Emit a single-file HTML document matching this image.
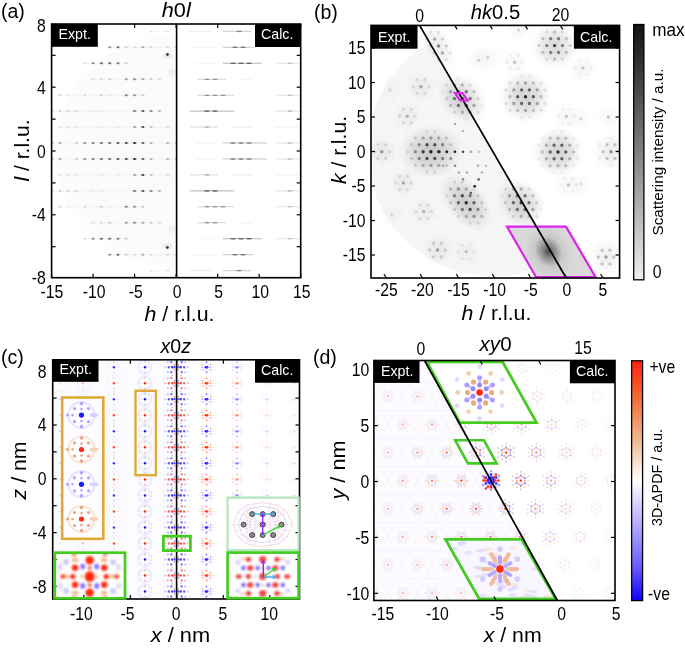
<!DOCTYPE html>
<html><head><meta charset="utf-8"><style>
html,body{margin:0;padding:0;background:#fff;}
svg{display:block;font-family:"Liberation Sans", sans-serif;will-change:transform;}
</style></head><body>
<svg width="685" height="649" viewBox="0 0 685 649">
<rect x="0" y="0" width="685" height="649" fill="#fff"/>
<clipPath id="ca"><rect x="51.6" y="24.0" width="249.1" height="253.7"/></clipPath>
<clipPath id="caL"><rect x="51.6" y="24.0" width="125.0" height="253.7"/></clipPath>
<g clip-path="url(#caL)">
<defs><radialGradient id="gda" cx="0.5" cy="0.5" r="0.5"><stop offset="0" stop-color="#fafafa"/><stop offset="0.93" stop-color="#fbfbfb"/><stop offset="1" stop-color="#fdfdfd"/></radialGradient></defs>
<ellipse cx="176.6" cy="151" rx="123" ry="117" fill="url(#gda)"/>
<line x1="106.7" y1="47.3" x2="179.2" y2="47.3" stroke="#000" stroke-opacity="0.03" stroke-width="1.2"/>
<ellipse cx="109.7" cy="47.3" rx="2.4" ry="1.2" fill="#000" fill-opacity="0.10"/>
<ellipse cx="109.7" cy="47.3" rx="1.2" ry="1.0" fill="#000" fill-opacity="0.36"/>
<ellipse cx="118.0" cy="47.3" rx="2.4" ry="1.2" fill="#000" fill-opacity="0.14"/>
<ellipse cx="118.0" cy="47.3" rx="1.2" ry="1.0" fill="#000" fill-opacity="0.50"/>
<ellipse cx="126.3" cy="47.3" rx="2.4" ry="1.2" fill="#000" fill-opacity="0.04"/>
<ellipse cx="126.3" cy="47.3" rx="1.2" ry="1.0" fill="#000" fill-opacity="0.14"/>
<ellipse cx="134.6" cy="47.3" rx="2.4" ry="1.2" fill="#000" fill-opacity="0.03"/>
<ellipse cx="134.6" cy="47.3" rx="1.2" ry="1.0" fill="#000" fill-opacity="0.09"/>
<ellipse cx="142.9" cy="47.3" rx="2.4" ry="1.2" fill="#000" fill-opacity="0.07"/>
<ellipse cx="142.9" cy="47.3" rx="1.2" ry="1.0" fill="#000" fill-opacity="0.27"/>
<ellipse cx="151.2" cy="47.3" rx="2.4" ry="1.2" fill="#000" fill-opacity="0.03"/>
<ellipse cx="151.2" cy="47.3" rx="1.2" ry="1.0" fill="#000" fill-opacity="0.09"/>
<ellipse cx="167.8" cy="47.3" rx="2.4" ry="1.2" fill="#000" fill-opacity="0.03"/>
<ellipse cx="167.8" cy="47.3" rx="1.2" ry="1.0" fill="#000" fill-opacity="0.11"/>
<ellipse cx="176.2" cy="47.3" rx="2.4" ry="1.2" fill="#000" fill-opacity="0.03"/>
<ellipse cx="176.2" cy="47.3" rx="1.2" ry="1.0" fill="#000" fill-opacity="0.09"/>
<line x1="106.7" y1="254.7" x2="179.2" y2="254.7" stroke="#000" stroke-opacity="0.03" stroke-width="1.2"/>
<ellipse cx="109.7" cy="254.7" rx="2.4" ry="1.2" fill="#000" fill-opacity="0.10"/>
<ellipse cx="109.7" cy="254.7" rx="1.2" ry="1.0" fill="#000" fill-opacity="0.36"/>
<ellipse cx="118.0" cy="254.7" rx="2.4" ry="1.2" fill="#000" fill-opacity="0.14"/>
<ellipse cx="118.0" cy="254.7" rx="1.2" ry="1.0" fill="#000" fill-opacity="0.50"/>
<ellipse cx="126.3" cy="254.7" rx="2.4" ry="1.2" fill="#000" fill-opacity="0.04"/>
<ellipse cx="126.3" cy="254.7" rx="1.2" ry="1.0" fill="#000" fill-opacity="0.14"/>
<ellipse cx="134.6" cy="254.7" rx="2.4" ry="1.2" fill="#000" fill-opacity="0.03"/>
<ellipse cx="134.6" cy="254.7" rx="1.2" ry="1.0" fill="#000" fill-opacity="0.09"/>
<ellipse cx="142.9" cy="254.7" rx="2.4" ry="1.2" fill="#000" fill-opacity="0.07"/>
<ellipse cx="142.9" cy="254.7" rx="1.2" ry="1.0" fill="#000" fill-opacity="0.27"/>
<ellipse cx="151.2" cy="254.7" rx="2.4" ry="1.2" fill="#000" fill-opacity="0.03"/>
<ellipse cx="151.2" cy="254.7" rx="1.2" ry="1.0" fill="#000" fill-opacity="0.09"/>
<ellipse cx="167.8" cy="254.7" rx="2.4" ry="1.2" fill="#000" fill-opacity="0.03"/>
<ellipse cx="167.8" cy="254.7" rx="1.2" ry="1.0" fill="#000" fill-opacity="0.11"/>
<ellipse cx="176.2" cy="254.7" rx="2.4" ry="1.2" fill="#000" fill-opacity="0.03"/>
<ellipse cx="176.2" cy="254.7" rx="1.2" ry="1.0" fill="#000" fill-opacity="0.09"/>
<line x1="81.8" y1="63.3" x2="129.3" y2="63.3" stroke="#000" stroke-opacity="0.03" stroke-width="1.2"/>
<ellipse cx="84.8" cy="63.3" rx="2.4" ry="1.2" fill="#000" fill-opacity="0.03"/>
<ellipse cx="84.8" cy="63.3" rx="1.2" ry="1.0" fill="#000" fill-opacity="0.09"/>
<ellipse cx="93.1" cy="63.3" rx="2.4" ry="1.2" fill="#000" fill-opacity="0.11"/>
<ellipse cx="93.1" cy="63.3" rx="1.2" ry="1.0" fill="#000" fill-opacity="0.41"/>
<ellipse cx="101.4" cy="63.3" rx="2.4" ry="1.2" fill="#000" fill-opacity="0.15"/>
<ellipse cx="101.4" cy="63.3" rx="1.2" ry="1.0" fill="#000" fill-opacity="0.54"/>
<ellipse cx="109.7" cy="63.3" rx="2.4" ry="1.2" fill="#000" fill-opacity="0.14"/>
<ellipse cx="109.7" cy="63.3" rx="1.2" ry="1.0" fill="#000" fill-opacity="0.50"/>
<ellipse cx="118.0" cy="63.3" rx="2.4" ry="1.2" fill="#000" fill-opacity="0.12"/>
<ellipse cx="118.0" cy="63.3" rx="1.2" ry="1.0" fill="#000" fill-opacity="0.45"/>
<ellipse cx="126.3" cy="63.3" rx="2.4" ry="1.2" fill="#000" fill-opacity="0.04"/>
<ellipse cx="126.3" cy="63.3" rx="1.2" ry="1.0" fill="#000" fill-opacity="0.14"/>
<line x1="81.8" y1="238.7" x2="129.3" y2="238.7" stroke="#000" stroke-opacity="0.03" stroke-width="1.2"/>
<ellipse cx="84.8" cy="238.7" rx="2.4" ry="1.2" fill="#000" fill-opacity="0.03"/>
<ellipse cx="84.8" cy="238.7" rx="1.2" ry="1.0" fill="#000" fill-opacity="0.09"/>
<ellipse cx="93.1" cy="238.7" rx="2.4" ry="1.2" fill="#000" fill-opacity="0.11"/>
<ellipse cx="93.1" cy="238.7" rx="1.2" ry="1.0" fill="#000" fill-opacity="0.41"/>
<ellipse cx="101.4" cy="238.7" rx="2.4" ry="1.2" fill="#000" fill-opacity="0.15"/>
<ellipse cx="101.4" cy="238.7" rx="1.2" ry="1.0" fill="#000" fill-opacity="0.54"/>
<ellipse cx="109.7" cy="238.7" rx="2.4" ry="1.2" fill="#000" fill-opacity="0.14"/>
<ellipse cx="109.7" cy="238.7" rx="1.2" ry="1.0" fill="#000" fill-opacity="0.50"/>
<ellipse cx="118.0" cy="238.7" rx="2.4" ry="1.2" fill="#000" fill-opacity="0.12"/>
<ellipse cx="118.0" cy="238.7" rx="1.2" ry="1.0" fill="#000" fill-opacity="0.45"/>
<ellipse cx="126.3" cy="238.7" rx="2.4" ry="1.2" fill="#000" fill-opacity="0.04"/>
<ellipse cx="126.3" cy="238.7" rx="1.2" ry="1.0" fill="#000" fill-opacity="0.14"/>
<line x1="90.1" y1="79.2" x2="162.5" y2="79.2" stroke="#000" stroke-opacity="0.03" stroke-width="1.2"/>
<ellipse cx="93.1" cy="79.2" rx="2.4" ry="1.2" fill="#000" fill-opacity="0.02"/>
<ellipse cx="93.1" cy="79.2" rx="1.2" ry="1.0" fill="#000" fill-opacity="0.07"/>
<ellipse cx="101.4" cy="79.2" rx="2.4" ry="1.2" fill="#000" fill-opacity="0.03"/>
<ellipse cx="101.4" cy="79.2" rx="1.2" ry="1.0" fill="#000" fill-opacity="0.11"/>
<ellipse cx="109.7" cy="79.2" rx="2.4" ry="1.2" fill="#000" fill-opacity="0.04"/>
<ellipse cx="109.7" cy="79.2" rx="1.2" ry="1.0" fill="#000" fill-opacity="0.14"/>
<ellipse cx="126.3" cy="79.2" rx="2.4" ry="1.2" fill="#000" fill-opacity="0.09"/>
<ellipse cx="126.3" cy="79.2" rx="1.2" ry="1.0" fill="#000" fill-opacity="0.32"/>
<ellipse cx="134.6" cy="79.2" rx="2.4" ry="1.2" fill="#000" fill-opacity="0.11"/>
<ellipse cx="134.6" cy="79.2" rx="1.2" ry="1.0" fill="#000" fill-opacity="0.41"/>
<ellipse cx="142.9" cy="79.2" rx="2.4" ry="1.2" fill="#000" fill-opacity="0.07"/>
<ellipse cx="142.9" cy="79.2" rx="1.2" ry="1.0" fill="#000" fill-opacity="0.27"/>
<ellipse cx="151.2" cy="79.2" rx="2.4" ry="1.2" fill="#000" fill-opacity="0.04"/>
<ellipse cx="151.2" cy="79.2" rx="1.2" ry="1.0" fill="#000" fill-opacity="0.14"/>
<ellipse cx="159.5" cy="79.2" rx="2.4" ry="1.2" fill="#000" fill-opacity="0.03"/>
<ellipse cx="159.5" cy="79.2" rx="1.2" ry="1.0" fill="#000" fill-opacity="0.09"/>
<line x1="90.1" y1="222.8" x2="162.5" y2="222.8" stroke="#000" stroke-opacity="0.03" stroke-width="1.2"/>
<ellipse cx="93.1" cy="222.8" rx="2.4" ry="1.2" fill="#000" fill-opacity="0.02"/>
<ellipse cx="93.1" cy="222.8" rx="1.2" ry="1.0" fill="#000" fill-opacity="0.07"/>
<ellipse cx="101.4" cy="222.8" rx="2.4" ry="1.2" fill="#000" fill-opacity="0.03"/>
<ellipse cx="101.4" cy="222.8" rx="1.2" ry="1.0" fill="#000" fill-opacity="0.11"/>
<ellipse cx="109.7" cy="222.8" rx="2.4" ry="1.2" fill="#000" fill-opacity="0.04"/>
<ellipse cx="109.7" cy="222.8" rx="1.2" ry="1.0" fill="#000" fill-opacity="0.14"/>
<ellipse cx="126.3" cy="222.8" rx="2.4" ry="1.2" fill="#000" fill-opacity="0.09"/>
<ellipse cx="126.3" cy="222.8" rx="1.2" ry="1.0" fill="#000" fill-opacity="0.32"/>
<ellipse cx="134.6" cy="222.8" rx="2.4" ry="1.2" fill="#000" fill-opacity="0.11"/>
<ellipse cx="134.6" cy="222.8" rx="1.2" ry="1.0" fill="#000" fill-opacity="0.41"/>
<ellipse cx="142.9" cy="222.8" rx="2.4" ry="1.2" fill="#000" fill-opacity="0.07"/>
<ellipse cx="142.9" cy="222.8" rx="1.2" ry="1.0" fill="#000" fill-opacity="0.27"/>
<ellipse cx="151.2" cy="222.8" rx="2.4" ry="1.2" fill="#000" fill-opacity="0.04"/>
<ellipse cx="151.2" cy="222.8" rx="1.2" ry="1.0" fill="#000" fill-opacity="0.14"/>
<ellipse cx="159.5" cy="222.8" rx="2.4" ry="1.2" fill="#000" fill-opacity="0.03"/>
<ellipse cx="159.5" cy="222.8" rx="1.2" ry="1.0" fill="#000" fill-opacity="0.09"/>
<line x1="56.9" y1="95.2" x2="145.9" y2="95.2" stroke="#000" stroke-opacity="0.03" stroke-width="1.2"/>
<ellipse cx="59.9" cy="95.2" rx="2.4" ry="1.2" fill="#000" fill-opacity="0.03"/>
<ellipse cx="59.9" cy="95.2" rx="1.2" ry="1.0" fill="#000" fill-opacity="0.11"/>
<ellipse cx="68.2" cy="95.2" rx="2.4" ry="1.2" fill="#000" fill-opacity="0.01"/>
<ellipse cx="68.2" cy="95.2" rx="1.2" ry="1.0" fill="#000" fill-opacity="0.05"/>
<ellipse cx="84.8" cy="95.2" rx="2.4" ry="1.2" fill="#000" fill-opacity="0.03"/>
<ellipse cx="84.8" cy="95.2" rx="1.2" ry="1.0" fill="#000" fill-opacity="0.09"/>
<ellipse cx="101.4" cy="95.2" rx="2.4" ry="1.2" fill="#000" fill-opacity="0.04"/>
<ellipse cx="101.4" cy="95.2" rx="1.2" ry="1.0" fill="#000" fill-opacity="0.14"/>
<ellipse cx="109.7" cy="95.2" rx="2.4" ry="1.2" fill="#000" fill-opacity="0.01"/>
<ellipse cx="109.7" cy="95.2" rx="1.2" ry="1.0" fill="#000" fill-opacity="0.05"/>
<ellipse cx="126.3" cy="95.2" rx="2.4" ry="1.2" fill="#000" fill-opacity="0.12"/>
<ellipse cx="126.3" cy="95.2" rx="1.2" ry="1.0" fill="#000" fill-opacity="0.45"/>
<ellipse cx="134.6" cy="95.2" rx="2.4" ry="1.2" fill="#000" fill-opacity="0.10"/>
<ellipse cx="134.6" cy="95.2" rx="1.2" ry="1.0" fill="#000" fill-opacity="0.36"/>
<ellipse cx="142.9" cy="95.2" rx="2.4" ry="1.2" fill="#000" fill-opacity="0.04"/>
<ellipse cx="142.9" cy="95.2" rx="1.2" ry="1.0" fill="#000" fill-opacity="0.14"/>
<line x1="56.9" y1="206.8" x2="145.9" y2="206.8" stroke="#000" stroke-opacity="0.03" stroke-width="1.2"/>
<ellipse cx="59.9" cy="206.8" rx="2.4" ry="1.2" fill="#000" fill-opacity="0.03"/>
<ellipse cx="59.9" cy="206.8" rx="1.2" ry="1.0" fill="#000" fill-opacity="0.11"/>
<ellipse cx="68.2" cy="206.8" rx="2.4" ry="1.2" fill="#000" fill-opacity="0.01"/>
<ellipse cx="68.2" cy="206.8" rx="1.2" ry="1.0" fill="#000" fill-opacity="0.05"/>
<ellipse cx="84.8" cy="206.8" rx="2.4" ry="1.2" fill="#000" fill-opacity="0.03"/>
<ellipse cx="84.8" cy="206.8" rx="1.2" ry="1.0" fill="#000" fill-opacity="0.09"/>
<ellipse cx="101.4" cy="206.8" rx="2.4" ry="1.2" fill="#000" fill-opacity="0.04"/>
<ellipse cx="101.4" cy="206.8" rx="1.2" ry="1.0" fill="#000" fill-opacity="0.14"/>
<ellipse cx="109.7" cy="206.8" rx="2.4" ry="1.2" fill="#000" fill-opacity="0.01"/>
<ellipse cx="109.7" cy="206.8" rx="1.2" ry="1.0" fill="#000" fill-opacity="0.05"/>
<ellipse cx="126.3" cy="206.8" rx="2.4" ry="1.2" fill="#000" fill-opacity="0.12"/>
<ellipse cx="126.3" cy="206.8" rx="1.2" ry="1.0" fill="#000" fill-opacity="0.45"/>
<ellipse cx="134.6" cy="206.8" rx="2.4" ry="1.2" fill="#000" fill-opacity="0.10"/>
<ellipse cx="134.6" cy="206.8" rx="1.2" ry="1.0" fill="#000" fill-opacity="0.36"/>
<ellipse cx="142.9" cy="206.8" rx="2.4" ry="1.2" fill="#000" fill-opacity="0.04"/>
<ellipse cx="142.9" cy="206.8" rx="1.2" ry="1.0" fill="#000" fill-opacity="0.14"/>
<line x1="48.6" y1="111.1" x2="162.5" y2="111.1" stroke="#000" stroke-opacity="0.03" stroke-width="1.2"/>
<ellipse cx="51.6" cy="111.1" rx="2.4" ry="1.2" fill="#000" fill-opacity="0.05"/>
<ellipse cx="51.6" cy="111.1" rx="1.2" ry="1.0" fill="#000" fill-opacity="0.18"/>
<ellipse cx="59.9" cy="111.1" rx="2.4" ry="1.2" fill="#000" fill-opacity="0.04"/>
<ellipse cx="59.9" cy="111.1" rx="1.2" ry="1.0" fill="#000" fill-opacity="0.16"/>
<ellipse cx="68.2" cy="111.1" rx="2.4" ry="1.2" fill="#000" fill-opacity="0.03"/>
<ellipse cx="68.2" cy="111.1" rx="1.2" ry="1.0" fill="#000" fill-opacity="0.11"/>
<ellipse cx="76.5" cy="111.1" rx="2.4" ry="1.2" fill="#000" fill-opacity="0.03"/>
<ellipse cx="76.5" cy="111.1" rx="1.2" ry="1.0" fill="#000" fill-opacity="0.11"/>
<ellipse cx="93.1" cy="111.1" rx="2.4" ry="1.2" fill="#000" fill-opacity="0.01"/>
<ellipse cx="93.1" cy="111.1" rx="1.2" ry="1.0" fill="#000" fill-opacity="0.05"/>
<ellipse cx="101.4" cy="111.1" rx="2.4" ry="1.2" fill="#000" fill-opacity="0.01"/>
<ellipse cx="101.4" cy="111.1" rx="1.2" ry="1.0" fill="#000" fill-opacity="0.05"/>
<ellipse cx="134.6" cy="111.1" rx="2.4" ry="1.2" fill="#000" fill-opacity="0.14"/>
<ellipse cx="134.6" cy="111.1" rx="1.2" ry="1.0" fill="#000" fill-opacity="0.50"/>
<ellipse cx="142.9" cy="111.1" rx="2.4" ry="1.2" fill="#000" fill-opacity="0.17"/>
<ellipse cx="142.9" cy="111.1" rx="1.2" ry="1.0" fill="#000" fill-opacity="0.63"/>
<ellipse cx="151.2" cy="111.1" rx="2.4" ry="1.2" fill="#000" fill-opacity="0.11"/>
<ellipse cx="151.2" cy="111.1" rx="1.2" ry="1.0" fill="#000" fill-opacity="0.41"/>
<ellipse cx="159.5" cy="111.1" rx="2.4" ry="1.2" fill="#000" fill-opacity="0.06"/>
<ellipse cx="159.5" cy="111.1" rx="1.2" ry="1.0" fill="#000" fill-opacity="0.23"/>
<line x1="48.6" y1="190.9" x2="162.5" y2="190.9" stroke="#000" stroke-opacity="0.03" stroke-width="1.2"/>
<ellipse cx="51.6" cy="190.9" rx="2.4" ry="1.2" fill="#000" fill-opacity="0.05"/>
<ellipse cx="51.6" cy="190.9" rx="1.2" ry="1.0" fill="#000" fill-opacity="0.18"/>
<ellipse cx="59.9" cy="190.9" rx="2.4" ry="1.2" fill="#000" fill-opacity="0.04"/>
<ellipse cx="59.9" cy="190.9" rx="1.2" ry="1.0" fill="#000" fill-opacity="0.16"/>
<ellipse cx="68.2" cy="190.9" rx="2.4" ry="1.2" fill="#000" fill-opacity="0.03"/>
<ellipse cx="68.2" cy="190.9" rx="1.2" ry="1.0" fill="#000" fill-opacity="0.11"/>
<ellipse cx="76.5" cy="190.9" rx="2.4" ry="1.2" fill="#000" fill-opacity="0.03"/>
<ellipse cx="76.5" cy="190.9" rx="1.2" ry="1.0" fill="#000" fill-opacity="0.11"/>
<ellipse cx="93.1" cy="190.9" rx="2.4" ry="1.2" fill="#000" fill-opacity="0.01"/>
<ellipse cx="93.1" cy="190.9" rx="1.2" ry="1.0" fill="#000" fill-opacity="0.05"/>
<ellipse cx="101.4" cy="190.9" rx="2.4" ry="1.2" fill="#000" fill-opacity="0.01"/>
<ellipse cx="101.4" cy="190.9" rx="1.2" ry="1.0" fill="#000" fill-opacity="0.05"/>
<ellipse cx="134.6" cy="190.9" rx="2.4" ry="1.2" fill="#000" fill-opacity="0.14"/>
<ellipse cx="134.6" cy="190.9" rx="1.2" ry="1.0" fill="#000" fill-opacity="0.50"/>
<ellipse cx="142.9" cy="190.9" rx="2.4" ry="1.2" fill="#000" fill-opacity="0.17"/>
<ellipse cx="142.9" cy="190.9" rx="1.2" ry="1.0" fill="#000" fill-opacity="0.63"/>
<ellipse cx="151.2" cy="190.9" rx="2.4" ry="1.2" fill="#000" fill-opacity="0.11"/>
<ellipse cx="151.2" cy="190.9" rx="1.2" ry="1.0" fill="#000" fill-opacity="0.41"/>
<ellipse cx="159.5" cy="190.9" rx="2.4" ry="1.2" fill="#000" fill-opacity="0.06"/>
<ellipse cx="159.5" cy="190.9" rx="1.2" ry="1.0" fill="#000" fill-opacity="0.23"/>
<line x1="56.9" y1="127.1" x2="170.8" y2="127.1" stroke="#000" stroke-opacity="0.03" stroke-width="1.2"/>
<ellipse cx="59.9" cy="127.1" rx="2.4" ry="1.2" fill="#000" fill-opacity="0.02"/>
<ellipse cx="59.9" cy="127.1" rx="1.2" ry="1.0" fill="#000" fill-opacity="0.07"/>
<ellipse cx="68.2" cy="127.1" rx="2.4" ry="1.2" fill="#000" fill-opacity="0.02"/>
<ellipse cx="68.2" cy="127.1" rx="1.2" ry="1.0" fill="#000" fill-opacity="0.07"/>
<ellipse cx="76.5" cy="127.1" rx="2.4" ry="1.2" fill="#000" fill-opacity="0.01"/>
<ellipse cx="76.5" cy="127.1" rx="1.2" ry="1.0" fill="#000" fill-opacity="0.05"/>
<ellipse cx="101.4" cy="127.1" rx="2.4" ry="1.2" fill="#000" fill-opacity="0.01"/>
<ellipse cx="101.4" cy="127.1" rx="1.2" ry="1.0" fill="#000" fill-opacity="0.05"/>
<ellipse cx="118.0" cy="127.1" rx="2.4" ry="1.2" fill="#000" fill-opacity="0.01"/>
<ellipse cx="118.0" cy="127.1" rx="1.2" ry="1.0" fill="#000" fill-opacity="0.05"/>
<ellipse cx="134.6" cy="127.1" rx="2.4" ry="1.2" fill="#000" fill-opacity="0.09"/>
<ellipse cx="134.6" cy="127.1" rx="1.2" ry="1.0" fill="#000" fill-opacity="0.32"/>
<ellipse cx="142.9" cy="127.1" rx="2.4" ry="1.2" fill="#000" fill-opacity="0.19"/>
<ellipse cx="142.9" cy="127.1" rx="1.2" ry="1.0" fill="#000" fill-opacity="0.68"/>
<ellipse cx="151.2" cy="127.1" rx="2.4" ry="1.2" fill="#000" fill-opacity="0.05"/>
<ellipse cx="151.2" cy="127.1" rx="1.2" ry="1.0" fill="#000" fill-opacity="0.18"/>
<ellipse cx="167.8" cy="127.1" rx="2.4" ry="1.2" fill="#000" fill-opacity="0.03"/>
<ellipse cx="167.8" cy="127.1" rx="1.2" ry="1.0" fill="#000" fill-opacity="0.09"/>
<line x1="56.9" y1="174.9" x2="170.8" y2="174.9" stroke="#000" stroke-opacity="0.03" stroke-width="1.2"/>
<ellipse cx="59.9" cy="174.9" rx="2.4" ry="1.2" fill="#000" fill-opacity="0.02"/>
<ellipse cx="59.9" cy="174.9" rx="1.2" ry="1.0" fill="#000" fill-opacity="0.07"/>
<ellipse cx="68.2" cy="174.9" rx="2.4" ry="1.2" fill="#000" fill-opacity="0.02"/>
<ellipse cx="68.2" cy="174.9" rx="1.2" ry="1.0" fill="#000" fill-opacity="0.07"/>
<ellipse cx="76.5" cy="174.9" rx="2.4" ry="1.2" fill="#000" fill-opacity="0.01"/>
<ellipse cx="76.5" cy="174.9" rx="1.2" ry="1.0" fill="#000" fill-opacity="0.05"/>
<ellipse cx="101.4" cy="174.9" rx="2.4" ry="1.2" fill="#000" fill-opacity="0.01"/>
<ellipse cx="101.4" cy="174.9" rx="1.2" ry="1.0" fill="#000" fill-opacity="0.05"/>
<ellipse cx="118.0" cy="174.9" rx="2.4" ry="1.2" fill="#000" fill-opacity="0.01"/>
<ellipse cx="118.0" cy="174.9" rx="1.2" ry="1.0" fill="#000" fill-opacity="0.05"/>
<ellipse cx="134.6" cy="174.9" rx="2.4" ry="1.2" fill="#000" fill-opacity="0.09"/>
<ellipse cx="134.6" cy="174.9" rx="1.2" ry="1.0" fill="#000" fill-opacity="0.32"/>
<ellipse cx="142.9" cy="174.9" rx="2.4" ry="1.2" fill="#000" fill-opacity="0.19"/>
<ellipse cx="142.9" cy="174.9" rx="1.2" ry="1.0" fill="#000" fill-opacity="0.68"/>
<ellipse cx="151.2" cy="174.9" rx="2.4" ry="1.2" fill="#000" fill-opacity="0.05"/>
<ellipse cx="151.2" cy="174.9" rx="1.2" ry="1.0" fill="#000" fill-opacity="0.18"/>
<ellipse cx="167.8" cy="174.9" rx="2.4" ry="1.2" fill="#000" fill-opacity="0.03"/>
<ellipse cx="167.8" cy="174.9" rx="1.2" ry="1.0" fill="#000" fill-opacity="0.09"/>
<line x1="48.6" y1="143.0" x2="179.2" y2="143.0" stroke="#000" stroke-opacity="0.03" stroke-width="1.2"/>
<ellipse cx="51.6" cy="143.0" rx="2.4" ry="1.2" fill="#000" fill-opacity="0.09"/>
<ellipse cx="51.6" cy="143.0" rx="1.2" ry="1.0" fill="#000" fill-opacity="0.32"/>
<ellipse cx="59.9" cy="143.0" rx="2.4" ry="1.2" fill="#000" fill-opacity="0.07"/>
<ellipse cx="59.9" cy="143.0" rx="1.2" ry="1.0" fill="#000" fill-opacity="0.27"/>
<ellipse cx="76.5" cy="143.0" rx="2.4" ry="1.2" fill="#000" fill-opacity="0.04"/>
<ellipse cx="76.5" cy="143.0" rx="1.2" ry="1.0" fill="#000" fill-opacity="0.14"/>
<ellipse cx="84.8" cy="143.0" rx="2.4" ry="1.2" fill="#000" fill-opacity="0.10"/>
<ellipse cx="84.8" cy="143.0" rx="1.2" ry="1.0" fill="#000" fill-opacity="0.36"/>
<ellipse cx="93.1" cy="143.0" rx="2.4" ry="1.2" fill="#000" fill-opacity="0.12"/>
<ellipse cx="93.1" cy="143.0" rx="1.2" ry="1.0" fill="#000" fill-opacity="0.45"/>
<ellipse cx="101.4" cy="143.0" rx="2.4" ry="1.2" fill="#000" fill-opacity="0.14"/>
<ellipse cx="101.4" cy="143.0" rx="1.2" ry="1.0" fill="#000" fill-opacity="0.50"/>
<ellipse cx="109.7" cy="143.0" rx="2.4" ry="1.2" fill="#000" fill-opacity="0.15"/>
<ellipse cx="109.7" cy="143.0" rx="1.2" ry="1.0" fill="#000" fill-opacity="0.54"/>
<ellipse cx="118.0" cy="143.0" rx="2.4" ry="1.2" fill="#000" fill-opacity="0.16"/>
<ellipse cx="118.0" cy="143.0" rx="1.2" ry="1.0" fill="#000" fill-opacity="0.59"/>
<ellipse cx="126.3" cy="143.0" rx="2.4" ry="1.2" fill="#000" fill-opacity="0.19"/>
<ellipse cx="126.3" cy="143.0" rx="1.2" ry="1.0" fill="#000" fill-opacity="0.68"/>
<ellipse cx="134.6" cy="143.0" rx="2.4" ry="1.2" fill="#000" fill-opacity="0.24"/>
<ellipse cx="134.6" cy="143.0" rx="1.2" ry="1.0" fill="#000" fill-opacity="0.85"/>
<ellipse cx="142.9" cy="143.0" rx="2.4" ry="1.2" fill="#000" fill-opacity="0.15"/>
<ellipse cx="142.9" cy="143.0" rx="1.2" ry="1.0" fill="#000" fill-opacity="0.54"/>
<ellipse cx="151.2" cy="143.0" rx="2.4" ry="1.2" fill="#000" fill-opacity="0.06"/>
<ellipse cx="151.2" cy="143.0" rx="1.2" ry="1.0" fill="#000" fill-opacity="0.23"/>
<ellipse cx="167.8" cy="143.0" rx="2.4" ry="1.2" fill="#000" fill-opacity="0.06"/>
<ellipse cx="167.8" cy="143.0" rx="1.2" ry="1.0" fill="#000" fill-opacity="0.23"/>
<ellipse cx="176.2" cy="143.0" rx="2.4" ry="1.2" fill="#000" fill-opacity="0.04"/>
<ellipse cx="176.2" cy="143.0" rx="1.2" ry="1.0" fill="#000" fill-opacity="0.14"/>
<line x1="48.6" y1="159.0" x2="179.2" y2="159.0" stroke="#000" stroke-opacity="0.03" stroke-width="1.2"/>
<ellipse cx="51.6" cy="159.0" rx="2.4" ry="1.2" fill="#000" fill-opacity="0.09"/>
<ellipse cx="51.6" cy="159.0" rx="1.2" ry="1.0" fill="#000" fill-opacity="0.32"/>
<ellipse cx="59.9" cy="159.0" rx="2.4" ry="1.2" fill="#000" fill-opacity="0.07"/>
<ellipse cx="59.9" cy="159.0" rx="1.2" ry="1.0" fill="#000" fill-opacity="0.27"/>
<ellipse cx="76.5" cy="159.0" rx="2.4" ry="1.2" fill="#000" fill-opacity="0.04"/>
<ellipse cx="76.5" cy="159.0" rx="1.2" ry="1.0" fill="#000" fill-opacity="0.14"/>
<ellipse cx="84.8" cy="159.0" rx="2.4" ry="1.2" fill="#000" fill-opacity="0.10"/>
<ellipse cx="84.8" cy="159.0" rx="1.2" ry="1.0" fill="#000" fill-opacity="0.36"/>
<ellipse cx="93.1" cy="159.0" rx="2.4" ry="1.2" fill="#000" fill-opacity="0.12"/>
<ellipse cx="93.1" cy="159.0" rx="1.2" ry="1.0" fill="#000" fill-opacity="0.45"/>
<ellipse cx="101.4" cy="159.0" rx="2.4" ry="1.2" fill="#000" fill-opacity="0.14"/>
<ellipse cx="101.4" cy="159.0" rx="1.2" ry="1.0" fill="#000" fill-opacity="0.50"/>
<ellipse cx="109.7" cy="159.0" rx="2.4" ry="1.2" fill="#000" fill-opacity="0.15"/>
<ellipse cx="109.7" cy="159.0" rx="1.2" ry="1.0" fill="#000" fill-opacity="0.54"/>
<ellipse cx="118.0" cy="159.0" rx="2.4" ry="1.2" fill="#000" fill-opacity="0.16"/>
<ellipse cx="118.0" cy="159.0" rx="1.2" ry="1.0" fill="#000" fill-opacity="0.59"/>
<ellipse cx="126.3" cy="159.0" rx="2.4" ry="1.2" fill="#000" fill-opacity="0.19"/>
<ellipse cx="126.3" cy="159.0" rx="1.2" ry="1.0" fill="#000" fill-opacity="0.68"/>
<ellipse cx="134.6" cy="159.0" rx="2.4" ry="1.2" fill="#000" fill-opacity="0.24"/>
<ellipse cx="134.6" cy="159.0" rx="1.2" ry="1.0" fill="#000" fill-opacity="0.85"/>
<ellipse cx="142.9" cy="159.0" rx="2.4" ry="1.2" fill="#000" fill-opacity="0.15"/>
<ellipse cx="142.9" cy="159.0" rx="1.2" ry="1.0" fill="#000" fill-opacity="0.54"/>
<ellipse cx="151.2" cy="159.0" rx="2.4" ry="1.2" fill="#000" fill-opacity="0.06"/>
<ellipse cx="151.2" cy="159.0" rx="1.2" ry="1.0" fill="#000" fill-opacity="0.23"/>
<ellipse cx="167.8" cy="159.0" rx="2.4" ry="1.2" fill="#000" fill-opacity="0.06"/>
<ellipse cx="167.8" cy="159.0" rx="1.2" ry="1.0" fill="#000" fill-opacity="0.23"/>
<ellipse cx="176.2" cy="159.0" rx="2.4" ry="1.2" fill="#000" fill-opacity="0.04"/>
<ellipse cx="176.2" cy="159.0" rx="1.2" ry="1.0" fill="#000" fill-opacity="0.14"/>
<line x1="148.2" y1="31.4" x2="170.8" y2="31.4" stroke="#000" stroke-opacity="0.03" stroke-width="1.2"/>
<ellipse cx="151.2" cy="31.4" rx="2.4" ry="1.2" fill="#000" fill-opacity="0.02"/>
<ellipse cx="151.2" cy="31.4" rx="1.2" ry="1.0" fill="#000" fill-opacity="0.07"/>
<ellipse cx="167.8" cy="31.4" rx="2.4" ry="1.2" fill="#000" fill-opacity="0.02"/>
<ellipse cx="167.8" cy="31.4" rx="1.2" ry="1.0" fill="#000" fill-opacity="0.07"/>
<line x1="148.2" y1="270.6" x2="170.8" y2="270.6" stroke="#000" stroke-opacity="0.03" stroke-width="1.2"/>
<ellipse cx="151.2" cy="270.6" rx="2.4" ry="1.2" fill="#000" fill-opacity="0.02"/>
<ellipse cx="151.2" cy="270.6" rx="1.2" ry="1.0" fill="#000" fill-opacity="0.07"/>
<ellipse cx="167.8" cy="270.6" rx="2.4" ry="1.2" fill="#000" fill-opacity="0.02"/>
<ellipse cx="167.8" cy="270.6" rx="1.2" ry="1.0" fill="#000" fill-opacity="0.07"/>
<ellipse cx="167.4" cy="54.5" rx="1.4" ry="1.4" fill="#000" fill-opacity="0.75"/>
<ellipse cx="167.8" cy="56.1" rx="5" ry="3" fill="#000" fill-opacity="0.06"/>
<ellipse cx="172.0" cy="72.8" rx="4" ry="4" fill="#000" fill-opacity="0.04"/>
<ellipse cx="167.4" cy="247.5" rx="1.4" ry="1.4" fill="#000" fill-opacity="0.75"/>
<ellipse cx="167.8" cy="245.9" rx="5" ry="3" fill="#000" fill-opacity="0.06"/>
<ellipse cx="172.0" cy="229.2" rx="4" ry="4" fill="#000" fill-opacity="0.04"/>
</g>
<g clip-path="url(#ca)">
<line x1="190" y1="31.4" x2="211" y2="31.4" stroke="#000" stroke-opacity="0.07" stroke-width="1.1"/>
<line x1="190" y1="270.6" x2="211" y2="270.6" stroke="#000" stroke-opacity="0.07" stroke-width="1.1"/>
<line x1="223" y1="31.4" x2="251" y2="31.4" stroke="#000" stroke-opacity="0.17" stroke-width="1.1"/>
<ellipse cx="239" cy="31.4" rx="3" ry="0.8" fill="#000" fill-opacity="0.35"/>
<line x1="223" y1="270.6" x2="251" y2="270.6" stroke="#000" stroke-opacity="0.17" stroke-width="1.1"/>
<ellipse cx="239" cy="270.6" rx="3" ry="0.8" fill="#000" fill-opacity="0.35"/>
<line x1="190" y1="47.3" x2="216" y2="47.3" stroke="#000" stroke-opacity="0.06" stroke-width="1.1"/>
<line x1="190" y1="254.7" x2="216" y2="254.7" stroke="#000" stroke-opacity="0.06" stroke-width="1.1"/>
<line x1="223" y1="47.3" x2="253" y2="47.3" stroke="#000" stroke-opacity="0.23" stroke-width="1.1"/>
<ellipse cx="235" cy="47.3" rx="3" ry="0.8" fill="#000" fill-opacity="0.45"/>
<ellipse cx="243" cy="47.3" rx="3" ry="0.8" fill="#000" fill-opacity="0.45"/>
<line x1="223" y1="254.7" x2="253" y2="254.7" stroke="#000" stroke-opacity="0.23" stroke-width="1.1"/>
<ellipse cx="235" cy="254.7" rx="3" ry="0.8" fill="#000" fill-opacity="0.45"/>
<ellipse cx="243" cy="254.7" rx="3" ry="0.8" fill="#000" fill-opacity="0.45"/>
<line x1="196" y1="63.3" x2="216" y2="63.3" stroke="#000" stroke-opacity="0.05" stroke-width="1.1"/>
<line x1="196" y1="238.7" x2="216" y2="238.7" stroke="#000" stroke-opacity="0.05" stroke-width="1.1"/>
<line x1="223" y1="63.3" x2="262" y2="63.3" stroke="#000" stroke-opacity="0.28" stroke-width="1.1"/>
<ellipse cx="233" cy="63.3" rx="3" ry="0.8" fill="#000" fill-opacity="0.55"/>
<ellipse cx="241" cy="63.3" rx="3" ry="0.8" fill="#000" fill-opacity="0.55"/>
<ellipse cx="249" cy="63.3" rx="3" ry="0.8" fill="#000" fill-opacity="0.55"/>
<line x1="223" y1="238.7" x2="262" y2="238.7" stroke="#000" stroke-opacity="0.28" stroke-width="1.1"/>
<ellipse cx="233" cy="238.7" rx="3" ry="0.8" fill="#000" fill-opacity="0.55"/>
<ellipse cx="241" cy="238.7" rx="3" ry="0.8" fill="#000" fill-opacity="0.55"/>
<ellipse cx="249" cy="238.7" rx="3" ry="0.8" fill="#000" fill-opacity="0.55"/>
<line x1="275" y1="63.3" x2="300" y2="63.3" stroke="#000" stroke-opacity="0.10" stroke-width="1.1"/>
<ellipse cx="290" cy="63.3" rx="3" ry="0.8" fill="#000" fill-opacity="0.20"/>
<line x1="275" y1="238.7" x2="300" y2="238.7" stroke="#000" stroke-opacity="0.10" stroke-width="1.1"/>
<ellipse cx="290" cy="238.7" rx="3" ry="0.8" fill="#000" fill-opacity="0.20"/>
<line x1="197" y1="79.2" x2="226" y2="79.2" stroke="#000" stroke-opacity="0.17" stroke-width="1.1"/>
<ellipse cx="207" cy="79.2" rx="3" ry="0.8" fill="#000" fill-opacity="0.35"/>
<ellipse cx="215" cy="79.2" rx="3" ry="0.8" fill="#000" fill-opacity="0.35"/>
<line x1="197" y1="222.8" x2="226" y2="222.8" stroke="#000" stroke-opacity="0.17" stroke-width="1.1"/>
<ellipse cx="207" cy="222.8" rx="3" ry="0.8" fill="#000" fill-opacity="0.35"/>
<ellipse cx="215" cy="222.8" rx="3" ry="0.8" fill="#000" fill-opacity="0.35"/>
<line x1="239" y1="79.2" x2="252" y2="79.2" stroke="#000" stroke-opacity="0.06" stroke-width="1.1"/>
<line x1="239" y1="222.8" x2="252" y2="222.8" stroke="#000" stroke-opacity="0.06" stroke-width="1.1"/>
<line x1="197" y1="95.2" x2="234" y2="95.2" stroke="#000" stroke-opacity="0.17" stroke-width="1.1"/>
<ellipse cx="207" cy="95.2" rx="3" ry="0.8" fill="#000" fill-opacity="0.35"/>
<ellipse cx="215" cy="95.2" rx="3" ry="0.8" fill="#000" fill-opacity="0.35"/>
<ellipse cx="223" cy="95.2" rx="3" ry="0.8" fill="#000" fill-opacity="0.35"/>
<line x1="197" y1="206.8" x2="234" y2="206.8" stroke="#000" stroke-opacity="0.17" stroke-width="1.1"/>
<ellipse cx="207" cy="206.8" rx="3" ry="0.8" fill="#000" fill-opacity="0.35"/>
<ellipse cx="215" cy="206.8" rx="3" ry="0.8" fill="#000" fill-opacity="0.35"/>
<ellipse cx="223" cy="206.8" rx="3" ry="0.8" fill="#000" fill-opacity="0.35"/>
<line x1="275" y1="95.2" x2="300" y2="95.2" stroke="#000" stroke-opacity="0.10" stroke-width="1.1"/>
<ellipse cx="290" cy="95.2" rx="3" ry="0.8" fill="#000" fill-opacity="0.20"/>
<line x1="275" y1="206.8" x2="300" y2="206.8" stroke="#000" stroke-opacity="0.10" stroke-width="1.1"/>
<ellipse cx="290" cy="206.8" rx="3" ry="0.8" fill="#000" fill-opacity="0.20"/>
<line x1="190" y1="111.1" x2="234" y2="111.1" stroke="#000" stroke-opacity="0.25" stroke-width="1.1"/>
<ellipse cx="207" cy="111.1" rx="3" ry="0.8" fill="#000" fill-opacity="0.50"/>
<ellipse cx="215" cy="111.1" rx="3" ry="0.8" fill="#000" fill-opacity="0.50"/>
<line x1="190" y1="190.9" x2="234" y2="190.9" stroke="#000" stroke-opacity="0.25" stroke-width="1.1"/>
<ellipse cx="207" cy="190.9" rx="3" ry="0.8" fill="#000" fill-opacity="0.50"/>
<ellipse cx="215" cy="190.9" rx="3" ry="0.8" fill="#000" fill-opacity="0.50"/>
<line x1="275" y1="111.1" x2="300" y2="111.1" stroke="#000" stroke-opacity="0.10" stroke-width="1.1"/>
<ellipse cx="290" cy="111.1" rx="3" ry="0.8" fill="#000" fill-opacity="0.20"/>
<line x1="275" y1="190.9" x2="300" y2="190.9" stroke="#000" stroke-opacity="0.10" stroke-width="1.1"/>
<ellipse cx="290" cy="190.9" rx="3" ry="0.8" fill="#000" fill-opacity="0.20"/>
<line x1="190" y1="127.1" x2="218" y2="127.1" stroke="#000" stroke-opacity="0.11" stroke-width="1.1"/>
<ellipse cx="207" cy="127.1" rx="3" ry="0.8" fill="#000" fill-opacity="0.22"/>
<line x1="190" y1="174.9" x2="218" y2="174.9" stroke="#000" stroke-opacity="0.11" stroke-width="1.1"/>
<ellipse cx="207" cy="174.9" rx="3" ry="0.8" fill="#000" fill-opacity="0.22"/>
<line x1="231" y1="127.1" x2="252" y2="127.1" stroke="#000" stroke-opacity="0.07" stroke-width="1.1"/>
<line x1="231" y1="174.9" x2="252" y2="174.9" stroke="#000" stroke-opacity="0.07" stroke-width="1.1"/>
<line x1="275" y1="127.1" x2="300" y2="127.1" stroke="#000" stroke-opacity="0.05" stroke-width="1.1"/>
<line x1="275" y1="174.9" x2="300" y2="174.9" stroke="#000" stroke-opacity="0.05" stroke-width="1.1"/>
<line x1="196" y1="143.0" x2="216" y2="143.0" stroke="#000" stroke-opacity="0.06" stroke-width="1.1"/>
<line x1="196" y1="159.0" x2="216" y2="159.0" stroke="#000" stroke-opacity="0.06" stroke-width="1.1"/>
<line x1="223" y1="143.0" x2="267" y2="143.0" stroke="#000" stroke-opacity="0.23" stroke-width="1.1"/>
<ellipse cx="233" cy="143.0" rx="3" ry="0.8" fill="#000" fill-opacity="0.45"/>
<ellipse cx="241" cy="143.0" rx="3" ry="0.8" fill="#000" fill-opacity="0.45"/>
<ellipse cx="249" cy="143.0" rx="3" ry="0.8" fill="#000" fill-opacity="0.45"/>
<line x1="223" y1="159.0" x2="267" y2="159.0" stroke="#000" stroke-opacity="0.23" stroke-width="1.1"/>
<ellipse cx="233" cy="159.0" rx="3" ry="0.8" fill="#000" fill-opacity="0.45"/>
<ellipse cx="241" cy="159.0" rx="3" ry="0.8" fill="#000" fill-opacity="0.45"/>
<ellipse cx="249" cy="159.0" rx="3" ry="0.8" fill="#000" fill-opacity="0.45"/>
<line x1="275" y1="143.0" x2="300" y2="143.0" stroke="#000" stroke-opacity="0.11" stroke-width="1.1"/>
<ellipse cx="290" cy="143.0" rx="3" ry="0.8" fill="#000" fill-opacity="0.22"/>
<line x1="275" y1="159.0" x2="300" y2="159.0" stroke="#000" stroke-opacity="0.11" stroke-width="1.1"/>
<ellipse cx="290" cy="159.0" rx="3" ry="0.8" fill="#000" fill-opacity="0.22"/>
</g>
<defs><radialGradient id="gbh" cx="0.5" cy="0.5" r="0.5"><stop offset="0" stop-color="#000" stop-opacity="0.24"/><stop offset="0.45" stop-color="#000" stop-opacity="0.15"/><stop offset="0.8" stop-color="#000" stop-opacity="0.04"/><stop offset="1" stop-color="#000" stop-opacity="0"/></radialGradient><radialGradient id="gbd" cx="0.5" cy="0.5" r="0.5"><stop offset="0" stop-color="#f5f5f5"/><stop offset="0.985" stop-color="#f6f6f6"/><stop offset="1" stop-color="#f8f8f8"/></radialGradient><radialGradient id="gbm" cx="0.5" cy="0.5" r="0.5"><stop offset="0" stop-color="#000" stop-opacity="0.6"/><stop offset="0.4" stop-color="#000" stop-opacity="0.3"/><stop offset="1" stop-color="#000" stop-opacity="0"/></radialGradient><filter id="fb1" x="-10%" y="-10%" width="120%" height="120%"><feGaussianBlur stdDeviation="0.6"/></filter></defs>
<clipPath id="cb"><rect x="371.0" y="25.0" width="248.6" height="253.0"/></clipPath>
<clipPath id="cbL"><polygon points="371.0,25.0 419.6,25.0 566.2,278.0 371.0,278.0"/></clipPath>
<g clip-path="url(#cb)">
<g clip-path="url(#cbL)"><circle cx="493.4" cy="150.7" r="126" fill="url(#gbd)"/>
<circle cx="493.4" cy="150.7" r="112" fill="none" stroke="#000" stroke-opacity="0.008" stroke-width="3"/>
<circle cx="493.4" cy="150.7" r="100" fill="none" stroke="#000" stroke-opacity="0.008" stroke-width="3"/>
<circle cx="493.4" cy="150.7" r="88" fill="none" stroke="#000" stroke-opacity="0.008" stroke-width="3"/>
</g>
<g filter="url(#fb1)">
<circle cx="554.6" cy="45.6" r="23.8" fill="url(#gbh)" fill-opacity="0.64"/>
<circle cx="525.5" cy="96.7" r="26.6" fill="url(#gbh)" fill-opacity="0.77"/>
<circle cx="558.0" cy="152.0" r="25.6" fill="url(#gbh)" fill-opacity="0.77"/>
<ellipse cx="521.2" cy="202.7" rx="22.7" ry="27.2" fill="url(#gbh)" fill-opacity="0.72" transform="rotate(-45 521.2 202.7)"/>
<circle cx="611.0" cy="151.7" r="20.4" fill="url(#gbh)" fill-opacity="0.30"/>
<circle cx="606.0" cy="257.0" r="18.7" fill="url(#gbh)" fill-opacity="0.28"/>
<ellipse cx="438.5" cy="46.0" rx="14.0" ry="27.1" fill="url(#gbh)" fill-opacity="0.33" transform="rotate(-30 438.5 46.0)"/>
<ellipse cx="462.3" cy="98.6" rx="22.2" ry="28.4" fill="url(#gbh)" fill-opacity="0.72" transform="rotate(-42 462.3 98.6)"/>
<ellipse cx="430.9" cy="151.7" rx="32.8" ry="27.1" fill="url(#gbh)" fill-opacity="0.81" transform="rotate(0 430.9 151.7)"/>
<ellipse cx="466.2" cy="202.7" rx="20.0" ry="34.6" fill="url(#gbh)" fill-opacity="0.77" transform="rotate(-40 466.2 202.7)"/>
<circle cx="514.6" cy="62.2" r="15.3" fill="url(#gbh)" fill-opacity="0.14"/>
<circle cx="518.5" cy="30.0" r="13.6" fill="url(#gbh)" fill-opacity="0.11"/>
<circle cx="583.0" cy="68.0" r="15.3" fill="url(#gbh)" fill-opacity="0.16"/>
<circle cx="566.4" cy="116.3" r="15.3" fill="url(#gbh)" fill-opacity="0.14"/>
<circle cx="581.0" cy="119.0" r="13.6" fill="url(#gbh)" fill-opacity="0.11"/>
<circle cx="608.5" cy="117.0" r="13.6" fill="url(#gbh)" fill-opacity="0.14"/>
<circle cx="568.4" cy="185.0" r="15.3" fill="url(#gbh)" fill-opacity="0.14"/>
<circle cx="581.0" cy="184.3" r="13.6" fill="url(#gbh)" fill-opacity="0.09"/>
<circle cx="407.3" cy="116.3" r="15.3" fill="url(#gbh)" fill-opacity="0.20"/>
<circle cx="421.0" cy="86.8" r="15.3" fill="url(#gbh)" fill-opacity="0.21"/>
<circle cx="403.4" cy="183.0" r="15.3" fill="url(#gbh)" fill-opacity="0.21"/>
<circle cx="423.8" cy="211.6" r="15.3" fill="url(#gbh)" fill-opacity="0.18"/>
<circle cx="437.5" cy="250.0" r="17.0" fill="url(#gbh)" fill-opacity="0.25"/>
<circle cx="466.2" cy="251.8" r="15.3" fill="url(#gbh)" fill-opacity="0.14"/>
<circle cx="381.8" cy="151.7" r="15.3" fill="url(#gbh)" fill-opacity="0.25"/>
<circle cx="487.8" cy="57.4" r="15.3" fill="url(#gbh)" fill-opacity="0.13"/>
<circle cx="478.6" cy="60.2" r="13.6" fill="url(#gbh)" fill-opacity="0.11"/>
<circle cx="390.0" cy="90.0" r="13.6" fill="url(#gbh)" fill-opacity="0.09"/>
<circle cx="392.0" cy="215.0" r="13.6" fill="url(#gbh)" fill-opacity="0.09"/>
<path d="M546.8 31.9h0M562.4 31.9h0M546.8 59.3h0M562.4 59.3h0M509.9 83.0h0M541.1 83.0h0M506.0 89.9h0M545.0 89.9h0M506.0 103.5h0M545.0 103.5h0M509.9 110.4h0M541.1 110.4h0M505.6 189.0h0M529.0 189.0h0M513.4 216.4h0M536.8 216.4h0M430.7 32.3h0M438.5 32.3h0M426.8 39.1h0M450.2 52.9h0M438.5 59.7h0M446.3 59.7h0M446.7 84.9h0M470.1 84.9h0M454.5 112.3h0M477.9 112.3h0M427.0 131.1h0M434.8 131.1h0M407.5 151.7h0M454.3 151.7h0M427.0 172.2h0M434.8 172.2h0M454.5 182.1h0M462.3 182.1h0M474.0 189.0h0M446.7 195.8h0M485.7 209.5h0M458.4 216.4h0M470.1 223.2h0M477.9 223.2h0M581.0 184.3h0M403.4 109.5h0M411.2 109.5h0M399.5 116.3h0M415.1 116.3h0M403.4 123.1h0M411.2 123.1h0M417.1 80.0h0M424.9 80.0h0M413.2 86.8h0M428.8 86.8h0M417.1 93.6h0M424.9 93.6h0M399.5 176.2h0M407.3 176.2h0M395.6 183.0h0M411.2 183.0h0M399.5 189.8h0M407.3 189.8h0M419.9 204.8h0M427.7 204.8h0M416.0 211.6h0M431.6 211.6h0M419.9 218.4h0M427.7 218.4h0M377.9 144.8h0M385.7 144.8h0M374.0 151.7h0M389.6 151.7h0M377.9 158.5h0M385.7 158.5h0M390.0 90.0h0M392.0 215.0h0" fill="none" stroke="#000" stroke-width="3.4" stroke-linecap="round" stroke-opacity="0.1"/>
<path d="M554.6 31.9h0M542.9 38.8h0M566.3 38.8h0M542.9 52.5h0M566.3 52.5h0M554.6 59.3h0M517.7 83.0h0M533.3 83.0h0M509.9 96.7h0M541.1 96.7h0M517.7 110.4h0M533.3 110.4h0M550.2 138.3h0M565.8 138.3h0M542.4 152.0h0M573.6 152.0h0M550.2 165.7h0M565.8 165.7h0M513.4 189.0h0M532.9 195.8h0M509.5 209.5h0M529.0 216.4h0M607.1 144.8h0M614.9 144.8h0M603.2 151.7h0M618.8 151.7h0M607.1 158.5h0M614.9 158.5h0M602.1 250.2h0M609.9 250.2h0M598.2 257.0h0M613.8 257.0h0M602.1 263.9h0M609.9 263.9h0M454.5 84.9h0M474.0 91.8h0M450.6 105.4h0M470.1 112.3h0M450.6 189.0h0M481.8 216.4h0M514.6 62.2h0M583.0 68.0h0M566.4 116.3h0M608.5 117.0h0M568.4 185.0h0M466.2 251.8h0" fill="none" stroke="#000" stroke-width="3.4" stroke-linecap="round" stroke-opacity="0.2"/>
<path d="M550.7 38.8h0M558.5 38.8h0M546.8 45.6h0M562.4 45.6h0M550.7 52.5h0M558.5 52.5h0M438.5 46.0h0M470.1 195.8h0M462.3 209.5h0" fill="none" stroke="#000" stroke-width="3.4" stroke-linecap="round" stroke-opacity="0.45"/>
<path d="M539.0 45.6h0M570.2 45.6h0M505.6 202.7h0M536.8 202.7h0M442.4 39.1h0M430.7 46.0h0M446.3 46.0h0M434.6 52.9h0M446.7 98.6h0M477.9 98.6h0M415.3 138.0h0M446.5 138.0h0M411.4 144.8h0M450.4 144.8h0M411.4 158.5h0M450.4 158.5h0M415.3 165.4h0M446.5 165.4h0M477.9 195.8h0M450.6 202.7h0M481.8 202.7h0M454.5 209.5h0M518.5 30.0h0M581.0 119.0h0M433.6 243.2h0M441.4 243.2h0M429.7 250.0h0M445.3 250.0h0M433.6 256.9h0M441.4 256.9h0M487.8 57.4h0M478.6 60.2h0" fill="none" stroke="#000" stroke-width="3.4" stroke-linecap="round" stroke-opacity="0.15"/>
<path d="M554.6 45.6h0M423.1 151.7h0M438.7 151.7h0" fill="none" stroke="#000" stroke-width="3.4" stroke-linecap="round" stroke-opacity="0.7"/>
<path d="M521.6 76.2h0M529.4 76.2h0M521.6 117.2h0M529.4 117.2h0M554.1 131.4h0M561.9 131.4h0M542.4 138.3h0M573.6 138.3h0M538.5 145.2h0M577.5 145.2h0M538.5 158.8h0M577.5 158.8h0M542.4 165.7h0M573.6 165.7h0M554.1 172.6h0M561.9 172.6h0M501.7 195.8h0M540.7 209.5h0M611.0 138.0h0M599.3 144.8h0M622.7 144.8h0M599.3 158.5h0M622.7 158.5h0M611.0 165.4h0M458.4 78.0h0M442.8 91.8h0M481.8 105.4h0M466.2 119.1h0M510.7 55.4h0M518.5 55.4h0M506.8 62.2h0M522.4 62.2h0M510.7 69.0h0M518.5 69.0h0M579.1 61.1h0M586.9 61.1h0M575.2 68.0h0M590.8 68.0h0M579.1 74.8h0M586.9 74.8h0M562.5 109.5h0M570.3 109.5h0M558.6 116.3h0M574.2 116.3h0M562.5 123.1h0M570.3 123.1h0M564.5 178.2h0M572.3 178.2h0M560.6 185.0h0M576.2 185.0h0M564.5 191.8h0M572.3 191.8h0M462.3 245.0h0M470.1 245.0h0M458.4 251.8h0M474.0 251.8h0M462.3 258.7h0M470.1 258.7h0" fill="none" stroke="#000" stroke-width="3.4" stroke-linecap="round" stroke-opacity="0.05"/>
<path d="M525.5 83.0h0M513.8 89.9h0M537.2 89.9h0M513.8 103.5h0M537.2 103.5h0M525.5 110.4h0M509.5 195.8h0M532.9 209.5h0M434.6 39.1h0M442.4 52.9h0M450.6 91.8h0M474.0 105.4h0M430.9 138.0h0M430.9 165.4h0M421.0 86.8h0M403.4 183.0h0" fill="none" stroke="#000" stroke-width="3.4" stroke-linecap="round" stroke-opacity="0.3"/>
<path d="M521.6 89.9h0M529.4 89.9h0M521.6 103.5h0M529.4 103.5h0M554.1 145.2h0M561.9 145.2h0M550.2 152.0h0M565.8 152.0h0M554.1 158.8h0M561.9 158.8h0M517.3 195.8h0M525.1 209.5h0M458.4 91.8h0M466.2 105.4h0M458.4 202.7h0M474.0 202.7h0" fill="none" stroke="#000" stroke-width="3.4" stroke-linecap="round" stroke-opacity="0.55"/>
<path d="M517.7 96.7h0M533.3 96.7h0" fill="none" stroke="#000" stroke-width="3.4" stroke-linecap="round" stroke-opacity="0.6"/>
<path d="M525.5 96.7h0M558.0 152.0h0M466.2 202.7h0" fill="none" stroke="#000" stroke-width="3.4" stroke-linecap="round" stroke-opacity="0.8"/>
<path d="M558.0 138.3h0M546.3 145.2h0M569.7 145.2h0M546.3 158.8h0M569.7 158.8h0M558.0 165.7h0M521.2 189.0h0M521.2 216.4h0M462.3 84.9h0M462.3 112.3h0M423.1 138.0h0M438.7 138.0h0M423.1 165.4h0M438.7 165.4h0M466.2 189.0h0M466.2 216.4h0M407.3 116.3h0M423.8 211.6h0" fill="none" stroke="#000" stroke-width="3.4" stroke-linecap="round" stroke-opacity="0.25"/>
<path d="M525.1 195.8h0M513.4 202.7h0M529.0 202.7h0M517.3 209.5h0M466.2 91.8h0M454.5 98.6h0M470.1 98.6h0M458.4 105.4h0" fill="none" stroke="#000" stroke-width="3.4" stroke-linecap="round" stroke-opacity="0.5"/>
<path d="M521.2 202.7h0M462.3 98.6h0" fill="none" stroke="#000" stroke-width="3.4" stroke-linecap="round" stroke-opacity="0.75"/>
<path d="M611.0 151.7h0M419.2 144.8h0M442.6 144.8h0M419.2 158.5h0M442.6 158.5h0M454.5 195.8h0M477.9 209.5h0" fill="none" stroke="#000" stroke-width="3.4" stroke-linecap="round" stroke-opacity="0.4"/>
<path d="M606.0 257.0h0M415.3 151.7h0M446.5 151.7h0M458.4 189.0h0M474.0 216.4h0M437.5 250.0h0M381.8 151.7h0" fill="none" stroke="#000" stroke-width="3.4" stroke-linecap="round" stroke-opacity="0.35"/>
<path d="M427.0 144.8h0M434.8 144.8h0M427.0 158.5h0M434.8 158.5h0M462.3 195.8h0M470.1 209.5h0" fill="none" stroke="#000" stroke-width="3.4" stroke-linecap="round" stroke-opacity="0.65"/>
<path d="M430.9 151.7h0" fill="none" stroke="#000" stroke-width="3.4" stroke-linecap="round" stroke-opacity="0.85"/>
</g>
<circle cx="447" cy="151.7" r="1.3" fill="#000" fill-opacity="0.8"/>
<circle cx="455" cy="151.7" r="1.3" fill="#000" fill-opacity="0.85"/>
<circle cx="463" cy="151.7" r="1.3" fill="#000" fill-opacity="0.7"/>
<circle cx="439.5" cy="151.7" r="1.3" fill="#000" fill-opacity="0.6"/>
<circle cx="471" cy="151.7" r="1.3" fill="#000" fill-opacity="0.35"/>
<circle cx="479" cy="151.7" r="1.3" fill="#000" fill-opacity="0.2"/>
<circle cx="474.7" cy="186.2" r="1.3" fill="#000" fill-opacity="0.9"/>
<circle cx="470.8" cy="193" r="1.3" fill="#000" fill-opacity="0.6"/>
<circle cx="478.6" cy="179.4" r="1.3" fill="#000" fill-opacity="0.6"/>
<circle cx="463" cy="179.4" r="1.3" fill="#000" fill-opacity="0.4"/>
<circle cx="455" cy="165.7" r="1.3" fill="#000" fill-opacity="0.45"/>
<circle cx="459" cy="172.5" r="1.3" fill="#000" fill-opacity="0.3"/>
<circle cx="467" cy="172.5" r="1.3" fill="#000" fill-opacity="0.3"/>
<circle cx="451" cy="158.6" r="1.3" fill="#000" fill-opacity="0.3"/>
<circle cx="482" cy="172.5" r="1.3" fill="#000" fill-opacity="0.25"/>
<circle cx="486" cy="165.7" r="1.3" fill="#000" fill-opacity="0.2"/>
<circle cx="443" cy="165.7" r="1.3" fill="#000" fill-opacity="0.25"/>
<circle cx="455" cy="124" r="1.3" fill="#000" fill-opacity="0.3"/>
<circle cx="463" cy="131" r="1.3" fill="#000" fill-opacity="0.25"/>
<circle cx="478" cy="165.7" r="1.3" fill="#000" fill-opacity="0.3"/>
<polygon points="507.00,226.60 566.00,226.60 595.50,277.00 536.00,277.00" fill="#d9d9d9" stroke="none" stroke-width="0"/>
<clipPath id="cbm"><polygon points="507,226.6 566,226.6 595.5,277 536,277"/></clipPath>
<g clip-path="url(#cbm)"><ellipse cx="548.5" cy="251.5" rx="13" ry="16" transform="rotate(-30 548.5 251.5)" fill="url(#gbm)"/><ellipse cx="548.5" cy="251.5" rx="24" ry="30" transform="rotate(-30 548.5 251.5)" fill="url(#gbh)" fill-opacity="0.6"/></g>
</g>
<clipPath id="cc"><rect x="52.7" y="359.8" width="246.8" height="239.2"/></clipPath>
<g clip-path="url(#cc)">
<rect x="52.7" y="359.8" width="123.9" height="239.2" fill="#fcfcff"/>
<circle cx="60.0" cy="367.2" r="8" fill="none" stroke="#b8b0ff" stroke-opacity="0.07" stroke-width="1.2"/>
<circle cx="83.0" cy="367.2" r="8" fill="none" stroke="#b8b0ff" stroke-opacity="0.07" stroke-width="1.2"/>
<circle cx="113.9" cy="367.2" r="8" fill="none" stroke="#b8b0ff" stroke-opacity="0.07" stroke-width="1.2"/>
<circle cx="145.0" cy="367.2" r="8" fill="none" stroke="#b8b0ff" stroke-opacity="0.07" stroke-width="1.2"/>
<circle cx="60.0" cy="399.2" r="8" fill="none" stroke="#b8b0ff" stroke-opacity="0.07" stroke-width="1.2"/>
<circle cx="83.0" cy="399.2" r="8" fill="none" stroke="#b8b0ff" stroke-opacity="0.07" stroke-width="1.2"/>
<circle cx="113.9" cy="399.2" r="8" fill="none" stroke="#b8b0ff" stroke-opacity="0.07" stroke-width="1.2"/>
<circle cx="145.0" cy="399.2" r="8" fill="none" stroke="#b8b0ff" stroke-opacity="0.07" stroke-width="1.2"/>
<circle cx="60.0" cy="431.3" r="8" fill="none" stroke="#b8b0ff" stroke-opacity="0.07" stroke-width="1.2"/>
<circle cx="83.0" cy="431.3" r="8" fill="none" stroke="#b8b0ff" stroke-opacity="0.07" stroke-width="1.2"/>
<circle cx="113.9" cy="431.3" r="8" fill="none" stroke="#b8b0ff" stroke-opacity="0.07" stroke-width="1.2"/>
<circle cx="145.0" cy="431.3" r="8" fill="none" stroke="#b8b0ff" stroke-opacity="0.07" stroke-width="1.2"/>
<circle cx="60.0" cy="463.3" r="8" fill="none" stroke="#b8b0ff" stroke-opacity="0.07" stroke-width="1.2"/>
<circle cx="83.0" cy="463.3" r="8" fill="none" stroke="#b8b0ff" stroke-opacity="0.07" stroke-width="1.2"/>
<circle cx="113.9" cy="463.3" r="8" fill="none" stroke="#b8b0ff" stroke-opacity="0.07" stroke-width="1.2"/>
<circle cx="145.0" cy="463.3" r="8" fill="none" stroke="#b8b0ff" stroke-opacity="0.07" stroke-width="1.2"/>
<circle cx="60.0" cy="495.4" r="8" fill="none" stroke="#b8b0ff" stroke-opacity="0.07" stroke-width="1.2"/>
<circle cx="83.0" cy="495.4" r="8" fill="none" stroke="#b8b0ff" stroke-opacity="0.07" stroke-width="1.2"/>
<circle cx="113.9" cy="495.4" r="8" fill="none" stroke="#b8b0ff" stroke-opacity="0.07" stroke-width="1.2"/>
<circle cx="145.0" cy="495.4" r="8" fill="none" stroke="#b8b0ff" stroke-opacity="0.07" stroke-width="1.2"/>
<circle cx="60.0" cy="527.5" r="8" fill="none" stroke="#b8b0ff" stroke-opacity="0.07" stroke-width="1.2"/>
<circle cx="83.0" cy="527.5" r="8" fill="none" stroke="#b8b0ff" stroke-opacity="0.07" stroke-width="1.2"/>
<circle cx="113.9" cy="527.5" r="8" fill="none" stroke="#b8b0ff" stroke-opacity="0.07" stroke-width="1.2"/>
<circle cx="145.0" cy="527.5" r="8" fill="none" stroke="#b8b0ff" stroke-opacity="0.07" stroke-width="1.2"/>
<circle cx="60.0" cy="559.5" r="8" fill="none" stroke="#b8b0ff" stroke-opacity="0.07" stroke-width="1.2"/>
<circle cx="83.0" cy="559.5" r="8" fill="none" stroke="#b8b0ff" stroke-opacity="0.07" stroke-width="1.2"/>
<circle cx="113.9" cy="559.5" r="8" fill="none" stroke="#b8b0ff" stroke-opacity="0.07" stroke-width="1.2"/>
<circle cx="145.0" cy="559.5" r="8" fill="none" stroke="#b8b0ff" stroke-opacity="0.07" stroke-width="1.2"/>
<circle cx="60.0" cy="591.5" r="8" fill="none" stroke="#b8b0ff" stroke-opacity="0.07" stroke-width="1.2"/>
<circle cx="83.0" cy="591.5" r="8" fill="none" stroke="#b8b0ff" stroke-opacity="0.07" stroke-width="1.2"/>
<circle cx="113.9" cy="591.5" r="8" fill="none" stroke="#b8b0ff" stroke-opacity="0.07" stroke-width="1.2"/>
<circle cx="145.0" cy="591.5" r="8" fill="none" stroke="#b8b0ff" stroke-opacity="0.07" stroke-width="1.2"/>
<circle cx="60.0" cy="351.2" r="8" fill="none" stroke="#b8b0ff" stroke-opacity="0.07" stroke-width="1.2"/>
<circle cx="83.0" cy="351.2" r="8" fill="none" stroke="#b8b0ff" stroke-opacity="0.07" stroke-width="1.2"/>
<circle cx="113.9" cy="351.2" r="8" fill="none" stroke="#b8b0ff" stroke-opacity="0.07" stroke-width="1.2"/>
<circle cx="145.0" cy="351.2" r="8" fill="none" stroke="#b8b0ff" stroke-opacity="0.07" stroke-width="1.2"/>
<circle cx="60.0" cy="383.2" r="8" fill="none" stroke="#b8b0ff" stroke-opacity="0.07" stroke-width="1.2"/>
<circle cx="83.0" cy="383.2" r="8" fill="none" stroke="#b8b0ff" stroke-opacity="0.07" stroke-width="1.2"/>
<circle cx="113.9" cy="383.2" r="8" fill="none" stroke="#b8b0ff" stroke-opacity="0.07" stroke-width="1.2"/>
<circle cx="145.0" cy="383.2" r="8" fill="none" stroke="#b8b0ff" stroke-opacity="0.07" stroke-width="1.2"/>
<circle cx="60.0" cy="415.3" r="8" fill="none" stroke="#b8b0ff" stroke-opacity="0.07" stroke-width="1.2"/>
<circle cx="83.0" cy="415.3" r="8" fill="none" stroke="#b8b0ff" stroke-opacity="0.07" stroke-width="1.2"/>
<circle cx="113.9" cy="415.3" r="8" fill="none" stroke="#b8b0ff" stroke-opacity="0.07" stroke-width="1.2"/>
<circle cx="145.0" cy="415.3" r="8" fill="none" stroke="#b8b0ff" stroke-opacity="0.07" stroke-width="1.2"/>
<circle cx="60.0" cy="447.3" r="8" fill="none" stroke="#b8b0ff" stroke-opacity="0.07" stroke-width="1.2"/>
<circle cx="83.0" cy="447.3" r="8" fill="none" stroke="#b8b0ff" stroke-opacity="0.07" stroke-width="1.2"/>
<circle cx="113.9" cy="447.3" r="8" fill="none" stroke="#b8b0ff" stroke-opacity="0.07" stroke-width="1.2"/>
<circle cx="145.0" cy="447.3" r="8" fill="none" stroke="#b8b0ff" stroke-opacity="0.07" stroke-width="1.2"/>
<circle cx="60.0" cy="479.4" r="8" fill="none" stroke="#b8b0ff" stroke-opacity="0.07" stroke-width="1.2"/>
<circle cx="83.0" cy="479.4" r="8" fill="none" stroke="#b8b0ff" stroke-opacity="0.07" stroke-width="1.2"/>
<circle cx="113.9" cy="479.4" r="8" fill="none" stroke="#b8b0ff" stroke-opacity="0.07" stroke-width="1.2"/>
<circle cx="145.0" cy="479.4" r="8" fill="none" stroke="#b8b0ff" stroke-opacity="0.07" stroke-width="1.2"/>
<circle cx="60.0" cy="511.4" r="8" fill="none" stroke="#b8b0ff" stroke-opacity="0.07" stroke-width="1.2"/>
<circle cx="83.0" cy="511.4" r="8" fill="none" stroke="#b8b0ff" stroke-opacity="0.07" stroke-width="1.2"/>
<circle cx="113.9" cy="511.4" r="8" fill="none" stroke="#b8b0ff" stroke-opacity="0.07" stroke-width="1.2"/>
<circle cx="145.0" cy="511.4" r="8" fill="none" stroke="#b8b0ff" stroke-opacity="0.07" stroke-width="1.2"/>
<circle cx="60.0" cy="543.5" r="8" fill="none" stroke="#b8b0ff" stroke-opacity="0.07" stroke-width="1.2"/>
<circle cx="83.0" cy="543.5" r="8" fill="none" stroke="#b8b0ff" stroke-opacity="0.07" stroke-width="1.2"/>
<circle cx="113.9" cy="543.5" r="8" fill="none" stroke="#b8b0ff" stroke-opacity="0.07" stroke-width="1.2"/>
<circle cx="145.0" cy="543.5" r="8" fill="none" stroke="#b8b0ff" stroke-opacity="0.07" stroke-width="1.2"/>
<circle cx="60.0" cy="575.5" r="8" fill="none" stroke="#b8b0ff" stroke-opacity="0.07" stroke-width="1.2"/>
<circle cx="83.0" cy="575.5" r="8" fill="none" stroke="#b8b0ff" stroke-opacity="0.07" stroke-width="1.2"/>
<circle cx="113.9" cy="575.5" r="8" fill="none" stroke="#b8b0ff" stroke-opacity="0.07" stroke-width="1.2"/>
<circle cx="145.0" cy="575.5" r="8" fill="none" stroke="#b8b0ff" stroke-opacity="0.07" stroke-width="1.2"/>
<circle cx="60.0" cy="607.6" r="8" fill="none" stroke="#b8b0ff" stroke-opacity="0.07" stroke-width="1.2"/>
<circle cx="83.0" cy="607.6" r="8" fill="none" stroke="#b8b0ff" stroke-opacity="0.07" stroke-width="1.2"/>
<circle cx="113.9" cy="607.6" r="8" fill="none" stroke="#b8b0ff" stroke-opacity="0.07" stroke-width="1.2"/>
<circle cx="145.0" cy="607.6" r="8" fill="none" stroke="#b8b0ff" stroke-opacity="0.07" stroke-width="1.2"/>
<path d="M204.9 348.7h0M204.9 353.7h0M208.1 348.7h0M208.1 353.7h0M200.5 348.7h0M200.5 353.7h0M212.5 348.7h0M212.5 353.7h0" fill="none" stroke="#c8c0ff" stroke-width="1.6" stroke-linecap="round" stroke-opacity="0.3"/>
<path d="M202.6 348.7h0M202.6 353.7h0M210.4 348.7h0M210.4 353.7h0" fill="none" stroke="#f07a40" stroke-width="1.8" stroke-linecap="round" stroke-opacity="0.55"/>
<path d="M202.6 346.2h0M202.6 356.2h0M210.4 346.2h0M210.4 356.2h0M199.1 351.2h0M213.9 351.2h0" fill="none" stroke="#f2b48a" stroke-width="1.6" stroke-linecap="round" stroke-opacity="0.4"/>
<path d="M202.3 351.2h0M210.7 351.2h0" fill="none" stroke="#f07a40" stroke-width="1.8" stroke-linecap="round" stroke-opacity="0.6"/>
<path d="M206.5 346.2h0M206.5 356.2h0" fill="none" stroke="#ff2a10" stroke-width="1.9" stroke-linecap="round" stroke-opacity="0.55"/>
<path d="M205.7 351.2L207.3 351.2" fill="none" stroke="#ff2a10" stroke-width="2.4" stroke-linecap="round" stroke-opacity="0.9"/>
<path d="M235.4 348.7h0M235.4 353.7h0M238.6 348.7h0M238.6 353.7h0M231.0 348.7h0M231.0 353.7h0M243.0 348.7h0M243.0 353.7h0" fill="none" stroke="#c8c0ff" stroke-width="1.6" stroke-linecap="round" stroke-opacity="0.15"/>
<path d="M233.1 348.7h0M233.1 353.7h0M240.9 348.7h0M240.9 353.7h0M232.8 351.2h0M241.2 351.2h0" fill="none" stroke="#f07a40" stroke-width="1.8" stroke-linecap="round" stroke-opacity="0.3"/>
<path d="M233.1 346.2h0M233.1 356.2h0M240.9 346.2h0M240.9 356.2h0M229.6 351.2h0M244.4 351.2h0" fill="none" stroke="#f2b48a" stroke-width="1.6" stroke-linecap="round" stroke-opacity="0.2"/>
<path d="M237.0 346.2h0M237.0 356.2h0" fill="none" stroke="#ff2a10" stroke-width="1.9" stroke-linecap="round" stroke-opacity="0.3"/>
<path d="M236.2 351.2L237.8 351.2" fill="none" stroke="#ff2a10" stroke-width="2.4" stroke-linecap="round" stroke-opacity="0.45"/>
<path d="M265.3 348.7h0M265.3 353.7h0M268.5 348.7h0M268.5 353.7h0M260.9 348.7h0M260.9 353.7h0M272.9 348.7h0M272.9 353.7h0M292.7 348.7h0M292.7 353.7h0M295.9 348.7h0M295.9 353.7h0M288.3 348.7h0M288.3 353.7h0M300.3 348.7h0M300.3 353.7h0" fill="none" stroke="#c8c0ff" stroke-width="1.6" stroke-linecap="round" stroke-opacity="0.05"/>
<path d="M263.0 348.7h0M263.0 353.7h0M270.8 348.7h0M270.8 353.7h0M262.7 351.2h0M271.1 351.2h0" fill="none" stroke="#f07a40" stroke-width="1.8" stroke-linecap="round" stroke-opacity="0.1"/>
<path d="M263.0 346.2h0M263.0 356.2h0M270.8 346.2h0M270.8 356.2h0M259.5 351.2h0M274.3 351.2h0M290.4 346.2h0M290.4 356.2h0M298.2 346.2h0M298.2 356.2h0M286.9 351.2h0M301.7 351.2h0" fill="none" stroke="#f2b48a" stroke-width="1.6" stroke-linecap="round" stroke-opacity="0.05"/>
<path d="M266.9 346.2h0M266.9 356.2h0" fill="none" stroke="#ff2a10" stroke-width="1.9" stroke-linecap="round" stroke-opacity="0.1"/>
<path d="M266.1 351.2L267.7 351.2" fill="none" stroke="#ff2a10" stroke-width="2.4" stroke-linecap="round" stroke-opacity="0.15"/>
<path d="M290.4 348.7h0M290.4 353.7h0M298.2 348.7h0M298.2 353.7h0M290.1 351.2h0M298.5 351.2h0" fill="none" stroke="#f07a40" stroke-width="1.8" stroke-linecap="round" stroke-opacity="0.05"/>
<path d="M294.3 346.2h0M294.3 356.2h0" fill="none" stroke="#ff2a10" stroke-width="1.9" stroke-linecap="round" stroke-opacity="0.05"/>
<path d="M293.5 351.2L295.1 351.2" fill="none" stroke="#ff2a10" stroke-width="2.4" stroke-linecap="round" stroke-opacity="0.1"/>
<circle cx="145.0" cy="351.2" r="6.5" fill="none" stroke="#c8c0ff" stroke-opacity="0.38" stroke-width="1.2"/>
<path d="M145.0 346.2h0M145.0 356.2h0" fill="none" stroke="#f07a40" stroke-width="1.6" stroke-linecap="round" stroke-opacity="0.5"/>
<path d="M145.0 341.7h0M145.0 360.7h0" fill="none" stroke="#f2b48a" stroke-width="1.4" stroke-linecap="round" stroke-opacity="0.4"/>
<path d="M140.5 351.2h0M149.5 351.2h0" fill="none" stroke="#f2b48a" stroke-width="1.6" stroke-linecap="round" stroke-opacity="0.45"/>
<path d="M140.5 347.2h0M140.5 355.2h0M149.5 347.2h0M149.5 355.2h0M113.9 341.7h0M113.9 360.7h0" fill="none" stroke="#f2b48a" stroke-width="1.4" stroke-linecap="round" stroke-opacity="0.3"/>
<path d="M145.0 351.2h0" fill="none" stroke="#ff2a10" stroke-width="2.5" stroke-linecap="round"/>
<path d="M113.9 346.2h0M113.9 356.2h0" fill="none" stroke="#f07a40" stroke-width="1.6" stroke-linecap="round" stroke-opacity="0.4"/>
<path d="M109.4 351.2h0M118.4 351.2h0" fill="none" stroke="#f2b48a" stroke-width="1.6" stroke-linecap="round" stroke-opacity="0.4"/>
<path d="M109.4 347.2h0M109.4 355.2h0M118.4 347.2h0M118.4 355.2h0" fill="none" stroke="#f2b48a" stroke-width="1.4" stroke-linecap="round" stroke-opacity="0.25"/>
<path d="M113.9 351.2h0" fill="none" stroke="#ff2a10" stroke-width="2.5" stroke-linecap="round" stroke-opacity="0.85"/>
<circle cx="83.0" cy="351.2" r="6.5" fill="none" stroke="#c8c0ff" stroke-opacity="0.11" stroke-width="1.2"/>
<path d="M83.0 346.2h0M83.0 356.2h0" fill="none" stroke="#f07a40" stroke-width="1.6" stroke-linecap="round" stroke-opacity="0.15"/>
<path d="M83.0 341.7h0M83.0 360.7h0M78.5 347.2h0M78.5 355.2h0M87.5 347.2h0M87.5 355.2h0" fill="none" stroke="#f2b48a" stroke-width="1.4" stroke-linecap="round" stroke-opacity="0.1"/>
<path d="M78.5 351.2h0M87.5 351.2h0" fill="none" stroke="#f2b48a" stroke-width="1.6" stroke-linecap="round" stroke-opacity="0.15"/>
<path d="M83.0 351.2h0" fill="none" stroke="#ff2a10" stroke-width="2.5" stroke-linecap="round" stroke-opacity="0.3"/>
<path d="M60.0 346.2h0M60.0 356.2h0" fill="none" stroke="#f07a40" stroke-width="1.6" stroke-linecap="round" stroke-opacity="0.05"/>
<path d="M60.0 341.7h0M60.0 360.7h0M55.5 347.2h0M55.5 355.2h0M64.5 347.2h0M64.5 355.2h0" fill="none" stroke="#f2b48a" stroke-width="1.4" stroke-linecap="round" stroke-opacity="0.05"/>
<path d="M55.5 351.2h0M64.5 351.2h0M263.0 378.2h0M263.0 388.2h0M270.8 378.2h0M270.8 388.2h0M259.5 383.2h0M274.3 383.2h0M290.4 378.2h0M290.4 388.2h0M298.2 378.2h0M298.2 388.2h0M286.9 383.2h0M301.7 383.2h0" fill="none" stroke="#f2b48a" stroke-width="1.6" stroke-linecap="round" stroke-opacity="0.05"/>
<path d="M60.0 351.2h0" fill="none" stroke="#ff2a10" stroke-width="2.5" stroke-linecap="round" stroke-opacity="0.15"/>
<path d="M180.7 351.2h0M172.3 351.2h0" fill="none" stroke="#ff2a10" stroke-width="2.7" stroke-linecap="round" stroke-opacity="0.8"/>
<path d="M184.2 351.2h0M168.8 351.2h0" fill="none" stroke="#ff2a10" stroke-width="2.5" stroke-linecap="round" stroke-opacity="0.7"/>
<path d="M187.7 351.2h0M165.3 351.2h0" fill="none" stroke="#f07a40" stroke-width="1.9" stroke-linecap="round" stroke-opacity="0.55"/>
<path d="M181.7 346.2h0M181.7 356.2h0M171.3 346.2h0M171.3 356.2h0" fill="none" stroke="#ff2a10" stroke-width="2.3" stroke-linecap="round" stroke-opacity="0.65"/>
<path d="M185.2 346.2h0M185.2 356.2h0M167.8 346.2h0M167.8 356.2h0" fill="none" stroke="#8f80ff" stroke-width="2.1" stroke-linecap="round" stroke-opacity="0.55"/>
<path d="M180.7 342.7h0M180.7 359.7h0M172.3 342.7h0M172.3 359.7h0" fill="none" stroke="#f07a40" stroke-width="1.7" stroke-linecap="round" stroke-opacity="0.3"/>
<path d="M178.4 348.7h0M178.4 353.7h0M174.6 348.7h0M174.6 353.7h0" fill="none" stroke="#1a1aff" stroke-width="1.7" stroke-linecap="round" stroke-opacity="0.5"/>
<path d="M178.4 351.2h0M174.6 351.2h0" fill="none" stroke="#ff2a10" stroke-width="2.3" stroke-linecap="round" stroke-opacity="0.7"/>
<path d="M189.2 346.2h0M189.2 356.2h0M163.8 346.2h0M163.8 356.2h0" fill="none" stroke="#c8c0ff" stroke-width="1.7" stroke-linecap="round" stroke-opacity="0.4"/>
<path d="M204.9 380.8h0M204.9 385.8h0M208.1 380.8h0M208.1 385.8h0M200.5 380.8h0M200.5 385.8h0M212.5 380.8h0M212.5 385.8h0" fill="none" stroke="#c8c0ff" stroke-width="1.6" stroke-linecap="round" stroke-opacity="0.3"/>
<path d="M202.6 380.8h0M202.6 385.8h0M210.4 380.8h0M210.4 385.8h0" fill="none" stroke="#f07a40" stroke-width="1.8" stroke-linecap="round" stroke-opacity="0.55"/>
<path d="M202.6 378.2h0M202.6 388.2h0M210.4 378.2h0M210.4 388.2h0M199.1 383.2h0M213.9 383.2h0" fill="none" stroke="#f2b48a" stroke-width="1.6" stroke-linecap="round" stroke-opacity="0.4"/>
<path d="M202.3 383.2h0M210.7 383.2h0" fill="none" stroke="#f07a40" stroke-width="1.8" stroke-linecap="round" stroke-opacity="0.6"/>
<path d="M206.5 378.2h0M206.5 388.2h0" fill="none" stroke="#ff2a10" stroke-width="1.9" stroke-linecap="round" stroke-opacity="0.55"/>
<path d="M205.7 383.2L207.3 383.2" fill="none" stroke="#ff2a10" stroke-width="2.4" stroke-linecap="round" stroke-opacity="0.9"/>
<path d="M235.4 380.8h0M235.4 385.8h0M238.6 380.8h0M238.6 385.8h0M231.0 380.8h0M231.0 385.8h0M243.0 380.8h0M243.0 385.8h0" fill="none" stroke="#c8c0ff" stroke-width="1.6" stroke-linecap="round" stroke-opacity="0.15"/>
<path d="M233.1 380.8h0M233.1 385.8h0M240.9 380.8h0M240.9 385.8h0M232.8 383.2h0M241.2 383.2h0" fill="none" stroke="#f07a40" stroke-width="1.8" stroke-linecap="round" stroke-opacity="0.3"/>
<path d="M233.1 378.2h0M233.1 388.2h0M240.9 378.2h0M240.9 388.2h0M229.6 383.2h0M244.4 383.2h0" fill="none" stroke="#f2b48a" stroke-width="1.6" stroke-linecap="round" stroke-opacity="0.2"/>
<path d="M237.0 378.2h0M237.0 388.2h0" fill="none" stroke="#ff2a10" stroke-width="1.9" stroke-linecap="round" stroke-opacity="0.3"/>
<path d="M236.2 383.2L237.8 383.2" fill="none" stroke="#ff2a10" stroke-width="2.4" stroke-linecap="round" stroke-opacity="0.45"/>
<path d="M265.3 380.8h0M265.3 385.8h0M268.5 380.8h0M268.5 385.8h0M260.9 380.8h0M260.9 385.8h0M272.9 380.8h0M272.9 385.8h0M292.7 380.8h0M292.7 385.8h0M295.9 380.8h0M295.9 385.8h0M288.3 380.8h0M288.3 385.8h0M300.3 380.8h0M300.3 385.8h0" fill="none" stroke="#c8c0ff" stroke-width="1.6" stroke-linecap="round" stroke-opacity="0.05"/>
<path d="M263.0 380.8h0M263.0 385.8h0M270.8 380.8h0M270.8 385.8h0M262.7 383.2h0M271.1 383.2h0" fill="none" stroke="#f07a40" stroke-width="1.8" stroke-linecap="round" stroke-opacity="0.1"/>
<path d="M266.9 378.2h0M266.9 388.2h0" fill="none" stroke="#ff2a10" stroke-width="1.9" stroke-linecap="round" stroke-opacity="0.1"/>
<path d="M266.1 383.2L267.7 383.2" fill="none" stroke="#ff2a10" stroke-width="2.4" stroke-linecap="round" stroke-opacity="0.15"/>
<path d="M290.4 380.8h0M290.4 385.8h0M298.2 380.8h0M298.2 385.8h0M290.1 383.2h0M298.5 383.2h0" fill="none" stroke="#f07a40" stroke-width="1.8" stroke-linecap="round" stroke-opacity="0.05"/>
<path d="M294.3 378.2h0M294.3 388.2h0" fill="none" stroke="#ff2a10" stroke-width="1.9" stroke-linecap="round" stroke-opacity="0.05"/>
<path d="M293.5 383.2L295.1 383.2" fill="none" stroke="#ff2a10" stroke-width="2.4" stroke-linecap="round" stroke-opacity="0.1"/>
<circle cx="145.0" cy="383.2" r="6.5" fill="none" stroke="#c8c0ff" stroke-opacity="0.38" stroke-width="1.2"/>
<path d="M145.0 378.2h0M145.0 388.2h0" fill="none" stroke="#f07a40" stroke-width="1.6" stroke-linecap="round" stroke-opacity="0.5"/>
<path d="M145.0 373.8h0M145.0 392.8h0" fill="none" stroke="#f2b48a" stroke-width="1.4" stroke-linecap="round" stroke-opacity="0.4"/>
<path d="M140.5 383.2h0M149.5 383.2h0" fill="none" stroke="#f2b48a" stroke-width="1.6" stroke-linecap="round" stroke-opacity="0.45"/>
<path d="M140.5 379.2h0M140.5 387.2h0M149.5 379.2h0M149.5 387.2h0M113.9 373.8h0M113.9 392.8h0" fill="none" stroke="#f2b48a" stroke-width="1.4" stroke-linecap="round" stroke-opacity="0.3"/>
<path d="M145.0 383.2h0" fill="none" stroke="#ff2a10" stroke-width="2.5" stroke-linecap="round"/>
<path d="M113.9 378.2h0M113.9 388.2h0" fill="none" stroke="#f07a40" stroke-width="1.6" stroke-linecap="round" stroke-opacity="0.4"/>
<path d="M109.4 383.2h0M118.4 383.2h0" fill="none" stroke="#f2b48a" stroke-width="1.6" stroke-linecap="round" stroke-opacity="0.4"/>
<path d="M109.4 379.2h0M109.4 387.2h0M118.4 379.2h0M118.4 387.2h0" fill="none" stroke="#f2b48a" stroke-width="1.4" stroke-linecap="round" stroke-opacity="0.25"/>
<path d="M113.9 383.2h0" fill="none" stroke="#ff2a10" stroke-width="2.5" stroke-linecap="round" stroke-opacity="0.85"/>
<circle cx="83.0" cy="383.2" r="6.5" fill="none" stroke="#c8c0ff" stroke-opacity="0.11" stroke-width="1.2"/>
<path d="M83.0 378.2h0M83.0 388.2h0" fill="none" stroke="#f07a40" stroke-width="1.6" stroke-linecap="round" stroke-opacity="0.15"/>
<path d="M83.0 373.8h0M83.0 392.8h0M78.5 379.2h0M78.5 387.2h0M87.5 379.2h0M87.5 387.2h0" fill="none" stroke="#f2b48a" stroke-width="1.4" stroke-linecap="round" stroke-opacity="0.1"/>
<path d="M78.5 383.2h0M87.5 383.2h0" fill="none" stroke="#f2b48a" stroke-width="1.6" stroke-linecap="round" stroke-opacity="0.15"/>
<path d="M83.0 383.2h0" fill="none" stroke="#ff2a10" stroke-width="2.5" stroke-linecap="round" stroke-opacity="0.3"/>
<path d="M60.0 378.2h0M60.0 388.2h0" fill="none" stroke="#f07a40" stroke-width="1.6" stroke-linecap="round" stroke-opacity="0.05"/>
<path d="M60.0 373.8h0M60.0 392.8h0M55.5 379.2h0M55.5 387.2h0M64.5 379.2h0M64.5 387.2h0" fill="none" stroke="#f2b48a" stroke-width="1.4" stroke-linecap="round" stroke-opacity="0.05"/>
<path d="M55.5 383.2h0M64.5 383.2h0M263.0 410.3h0M263.0 420.3h0M270.8 410.3h0M270.8 420.3h0M259.5 415.3h0M274.3 415.3h0M290.4 410.3h0M290.4 420.3h0M298.2 410.3h0M298.2 420.3h0M286.9 415.3h0M301.7 415.3h0" fill="none" stroke="#f2b48a" stroke-width="1.6" stroke-linecap="round" stroke-opacity="0.05"/>
<path d="M60.0 383.2h0" fill="none" stroke="#ff2a10" stroke-width="2.5" stroke-linecap="round" stroke-opacity="0.15"/>
<path d="M180.7 383.2h0M172.3 383.2h0" fill="none" stroke="#ff2a10" stroke-width="2.7" stroke-linecap="round" stroke-opacity="0.8"/>
<path d="M184.2 383.2h0M168.8 383.2h0" fill="none" stroke="#ff2a10" stroke-width="2.5" stroke-linecap="round" stroke-opacity="0.7"/>
<path d="M187.7 383.2h0M165.3 383.2h0" fill="none" stroke="#f07a40" stroke-width="1.9" stroke-linecap="round" stroke-opacity="0.55"/>
<path d="M181.7 378.2h0M181.7 388.2h0M171.3 378.2h0M171.3 388.2h0" fill="none" stroke="#ff2a10" stroke-width="2.3" stroke-linecap="round" stroke-opacity="0.65"/>
<path d="M185.2 378.2h0M185.2 388.2h0M167.8 378.2h0M167.8 388.2h0" fill="none" stroke="#8f80ff" stroke-width="2.1" stroke-linecap="round" stroke-opacity="0.55"/>
<path d="M180.7 374.8h0M180.7 391.8h0M172.3 374.8h0M172.3 391.8h0" fill="none" stroke="#f07a40" stroke-width="1.7" stroke-linecap="round" stroke-opacity="0.3"/>
<path d="M178.4 380.8h0M178.4 385.8h0M174.6 380.8h0M174.6 385.8h0" fill="none" stroke="#1a1aff" stroke-width="1.7" stroke-linecap="round" stroke-opacity="0.5"/>
<path d="M178.4 383.2h0M174.6 383.2h0" fill="none" stroke="#ff2a10" stroke-width="2.3" stroke-linecap="round" stroke-opacity="0.7"/>
<path d="M189.2 378.2h0M189.2 388.2h0M163.8 378.2h0M163.8 388.2h0" fill="none" stroke="#c8c0ff" stroke-width="1.7" stroke-linecap="round" stroke-opacity="0.4"/>
<path d="M204.9 412.8h0M204.9 417.8h0M208.1 412.8h0M208.1 417.8h0M200.5 412.8h0M200.5 417.8h0M212.5 412.8h0M212.5 417.8h0" fill="none" stroke="#c8c0ff" stroke-width="1.6" stroke-linecap="round" stroke-opacity="0.3"/>
<path d="M202.6 412.8h0M202.6 417.8h0M210.4 412.8h0M210.4 417.8h0" fill="none" stroke="#f07a40" stroke-width="1.8" stroke-linecap="round" stroke-opacity="0.55"/>
<path d="M202.6 410.3h0M202.6 420.3h0M210.4 410.3h0M210.4 420.3h0M199.1 415.3h0M213.9 415.3h0" fill="none" stroke="#f2b48a" stroke-width="1.6" stroke-linecap="round" stroke-opacity="0.4"/>
<path d="M202.3 415.3h0M210.7 415.3h0" fill="none" stroke="#f07a40" stroke-width="1.8" stroke-linecap="round" stroke-opacity="0.6"/>
<path d="M206.5 410.3h0M206.5 420.3h0" fill="none" stroke="#ff2a10" stroke-width="1.9" stroke-linecap="round" stroke-opacity="0.55"/>
<path d="M205.7 415.3L207.3 415.3" fill="none" stroke="#ff2a10" stroke-width="2.4" stroke-linecap="round" stroke-opacity="0.9"/>
<path d="M235.4 412.8h0M235.4 417.8h0M238.6 412.8h0M238.6 417.8h0M231.0 412.8h0M231.0 417.8h0M243.0 412.8h0M243.0 417.8h0" fill="none" stroke="#c8c0ff" stroke-width="1.6" stroke-linecap="round" stroke-opacity="0.15"/>
<path d="M233.1 412.8h0M233.1 417.8h0M240.9 412.8h0M240.9 417.8h0M232.8 415.3h0M241.2 415.3h0" fill="none" stroke="#f07a40" stroke-width="1.8" stroke-linecap="round" stroke-opacity="0.3"/>
<path d="M233.1 410.3h0M233.1 420.3h0M240.9 410.3h0M240.9 420.3h0M229.6 415.3h0M244.4 415.3h0" fill="none" stroke="#f2b48a" stroke-width="1.6" stroke-linecap="round" stroke-opacity="0.2"/>
<path d="M237.0 410.3h0M237.0 420.3h0" fill="none" stroke="#ff2a10" stroke-width="1.9" stroke-linecap="round" stroke-opacity="0.3"/>
<path d="M236.2 415.3L237.8 415.3" fill="none" stroke="#ff2a10" stroke-width="2.4" stroke-linecap="round" stroke-opacity="0.45"/>
<path d="M265.3 412.8h0M265.3 417.8h0M268.5 412.8h0M268.5 417.8h0M260.9 412.8h0M260.9 417.8h0M272.9 412.8h0M272.9 417.8h0M292.7 412.8h0M292.7 417.8h0M295.9 412.8h0M295.9 417.8h0M288.3 412.8h0M288.3 417.8h0M300.3 412.8h0M300.3 417.8h0" fill="none" stroke="#c8c0ff" stroke-width="1.6" stroke-linecap="round" stroke-opacity="0.05"/>
<path d="M263.0 412.8h0M263.0 417.8h0M270.8 412.8h0M270.8 417.8h0M262.7 415.3h0M271.1 415.3h0" fill="none" stroke="#f07a40" stroke-width="1.8" stroke-linecap="round" stroke-opacity="0.1"/>
<path d="M266.9 410.3h0M266.9 420.3h0" fill="none" stroke="#ff2a10" stroke-width="1.9" stroke-linecap="round" stroke-opacity="0.1"/>
<path d="M266.1 415.3L267.7 415.3" fill="none" stroke="#ff2a10" stroke-width="2.4" stroke-linecap="round" stroke-opacity="0.15"/>
<path d="M290.4 412.8h0M290.4 417.8h0M298.2 412.8h0M298.2 417.8h0M290.1 415.3h0M298.5 415.3h0" fill="none" stroke="#f07a40" stroke-width="1.8" stroke-linecap="round" stroke-opacity="0.05"/>
<path d="M294.3 410.3h0M294.3 420.3h0" fill="none" stroke="#ff2a10" stroke-width="1.9" stroke-linecap="round" stroke-opacity="0.05"/>
<path d="M293.5 415.3L295.1 415.3" fill="none" stroke="#ff2a10" stroke-width="2.4" stroke-linecap="round" stroke-opacity="0.1"/>
<circle cx="145.0" cy="415.3" r="6.5" fill="none" stroke="#c8c0ff" stroke-opacity="0.38" stroke-width="1.2"/>
<path d="M145.0 410.3h0M145.0 420.3h0" fill="none" stroke="#f07a40" stroke-width="1.6" stroke-linecap="round" stroke-opacity="0.5"/>
<path d="M145.0 405.8h0M145.0 424.8h0" fill="none" stroke="#f2b48a" stroke-width="1.4" stroke-linecap="round" stroke-opacity="0.4"/>
<path d="M140.5 415.3h0M149.5 415.3h0" fill="none" stroke="#f2b48a" stroke-width="1.6" stroke-linecap="round" stroke-opacity="0.45"/>
<path d="M140.5 411.3h0M140.5 419.3h0M149.5 411.3h0M149.5 419.3h0M113.9 405.8h0M113.9 424.8h0" fill="none" stroke="#f2b48a" stroke-width="1.4" stroke-linecap="round" stroke-opacity="0.3"/>
<path d="M145.0 415.3h0" fill="none" stroke="#ff2a10" stroke-width="2.5" stroke-linecap="round"/>
<path d="M113.9 410.3h0M113.9 420.3h0" fill="none" stroke="#f07a40" stroke-width="1.6" stroke-linecap="round" stroke-opacity="0.4"/>
<path d="M109.4 415.3h0M118.4 415.3h0" fill="none" stroke="#f2b48a" stroke-width="1.6" stroke-linecap="round" stroke-opacity="0.4"/>
<path d="M109.4 411.3h0M109.4 419.3h0M118.4 411.3h0M118.4 419.3h0" fill="none" stroke="#f2b48a" stroke-width="1.4" stroke-linecap="round" stroke-opacity="0.25"/>
<path d="M113.9 415.3h0" fill="none" stroke="#ff2a10" stroke-width="2.5" stroke-linecap="round" stroke-opacity="0.85"/>
<circle cx="83.0" cy="415.3" r="6.5" fill="none" stroke="#c8c0ff" stroke-opacity="0.11" stroke-width="1.2"/>
<path d="M83.0 410.3h0M83.0 420.3h0" fill="none" stroke="#f07a40" stroke-width="1.6" stroke-linecap="round" stroke-opacity="0.15"/>
<path d="M83.0 405.8h0M83.0 424.8h0M78.5 411.3h0M78.5 419.3h0M87.5 411.3h0M87.5 419.3h0" fill="none" stroke="#f2b48a" stroke-width="1.4" stroke-linecap="round" stroke-opacity="0.1"/>
<path d="M78.5 415.3h0M87.5 415.3h0" fill="none" stroke="#f2b48a" stroke-width="1.6" stroke-linecap="round" stroke-opacity="0.15"/>
<path d="M83.0 415.3h0" fill="none" stroke="#ff2a10" stroke-width="2.5" stroke-linecap="round" stroke-opacity="0.3"/>
<path d="M60.0 410.3h0M60.0 420.3h0" fill="none" stroke="#f07a40" stroke-width="1.6" stroke-linecap="round" stroke-opacity="0.05"/>
<path d="M60.0 405.8h0M60.0 424.8h0M55.5 411.3h0M55.5 419.3h0M64.5 411.3h0M64.5 419.3h0" fill="none" stroke="#f2b48a" stroke-width="1.4" stroke-linecap="round" stroke-opacity="0.05"/>
<path d="M55.5 415.3h0M64.5 415.3h0M263.0 442.3h0M263.0 452.3h0M270.8 442.3h0M270.8 452.3h0M259.5 447.3h0M274.3 447.3h0M290.4 442.3h0M290.4 452.3h0M298.2 442.3h0M298.2 452.3h0M286.9 447.3h0M301.7 447.3h0" fill="none" stroke="#f2b48a" stroke-width="1.6" stroke-linecap="round" stroke-opacity="0.05"/>
<path d="M60.0 415.3h0" fill="none" stroke="#ff2a10" stroke-width="2.5" stroke-linecap="round" stroke-opacity="0.15"/>
<path d="M180.7 415.3h0M172.3 415.3h0" fill="none" stroke="#ff2a10" stroke-width="2.7" stroke-linecap="round" stroke-opacity="0.8"/>
<path d="M184.2 415.3h0M168.8 415.3h0" fill="none" stroke="#ff2a10" stroke-width="2.5" stroke-linecap="round" stroke-opacity="0.7"/>
<path d="M187.7 415.3h0M165.3 415.3h0" fill="none" stroke="#f07a40" stroke-width="1.9" stroke-linecap="round" stroke-opacity="0.55"/>
<path d="M181.7 410.3h0M181.7 420.3h0M171.3 410.3h0M171.3 420.3h0" fill="none" stroke="#ff2a10" stroke-width="2.3" stroke-linecap="round" stroke-opacity="0.65"/>
<path d="M185.2 410.3h0M185.2 420.3h0M167.8 410.3h0M167.8 420.3h0" fill="none" stroke="#8f80ff" stroke-width="2.1" stroke-linecap="round" stroke-opacity="0.55"/>
<path d="M180.7 406.8h0M180.7 423.8h0M172.3 406.8h0M172.3 423.8h0" fill="none" stroke="#f07a40" stroke-width="1.7" stroke-linecap="round" stroke-opacity="0.3"/>
<path d="M178.4 412.8h0M178.4 417.8h0M174.6 412.8h0M174.6 417.8h0" fill="none" stroke="#1a1aff" stroke-width="1.7" stroke-linecap="round" stroke-opacity="0.5"/>
<path d="M178.4 415.3h0M174.6 415.3h0" fill="none" stroke="#ff2a10" stroke-width="2.3" stroke-linecap="round" stroke-opacity="0.7"/>
<path d="M189.2 410.3h0M189.2 420.3h0M163.8 410.3h0M163.8 420.3h0" fill="none" stroke="#c8c0ff" stroke-width="1.7" stroke-linecap="round" stroke-opacity="0.4"/>
<path d="M204.9 444.8h0M204.9 449.8h0M208.1 444.8h0M208.1 449.8h0M200.5 444.8h0M200.5 449.8h0M212.5 444.8h0M212.5 449.8h0" fill="none" stroke="#c8c0ff" stroke-width="1.6" stroke-linecap="round" stroke-opacity="0.3"/>
<path d="M202.6 444.8h0M202.6 449.8h0M210.4 444.8h0M210.4 449.8h0" fill="none" stroke="#f07a40" stroke-width="1.8" stroke-linecap="round" stroke-opacity="0.55"/>
<path d="M202.6 442.3h0M202.6 452.3h0M210.4 442.3h0M210.4 452.3h0M199.1 447.3h0M213.9 447.3h0" fill="none" stroke="#f2b48a" stroke-width="1.6" stroke-linecap="round" stroke-opacity="0.4"/>
<path d="M202.3 447.3h0M210.7 447.3h0" fill="none" stroke="#f07a40" stroke-width="1.8" stroke-linecap="round" stroke-opacity="0.6"/>
<path d="M206.5 442.3h0M206.5 452.3h0" fill="none" stroke="#ff2a10" stroke-width="1.9" stroke-linecap="round" stroke-opacity="0.55"/>
<path d="M205.7 447.3L207.3 447.3" fill="none" stroke="#ff2a10" stroke-width="2.4" stroke-linecap="round" stroke-opacity="0.9"/>
<path d="M235.4 444.8h0M235.4 449.8h0M238.6 444.8h0M238.6 449.8h0M231.0 444.8h0M231.0 449.8h0M243.0 444.8h0M243.0 449.8h0" fill="none" stroke="#c8c0ff" stroke-width="1.6" stroke-linecap="round" stroke-opacity="0.15"/>
<path d="M233.1 444.8h0M233.1 449.8h0M240.9 444.8h0M240.9 449.8h0M232.8 447.3h0M241.2 447.3h0" fill="none" stroke="#f07a40" stroke-width="1.8" stroke-linecap="round" stroke-opacity="0.3"/>
<path d="M233.1 442.3h0M233.1 452.3h0M240.9 442.3h0M240.9 452.3h0M229.6 447.3h0M244.4 447.3h0" fill="none" stroke="#f2b48a" stroke-width="1.6" stroke-linecap="round" stroke-opacity="0.2"/>
<path d="M237.0 442.3h0M237.0 452.3h0" fill="none" stroke="#ff2a10" stroke-width="1.9" stroke-linecap="round" stroke-opacity="0.3"/>
<path d="M236.2 447.3L237.8 447.3" fill="none" stroke="#ff2a10" stroke-width="2.4" stroke-linecap="round" stroke-opacity="0.45"/>
<path d="M265.3 444.8h0M265.3 449.8h0M268.5 444.8h0M268.5 449.8h0M260.9 444.8h0M260.9 449.8h0M272.9 444.8h0M272.9 449.8h0M292.7 444.8h0M292.7 449.8h0M295.9 444.8h0M295.9 449.8h0M288.3 444.8h0M288.3 449.8h0M300.3 444.8h0M300.3 449.8h0" fill="none" stroke="#c8c0ff" stroke-width="1.6" stroke-linecap="round" stroke-opacity="0.05"/>
<path d="M263.0 444.8h0M263.0 449.8h0M270.8 444.8h0M270.8 449.8h0M262.7 447.3h0M271.1 447.3h0" fill="none" stroke="#f07a40" stroke-width="1.8" stroke-linecap="round" stroke-opacity="0.1"/>
<path d="M266.9 442.3h0M266.9 452.3h0" fill="none" stroke="#ff2a10" stroke-width="1.9" stroke-linecap="round" stroke-opacity="0.1"/>
<path d="M266.1 447.3L267.7 447.3" fill="none" stroke="#ff2a10" stroke-width="2.4" stroke-linecap="round" stroke-opacity="0.15"/>
<path d="M290.4 444.8h0M290.4 449.8h0M298.2 444.8h0M298.2 449.8h0M290.1 447.3h0M298.5 447.3h0" fill="none" stroke="#f07a40" stroke-width="1.8" stroke-linecap="round" stroke-opacity="0.05"/>
<path d="M294.3 442.3h0M294.3 452.3h0" fill="none" stroke="#ff2a10" stroke-width="1.9" stroke-linecap="round" stroke-opacity="0.05"/>
<path d="M293.5 447.3L295.1 447.3" fill="none" stroke="#ff2a10" stroke-width="2.4" stroke-linecap="round" stroke-opacity="0.1"/>
<circle cx="145.0" cy="447.3" r="6.5" fill="none" stroke="#c8c0ff" stroke-opacity="0.38" stroke-width="1.2"/>
<path d="M145.0 442.3h0M145.0 452.3h0" fill="none" stroke="#f07a40" stroke-width="1.6" stroke-linecap="round" stroke-opacity="0.5"/>
<path d="M145.0 437.8h0M145.0 456.8h0" fill="none" stroke="#f2b48a" stroke-width="1.4" stroke-linecap="round" stroke-opacity="0.4"/>
<path d="M140.5 447.3h0M149.5 447.3h0" fill="none" stroke="#f2b48a" stroke-width="1.6" stroke-linecap="round" stroke-opacity="0.45"/>
<path d="M140.5 443.3h0M140.5 451.3h0M149.5 443.3h0M149.5 451.3h0M113.9 437.8h0M113.9 456.8h0" fill="none" stroke="#f2b48a" stroke-width="1.4" stroke-linecap="round" stroke-opacity="0.3"/>
<path d="M145.0 447.3h0" fill="none" stroke="#ff2a10" stroke-width="2.5" stroke-linecap="round"/>
<path d="M113.9 442.3h0M113.9 452.3h0" fill="none" stroke="#f07a40" stroke-width="1.6" stroke-linecap="round" stroke-opacity="0.4"/>
<path d="M109.4 447.3h0M118.4 447.3h0" fill="none" stroke="#f2b48a" stroke-width="1.6" stroke-linecap="round" stroke-opacity="0.4"/>
<path d="M109.4 443.3h0M109.4 451.3h0M118.4 443.3h0M118.4 451.3h0" fill="none" stroke="#f2b48a" stroke-width="1.4" stroke-linecap="round" stroke-opacity="0.25"/>
<path d="M113.9 447.3h0" fill="none" stroke="#ff2a10" stroke-width="2.5" stroke-linecap="round" stroke-opacity="0.85"/>
<circle cx="83.0" cy="447.3" r="6.5" fill="none" stroke="#c8c0ff" stroke-opacity="0.11" stroke-width="1.2"/>
<path d="M83.0 442.3h0M83.0 452.3h0" fill="none" stroke="#f07a40" stroke-width="1.6" stroke-linecap="round" stroke-opacity="0.15"/>
<path d="M83.0 437.8h0M83.0 456.8h0M78.5 443.3h0M78.5 451.3h0M87.5 443.3h0M87.5 451.3h0" fill="none" stroke="#f2b48a" stroke-width="1.4" stroke-linecap="round" stroke-opacity="0.1"/>
<path d="M78.5 447.3h0M87.5 447.3h0" fill="none" stroke="#f2b48a" stroke-width="1.6" stroke-linecap="round" stroke-opacity="0.15"/>
<path d="M83.0 447.3h0" fill="none" stroke="#ff2a10" stroke-width="2.5" stroke-linecap="round" stroke-opacity="0.3"/>
<path d="M60.0 442.3h0M60.0 452.3h0" fill="none" stroke="#f07a40" stroke-width="1.6" stroke-linecap="round" stroke-opacity="0.05"/>
<path d="M60.0 437.8h0M60.0 456.8h0M55.5 443.3h0M55.5 451.3h0M64.5 443.3h0M64.5 451.3h0" fill="none" stroke="#f2b48a" stroke-width="1.4" stroke-linecap="round" stroke-opacity="0.05"/>
<path d="M55.5 447.3h0M64.5 447.3h0M263.0 474.4h0M263.0 484.4h0M270.8 474.4h0M270.8 484.4h0M259.5 479.4h0M274.3 479.4h0M290.4 474.4h0M290.4 484.4h0M298.2 474.4h0M298.2 484.4h0M286.9 479.4h0M301.7 479.4h0" fill="none" stroke="#f2b48a" stroke-width="1.6" stroke-linecap="round" stroke-opacity="0.05"/>
<path d="M60.0 447.3h0" fill="none" stroke="#ff2a10" stroke-width="2.5" stroke-linecap="round" stroke-opacity="0.15"/>
<path d="M180.7 447.3h0M172.3 447.3h0" fill="none" stroke="#ff2a10" stroke-width="2.7" stroke-linecap="round" stroke-opacity="0.8"/>
<path d="M184.2 447.3h0M168.8 447.3h0" fill="none" stroke="#ff2a10" stroke-width="2.5" stroke-linecap="round" stroke-opacity="0.7"/>
<path d="M187.7 447.3h0M165.3 447.3h0" fill="none" stroke="#f07a40" stroke-width="1.9" stroke-linecap="round" stroke-opacity="0.55"/>
<path d="M181.7 442.3h0M181.7 452.3h0M171.3 442.3h0M171.3 452.3h0" fill="none" stroke="#ff2a10" stroke-width="2.3" stroke-linecap="round" stroke-opacity="0.65"/>
<path d="M185.2 442.3h0M185.2 452.3h0M167.8 442.3h0M167.8 452.3h0" fill="none" stroke="#8f80ff" stroke-width="2.1" stroke-linecap="round" stroke-opacity="0.55"/>
<path d="M180.7 438.8h0M180.7 455.8h0M172.3 438.8h0M172.3 455.8h0" fill="none" stroke="#f07a40" stroke-width="1.7" stroke-linecap="round" stroke-opacity="0.3"/>
<path d="M178.4 444.8h0M178.4 449.8h0M174.6 444.8h0M174.6 449.8h0" fill="none" stroke="#1a1aff" stroke-width="1.7" stroke-linecap="round" stroke-opacity="0.5"/>
<path d="M178.4 447.3h0M174.6 447.3h0" fill="none" stroke="#ff2a10" stroke-width="2.3" stroke-linecap="round" stroke-opacity="0.7"/>
<path d="M189.2 442.3h0M189.2 452.3h0M163.8 442.3h0M163.8 452.3h0" fill="none" stroke="#c8c0ff" stroke-width="1.7" stroke-linecap="round" stroke-opacity="0.4"/>
<path d="M204.9 476.9h0M204.9 481.9h0M208.1 476.9h0M208.1 481.9h0M200.5 476.9h0M200.5 481.9h0M212.5 476.9h0M212.5 481.9h0" fill="none" stroke="#c8c0ff" stroke-width="1.6" stroke-linecap="round" stroke-opacity="0.3"/>
<path d="M202.6 476.9h0M202.6 481.9h0M210.4 476.9h0M210.4 481.9h0" fill="none" stroke="#f07a40" stroke-width="1.8" stroke-linecap="round" stroke-opacity="0.55"/>
<path d="M202.6 474.4h0M202.6 484.4h0M210.4 474.4h0M210.4 484.4h0M199.1 479.4h0M213.9 479.4h0" fill="none" stroke="#f2b48a" stroke-width="1.6" stroke-linecap="round" stroke-opacity="0.4"/>
<path d="M202.3 479.4h0M210.7 479.4h0" fill="none" stroke="#f07a40" stroke-width="1.8" stroke-linecap="round" stroke-opacity="0.6"/>
<path d="M206.5 474.4h0M206.5 484.4h0" fill="none" stroke="#ff2a10" stroke-width="1.9" stroke-linecap="round" stroke-opacity="0.55"/>
<path d="M205.7 479.4L207.3 479.4" fill="none" stroke="#ff2a10" stroke-width="2.4" stroke-linecap="round" stroke-opacity="0.9"/>
<path d="M235.4 476.9h0M235.4 481.9h0M238.6 476.9h0M238.6 481.9h0M231.0 476.9h0M231.0 481.9h0M243.0 476.9h0M243.0 481.9h0" fill="none" stroke="#c8c0ff" stroke-width="1.6" stroke-linecap="round" stroke-opacity="0.15"/>
<path d="M233.1 476.9h0M233.1 481.9h0M240.9 476.9h0M240.9 481.9h0M232.8 479.4h0M241.2 479.4h0" fill="none" stroke="#f07a40" stroke-width="1.8" stroke-linecap="round" stroke-opacity="0.3"/>
<path d="M233.1 474.4h0M233.1 484.4h0M240.9 474.4h0M240.9 484.4h0M229.6 479.4h0M244.4 479.4h0" fill="none" stroke="#f2b48a" stroke-width="1.6" stroke-linecap="round" stroke-opacity="0.2"/>
<path d="M237.0 474.4h0M237.0 484.4h0" fill="none" stroke="#ff2a10" stroke-width="1.9" stroke-linecap="round" stroke-opacity="0.3"/>
<path d="M236.2 479.4L237.8 479.4" fill="none" stroke="#ff2a10" stroke-width="2.4" stroke-linecap="round" stroke-opacity="0.45"/>
<path d="M265.3 476.9h0M265.3 481.9h0M268.5 476.9h0M268.5 481.9h0M260.9 476.9h0M260.9 481.9h0M272.9 476.9h0M272.9 481.9h0M292.7 476.9h0M292.7 481.9h0M295.9 476.9h0M295.9 481.9h0M288.3 476.9h0M288.3 481.9h0M300.3 476.9h0M300.3 481.9h0" fill="none" stroke="#c8c0ff" stroke-width="1.6" stroke-linecap="round" stroke-opacity="0.05"/>
<path d="M263.0 476.9h0M263.0 481.9h0M270.8 476.9h0M270.8 481.9h0M262.7 479.4h0M271.1 479.4h0" fill="none" stroke="#f07a40" stroke-width="1.8" stroke-linecap="round" stroke-opacity="0.1"/>
<path d="M266.9 474.4h0M266.9 484.4h0" fill="none" stroke="#ff2a10" stroke-width="1.9" stroke-linecap="round" stroke-opacity="0.1"/>
<path d="M266.1 479.4L267.7 479.4" fill="none" stroke="#ff2a10" stroke-width="2.4" stroke-linecap="round" stroke-opacity="0.15"/>
<path d="M290.4 476.9h0M290.4 481.9h0M298.2 476.9h0M298.2 481.9h0M290.1 479.4h0M298.5 479.4h0" fill="none" stroke="#f07a40" stroke-width="1.8" stroke-linecap="round" stroke-opacity="0.05"/>
<path d="M294.3 474.4h0M294.3 484.4h0" fill="none" stroke="#ff2a10" stroke-width="1.9" stroke-linecap="round" stroke-opacity="0.05"/>
<path d="M293.5 479.4L295.1 479.4" fill="none" stroke="#ff2a10" stroke-width="2.4" stroke-linecap="round" stroke-opacity="0.1"/>
<circle cx="145.0" cy="479.4" r="6.5" fill="none" stroke="#c8c0ff" stroke-opacity="0.38" stroke-width="1.2"/>
<path d="M145.0 474.4h0M145.0 484.4h0" fill="none" stroke="#f07a40" stroke-width="1.6" stroke-linecap="round" stroke-opacity="0.5"/>
<path d="M145.0 469.9h0M145.0 488.9h0" fill="none" stroke="#f2b48a" stroke-width="1.4" stroke-linecap="round" stroke-opacity="0.4"/>
<path d="M140.5 479.4h0M149.5 479.4h0" fill="none" stroke="#f2b48a" stroke-width="1.6" stroke-linecap="round" stroke-opacity="0.45"/>
<path d="M140.5 475.4h0M140.5 483.4h0M149.5 475.4h0M149.5 483.4h0M113.9 469.9h0M113.9 488.9h0" fill="none" stroke="#f2b48a" stroke-width="1.4" stroke-linecap="round" stroke-opacity="0.3"/>
<path d="M145.0 479.4h0" fill="none" stroke="#ff2a10" stroke-width="2.5" stroke-linecap="round"/>
<path d="M113.9 474.4h0M113.9 484.4h0" fill="none" stroke="#f07a40" stroke-width="1.6" stroke-linecap="round" stroke-opacity="0.4"/>
<path d="M109.4 479.4h0M118.4 479.4h0" fill="none" stroke="#f2b48a" stroke-width="1.6" stroke-linecap="round" stroke-opacity="0.4"/>
<path d="M109.4 475.4h0M109.4 483.4h0M118.4 475.4h0M118.4 483.4h0" fill="none" stroke="#f2b48a" stroke-width="1.4" stroke-linecap="round" stroke-opacity="0.25"/>
<path d="M113.9 479.4h0" fill="none" stroke="#ff2a10" stroke-width="2.5" stroke-linecap="round" stroke-opacity="0.85"/>
<circle cx="83.0" cy="479.4" r="6.5" fill="none" stroke="#c8c0ff" stroke-opacity="0.11" stroke-width="1.2"/>
<path d="M83.0 474.4h0M83.0 484.4h0" fill="none" stroke="#f07a40" stroke-width="1.6" stroke-linecap="round" stroke-opacity="0.15"/>
<path d="M83.0 469.9h0M83.0 488.9h0M78.5 475.4h0M78.5 483.4h0M87.5 475.4h0M87.5 483.4h0" fill="none" stroke="#f2b48a" stroke-width="1.4" stroke-linecap="round" stroke-opacity="0.1"/>
<path d="M78.5 479.4h0M87.5 479.4h0" fill="none" stroke="#f2b48a" stroke-width="1.6" stroke-linecap="round" stroke-opacity="0.15"/>
<path d="M83.0 479.4h0" fill="none" stroke="#ff2a10" stroke-width="2.5" stroke-linecap="round" stroke-opacity="0.3"/>
<path d="M60.0 474.4h0M60.0 484.4h0" fill="none" stroke="#f07a40" stroke-width="1.6" stroke-linecap="round" stroke-opacity="0.05"/>
<path d="M60.0 469.9h0M60.0 488.9h0M55.5 475.4h0M55.5 483.4h0M64.5 475.4h0M64.5 483.4h0" fill="none" stroke="#f2b48a" stroke-width="1.4" stroke-linecap="round" stroke-opacity="0.05"/>
<path d="M55.5 479.4h0M64.5 479.4h0M263.0 506.4h0M263.0 516.5h0M270.8 506.4h0M270.8 516.5h0M259.5 511.4h0M274.3 511.4h0M290.4 506.4h0M290.4 516.5h0M298.2 506.4h0M298.2 516.5h0M286.9 511.4h0M301.7 511.4h0" fill="none" stroke="#f2b48a" stroke-width="1.6" stroke-linecap="round" stroke-opacity="0.05"/>
<path d="M60.0 479.4h0" fill="none" stroke="#ff2a10" stroke-width="2.5" stroke-linecap="round" stroke-opacity="0.15"/>
<path d="M180.7 479.4h0M172.3 479.4h0" fill="none" stroke="#ff2a10" stroke-width="2.7" stroke-linecap="round" stroke-opacity="0.8"/>
<path d="M184.2 479.4h0M168.8 479.4h0" fill="none" stroke="#ff2a10" stroke-width="2.5" stroke-linecap="round" stroke-opacity="0.7"/>
<path d="M187.7 479.4h0M165.3 479.4h0" fill="none" stroke="#f07a40" stroke-width="1.9" stroke-linecap="round" stroke-opacity="0.55"/>
<path d="M181.7 474.4h0M181.7 484.4h0M171.3 474.4h0M171.3 484.4h0" fill="none" stroke="#ff2a10" stroke-width="2.3" stroke-linecap="round" stroke-opacity="0.65"/>
<path d="M185.2 474.4h0M185.2 484.4h0M167.8 474.4h0M167.8 484.4h0" fill="none" stroke="#8f80ff" stroke-width="2.1" stroke-linecap="round" stroke-opacity="0.55"/>
<path d="M180.7 470.9h0M180.7 487.9h0M172.3 470.9h0M172.3 487.9h0" fill="none" stroke="#f07a40" stroke-width="1.7" stroke-linecap="round" stroke-opacity="0.3"/>
<path d="M178.4 476.9h0M178.4 481.9h0M174.6 476.9h0M174.6 481.9h0" fill="none" stroke="#1a1aff" stroke-width="1.7" stroke-linecap="round" stroke-opacity="0.5"/>
<path d="M178.4 479.4h0M174.6 479.4h0" fill="none" stroke="#ff2a10" stroke-width="2.3" stroke-linecap="round" stroke-opacity="0.7"/>
<path d="M189.2 474.4h0M189.2 484.4h0M163.8 474.4h0M163.8 484.4h0" fill="none" stroke="#c8c0ff" stroke-width="1.7" stroke-linecap="round" stroke-opacity="0.4"/>
<path d="M204.9 508.9h0M204.9 514.0h0M208.1 508.9h0M208.1 514.0h0M200.5 508.9h0M200.5 514.0h0M212.5 508.9h0M212.5 514.0h0" fill="none" stroke="#c8c0ff" stroke-width="1.6" stroke-linecap="round" stroke-opacity="0.3"/>
<path d="M202.6 508.9h0M202.6 514.0h0M210.4 508.9h0M210.4 514.0h0" fill="none" stroke="#f07a40" stroke-width="1.8" stroke-linecap="round" stroke-opacity="0.55"/>
<path d="M202.6 506.4h0M202.6 516.5h0M210.4 506.4h0M210.4 516.5h0M199.1 511.4h0M213.9 511.4h0" fill="none" stroke="#f2b48a" stroke-width="1.6" stroke-linecap="round" stroke-opacity="0.4"/>
<path d="M202.3 511.4h0M210.7 511.4h0" fill="none" stroke="#f07a40" stroke-width="1.8" stroke-linecap="round" stroke-opacity="0.6"/>
<path d="M206.5 506.4h0M206.5 516.5h0" fill="none" stroke="#ff2a10" stroke-width="1.9" stroke-linecap="round" stroke-opacity="0.55"/>
<path d="M205.7 511.4L207.3 511.4" fill="none" stroke="#ff2a10" stroke-width="2.4" stroke-linecap="round" stroke-opacity="0.9"/>
<path d="M235.4 508.9h0M235.4 514.0h0M238.6 508.9h0M238.6 514.0h0M231.0 508.9h0M231.0 514.0h0M243.0 508.9h0M243.0 514.0h0" fill="none" stroke="#c8c0ff" stroke-width="1.6" stroke-linecap="round" stroke-opacity="0.15"/>
<path d="M233.1 508.9h0M233.1 514.0h0M240.9 508.9h0M240.9 514.0h0M232.8 511.4h0M241.2 511.4h0" fill="none" stroke="#f07a40" stroke-width="1.8" stroke-linecap="round" stroke-opacity="0.3"/>
<path d="M233.1 506.4h0M233.1 516.5h0M240.9 506.4h0M240.9 516.5h0M229.6 511.4h0M244.4 511.4h0" fill="none" stroke="#f2b48a" stroke-width="1.6" stroke-linecap="round" stroke-opacity="0.2"/>
<path d="M237.0 506.4h0M237.0 516.5h0" fill="none" stroke="#ff2a10" stroke-width="1.9" stroke-linecap="round" stroke-opacity="0.3"/>
<path d="M236.2 511.4L237.8 511.4" fill="none" stroke="#ff2a10" stroke-width="2.4" stroke-linecap="round" stroke-opacity="0.45"/>
<path d="M265.3 508.9h0M265.3 514.0h0M268.5 508.9h0M268.5 514.0h0M260.9 508.9h0M260.9 514.0h0M272.9 508.9h0M272.9 514.0h0M292.7 508.9h0M292.7 514.0h0M295.9 508.9h0M295.9 514.0h0M288.3 508.9h0M288.3 514.0h0M300.3 508.9h0M300.3 514.0h0" fill="none" stroke="#c8c0ff" stroke-width="1.6" stroke-linecap="round" stroke-opacity="0.05"/>
<path d="M263.0 508.9h0M263.0 514.0h0M270.8 508.9h0M270.8 514.0h0M262.7 511.4h0M271.1 511.4h0" fill="none" stroke="#f07a40" stroke-width="1.8" stroke-linecap="round" stroke-opacity="0.1"/>
<path d="M266.9 506.4h0M266.9 516.5h0" fill="none" stroke="#ff2a10" stroke-width="1.9" stroke-linecap="round" stroke-opacity="0.1"/>
<path d="M266.1 511.4L267.7 511.4" fill="none" stroke="#ff2a10" stroke-width="2.4" stroke-linecap="round" stroke-opacity="0.15"/>
<path d="M290.4 508.9h0M290.4 514.0h0M298.2 508.9h0M298.2 514.0h0M290.1 511.4h0M298.5 511.4h0" fill="none" stroke="#f07a40" stroke-width="1.8" stroke-linecap="round" stroke-opacity="0.05"/>
<path d="M294.3 506.4h0M294.3 516.5h0" fill="none" stroke="#ff2a10" stroke-width="1.9" stroke-linecap="round" stroke-opacity="0.05"/>
<path d="M293.5 511.4L295.1 511.4" fill="none" stroke="#ff2a10" stroke-width="2.4" stroke-linecap="round" stroke-opacity="0.1"/>
<circle cx="145.0" cy="511.4" r="6.5" fill="none" stroke="#c8c0ff" stroke-opacity="0.38" stroke-width="1.2"/>
<path d="M145.0 506.4h0M145.0 516.5h0" fill="none" stroke="#f07a40" stroke-width="1.6" stroke-linecap="round" stroke-opacity="0.5"/>
<path d="M145.0 501.9h0M145.0 521.0h0" fill="none" stroke="#f2b48a" stroke-width="1.4" stroke-linecap="round" stroke-opacity="0.4"/>
<path d="M140.5 511.4h0M149.5 511.4h0" fill="none" stroke="#f2b48a" stroke-width="1.6" stroke-linecap="round" stroke-opacity="0.45"/>
<path d="M140.5 507.4h0M140.5 515.5h0M149.5 507.4h0M149.5 515.5h0M113.9 501.9h0M113.9 521.0h0" fill="none" stroke="#f2b48a" stroke-width="1.4" stroke-linecap="round" stroke-opacity="0.3"/>
<path d="M145.0 511.4h0" fill="none" stroke="#ff2a10" stroke-width="2.5" stroke-linecap="round"/>
<path d="M113.9 506.4h0M113.9 516.5h0" fill="none" stroke="#f07a40" stroke-width="1.6" stroke-linecap="round" stroke-opacity="0.4"/>
<path d="M109.4 511.4h0M118.4 511.4h0" fill="none" stroke="#f2b48a" stroke-width="1.6" stroke-linecap="round" stroke-opacity="0.4"/>
<path d="M109.4 507.4h0M109.4 515.5h0M118.4 507.4h0M118.4 515.5h0" fill="none" stroke="#f2b48a" stroke-width="1.4" stroke-linecap="round" stroke-opacity="0.25"/>
<path d="M113.9 511.4h0" fill="none" stroke="#ff2a10" stroke-width="2.5" stroke-linecap="round" stroke-opacity="0.85"/>
<circle cx="83.0" cy="511.4" r="6.5" fill="none" stroke="#c8c0ff" stroke-opacity="0.11" stroke-width="1.2"/>
<path d="M83.0 506.4h0M83.0 516.5h0" fill="none" stroke="#f07a40" stroke-width="1.6" stroke-linecap="round" stroke-opacity="0.15"/>
<path d="M83.0 501.9h0M83.0 521.0h0M78.5 507.4h0M78.5 515.5h0M87.5 507.4h0M87.5 515.5h0" fill="none" stroke="#f2b48a" stroke-width="1.4" stroke-linecap="round" stroke-opacity="0.1"/>
<path d="M78.5 511.4h0M87.5 511.4h0" fill="none" stroke="#f2b48a" stroke-width="1.6" stroke-linecap="round" stroke-opacity="0.15"/>
<path d="M83.0 511.4h0" fill="none" stroke="#ff2a10" stroke-width="2.5" stroke-linecap="round" stroke-opacity="0.3"/>
<path d="M60.0 506.4h0M60.0 516.5h0" fill="none" stroke="#f07a40" stroke-width="1.6" stroke-linecap="round" stroke-opacity="0.05"/>
<path d="M60.0 501.9h0M60.0 521.0h0M55.5 507.4h0M55.5 515.5h0M64.5 507.4h0M64.5 515.5h0" fill="none" stroke="#f2b48a" stroke-width="1.4" stroke-linecap="round" stroke-opacity="0.05"/>
<path d="M55.5 511.4h0M64.5 511.4h0M263.0 538.5h0M263.0 548.5h0M270.8 538.5h0M270.8 548.5h0M259.5 543.5h0M274.3 543.5h0M290.4 538.5h0M290.4 548.5h0M298.2 538.5h0M298.2 548.5h0M286.9 543.5h0M301.7 543.5h0" fill="none" stroke="#f2b48a" stroke-width="1.6" stroke-linecap="round" stroke-opacity="0.05"/>
<path d="M60.0 511.4h0" fill="none" stroke="#ff2a10" stroke-width="2.5" stroke-linecap="round" stroke-opacity="0.15"/>
<path d="M180.7 511.4h0M172.3 511.4h0" fill="none" stroke="#ff2a10" stroke-width="2.7" stroke-linecap="round" stroke-opacity="0.8"/>
<path d="M184.2 511.4h0M168.8 511.4h0" fill="none" stroke="#ff2a10" stroke-width="2.5" stroke-linecap="round" stroke-opacity="0.7"/>
<path d="M187.7 511.4h0M165.3 511.4h0" fill="none" stroke="#f07a40" stroke-width="1.9" stroke-linecap="round" stroke-opacity="0.55"/>
<path d="M181.7 506.4h0M181.7 516.5h0M171.3 506.4h0M171.3 516.5h0" fill="none" stroke="#ff2a10" stroke-width="2.3" stroke-linecap="round" stroke-opacity="0.65"/>
<path d="M185.2 506.4h0M185.2 516.5h0M167.8 506.4h0M167.8 516.5h0" fill="none" stroke="#8f80ff" stroke-width="2.1" stroke-linecap="round" stroke-opacity="0.55"/>
<path d="M180.7 502.9h0M180.7 520.0h0M172.3 502.9h0M172.3 520.0h0" fill="none" stroke="#f07a40" stroke-width="1.7" stroke-linecap="round" stroke-opacity="0.3"/>
<path d="M178.4 508.9h0M178.4 514.0h0M174.6 508.9h0M174.6 514.0h0" fill="none" stroke="#1a1aff" stroke-width="1.7" stroke-linecap="round" stroke-opacity="0.5"/>
<path d="M178.4 511.4h0M174.6 511.4h0" fill="none" stroke="#ff2a10" stroke-width="2.3" stroke-linecap="round" stroke-opacity="0.7"/>
<path d="M189.2 506.4h0M189.2 516.5h0M163.8 506.4h0M163.8 516.5h0" fill="none" stroke="#c8c0ff" stroke-width="1.7" stroke-linecap="round" stroke-opacity="0.4"/>
<path d="M204.9 541.0h0M204.9 546.0h0M208.1 541.0h0M208.1 546.0h0M200.5 541.0h0M200.5 546.0h0M212.5 541.0h0M212.5 546.0h0" fill="none" stroke="#c8c0ff" stroke-width="1.6" stroke-linecap="round" stroke-opacity="0.3"/>
<path d="M202.6 541.0h0M202.6 546.0h0M210.4 541.0h0M210.4 546.0h0" fill="none" stroke="#f07a40" stroke-width="1.8" stroke-linecap="round" stroke-opacity="0.55"/>
<path d="M202.6 538.5h0M202.6 548.5h0M210.4 538.5h0M210.4 548.5h0M199.1 543.5h0M213.9 543.5h0" fill="none" stroke="#f2b48a" stroke-width="1.6" stroke-linecap="round" stroke-opacity="0.4"/>
<path d="M202.3 543.5h0M210.7 543.5h0" fill="none" stroke="#f07a40" stroke-width="1.8" stroke-linecap="round" stroke-opacity="0.6"/>
<path d="M206.5 538.5h0M206.5 548.5h0" fill="none" stroke="#ff2a10" stroke-width="1.9" stroke-linecap="round" stroke-opacity="0.55"/>
<path d="M205.7 543.5L207.3 543.5" fill="none" stroke="#ff2a10" stroke-width="2.4" stroke-linecap="round" stroke-opacity="0.9"/>
<path d="M235.4 541.0h0M235.4 546.0h0M238.6 541.0h0M238.6 546.0h0M231.0 541.0h0M231.0 546.0h0M243.0 541.0h0M243.0 546.0h0" fill="none" stroke="#c8c0ff" stroke-width="1.6" stroke-linecap="round" stroke-opacity="0.15"/>
<path d="M233.1 541.0h0M233.1 546.0h0M240.9 541.0h0M240.9 546.0h0M232.8 543.5h0M241.2 543.5h0" fill="none" stroke="#f07a40" stroke-width="1.8" stroke-linecap="round" stroke-opacity="0.3"/>
<path d="M233.1 538.5h0M233.1 548.5h0M240.9 538.5h0M240.9 548.5h0M229.6 543.5h0M244.4 543.5h0" fill="none" stroke="#f2b48a" stroke-width="1.6" stroke-linecap="round" stroke-opacity="0.2"/>
<path d="M237.0 538.5h0M237.0 548.5h0" fill="none" stroke="#ff2a10" stroke-width="1.9" stroke-linecap="round" stroke-opacity="0.3"/>
<path d="M236.2 543.5L237.8 543.5" fill="none" stroke="#ff2a10" stroke-width="2.4" stroke-linecap="round" stroke-opacity="0.45"/>
<path d="M265.3 541.0h0M265.3 546.0h0M268.5 541.0h0M268.5 546.0h0M260.9 541.0h0M260.9 546.0h0M272.9 541.0h0M272.9 546.0h0M292.7 541.0h0M292.7 546.0h0M295.9 541.0h0M295.9 546.0h0M288.3 541.0h0M288.3 546.0h0M300.3 541.0h0M300.3 546.0h0" fill="none" stroke="#c8c0ff" stroke-width="1.6" stroke-linecap="round" stroke-opacity="0.05"/>
<path d="M263.0 541.0h0M263.0 546.0h0M270.8 541.0h0M270.8 546.0h0M262.7 543.5h0M271.1 543.5h0" fill="none" stroke="#f07a40" stroke-width="1.8" stroke-linecap="round" stroke-opacity="0.1"/>
<path d="M266.9 538.5h0M266.9 548.5h0" fill="none" stroke="#ff2a10" stroke-width="1.9" stroke-linecap="round" stroke-opacity="0.1"/>
<path d="M266.1 543.5L267.7 543.5" fill="none" stroke="#ff2a10" stroke-width="2.4" stroke-linecap="round" stroke-opacity="0.15"/>
<path d="M290.4 541.0h0M290.4 546.0h0M298.2 541.0h0M298.2 546.0h0M290.1 543.5h0M298.5 543.5h0" fill="none" stroke="#f07a40" stroke-width="1.8" stroke-linecap="round" stroke-opacity="0.05"/>
<path d="M294.3 538.5h0M294.3 548.5h0" fill="none" stroke="#ff2a10" stroke-width="1.9" stroke-linecap="round" stroke-opacity="0.05"/>
<path d="M293.5 543.5L295.1 543.5" fill="none" stroke="#ff2a10" stroke-width="2.4" stroke-linecap="round" stroke-opacity="0.1"/>
<circle cx="145.0" cy="543.5" r="6.5" fill="none" stroke="#c8c0ff" stroke-opacity="0.38" stroke-width="1.2"/>
<path d="M145.0 538.5h0M145.0 548.5h0" fill="none" stroke="#f07a40" stroke-width="1.6" stroke-linecap="round" stroke-opacity="0.5"/>
<path d="M145.0 534.0h0M145.0 553.0h0" fill="none" stroke="#f2b48a" stroke-width="1.4" stroke-linecap="round" stroke-opacity="0.4"/>
<path d="M140.5 543.5h0M149.5 543.5h0" fill="none" stroke="#f2b48a" stroke-width="1.6" stroke-linecap="round" stroke-opacity="0.45"/>
<path d="M140.5 539.5h0M140.5 547.5h0M149.5 539.5h0M149.5 547.5h0M113.9 534.0h0M113.9 553.0h0" fill="none" stroke="#f2b48a" stroke-width="1.4" stroke-linecap="round" stroke-opacity="0.3"/>
<path d="M145.0 543.5h0" fill="none" stroke="#ff2a10" stroke-width="2.5" stroke-linecap="round"/>
<path d="M113.9 538.5h0M113.9 548.5h0" fill="none" stroke="#f07a40" stroke-width="1.6" stroke-linecap="round" stroke-opacity="0.4"/>
<path d="M109.4 543.5h0M118.4 543.5h0" fill="none" stroke="#f2b48a" stroke-width="1.6" stroke-linecap="round" stroke-opacity="0.4"/>
<path d="M109.4 539.5h0M109.4 547.5h0M118.4 539.5h0M118.4 547.5h0" fill="none" stroke="#f2b48a" stroke-width="1.4" stroke-linecap="round" stroke-opacity="0.25"/>
<path d="M113.9 543.5h0" fill="none" stroke="#ff2a10" stroke-width="2.5" stroke-linecap="round" stroke-opacity="0.85"/>
<circle cx="83.0" cy="543.5" r="6.5" fill="none" stroke="#c8c0ff" stroke-opacity="0.11" stroke-width="1.2"/>
<path d="M83.0 538.5h0M83.0 548.5h0" fill="none" stroke="#f07a40" stroke-width="1.6" stroke-linecap="round" stroke-opacity="0.15"/>
<path d="M83.0 534.0h0M83.0 553.0h0M78.5 539.5h0M78.5 547.5h0M87.5 539.5h0M87.5 547.5h0" fill="none" stroke="#f2b48a" stroke-width="1.4" stroke-linecap="round" stroke-opacity="0.1"/>
<path d="M78.5 543.5h0M87.5 543.5h0" fill="none" stroke="#f2b48a" stroke-width="1.6" stroke-linecap="round" stroke-opacity="0.15"/>
<path d="M83.0 543.5h0" fill="none" stroke="#ff2a10" stroke-width="2.5" stroke-linecap="round" stroke-opacity="0.3"/>
<path d="M60.0 538.5h0M60.0 548.5h0" fill="none" stroke="#f07a40" stroke-width="1.6" stroke-linecap="round" stroke-opacity="0.05"/>
<path d="M60.0 534.0h0M60.0 553.0h0M55.5 539.5h0M55.5 547.5h0M64.5 539.5h0M64.5 547.5h0" fill="none" stroke="#f2b48a" stroke-width="1.4" stroke-linecap="round" stroke-opacity="0.05"/>
<path d="M55.5 543.5h0M64.5 543.5h0M263.0 570.5h0M263.0 580.5h0M270.8 570.5h0M270.8 580.5h0M259.5 575.5h0M274.3 575.5h0M290.4 570.5h0M290.4 580.5h0M298.2 570.5h0M298.2 580.5h0M286.9 575.5h0M301.7 575.5h0" fill="none" stroke="#f2b48a" stroke-width="1.6" stroke-linecap="round" stroke-opacity="0.05"/>
<path d="M60.0 543.5h0" fill="none" stroke="#ff2a10" stroke-width="2.5" stroke-linecap="round" stroke-opacity="0.15"/>
<path d="M180.7 543.5h0M172.3 543.5h0" fill="none" stroke="#ff2a10" stroke-width="2.7" stroke-linecap="round" stroke-opacity="0.8"/>
<path d="M184.2 543.5h0M168.8 543.5h0" fill="none" stroke="#ff2a10" stroke-width="2.5" stroke-linecap="round" stroke-opacity="0.7"/>
<path d="M187.7 543.5h0M165.3 543.5h0" fill="none" stroke="#f07a40" stroke-width="1.9" stroke-linecap="round" stroke-opacity="0.55"/>
<path d="M181.7 538.5h0M181.7 548.5h0M171.3 538.5h0M171.3 548.5h0" fill="none" stroke="#ff2a10" stroke-width="2.3" stroke-linecap="round" stroke-opacity="0.65"/>
<path d="M185.2 538.5h0M185.2 548.5h0M167.8 538.5h0M167.8 548.5h0" fill="none" stroke="#8f80ff" stroke-width="2.1" stroke-linecap="round" stroke-opacity="0.55"/>
<path d="M180.7 535.0h0M180.7 552.0h0M172.3 535.0h0M172.3 552.0h0" fill="none" stroke="#f07a40" stroke-width="1.7" stroke-linecap="round" stroke-opacity="0.3"/>
<path d="M178.4 541.0h0M178.4 546.0h0M174.6 541.0h0M174.6 546.0h0" fill="none" stroke="#1a1aff" stroke-width="1.7" stroke-linecap="round" stroke-opacity="0.5"/>
<path d="M178.4 543.5h0M174.6 543.5h0" fill="none" stroke="#ff2a10" stroke-width="2.3" stroke-linecap="round" stroke-opacity="0.7"/>
<path d="M189.2 538.5h0M189.2 548.5h0M163.8 538.5h0M163.8 548.5h0" fill="none" stroke="#c8c0ff" stroke-width="1.7" stroke-linecap="round" stroke-opacity="0.4"/>
<path d="M204.9 573.0h0M204.9 578.0h0M208.1 573.0h0M208.1 578.0h0M200.5 573.0h0M200.5 578.0h0M212.5 573.0h0M212.5 578.0h0" fill="none" stroke="#c8c0ff" stroke-width="1.6" stroke-linecap="round" stroke-opacity="0.3"/>
<path d="M202.6 573.0h0M202.6 578.0h0M210.4 573.0h0M210.4 578.0h0" fill="none" stroke="#f07a40" stroke-width="1.8" stroke-linecap="round" stroke-opacity="0.55"/>
<path d="M202.6 570.5h0M202.6 580.5h0M210.4 570.5h0M210.4 580.5h0M199.1 575.5h0M213.9 575.5h0" fill="none" stroke="#f2b48a" stroke-width="1.6" stroke-linecap="round" stroke-opacity="0.4"/>
<path d="M202.3 575.5h0M210.7 575.5h0" fill="none" stroke="#f07a40" stroke-width="1.8" stroke-linecap="round" stroke-opacity="0.6"/>
<path d="M206.5 570.5h0M206.5 580.5h0" fill="none" stroke="#ff2a10" stroke-width="1.9" stroke-linecap="round" stroke-opacity="0.55"/>
<path d="M205.7 575.5L207.3 575.5" fill="none" stroke="#ff2a10" stroke-width="2.4" stroke-linecap="round" stroke-opacity="0.9"/>
<path d="M235.4 573.0h0M235.4 578.0h0M238.6 573.0h0M238.6 578.0h0M231.0 573.0h0M231.0 578.0h0M243.0 573.0h0M243.0 578.0h0" fill="none" stroke="#c8c0ff" stroke-width="1.6" stroke-linecap="round" stroke-opacity="0.15"/>
<path d="M233.1 573.0h0M233.1 578.0h0M240.9 573.0h0M240.9 578.0h0M232.8 575.5h0M241.2 575.5h0" fill="none" stroke="#f07a40" stroke-width="1.8" stroke-linecap="round" stroke-opacity="0.3"/>
<path d="M233.1 570.5h0M233.1 580.5h0M240.9 570.5h0M240.9 580.5h0M229.6 575.5h0M244.4 575.5h0" fill="none" stroke="#f2b48a" stroke-width="1.6" stroke-linecap="round" stroke-opacity="0.2"/>
<path d="M237.0 570.5h0M237.0 580.5h0" fill="none" stroke="#ff2a10" stroke-width="1.9" stroke-linecap="round" stroke-opacity="0.3"/>
<path d="M236.2 575.5L237.8 575.5" fill="none" stroke="#ff2a10" stroke-width="2.4" stroke-linecap="round" stroke-opacity="0.45"/>
<path d="M265.3 573.0h0M265.3 578.0h0M268.5 573.0h0M268.5 578.0h0M260.9 573.0h0M260.9 578.0h0M272.9 573.0h0M272.9 578.0h0M292.7 573.0h0M292.7 578.0h0M295.9 573.0h0M295.9 578.0h0M288.3 573.0h0M288.3 578.0h0M300.3 573.0h0M300.3 578.0h0" fill="none" stroke="#c8c0ff" stroke-width="1.6" stroke-linecap="round" stroke-opacity="0.05"/>
<path d="M263.0 573.0h0M263.0 578.0h0M270.8 573.0h0M270.8 578.0h0M262.7 575.5h0M271.1 575.5h0" fill="none" stroke="#f07a40" stroke-width="1.8" stroke-linecap="round" stroke-opacity="0.1"/>
<path d="M266.9 570.5h0M266.9 580.5h0" fill="none" stroke="#ff2a10" stroke-width="1.9" stroke-linecap="round" stroke-opacity="0.1"/>
<path d="M266.1 575.5L267.7 575.5" fill="none" stroke="#ff2a10" stroke-width="2.4" stroke-linecap="round" stroke-opacity="0.15"/>
<path d="M290.4 573.0h0M290.4 578.0h0M298.2 573.0h0M298.2 578.0h0M290.1 575.5h0M298.5 575.5h0" fill="none" stroke="#f07a40" stroke-width="1.8" stroke-linecap="round" stroke-opacity="0.05"/>
<path d="M294.3 570.5h0M294.3 580.5h0" fill="none" stroke="#ff2a10" stroke-width="1.9" stroke-linecap="round" stroke-opacity="0.05"/>
<path d="M293.5 575.5L295.1 575.5" fill="none" stroke="#ff2a10" stroke-width="2.4" stroke-linecap="round" stroke-opacity="0.1"/>
<circle cx="145.0" cy="575.5" r="6.5" fill="none" stroke="#c8c0ff" stroke-opacity="0.38" stroke-width="1.2"/>
<path d="M145.0 570.5h0M145.0 580.5h0" fill="none" stroke="#f07a40" stroke-width="1.6" stroke-linecap="round" stroke-opacity="0.5"/>
<path d="M145.0 566.0h0M145.0 585.0h0" fill="none" stroke="#f2b48a" stroke-width="1.4" stroke-linecap="round" stroke-opacity="0.4"/>
<path d="M140.5 575.5h0M149.5 575.5h0" fill="none" stroke="#f2b48a" stroke-width="1.6" stroke-linecap="round" stroke-opacity="0.45"/>
<path d="M140.5 571.5h0M140.5 579.5h0M149.5 571.5h0M149.5 579.5h0M113.9 566.0h0M113.9 585.0h0" fill="none" stroke="#f2b48a" stroke-width="1.4" stroke-linecap="round" stroke-opacity="0.3"/>
<path d="M145.0 575.5h0" fill="none" stroke="#ff2a10" stroke-width="2.5" stroke-linecap="round"/>
<path d="M113.9 570.5h0M113.9 580.5h0" fill="none" stroke="#f07a40" stroke-width="1.6" stroke-linecap="round" stroke-opacity="0.4"/>
<path d="M109.4 575.5h0M118.4 575.5h0" fill="none" stroke="#f2b48a" stroke-width="1.6" stroke-linecap="round" stroke-opacity="0.4"/>
<path d="M109.4 571.5h0M109.4 579.5h0M118.4 571.5h0M118.4 579.5h0" fill="none" stroke="#f2b48a" stroke-width="1.4" stroke-linecap="round" stroke-opacity="0.25"/>
<path d="M113.9 575.5h0" fill="none" stroke="#ff2a10" stroke-width="2.5" stroke-linecap="round" stroke-opacity="0.85"/>
<circle cx="83.0" cy="575.5" r="6.5" fill="none" stroke="#c8c0ff" stroke-opacity="0.11" stroke-width="1.2"/>
<path d="M83.0 570.5h0M83.0 580.5h0" fill="none" stroke="#f07a40" stroke-width="1.6" stroke-linecap="round" stroke-opacity="0.15"/>
<path d="M83.0 566.0h0M83.0 585.0h0M78.5 571.5h0M78.5 579.5h0M87.5 571.5h0M87.5 579.5h0" fill="none" stroke="#f2b48a" stroke-width="1.4" stroke-linecap="round" stroke-opacity="0.1"/>
<path d="M78.5 575.5h0M87.5 575.5h0" fill="none" stroke="#f2b48a" stroke-width="1.6" stroke-linecap="round" stroke-opacity="0.15"/>
<path d="M83.0 575.5h0" fill="none" stroke="#ff2a10" stroke-width="2.5" stroke-linecap="round" stroke-opacity="0.3"/>
<path d="M60.0 570.5h0M60.0 580.5h0" fill="none" stroke="#f07a40" stroke-width="1.6" stroke-linecap="round" stroke-opacity="0.05"/>
<path d="M60.0 566.0h0M60.0 585.0h0M55.5 571.5h0M55.5 579.5h0M64.5 571.5h0M64.5 579.5h0" fill="none" stroke="#f2b48a" stroke-width="1.4" stroke-linecap="round" stroke-opacity="0.05"/>
<path d="M55.5 575.5h0M64.5 575.5h0M263.0 602.6h0M263.0 612.6h0M270.8 602.6h0M270.8 612.6h0M259.5 607.6h0M274.3 607.6h0M290.4 602.6h0M290.4 612.6h0M298.2 602.6h0M298.2 612.6h0M286.9 607.6h0M301.7 607.6h0" fill="none" stroke="#f2b48a" stroke-width="1.6" stroke-linecap="round" stroke-opacity="0.05"/>
<path d="M60.0 575.5h0" fill="none" stroke="#ff2a10" stroke-width="2.5" stroke-linecap="round" stroke-opacity="0.15"/>
<path d="M180.7 575.5h0M172.3 575.5h0" fill="none" stroke="#ff2a10" stroke-width="2.7" stroke-linecap="round" stroke-opacity="0.8"/>
<path d="M184.2 575.5h0M168.8 575.5h0" fill="none" stroke="#ff2a10" stroke-width="2.5" stroke-linecap="round" stroke-opacity="0.7"/>
<path d="M187.7 575.5h0M165.3 575.5h0" fill="none" stroke="#f07a40" stroke-width="1.9" stroke-linecap="round" stroke-opacity="0.55"/>
<path d="M181.7 570.5h0M181.7 580.5h0M171.3 570.5h0M171.3 580.5h0" fill="none" stroke="#ff2a10" stroke-width="2.3" stroke-linecap="round" stroke-opacity="0.65"/>
<path d="M185.2 570.5h0M185.2 580.5h0M167.8 570.5h0M167.8 580.5h0" fill="none" stroke="#8f80ff" stroke-width="2.1" stroke-linecap="round" stroke-opacity="0.55"/>
<path d="M180.7 567.0h0M180.7 584.0h0M172.3 567.0h0M172.3 584.0h0" fill="none" stroke="#f07a40" stroke-width="1.7" stroke-linecap="round" stroke-opacity="0.3"/>
<path d="M178.4 573.0h0M178.4 578.0h0M174.6 573.0h0M174.6 578.0h0" fill="none" stroke="#1a1aff" stroke-width="1.7" stroke-linecap="round" stroke-opacity="0.5"/>
<path d="M178.4 575.5h0M174.6 575.5h0" fill="none" stroke="#ff2a10" stroke-width="2.3" stroke-linecap="round" stroke-opacity="0.7"/>
<path d="M189.2 570.5h0M189.2 580.5h0M163.8 570.5h0M163.8 580.5h0" fill="none" stroke="#c8c0ff" stroke-width="1.7" stroke-linecap="round" stroke-opacity="0.4"/>
<path d="M204.9 605.1h0M204.9 610.1h0M208.1 605.1h0M208.1 610.1h0M200.5 605.1h0M200.5 610.1h0M212.5 605.1h0M212.5 610.1h0" fill="none" stroke="#c8c0ff" stroke-width="1.6" stroke-linecap="round" stroke-opacity="0.3"/>
<path d="M202.6 605.1h0M202.6 610.1h0M210.4 605.1h0M210.4 610.1h0" fill="none" stroke="#f07a40" stroke-width="1.8" stroke-linecap="round" stroke-opacity="0.55"/>
<path d="M202.6 602.6h0M202.6 612.6h0M210.4 602.6h0M210.4 612.6h0M199.1 607.6h0M213.9 607.6h0" fill="none" stroke="#f2b48a" stroke-width="1.6" stroke-linecap="round" stroke-opacity="0.4"/>
<path d="M202.3 607.6h0M210.7 607.6h0" fill="none" stroke="#f07a40" stroke-width="1.8" stroke-linecap="round" stroke-opacity="0.6"/>
<path d="M206.5 602.6h0M206.5 612.6h0" fill="none" stroke="#ff2a10" stroke-width="1.9" stroke-linecap="round" stroke-opacity="0.55"/>
<path d="M205.7 607.6L207.3 607.6" fill="none" stroke="#ff2a10" stroke-width="2.4" stroke-linecap="round" stroke-opacity="0.9"/>
<path d="M235.4 605.1h0M235.4 610.1h0M238.6 605.1h0M238.6 610.1h0M231.0 605.1h0M231.0 610.1h0M243.0 605.1h0M243.0 610.1h0" fill="none" stroke="#c8c0ff" stroke-width="1.6" stroke-linecap="round" stroke-opacity="0.15"/>
<path d="M233.1 605.1h0M233.1 610.1h0M240.9 605.1h0M240.9 610.1h0M232.8 607.6h0M241.2 607.6h0" fill="none" stroke="#f07a40" stroke-width="1.8" stroke-linecap="round" stroke-opacity="0.3"/>
<path d="M233.1 602.6h0M233.1 612.6h0M240.9 602.6h0M240.9 612.6h0M229.6 607.6h0M244.4 607.6h0" fill="none" stroke="#f2b48a" stroke-width="1.6" stroke-linecap="round" stroke-opacity="0.2"/>
<path d="M237.0 602.6h0M237.0 612.6h0" fill="none" stroke="#ff2a10" stroke-width="1.9" stroke-linecap="round" stroke-opacity="0.3"/>
<path d="M236.2 607.6L237.8 607.6" fill="none" stroke="#ff2a10" stroke-width="2.4" stroke-linecap="round" stroke-opacity="0.45"/>
<path d="M265.3 605.1h0M265.3 610.1h0M268.5 605.1h0M268.5 610.1h0M260.9 605.1h0M260.9 610.1h0M272.9 605.1h0M272.9 610.1h0M292.7 605.1h0M292.7 610.1h0M295.9 605.1h0M295.9 610.1h0M288.3 605.1h0M288.3 610.1h0M300.3 605.1h0M300.3 610.1h0" fill="none" stroke="#c8c0ff" stroke-width="1.6" stroke-linecap="round" stroke-opacity="0.05"/>
<path d="M263.0 605.1h0M263.0 610.1h0M270.8 605.1h0M270.8 610.1h0M262.7 607.6h0M271.1 607.6h0" fill="none" stroke="#f07a40" stroke-width="1.8" stroke-linecap="round" stroke-opacity="0.1"/>
<path d="M266.9 602.6h0M266.9 612.6h0" fill="none" stroke="#ff2a10" stroke-width="1.9" stroke-linecap="round" stroke-opacity="0.1"/>
<path d="M266.1 607.6L267.7 607.6" fill="none" stroke="#ff2a10" stroke-width="2.4" stroke-linecap="round" stroke-opacity="0.15"/>
<path d="M290.4 605.1h0M290.4 610.1h0M298.2 605.1h0M298.2 610.1h0M290.1 607.6h0M298.5 607.6h0" fill="none" stroke="#f07a40" stroke-width="1.8" stroke-linecap="round" stroke-opacity="0.05"/>
<path d="M294.3 602.6h0M294.3 612.6h0" fill="none" stroke="#ff2a10" stroke-width="1.9" stroke-linecap="round" stroke-opacity="0.05"/>
<path d="M293.5 607.6L295.1 607.6" fill="none" stroke="#ff2a10" stroke-width="2.4" stroke-linecap="round" stroke-opacity="0.1"/>
<circle cx="145.0" cy="607.6" r="6.5" fill="none" stroke="#c8c0ff" stroke-opacity="0.38" stroke-width="1.2"/>
<path d="M145.0 602.6h0M145.0 612.6h0" fill="none" stroke="#f07a40" stroke-width="1.6" stroke-linecap="round" stroke-opacity="0.5"/>
<path d="M145.0 598.1h0M145.0 617.1h0" fill="none" stroke="#f2b48a" stroke-width="1.4" stroke-linecap="round" stroke-opacity="0.4"/>
<path d="M140.5 607.6h0M149.5 607.6h0" fill="none" stroke="#f2b48a" stroke-width="1.6" stroke-linecap="round" stroke-opacity="0.45"/>
<path d="M140.5 603.6h0M140.5 611.6h0M149.5 603.6h0M149.5 611.6h0M113.9 598.1h0M113.9 617.1h0" fill="none" stroke="#f2b48a" stroke-width="1.4" stroke-linecap="round" stroke-opacity="0.3"/>
<path d="M145.0 607.6h0" fill="none" stroke="#ff2a10" stroke-width="2.5" stroke-linecap="round"/>
<path d="M113.9 602.6h0M113.9 612.6h0" fill="none" stroke="#f07a40" stroke-width="1.6" stroke-linecap="round" stroke-opacity="0.4"/>
<path d="M109.4 607.6h0M118.4 607.6h0" fill="none" stroke="#f2b48a" stroke-width="1.6" stroke-linecap="round" stroke-opacity="0.4"/>
<path d="M109.4 603.6h0M109.4 611.6h0M118.4 603.6h0M118.4 611.6h0" fill="none" stroke="#f2b48a" stroke-width="1.4" stroke-linecap="round" stroke-opacity="0.25"/>
<path d="M113.9 607.6h0" fill="none" stroke="#ff2a10" stroke-width="2.5" stroke-linecap="round" stroke-opacity="0.85"/>
<circle cx="83.0" cy="607.6" r="6.5" fill="none" stroke="#c8c0ff" stroke-opacity="0.11" stroke-width="1.2"/>
<path d="M83.0 602.6h0M83.0 612.6h0" fill="none" stroke="#f07a40" stroke-width="1.6" stroke-linecap="round" stroke-opacity="0.15"/>
<path d="M83.0 598.1h0M83.0 617.1h0M78.5 603.6h0M78.5 611.6h0M87.5 603.6h0M87.5 611.6h0" fill="none" stroke="#f2b48a" stroke-width="1.4" stroke-linecap="round" stroke-opacity="0.1"/>
<path d="M78.5 607.6h0M87.5 607.6h0M235.4 364.7h0M235.4 369.7h0M238.6 364.7h0M238.6 369.7h0M231.0 364.7h0M231.0 369.7h0M243.0 364.7h0M243.0 369.7h0" fill="none" stroke="#f2b48a" stroke-width="1.6" stroke-linecap="round" stroke-opacity="0.15"/>
<path d="M83.0 607.6h0" fill="none" stroke="#ff2a10" stroke-width="2.5" stroke-linecap="round" stroke-opacity="0.3"/>
<path d="M60.0 602.6h0M60.0 612.6h0" fill="none" stroke="#f07a40" stroke-width="1.6" stroke-linecap="round" stroke-opacity="0.05"/>
<path d="M60.0 598.1h0M60.0 617.1h0M55.5 603.6h0M55.5 611.6h0M64.5 603.6h0M64.5 611.6h0" fill="none" stroke="#f2b48a" stroke-width="1.4" stroke-linecap="round" stroke-opacity="0.05"/>
<path d="M55.5 607.6h0M64.5 607.6h0M265.3 364.7h0M265.3 369.7h0M268.5 364.7h0M268.5 369.7h0M260.9 364.7h0M260.9 369.7h0M272.9 364.7h0M272.9 369.7h0M292.7 364.7h0M292.7 369.7h0M295.9 364.7h0M295.9 369.7h0M288.3 364.7h0M288.3 369.7h0M300.3 364.7h0M300.3 369.7h0" fill="none" stroke="#f2b48a" stroke-width="1.6" stroke-linecap="round" stroke-opacity="0.05"/>
<path d="M60.0 607.6h0" fill="none" stroke="#ff2a10" stroke-width="2.5" stroke-linecap="round" stroke-opacity="0.15"/>
<path d="M180.7 607.6h0M172.3 607.6h0" fill="none" stroke="#ff2a10" stroke-width="2.7" stroke-linecap="round" stroke-opacity="0.8"/>
<path d="M184.2 607.6h0M168.8 607.6h0" fill="none" stroke="#ff2a10" stroke-width="2.5" stroke-linecap="round" stroke-opacity="0.7"/>
<path d="M187.7 607.6h0M165.3 607.6h0" fill="none" stroke="#f07a40" stroke-width="1.9" stroke-linecap="round" stroke-opacity="0.55"/>
<path d="M181.7 602.6h0M181.7 612.6h0M171.3 602.6h0M171.3 612.6h0" fill="none" stroke="#ff2a10" stroke-width="2.3" stroke-linecap="round" stroke-opacity="0.65"/>
<path d="M185.2 602.6h0M185.2 612.6h0M167.8 602.6h0M167.8 612.6h0" fill="none" stroke="#8f80ff" stroke-width="2.1" stroke-linecap="round" stroke-opacity="0.55"/>
<path d="M180.7 599.1h0M180.7 616.1h0M172.3 599.1h0M172.3 616.1h0" fill="none" stroke="#f07a40" stroke-width="1.7" stroke-linecap="round" stroke-opacity="0.3"/>
<path d="M178.4 605.1h0M178.4 610.1h0M174.6 605.1h0M174.6 610.1h0" fill="none" stroke="#1a1aff" stroke-width="1.7" stroke-linecap="round" stroke-opacity="0.5"/>
<path d="M178.4 607.6h0M174.6 607.6h0" fill="none" stroke="#ff2a10" stroke-width="2.3" stroke-linecap="round" stroke-opacity="0.7"/>
<path d="M189.2 602.6h0M189.2 612.6h0M163.8 602.6h0M163.8 612.6h0" fill="none" stroke="#c8c0ff" stroke-width="1.7" stroke-linecap="round" stroke-opacity="0.4"/>
<path d="M204.9 364.7h0M204.9 369.7h0M208.1 364.7h0M208.1 369.7h0M200.5 364.7h0M200.5 369.7h0M212.5 364.7h0M212.5 369.7h0" fill="none" stroke="#f2b48a" stroke-width="1.6" stroke-linecap="round" stroke-opacity="0.3"/>
<path d="M202.6 364.7h0M202.6 369.7h0M210.4 364.7h0M210.4 369.7h0" fill="none" stroke="#8f80ff" stroke-width="1.8" stroke-linecap="round" stroke-opacity="0.55"/>
<path d="M202.6 362.2h0M202.6 372.2h0M210.4 362.2h0M210.4 372.2h0M199.1 367.2h0M213.9 367.2h0" fill="none" stroke="#c8c0ff" stroke-width="1.6" stroke-linecap="round" stroke-opacity="0.4"/>
<path d="M202.3 367.2h0M210.7 367.2h0" fill="none" stroke="#8f80ff" stroke-width="1.8" stroke-linecap="round" stroke-opacity="0.6"/>
<path d="M206.5 362.2h0M206.5 372.2h0" fill="none" stroke="#1a1aff" stroke-width="1.9" stroke-linecap="round" stroke-opacity="0.55"/>
<path d="M205.7 367.2L207.3 367.2" fill="none" stroke="#1a1aff" stroke-width="2.4" stroke-linecap="round" stroke-opacity="0.9"/>
<path d="M233.1 364.7h0M233.1 369.7h0M240.9 364.7h0M240.9 369.7h0M232.8 367.2h0M241.2 367.2h0" fill="none" stroke="#8f80ff" stroke-width="1.8" stroke-linecap="round" stroke-opacity="0.3"/>
<path d="M233.1 362.2h0M233.1 372.2h0M240.9 362.2h0M240.9 372.2h0M229.6 367.2h0M244.4 367.2h0" fill="none" stroke="#c8c0ff" stroke-width="1.6" stroke-linecap="round" stroke-opacity="0.2"/>
<path d="M237.0 362.2h0M237.0 372.2h0" fill="none" stroke="#1a1aff" stroke-width="1.9" stroke-linecap="round" stroke-opacity="0.3"/>
<path d="M236.2 367.2L237.8 367.2" fill="none" stroke="#1a1aff" stroke-width="2.4" stroke-linecap="round" stroke-opacity="0.45"/>
<path d="M263.0 364.7h0M263.0 369.7h0M270.8 364.7h0M270.8 369.7h0M262.7 367.2h0M271.1 367.2h0" fill="none" stroke="#8f80ff" stroke-width="1.8" stroke-linecap="round" stroke-opacity="0.1"/>
<path d="M263.0 362.2h0M263.0 372.2h0M270.8 362.2h0M270.8 372.2h0M259.5 367.2h0M274.3 367.2h0M290.4 362.2h0M290.4 372.2h0M298.2 362.2h0M298.2 372.2h0M286.9 367.2h0M301.7 367.2h0" fill="none" stroke="#c8c0ff" stroke-width="1.6" stroke-linecap="round" stroke-opacity="0.05"/>
<path d="M266.9 362.2h0M266.9 372.2h0" fill="none" stroke="#1a1aff" stroke-width="1.9" stroke-linecap="round" stroke-opacity="0.1"/>
<path d="M266.1 367.2L267.7 367.2" fill="none" stroke="#1a1aff" stroke-width="2.4" stroke-linecap="round" stroke-opacity="0.15"/>
<path d="M290.4 364.7h0M290.4 369.7h0M298.2 364.7h0M298.2 369.7h0M290.1 367.2h0M298.5 367.2h0" fill="none" stroke="#8f80ff" stroke-width="1.8" stroke-linecap="round" stroke-opacity="0.05"/>
<path d="M294.3 362.2h0M294.3 372.2h0" fill="none" stroke="#1a1aff" stroke-width="1.9" stroke-linecap="round" stroke-opacity="0.05"/>
<path d="M293.5 367.2L295.1 367.2" fill="none" stroke="#1a1aff" stroke-width="2.4" stroke-linecap="round" stroke-opacity="0.1"/>
<circle cx="145.0" cy="367.2" r="6.5" fill="none" stroke="#c8c0ff" stroke-opacity="0.38" stroke-width="1.2"/>
<path d="M145.0 362.2h0M145.0 372.2h0" fill="none" stroke="#8f80ff" stroke-width="1.6" stroke-linecap="round" stroke-opacity="0.5"/>
<path d="M145.0 357.7h0M145.0 376.7h0" fill="none" stroke="#c8c0ff" stroke-width="1.4" stroke-linecap="round" stroke-opacity="0.4"/>
<path d="M140.5 367.2h0M149.5 367.2h0" fill="none" stroke="#c8c0ff" stroke-width="1.6" stroke-linecap="round" stroke-opacity="0.45"/>
<path d="M140.5 363.2h0M140.5 371.2h0M149.5 363.2h0M149.5 371.2h0M113.9 357.7h0M113.9 376.7h0" fill="none" stroke="#c8c0ff" stroke-width="1.4" stroke-linecap="round" stroke-opacity="0.3"/>
<path d="M145.0 367.2h0" fill="none" stroke="#1a1aff" stroke-width="2.5" stroke-linecap="round"/>
<path d="M113.9 362.2h0M113.9 372.2h0" fill="none" stroke="#8f80ff" stroke-width="1.6" stroke-linecap="round" stroke-opacity="0.4"/>
<path d="M109.4 367.2h0M118.4 367.2h0" fill="none" stroke="#c8c0ff" stroke-width="1.6" stroke-linecap="round" stroke-opacity="0.4"/>
<path d="M109.4 363.2h0M109.4 371.2h0M118.4 363.2h0M118.4 371.2h0" fill="none" stroke="#c8c0ff" stroke-width="1.4" stroke-linecap="round" stroke-opacity="0.25"/>
<path d="M113.9 367.2h0" fill="none" stroke="#1a1aff" stroke-width="2.5" stroke-linecap="round" stroke-opacity="0.85"/>
<circle cx="83.0" cy="367.2" r="6.5" fill="none" stroke="#c8c0ff" stroke-opacity="0.11" stroke-width="1.2"/>
<path d="M83.0 362.2h0M83.0 372.2h0" fill="none" stroke="#8f80ff" stroke-width="1.6" stroke-linecap="round" stroke-opacity="0.15"/>
<path d="M83.0 357.7h0M83.0 376.7h0M78.5 363.2h0M78.5 371.2h0M87.5 363.2h0M87.5 371.2h0" fill="none" stroke="#c8c0ff" stroke-width="1.4" stroke-linecap="round" stroke-opacity="0.1"/>
<path d="M78.5 367.2h0M87.5 367.2h0" fill="none" stroke="#c8c0ff" stroke-width="1.6" stroke-linecap="round" stroke-opacity="0.15"/>
<path d="M83.0 367.2h0" fill="none" stroke="#1a1aff" stroke-width="2.5" stroke-linecap="round" stroke-opacity="0.3"/>
<path d="M60.0 362.2h0M60.0 372.2h0" fill="none" stroke="#8f80ff" stroke-width="1.6" stroke-linecap="round" stroke-opacity="0.05"/>
<path d="M60.0 357.7h0M60.0 376.7h0M55.5 363.2h0M55.5 371.2h0M64.5 363.2h0M64.5 371.2h0" fill="none" stroke="#c8c0ff" stroke-width="1.4" stroke-linecap="round" stroke-opacity="0.05"/>
<path d="M55.5 367.2h0M64.5 367.2h0M263.0 394.2h0M263.0 404.2h0M270.8 394.2h0M270.8 404.2h0M259.5 399.2h0M274.3 399.2h0M290.4 394.2h0M290.4 404.2h0M298.2 394.2h0M298.2 404.2h0M286.9 399.2h0M301.7 399.2h0" fill="none" stroke="#c8c0ff" stroke-width="1.6" stroke-linecap="round" stroke-opacity="0.05"/>
<path d="M60.0 367.2h0" fill="none" stroke="#1a1aff" stroke-width="2.5" stroke-linecap="round" stroke-opacity="0.15"/>
<path d="M180.7 367.2h0M172.3 367.2h0" fill="none" stroke="#1a1aff" stroke-width="2.7" stroke-linecap="round" stroke-opacity="0.8"/>
<path d="M184.2 367.2h0M168.8 367.2h0" fill="none" stroke="#1a1aff" stroke-width="2.5" stroke-linecap="round" stroke-opacity="0.7"/>
<path d="M187.7 367.2h0M165.3 367.2h0" fill="none" stroke="#8f80ff" stroke-width="1.9" stroke-linecap="round" stroke-opacity="0.55"/>
<path d="M181.7 362.2h0M181.7 372.2h0M171.3 362.2h0M171.3 372.2h0" fill="none" stroke="#1a1aff" stroke-width="2.3" stroke-linecap="round" stroke-opacity="0.65"/>
<path d="M185.2 362.2h0M185.2 372.2h0M167.8 362.2h0M167.8 372.2h0" fill="none" stroke="#8f80ff" stroke-width="2.1" stroke-linecap="round" stroke-opacity="0.55"/>
<path d="M180.7 358.7h0M180.7 375.7h0M172.3 358.7h0M172.3 375.7h0" fill="none" stroke="#8f80ff" stroke-width="1.7" stroke-linecap="round" stroke-opacity="0.3"/>
<path d="M178.4 364.7h0M178.4 369.7h0M174.6 364.7h0M174.6 369.7h0" fill="none" stroke="#ff2a10" stroke-width="1.7" stroke-linecap="round" stroke-opacity="0.5"/>
<path d="M178.4 367.2h0M174.6 367.2h0" fill="none" stroke="#1a1aff" stroke-width="2.3" stroke-linecap="round" stroke-opacity="0.7"/>
<path d="M189.2 362.2h0M189.2 372.2h0M163.8 362.2h0M163.8 372.2h0" fill="none" stroke="#c8c0ff" stroke-width="1.7" stroke-linecap="round" stroke-opacity="0.4"/>
<path d="M204.9 396.8h0M204.9 401.8h0M208.1 396.8h0M208.1 401.8h0M200.5 396.8h0M200.5 401.8h0M212.5 396.8h0M212.5 401.8h0" fill="none" stroke="#f2b48a" stroke-width="1.6" stroke-linecap="round" stroke-opacity="0.3"/>
<path d="M202.6 396.8h0M202.6 401.8h0M210.4 396.8h0M210.4 401.8h0" fill="none" stroke="#8f80ff" stroke-width="1.8" stroke-linecap="round" stroke-opacity="0.55"/>
<path d="M202.6 394.2h0M202.6 404.2h0M210.4 394.2h0M210.4 404.2h0M199.1 399.2h0M213.9 399.2h0" fill="none" stroke="#c8c0ff" stroke-width="1.6" stroke-linecap="round" stroke-opacity="0.4"/>
<path d="M202.3 399.2h0M210.7 399.2h0" fill="none" stroke="#8f80ff" stroke-width="1.8" stroke-linecap="round" stroke-opacity="0.6"/>
<path d="M206.5 394.2h0M206.5 404.2h0" fill="none" stroke="#1a1aff" stroke-width="1.9" stroke-linecap="round" stroke-opacity="0.55"/>
<path d="M205.7 399.2L207.3 399.2" fill="none" stroke="#1a1aff" stroke-width="2.4" stroke-linecap="round" stroke-opacity="0.9"/>
<path d="M235.4 396.8h0M235.4 401.8h0M238.6 396.8h0M238.6 401.8h0M231.0 396.8h0M231.0 401.8h0M243.0 396.8h0M243.0 401.8h0" fill="none" stroke="#f2b48a" stroke-width="1.6" stroke-linecap="round" stroke-opacity="0.15"/>
<path d="M233.1 396.8h0M233.1 401.8h0M240.9 396.8h0M240.9 401.8h0M232.8 399.2h0M241.2 399.2h0" fill="none" stroke="#8f80ff" stroke-width="1.8" stroke-linecap="round" stroke-opacity="0.3"/>
<path d="M233.1 394.2h0M233.1 404.2h0M240.9 394.2h0M240.9 404.2h0M229.6 399.2h0M244.4 399.2h0" fill="none" stroke="#c8c0ff" stroke-width="1.6" stroke-linecap="round" stroke-opacity="0.2"/>
<path d="M237.0 394.2h0M237.0 404.2h0" fill="none" stroke="#1a1aff" stroke-width="1.9" stroke-linecap="round" stroke-opacity="0.3"/>
<path d="M236.2 399.2L237.8 399.2" fill="none" stroke="#1a1aff" stroke-width="2.4" stroke-linecap="round" stroke-opacity="0.45"/>
<path d="M265.3 396.8h0M265.3 401.8h0M268.5 396.8h0M268.5 401.8h0M260.9 396.8h0M260.9 401.8h0M272.9 396.8h0M272.9 401.8h0M292.7 396.8h0M292.7 401.8h0M295.9 396.8h0M295.9 401.8h0M288.3 396.8h0M288.3 401.8h0M300.3 396.8h0M300.3 401.8h0" fill="none" stroke="#f2b48a" stroke-width="1.6" stroke-linecap="round" stroke-opacity="0.05"/>
<path d="M263.0 396.8h0M263.0 401.8h0M270.8 396.8h0M270.8 401.8h0M262.7 399.2h0M271.1 399.2h0" fill="none" stroke="#8f80ff" stroke-width="1.8" stroke-linecap="round" stroke-opacity="0.1"/>
<path d="M266.9 394.2h0M266.9 404.2h0" fill="none" stroke="#1a1aff" stroke-width="1.9" stroke-linecap="round" stroke-opacity="0.1"/>
<path d="M266.1 399.2L267.7 399.2" fill="none" stroke="#1a1aff" stroke-width="2.4" stroke-linecap="round" stroke-opacity="0.15"/>
<path d="M290.4 396.8h0M290.4 401.8h0M298.2 396.8h0M298.2 401.8h0M290.1 399.2h0M298.5 399.2h0" fill="none" stroke="#8f80ff" stroke-width="1.8" stroke-linecap="round" stroke-opacity="0.05"/>
<path d="M294.3 394.2h0M294.3 404.2h0" fill="none" stroke="#1a1aff" stroke-width="1.9" stroke-linecap="round" stroke-opacity="0.05"/>
<path d="M293.5 399.2L295.1 399.2" fill="none" stroke="#1a1aff" stroke-width="2.4" stroke-linecap="round" stroke-opacity="0.1"/>
<circle cx="145.0" cy="399.2" r="6.5" fill="none" stroke="#c8c0ff" stroke-opacity="0.38" stroke-width="1.2"/>
<path d="M145.0 394.2h0M145.0 404.2h0" fill="none" stroke="#8f80ff" stroke-width="1.6" stroke-linecap="round" stroke-opacity="0.5"/>
<path d="M145.0 389.8h0M145.0 408.8h0" fill="none" stroke="#c8c0ff" stroke-width="1.4" stroke-linecap="round" stroke-opacity="0.4"/>
<path d="M140.5 399.2h0M149.5 399.2h0" fill="none" stroke="#c8c0ff" stroke-width="1.6" stroke-linecap="round" stroke-opacity="0.45"/>
<path d="M140.5 395.2h0M140.5 403.2h0M149.5 395.2h0M149.5 403.2h0M113.9 389.8h0M113.9 408.8h0" fill="none" stroke="#c8c0ff" stroke-width="1.4" stroke-linecap="round" stroke-opacity="0.3"/>
<path d="M145.0 399.2h0" fill="none" stroke="#1a1aff" stroke-width="2.5" stroke-linecap="round"/>
<path d="M113.9 394.2h0M113.9 404.2h0" fill="none" stroke="#8f80ff" stroke-width="1.6" stroke-linecap="round" stroke-opacity="0.4"/>
<path d="M109.4 399.2h0M118.4 399.2h0" fill="none" stroke="#c8c0ff" stroke-width="1.6" stroke-linecap="round" stroke-opacity="0.4"/>
<path d="M109.4 395.2h0M109.4 403.2h0M118.4 395.2h0M118.4 403.2h0" fill="none" stroke="#c8c0ff" stroke-width="1.4" stroke-linecap="round" stroke-opacity="0.25"/>
<path d="M113.9 399.2h0" fill="none" stroke="#1a1aff" stroke-width="2.5" stroke-linecap="round" stroke-opacity="0.85"/>
<circle cx="83.0" cy="399.2" r="6.5" fill="none" stroke="#c8c0ff" stroke-opacity="0.11" stroke-width="1.2"/>
<path d="M83.0 394.2h0M83.0 404.2h0" fill="none" stroke="#8f80ff" stroke-width="1.6" stroke-linecap="round" stroke-opacity="0.15"/>
<path d="M83.0 389.8h0M83.0 408.8h0M78.5 395.2h0M78.5 403.2h0M87.5 395.2h0M87.5 403.2h0" fill="none" stroke="#c8c0ff" stroke-width="1.4" stroke-linecap="round" stroke-opacity="0.1"/>
<path d="M78.5 399.2h0M87.5 399.2h0" fill="none" stroke="#c8c0ff" stroke-width="1.6" stroke-linecap="round" stroke-opacity="0.15"/>
<path d="M83.0 399.2h0" fill="none" stroke="#1a1aff" stroke-width="2.5" stroke-linecap="round" stroke-opacity="0.3"/>
<path d="M60.0 394.2h0M60.0 404.2h0" fill="none" stroke="#8f80ff" stroke-width="1.6" stroke-linecap="round" stroke-opacity="0.05"/>
<path d="M60.0 389.8h0M60.0 408.8h0M55.5 395.2h0M55.5 403.2h0M64.5 395.2h0M64.5 403.2h0" fill="none" stroke="#c8c0ff" stroke-width="1.4" stroke-linecap="round" stroke-opacity="0.05"/>
<path d="M55.5 399.2h0M64.5 399.2h0M263.0 426.3h0M263.0 436.3h0M270.8 426.3h0M270.8 436.3h0M259.5 431.3h0M274.3 431.3h0M290.4 426.3h0M290.4 436.3h0M298.2 426.3h0M298.2 436.3h0M286.9 431.3h0M301.7 431.3h0" fill="none" stroke="#c8c0ff" stroke-width="1.6" stroke-linecap="round" stroke-opacity="0.05"/>
<path d="M60.0 399.2h0" fill="none" stroke="#1a1aff" stroke-width="2.5" stroke-linecap="round" stroke-opacity="0.15"/>
<path d="M180.7 399.2h0M172.3 399.2h0" fill="none" stroke="#1a1aff" stroke-width="2.7" stroke-linecap="round" stroke-opacity="0.8"/>
<path d="M184.2 399.2h0M168.8 399.2h0" fill="none" stroke="#1a1aff" stroke-width="2.5" stroke-linecap="round" stroke-opacity="0.7"/>
<path d="M187.7 399.2h0M165.3 399.2h0" fill="none" stroke="#8f80ff" stroke-width="1.9" stroke-linecap="round" stroke-opacity="0.55"/>
<path d="M181.7 394.2h0M181.7 404.2h0M171.3 394.2h0M171.3 404.2h0" fill="none" stroke="#1a1aff" stroke-width="2.3" stroke-linecap="round" stroke-opacity="0.65"/>
<path d="M185.2 394.2h0M185.2 404.2h0M167.8 394.2h0M167.8 404.2h0" fill="none" stroke="#8f80ff" stroke-width="2.1" stroke-linecap="round" stroke-opacity="0.55"/>
<path d="M180.7 390.8h0M180.7 407.8h0M172.3 390.8h0M172.3 407.8h0" fill="none" stroke="#8f80ff" stroke-width="1.7" stroke-linecap="round" stroke-opacity="0.3"/>
<path d="M178.4 396.8h0M178.4 401.8h0M174.6 396.8h0M174.6 401.8h0" fill="none" stroke="#ff2a10" stroke-width="1.7" stroke-linecap="round" stroke-opacity="0.5"/>
<path d="M178.4 399.2h0M174.6 399.2h0" fill="none" stroke="#1a1aff" stroke-width="2.3" stroke-linecap="round" stroke-opacity="0.7"/>
<path d="M189.2 394.2h0M189.2 404.2h0M163.8 394.2h0M163.8 404.2h0" fill="none" stroke="#c8c0ff" stroke-width="1.7" stroke-linecap="round" stroke-opacity="0.4"/>
<path d="M204.9 428.8h0M204.9 433.8h0M208.1 428.8h0M208.1 433.8h0M200.5 428.8h0M200.5 433.8h0M212.5 428.8h0M212.5 433.8h0" fill="none" stroke="#f2b48a" stroke-width="1.6" stroke-linecap="round" stroke-opacity="0.3"/>
<path d="M202.6 428.8h0M202.6 433.8h0M210.4 428.8h0M210.4 433.8h0" fill="none" stroke="#8f80ff" stroke-width="1.8" stroke-linecap="round" stroke-opacity="0.55"/>
<path d="M202.6 426.3h0M202.6 436.3h0M210.4 426.3h0M210.4 436.3h0M199.1 431.3h0M213.9 431.3h0" fill="none" stroke="#c8c0ff" stroke-width="1.6" stroke-linecap="round" stroke-opacity="0.4"/>
<path d="M202.3 431.3h0M210.7 431.3h0" fill="none" stroke="#8f80ff" stroke-width="1.8" stroke-linecap="round" stroke-opacity="0.6"/>
<path d="M206.5 426.3h0M206.5 436.3h0" fill="none" stroke="#1a1aff" stroke-width="1.9" stroke-linecap="round" stroke-opacity="0.55"/>
<path d="M205.7 431.3L207.3 431.3" fill="none" stroke="#1a1aff" stroke-width="2.4" stroke-linecap="round" stroke-opacity="0.9"/>
<path d="M235.4 428.8h0M235.4 433.8h0M238.6 428.8h0M238.6 433.8h0M231.0 428.8h0M231.0 433.8h0M243.0 428.8h0M243.0 433.8h0" fill="none" stroke="#f2b48a" stroke-width="1.6" stroke-linecap="round" stroke-opacity="0.15"/>
<path d="M233.1 428.8h0M233.1 433.8h0M240.9 428.8h0M240.9 433.8h0M232.8 431.3h0M241.2 431.3h0" fill="none" stroke="#8f80ff" stroke-width="1.8" stroke-linecap="round" stroke-opacity="0.3"/>
<path d="M233.1 426.3h0M233.1 436.3h0M240.9 426.3h0M240.9 436.3h0M229.6 431.3h0M244.4 431.3h0" fill="none" stroke="#c8c0ff" stroke-width="1.6" stroke-linecap="round" stroke-opacity="0.2"/>
<path d="M237.0 426.3h0M237.0 436.3h0" fill="none" stroke="#1a1aff" stroke-width="1.9" stroke-linecap="round" stroke-opacity="0.3"/>
<path d="M236.2 431.3L237.8 431.3" fill="none" stroke="#1a1aff" stroke-width="2.4" stroke-linecap="round" stroke-opacity="0.45"/>
<path d="M265.3 428.8h0M265.3 433.8h0M268.5 428.8h0M268.5 433.8h0M260.9 428.8h0M260.9 433.8h0M272.9 428.8h0M272.9 433.8h0M292.7 428.8h0M292.7 433.8h0M295.9 428.8h0M295.9 433.8h0M288.3 428.8h0M288.3 433.8h0M300.3 428.8h0M300.3 433.8h0" fill="none" stroke="#f2b48a" stroke-width="1.6" stroke-linecap="round" stroke-opacity="0.05"/>
<path d="M263.0 428.8h0M263.0 433.8h0M270.8 428.8h0M270.8 433.8h0M262.7 431.3h0M271.1 431.3h0" fill="none" stroke="#8f80ff" stroke-width="1.8" stroke-linecap="round" stroke-opacity="0.1"/>
<path d="M266.9 426.3h0M266.9 436.3h0" fill="none" stroke="#1a1aff" stroke-width="1.9" stroke-linecap="round" stroke-opacity="0.1"/>
<path d="M266.1 431.3L267.7 431.3" fill="none" stroke="#1a1aff" stroke-width="2.4" stroke-linecap="round" stroke-opacity="0.15"/>
<path d="M290.4 428.8h0M290.4 433.8h0M298.2 428.8h0M298.2 433.8h0M290.1 431.3h0M298.5 431.3h0" fill="none" stroke="#8f80ff" stroke-width="1.8" stroke-linecap="round" stroke-opacity="0.05"/>
<path d="M294.3 426.3h0M294.3 436.3h0" fill="none" stroke="#1a1aff" stroke-width="1.9" stroke-linecap="round" stroke-opacity="0.05"/>
<path d="M293.5 431.3L295.1 431.3" fill="none" stroke="#1a1aff" stroke-width="2.4" stroke-linecap="round" stroke-opacity="0.1"/>
<circle cx="145.0" cy="431.3" r="6.5" fill="none" stroke="#c8c0ff" stroke-opacity="0.38" stroke-width="1.2"/>
<path d="M145.0 426.3h0M145.0 436.3h0" fill="none" stroke="#8f80ff" stroke-width="1.6" stroke-linecap="round" stroke-opacity="0.5"/>
<path d="M145.0 421.8h0M145.0 440.8h0" fill="none" stroke="#c8c0ff" stroke-width="1.4" stroke-linecap="round" stroke-opacity="0.4"/>
<path d="M140.5 431.3h0M149.5 431.3h0" fill="none" stroke="#c8c0ff" stroke-width="1.6" stroke-linecap="round" stroke-opacity="0.45"/>
<path d="M140.5 427.3h0M140.5 435.3h0M149.5 427.3h0M149.5 435.3h0M113.9 421.8h0M113.9 440.8h0" fill="none" stroke="#c8c0ff" stroke-width="1.4" stroke-linecap="round" stroke-opacity="0.3"/>
<path d="M145.0 431.3h0" fill="none" stroke="#1a1aff" stroke-width="2.5" stroke-linecap="round"/>
<path d="M113.9 426.3h0M113.9 436.3h0" fill="none" stroke="#8f80ff" stroke-width="1.6" stroke-linecap="round" stroke-opacity="0.4"/>
<path d="M109.4 431.3h0M118.4 431.3h0" fill="none" stroke="#c8c0ff" stroke-width="1.6" stroke-linecap="round" stroke-opacity="0.4"/>
<path d="M109.4 427.3h0M109.4 435.3h0M118.4 427.3h0M118.4 435.3h0" fill="none" stroke="#c8c0ff" stroke-width="1.4" stroke-linecap="round" stroke-opacity="0.25"/>
<path d="M113.9 431.3h0" fill="none" stroke="#1a1aff" stroke-width="2.5" stroke-linecap="round" stroke-opacity="0.85"/>
<circle cx="83.0" cy="431.3" r="6.5" fill="none" stroke="#c8c0ff" stroke-opacity="0.11" stroke-width="1.2"/>
<path d="M83.0 426.3h0M83.0 436.3h0" fill="none" stroke="#8f80ff" stroke-width="1.6" stroke-linecap="round" stroke-opacity="0.15"/>
<path d="M83.0 421.8h0M83.0 440.8h0M78.5 427.3h0M78.5 435.3h0M87.5 427.3h0M87.5 435.3h0" fill="none" stroke="#c8c0ff" stroke-width="1.4" stroke-linecap="round" stroke-opacity="0.1"/>
<path d="M78.5 431.3h0M87.5 431.3h0" fill="none" stroke="#c8c0ff" stroke-width="1.6" stroke-linecap="round" stroke-opacity="0.15"/>
<path d="M83.0 431.3h0" fill="none" stroke="#1a1aff" stroke-width="2.5" stroke-linecap="round" stroke-opacity="0.3"/>
<path d="M60.0 426.3h0M60.0 436.3h0" fill="none" stroke="#8f80ff" stroke-width="1.6" stroke-linecap="round" stroke-opacity="0.05"/>
<path d="M60.0 421.8h0M60.0 440.8h0M55.5 427.3h0M55.5 435.3h0M64.5 427.3h0M64.5 435.3h0" fill="none" stroke="#c8c0ff" stroke-width="1.4" stroke-linecap="round" stroke-opacity="0.05"/>
<path d="M55.5 431.3h0M64.5 431.3h0M263.0 458.3h0M263.0 468.3h0M270.8 458.3h0M270.8 468.3h0M259.5 463.3h0M274.3 463.3h0M290.4 458.3h0M290.4 468.3h0M298.2 458.3h0M298.2 468.3h0M286.9 463.3h0M301.7 463.3h0" fill="none" stroke="#c8c0ff" stroke-width="1.6" stroke-linecap="round" stroke-opacity="0.05"/>
<path d="M60.0 431.3h0" fill="none" stroke="#1a1aff" stroke-width="2.5" stroke-linecap="round" stroke-opacity="0.15"/>
<path d="M180.7 431.3h0M172.3 431.3h0" fill="none" stroke="#1a1aff" stroke-width="2.7" stroke-linecap="round" stroke-opacity="0.8"/>
<path d="M184.2 431.3h0M168.8 431.3h0" fill="none" stroke="#1a1aff" stroke-width="2.5" stroke-linecap="round" stroke-opacity="0.7"/>
<path d="M187.7 431.3h0M165.3 431.3h0" fill="none" stroke="#8f80ff" stroke-width="1.9" stroke-linecap="round" stroke-opacity="0.55"/>
<path d="M181.7 426.3h0M181.7 436.3h0M171.3 426.3h0M171.3 436.3h0" fill="none" stroke="#1a1aff" stroke-width="2.3" stroke-linecap="round" stroke-opacity="0.65"/>
<path d="M185.2 426.3h0M185.2 436.3h0M167.8 426.3h0M167.8 436.3h0" fill="none" stroke="#8f80ff" stroke-width="2.1" stroke-linecap="round" stroke-opacity="0.55"/>
<path d="M180.7 422.8h0M180.7 439.8h0M172.3 422.8h0M172.3 439.8h0" fill="none" stroke="#8f80ff" stroke-width="1.7" stroke-linecap="round" stroke-opacity="0.3"/>
<path d="M178.4 428.8h0M178.4 433.8h0M174.6 428.8h0M174.6 433.8h0" fill="none" stroke="#ff2a10" stroke-width="1.7" stroke-linecap="round" stroke-opacity="0.5"/>
<path d="M178.4 431.3h0M174.6 431.3h0" fill="none" stroke="#1a1aff" stroke-width="2.3" stroke-linecap="round" stroke-opacity="0.7"/>
<path d="M189.2 426.3h0M189.2 436.3h0M163.8 426.3h0M163.8 436.3h0" fill="none" stroke="#c8c0ff" stroke-width="1.7" stroke-linecap="round" stroke-opacity="0.4"/>
<path d="M204.9 460.8h0M204.9 465.8h0M208.1 460.8h0M208.1 465.8h0M200.5 460.8h0M200.5 465.8h0M212.5 460.8h0M212.5 465.8h0" fill="none" stroke="#f2b48a" stroke-width="1.6" stroke-linecap="round" stroke-opacity="0.3"/>
<path d="M202.6 460.8h0M202.6 465.8h0M210.4 460.8h0M210.4 465.8h0" fill="none" stroke="#8f80ff" stroke-width="1.8" stroke-linecap="round" stroke-opacity="0.55"/>
<path d="M202.6 458.3h0M202.6 468.3h0M210.4 458.3h0M210.4 468.3h0M199.1 463.3h0M213.9 463.3h0" fill="none" stroke="#c8c0ff" stroke-width="1.6" stroke-linecap="round" stroke-opacity="0.4"/>
<path d="M202.3 463.3h0M210.7 463.3h0" fill="none" stroke="#8f80ff" stroke-width="1.8" stroke-linecap="round" stroke-opacity="0.6"/>
<path d="M206.5 458.3h0M206.5 468.3h0" fill="none" stroke="#1a1aff" stroke-width="1.9" stroke-linecap="round" stroke-opacity="0.55"/>
<path d="M205.7 463.3L207.3 463.3" fill="none" stroke="#1a1aff" stroke-width="2.4" stroke-linecap="round" stroke-opacity="0.9"/>
<path d="M235.4 460.8h0M235.4 465.8h0M238.6 460.8h0M238.6 465.8h0M231.0 460.8h0M231.0 465.8h0M243.0 460.8h0M243.0 465.8h0" fill="none" stroke="#f2b48a" stroke-width="1.6" stroke-linecap="round" stroke-opacity="0.15"/>
<path d="M233.1 460.8h0M233.1 465.8h0M240.9 460.8h0M240.9 465.8h0M232.8 463.3h0M241.2 463.3h0" fill="none" stroke="#8f80ff" stroke-width="1.8" stroke-linecap="round" stroke-opacity="0.3"/>
<path d="M233.1 458.3h0M233.1 468.3h0M240.9 458.3h0M240.9 468.3h0M229.6 463.3h0M244.4 463.3h0" fill="none" stroke="#c8c0ff" stroke-width="1.6" stroke-linecap="round" stroke-opacity="0.2"/>
<path d="M237.0 458.3h0M237.0 468.3h0" fill="none" stroke="#1a1aff" stroke-width="1.9" stroke-linecap="round" stroke-opacity="0.3"/>
<path d="M236.2 463.3L237.8 463.3" fill="none" stroke="#1a1aff" stroke-width="2.4" stroke-linecap="round" stroke-opacity="0.45"/>
<path d="M265.3 460.8h0M265.3 465.8h0M268.5 460.8h0M268.5 465.8h0M260.9 460.8h0M260.9 465.8h0M272.9 460.8h0M272.9 465.8h0M292.7 460.8h0M292.7 465.8h0M295.9 460.8h0M295.9 465.8h0M288.3 460.8h0M288.3 465.8h0M300.3 460.8h0M300.3 465.8h0" fill="none" stroke="#f2b48a" stroke-width="1.6" stroke-linecap="round" stroke-opacity="0.05"/>
<path d="M263.0 460.8h0M263.0 465.8h0M270.8 460.8h0M270.8 465.8h0M262.7 463.3h0M271.1 463.3h0" fill="none" stroke="#8f80ff" stroke-width="1.8" stroke-linecap="round" stroke-opacity="0.1"/>
<path d="M266.9 458.3h0M266.9 468.3h0" fill="none" stroke="#1a1aff" stroke-width="1.9" stroke-linecap="round" stroke-opacity="0.1"/>
<path d="M266.1 463.3L267.7 463.3" fill="none" stroke="#1a1aff" stroke-width="2.4" stroke-linecap="round" stroke-opacity="0.15"/>
<path d="M290.4 460.8h0M290.4 465.8h0M298.2 460.8h0M298.2 465.8h0M290.1 463.3h0M298.5 463.3h0" fill="none" stroke="#8f80ff" stroke-width="1.8" stroke-linecap="round" stroke-opacity="0.05"/>
<path d="M294.3 458.3h0M294.3 468.3h0" fill="none" stroke="#1a1aff" stroke-width="1.9" stroke-linecap="round" stroke-opacity="0.05"/>
<path d="M293.5 463.3L295.1 463.3" fill="none" stroke="#1a1aff" stroke-width="2.4" stroke-linecap="round" stroke-opacity="0.1"/>
<circle cx="145.0" cy="463.3" r="6.5" fill="none" stroke="#c8c0ff" stroke-opacity="0.38" stroke-width="1.2"/>
<path d="M145.0 458.3h0M145.0 468.3h0" fill="none" stroke="#8f80ff" stroke-width="1.6" stroke-linecap="round" stroke-opacity="0.5"/>
<path d="M145.0 453.8h0M145.0 472.8h0" fill="none" stroke="#c8c0ff" stroke-width="1.4" stroke-linecap="round" stroke-opacity="0.4"/>
<path d="M140.5 463.3h0M149.5 463.3h0" fill="none" stroke="#c8c0ff" stroke-width="1.6" stroke-linecap="round" stroke-opacity="0.45"/>
<path d="M140.5 459.3h0M140.5 467.3h0M149.5 459.3h0M149.5 467.3h0M113.9 453.8h0M113.9 472.8h0" fill="none" stroke="#c8c0ff" stroke-width="1.4" stroke-linecap="round" stroke-opacity="0.3"/>
<path d="M145.0 463.3h0" fill="none" stroke="#1a1aff" stroke-width="2.5" stroke-linecap="round"/>
<path d="M113.9 458.3h0M113.9 468.3h0" fill="none" stroke="#8f80ff" stroke-width="1.6" stroke-linecap="round" stroke-opacity="0.4"/>
<path d="M109.4 463.3h0M118.4 463.3h0" fill="none" stroke="#c8c0ff" stroke-width="1.6" stroke-linecap="round" stroke-opacity="0.4"/>
<path d="M109.4 459.3h0M109.4 467.3h0M118.4 459.3h0M118.4 467.3h0" fill="none" stroke="#c8c0ff" stroke-width="1.4" stroke-linecap="round" stroke-opacity="0.25"/>
<path d="M113.9 463.3h0" fill="none" stroke="#1a1aff" stroke-width="2.5" stroke-linecap="round" stroke-opacity="0.85"/>
<circle cx="83.0" cy="463.3" r="6.5" fill="none" stroke="#c8c0ff" stroke-opacity="0.11" stroke-width="1.2"/>
<path d="M83.0 458.3h0M83.0 468.3h0" fill="none" stroke="#8f80ff" stroke-width="1.6" stroke-linecap="round" stroke-opacity="0.15"/>
<path d="M83.0 453.8h0M83.0 472.8h0M78.5 459.3h0M78.5 467.3h0M87.5 459.3h0M87.5 467.3h0" fill="none" stroke="#c8c0ff" stroke-width="1.4" stroke-linecap="round" stroke-opacity="0.1"/>
<path d="M78.5 463.3h0M87.5 463.3h0" fill="none" stroke="#c8c0ff" stroke-width="1.6" stroke-linecap="round" stroke-opacity="0.15"/>
<path d="M83.0 463.3h0" fill="none" stroke="#1a1aff" stroke-width="2.5" stroke-linecap="round" stroke-opacity="0.3"/>
<path d="M60.0 458.3h0M60.0 468.3h0" fill="none" stroke="#8f80ff" stroke-width="1.6" stroke-linecap="round" stroke-opacity="0.05"/>
<path d="M60.0 453.8h0M60.0 472.8h0M55.5 459.3h0M55.5 467.3h0M64.5 459.3h0M64.5 467.3h0" fill="none" stroke="#c8c0ff" stroke-width="1.4" stroke-linecap="round" stroke-opacity="0.05"/>
<path d="M55.5 463.3h0M64.5 463.3h0M263.0 490.4h0M263.0 500.4h0M270.8 490.4h0M270.8 500.4h0M259.5 495.4h0M274.3 495.4h0M290.4 490.4h0M290.4 500.4h0M298.2 490.4h0M298.2 500.4h0M286.9 495.4h0M301.7 495.4h0" fill="none" stroke="#c8c0ff" stroke-width="1.6" stroke-linecap="round" stroke-opacity="0.05"/>
<path d="M60.0 463.3h0" fill="none" stroke="#1a1aff" stroke-width="2.5" stroke-linecap="round" stroke-opacity="0.15"/>
<path d="M180.7 463.3h0M172.3 463.3h0" fill="none" stroke="#1a1aff" stroke-width="2.7" stroke-linecap="round" stroke-opacity="0.8"/>
<path d="M184.2 463.3h0M168.8 463.3h0" fill="none" stroke="#1a1aff" stroke-width="2.5" stroke-linecap="round" stroke-opacity="0.7"/>
<path d="M187.7 463.3h0M165.3 463.3h0" fill="none" stroke="#8f80ff" stroke-width="1.9" stroke-linecap="round" stroke-opacity="0.55"/>
<path d="M181.7 458.3h0M181.7 468.3h0M171.3 458.3h0M171.3 468.3h0" fill="none" stroke="#1a1aff" stroke-width="2.3" stroke-linecap="round" stroke-opacity="0.65"/>
<path d="M185.2 458.3h0M185.2 468.3h0M167.8 458.3h0M167.8 468.3h0" fill="none" stroke="#8f80ff" stroke-width="2.1" stroke-linecap="round" stroke-opacity="0.55"/>
<path d="M180.7 454.8h0M180.7 471.8h0M172.3 454.8h0M172.3 471.8h0" fill="none" stroke="#8f80ff" stroke-width="1.7" stroke-linecap="round" stroke-opacity="0.3"/>
<path d="M178.4 460.8h0M178.4 465.8h0M174.6 460.8h0M174.6 465.8h0" fill="none" stroke="#ff2a10" stroke-width="1.7" stroke-linecap="round" stroke-opacity="0.5"/>
<path d="M178.4 463.3h0M174.6 463.3h0" fill="none" stroke="#1a1aff" stroke-width="2.3" stroke-linecap="round" stroke-opacity="0.7"/>
<path d="M189.2 458.3h0M189.2 468.3h0M163.8 458.3h0M163.8 468.3h0" fill="none" stroke="#c8c0ff" stroke-width="1.7" stroke-linecap="round" stroke-opacity="0.4"/>
<path d="M204.9 492.9h0M204.9 497.9h0M208.1 492.9h0M208.1 497.9h0M200.5 492.9h0M200.5 497.9h0M212.5 492.9h0M212.5 497.9h0" fill="none" stroke="#f2b48a" stroke-width="1.6" stroke-linecap="round" stroke-opacity="0.3"/>
<path d="M202.6 492.9h0M202.6 497.9h0M210.4 492.9h0M210.4 497.9h0" fill="none" stroke="#8f80ff" stroke-width="1.8" stroke-linecap="round" stroke-opacity="0.55"/>
<path d="M202.6 490.4h0M202.6 500.4h0M210.4 490.4h0M210.4 500.4h0M199.1 495.4h0M213.9 495.4h0" fill="none" stroke="#c8c0ff" stroke-width="1.6" stroke-linecap="round" stroke-opacity="0.4"/>
<path d="M202.3 495.4h0M210.7 495.4h0" fill="none" stroke="#8f80ff" stroke-width="1.8" stroke-linecap="round" stroke-opacity="0.6"/>
<path d="M206.5 490.4h0M206.5 500.4h0" fill="none" stroke="#1a1aff" stroke-width="1.9" stroke-linecap="round" stroke-opacity="0.55"/>
<path d="M205.7 495.4L207.3 495.4" fill="none" stroke="#1a1aff" stroke-width="2.4" stroke-linecap="round" stroke-opacity="0.9"/>
<path d="M235.4 492.9h0M235.4 497.9h0M238.6 492.9h0M238.6 497.9h0M231.0 492.9h0M231.0 497.9h0M243.0 492.9h0M243.0 497.9h0" fill="none" stroke="#f2b48a" stroke-width="1.6" stroke-linecap="round" stroke-opacity="0.15"/>
<path d="M233.1 492.9h0M233.1 497.9h0M240.9 492.9h0M240.9 497.9h0M232.8 495.4h0M241.2 495.4h0" fill="none" stroke="#8f80ff" stroke-width="1.8" stroke-linecap="round" stroke-opacity="0.3"/>
<path d="M233.1 490.4h0M233.1 500.4h0M240.9 490.4h0M240.9 500.4h0M229.6 495.4h0M244.4 495.4h0" fill="none" stroke="#c8c0ff" stroke-width="1.6" stroke-linecap="round" stroke-opacity="0.2"/>
<path d="M237.0 490.4h0M237.0 500.4h0" fill="none" stroke="#1a1aff" stroke-width="1.9" stroke-linecap="round" stroke-opacity="0.3"/>
<path d="M236.2 495.4L237.8 495.4" fill="none" stroke="#1a1aff" stroke-width="2.4" stroke-linecap="round" stroke-opacity="0.45"/>
<path d="M265.3 492.9h0M265.3 497.9h0M268.5 492.9h0M268.5 497.9h0M260.9 492.9h0M260.9 497.9h0M272.9 492.9h0M272.9 497.9h0M292.7 492.9h0M292.7 497.9h0M295.9 492.9h0M295.9 497.9h0M288.3 492.9h0M288.3 497.9h0M300.3 492.9h0M300.3 497.9h0" fill="none" stroke="#f2b48a" stroke-width="1.6" stroke-linecap="round" stroke-opacity="0.05"/>
<path d="M263.0 492.9h0M263.0 497.9h0M270.8 492.9h0M270.8 497.9h0M262.7 495.4h0M271.1 495.4h0" fill="none" stroke="#8f80ff" stroke-width="1.8" stroke-linecap="round" stroke-opacity="0.1"/>
<path d="M266.9 490.4h0M266.9 500.4h0" fill="none" stroke="#1a1aff" stroke-width="1.9" stroke-linecap="round" stroke-opacity="0.1"/>
<path d="M266.1 495.4L267.7 495.4" fill="none" stroke="#1a1aff" stroke-width="2.4" stroke-linecap="round" stroke-opacity="0.15"/>
<path d="M290.4 492.9h0M290.4 497.9h0M298.2 492.9h0M298.2 497.9h0M290.1 495.4h0M298.5 495.4h0" fill="none" stroke="#8f80ff" stroke-width="1.8" stroke-linecap="round" stroke-opacity="0.05"/>
<path d="M294.3 490.4h0M294.3 500.4h0" fill="none" stroke="#1a1aff" stroke-width="1.9" stroke-linecap="round" stroke-opacity="0.05"/>
<path d="M293.5 495.4L295.1 495.4" fill="none" stroke="#1a1aff" stroke-width="2.4" stroke-linecap="round" stroke-opacity="0.1"/>
<circle cx="145.0" cy="495.4" r="6.5" fill="none" stroke="#c8c0ff" stroke-opacity="0.38" stroke-width="1.2"/>
<path d="M145.0 490.4h0M145.0 500.4h0" fill="none" stroke="#8f80ff" stroke-width="1.6" stroke-linecap="round" stroke-opacity="0.5"/>
<path d="M145.0 485.9h0M145.0 504.9h0" fill="none" stroke="#c8c0ff" stroke-width="1.4" stroke-linecap="round" stroke-opacity="0.4"/>
<path d="M140.5 495.4h0M149.5 495.4h0" fill="none" stroke="#c8c0ff" stroke-width="1.6" stroke-linecap="round" stroke-opacity="0.45"/>
<path d="M140.5 491.4h0M140.5 499.4h0M149.5 491.4h0M149.5 499.4h0M113.9 485.9h0M113.9 504.9h0" fill="none" stroke="#c8c0ff" stroke-width="1.4" stroke-linecap="round" stroke-opacity="0.3"/>
<path d="M145.0 495.4h0" fill="none" stroke="#1a1aff" stroke-width="2.5" stroke-linecap="round"/>
<path d="M113.9 490.4h0M113.9 500.4h0" fill="none" stroke="#8f80ff" stroke-width="1.6" stroke-linecap="round" stroke-opacity="0.4"/>
<path d="M109.4 495.4h0M118.4 495.4h0" fill="none" stroke="#c8c0ff" stroke-width="1.6" stroke-linecap="round" stroke-opacity="0.4"/>
<path d="M109.4 491.4h0M109.4 499.4h0M118.4 491.4h0M118.4 499.4h0" fill="none" stroke="#c8c0ff" stroke-width="1.4" stroke-linecap="round" stroke-opacity="0.25"/>
<path d="M113.9 495.4h0" fill="none" stroke="#1a1aff" stroke-width="2.5" stroke-linecap="round" stroke-opacity="0.85"/>
<circle cx="83.0" cy="495.4" r="6.5" fill="none" stroke="#c8c0ff" stroke-opacity="0.11" stroke-width="1.2"/>
<path d="M83.0 490.4h0M83.0 500.4h0" fill="none" stroke="#8f80ff" stroke-width="1.6" stroke-linecap="round" stroke-opacity="0.15"/>
<path d="M83.0 485.9h0M83.0 504.9h0M78.5 491.4h0M78.5 499.4h0M87.5 491.4h0M87.5 499.4h0" fill="none" stroke="#c8c0ff" stroke-width="1.4" stroke-linecap="round" stroke-opacity="0.1"/>
<path d="M78.5 495.4h0M87.5 495.4h0" fill="none" stroke="#c8c0ff" stroke-width="1.6" stroke-linecap="round" stroke-opacity="0.15"/>
<path d="M83.0 495.4h0" fill="none" stroke="#1a1aff" stroke-width="2.5" stroke-linecap="round" stroke-opacity="0.3"/>
<path d="M60.0 490.4h0M60.0 500.4h0" fill="none" stroke="#8f80ff" stroke-width="1.6" stroke-linecap="round" stroke-opacity="0.05"/>
<path d="M60.0 485.9h0M60.0 504.9h0M55.5 491.4h0M55.5 499.4h0M64.5 491.4h0M64.5 499.4h0" fill="none" stroke="#c8c0ff" stroke-width="1.4" stroke-linecap="round" stroke-opacity="0.05"/>
<path d="M55.5 495.4h0M64.5 495.4h0M263.0 522.5h0M263.0 532.5h0M270.8 522.5h0M270.8 532.5h0M259.5 527.5h0M274.3 527.5h0M290.4 522.5h0M290.4 532.5h0M298.2 522.5h0M298.2 532.5h0M286.9 527.5h0M301.7 527.5h0" fill="none" stroke="#c8c0ff" stroke-width="1.6" stroke-linecap="round" stroke-opacity="0.05"/>
<path d="M60.0 495.4h0" fill="none" stroke="#1a1aff" stroke-width="2.5" stroke-linecap="round" stroke-opacity="0.15"/>
<path d="M180.7 495.4h0M172.3 495.4h0" fill="none" stroke="#1a1aff" stroke-width="2.7" stroke-linecap="round" stroke-opacity="0.8"/>
<path d="M184.2 495.4h0M168.8 495.4h0" fill="none" stroke="#1a1aff" stroke-width="2.5" stroke-linecap="round" stroke-opacity="0.7"/>
<path d="M187.7 495.4h0M165.3 495.4h0" fill="none" stroke="#8f80ff" stroke-width="1.9" stroke-linecap="round" stroke-opacity="0.55"/>
<path d="M181.7 490.4h0M181.7 500.4h0M171.3 490.4h0M171.3 500.4h0" fill="none" stroke="#1a1aff" stroke-width="2.3" stroke-linecap="round" stroke-opacity="0.65"/>
<path d="M185.2 490.4h0M185.2 500.4h0M167.8 490.4h0M167.8 500.4h0" fill="none" stroke="#8f80ff" stroke-width="2.1" stroke-linecap="round" stroke-opacity="0.55"/>
<path d="M180.7 486.9h0M180.7 503.9h0M172.3 486.9h0M172.3 503.9h0" fill="none" stroke="#8f80ff" stroke-width="1.7" stroke-linecap="round" stroke-opacity="0.3"/>
<path d="M178.4 492.9h0M178.4 497.9h0M174.6 492.9h0M174.6 497.9h0" fill="none" stroke="#ff2a10" stroke-width="1.7" stroke-linecap="round" stroke-opacity="0.5"/>
<path d="M178.4 495.4h0M174.6 495.4h0" fill="none" stroke="#1a1aff" stroke-width="2.3" stroke-linecap="round" stroke-opacity="0.7"/>
<path d="M189.2 490.4h0M189.2 500.4h0M163.8 490.4h0M163.8 500.4h0" fill="none" stroke="#c8c0ff" stroke-width="1.7" stroke-linecap="round" stroke-opacity="0.4"/>
<path d="M204.9 525.0h0M204.9 530.0h0M208.1 525.0h0M208.1 530.0h0M200.5 525.0h0M200.5 530.0h0M212.5 525.0h0M212.5 530.0h0" fill="none" stroke="#f2b48a" stroke-width="1.6" stroke-linecap="round" stroke-opacity="0.3"/>
<path d="M202.6 525.0h0M202.6 530.0h0M210.4 525.0h0M210.4 530.0h0" fill="none" stroke="#8f80ff" stroke-width="1.8" stroke-linecap="round" stroke-opacity="0.55"/>
<path d="M202.6 522.5h0M202.6 532.5h0M210.4 522.5h0M210.4 532.5h0M199.1 527.5h0M213.9 527.5h0" fill="none" stroke="#c8c0ff" stroke-width="1.6" stroke-linecap="round" stroke-opacity="0.4"/>
<path d="M202.3 527.5h0M210.7 527.5h0" fill="none" stroke="#8f80ff" stroke-width="1.8" stroke-linecap="round" stroke-opacity="0.6"/>
<path d="M206.5 522.5h0M206.5 532.5h0" fill="none" stroke="#1a1aff" stroke-width="1.9" stroke-linecap="round" stroke-opacity="0.55"/>
<path d="M205.7 527.5L207.3 527.5" fill="none" stroke="#1a1aff" stroke-width="2.4" stroke-linecap="round" stroke-opacity="0.9"/>
<path d="M235.4 525.0h0M235.4 530.0h0M238.6 525.0h0M238.6 530.0h0M231.0 525.0h0M231.0 530.0h0M243.0 525.0h0M243.0 530.0h0" fill="none" stroke="#f2b48a" stroke-width="1.6" stroke-linecap="round" stroke-opacity="0.15"/>
<path d="M233.1 525.0h0M233.1 530.0h0M240.9 525.0h0M240.9 530.0h0M232.8 527.5h0M241.2 527.5h0" fill="none" stroke="#8f80ff" stroke-width="1.8" stroke-linecap="round" stroke-opacity="0.3"/>
<path d="M233.1 522.5h0M233.1 532.5h0M240.9 522.5h0M240.9 532.5h0M229.6 527.5h0M244.4 527.5h0" fill="none" stroke="#c8c0ff" stroke-width="1.6" stroke-linecap="round" stroke-opacity="0.2"/>
<path d="M237.0 522.5h0M237.0 532.5h0" fill="none" stroke="#1a1aff" stroke-width="1.9" stroke-linecap="round" stroke-opacity="0.3"/>
<path d="M236.2 527.5L237.8 527.5" fill="none" stroke="#1a1aff" stroke-width="2.4" stroke-linecap="round" stroke-opacity="0.45"/>
<path d="M265.3 525.0h0M265.3 530.0h0M268.5 525.0h0M268.5 530.0h0M260.9 525.0h0M260.9 530.0h0M272.9 525.0h0M272.9 530.0h0M292.7 525.0h0M292.7 530.0h0M295.9 525.0h0M295.9 530.0h0M288.3 525.0h0M288.3 530.0h0M300.3 525.0h0M300.3 530.0h0" fill="none" stroke="#f2b48a" stroke-width="1.6" stroke-linecap="round" stroke-opacity="0.05"/>
<path d="M263.0 525.0h0M263.0 530.0h0M270.8 525.0h0M270.8 530.0h0M262.7 527.5h0M271.1 527.5h0" fill="none" stroke="#8f80ff" stroke-width="1.8" stroke-linecap="round" stroke-opacity="0.1"/>
<path d="M266.9 522.5h0M266.9 532.5h0" fill="none" stroke="#1a1aff" stroke-width="1.9" stroke-linecap="round" stroke-opacity="0.1"/>
<path d="M266.1 527.5L267.7 527.5" fill="none" stroke="#1a1aff" stroke-width="2.4" stroke-linecap="round" stroke-opacity="0.15"/>
<path d="M290.4 525.0h0M290.4 530.0h0M298.2 525.0h0M298.2 530.0h0M290.1 527.5h0M298.5 527.5h0" fill="none" stroke="#8f80ff" stroke-width="1.8" stroke-linecap="round" stroke-opacity="0.05"/>
<path d="M294.3 522.5h0M294.3 532.5h0" fill="none" stroke="#1a1aff" stroke-width="1.9" stroke-linecap="round" stroke-opacity="0.05"/>
<path d="M293.5 527.5L295.1 527.5" fill="none" stroke="#1a1aff" stroke-width="2.4" stroke-linecap="round" stroke-opacity="0.1"/>
<circle cx="145.0" cy="527.5" r="6.5" fill="none" stroke="#c8c0ff" stroke-opacity="0.38" stroke-width="1.2"/>
<path d="M145.0 522.5h0M145.0 532.5h0" fill="none" stroke="#8f80ff" stroke-width="1.6" stroke-linecap="round" stroke-opacity="0.5"/>
<path d="M145.0 518.0h0M145.0 537.0h0" fill="none" stroke="#c8c0ff" stroke-width="1.4" stroke-linecap="round" stroke-opacity="0.4"/>
<path d="M140.5 527.5h0M149.5 527.5h0" fill="none" stroke="#c8c0ff" stroke-width="1.6" stroke-linecap="round" stroke-opacity="0.45"/>
<path d="M140.5 523.5h0M140.5 531.5h0M149.5 523.5h0M149.5 531.5h0M113.9 518.0h0M113.9 537.0h0" fill="none" stroke="#c8c0ff" stroke-width="1.4" stroke-linecap="round" stroke-opacity="0.3"/>
<path d="M145.0 527.5h0" fill="none" stroke="#1a1aff" stroke-width="2.5" stroke-linecap="round"/>
<path d="M113.9 522.5h0M113.9 532.5h0" fill="none" stroke="#8f80ff" stroke-width="1.6" stroke-linecap="round" stroke-opacity="0.4"/>
<path d="M109.4 527.5h0M118.4 527.5h0" fill="none" stroke="#c8c0ff" stroke-width="1.6" stroke-linecap="round" stroke-opacity="0.4"/>
<path d="M109.4 523.5h0M109.4 531.5h0M118.4 523.5h0M118.4 531.5h0" fill="none" stroke="#c8c0ff" stroke-width="1.4" stroke-linecap="round" stroke-opacity="0.25"/>
<path d="M113.9 527.5h0" fill="none" stroke="#1a1aff" stroke-width="2.5" stroke-linecap="round" stroke-opacity="0.85"/>
<circle cx="83.0" cy="527.5" r="6.5" fill="none" stroke="#c8c0ff" stroke-opacity="0.11" stroke-width="1.2"/>
<path d="M83.0 522.5h0M83.0 532.5h0" fill="none" stroke="#8f80ff" stroke-width="1.6" stroke-linecap="round" stroke-opacity="0.15"/>
<path d="M83.0 518.0h0M83.0 537.0h0M78.5 523.5h0M78.5 531.5h0M87.5 523.5h0M87.5 531.5h0" fill="none" stroke="#c8c0ff" stroke-width="1.4" stroke-linecap="round" stroke-opacity="0.1"/>
<path d="M78.5 527.5h0M87.5 527.5h0" fill="none" stroke="#c8c0ff" stroke-width="1.6" stroke-linecap="round" stroke-opacity="0.15"/>
<path d="M83.0 527.5h0" fill="none" stroke="#1a1aff" stroke-width="2.5" stroke-linecap="round" stroke-opacity="0.3"/>
<path d="M60.0 522.5h0M60.0 532.5h0" fill="none" stroke="#8f80ff" stroke-width="1.6" stroke-linecap="round" stroke-opacity="0.05"/>
<path d="M60.0 518.0h0M60.0 537.0h0M55.5 523.5h0M55.5 531.5h0M64.5 523.5h0M64.5 531.5h0" fill="none" stroke="#c8c0ff" stroke-width="1.4" stroke-linecap="round" stroke-opacity="0.05"/>
<path d="M55.5 527.5h0M64.5 527.5h0M263.0 554.5h0M263.0 564.5h0M270.8 554.5h0M270.8 564.5h0M259.5 559.5h0M274.3 559.5h0M290.4 554.5h0M290.4 564.5h0M298.2 554.5h0M298.2 564.5h0M286.9 559.5h0M301.7 559.5h0" fill="none" stroke="#c8c0ff" stroke-width="1.6" stroke-linecap="round" stroke-opacity="0.05"/>
<path d="M60.0 527.5h0" fill="none" stroke="#1a1aff" stroke-width="2.5" stroke-linecap="round" stroke-opacity="0.15"/>
<path d="M180.7 527.5h0M172.3 527.5h0" fill="none" stroke="#1a1aff" stroke-width="2.7" stroke-linecap="round" stroke-opacity="0.8"/>
<path d="M184.2 527.5h0M168.8 527.5h0" fill="none" stroke="#1a1aff" stroke-width="2.5" stroke-linecap="round" stroke-opacity="0.7"/>
<path d="M187.7 527.5h0M165.3 527.5h0" fill="none" stroke="#8f80ff" stroke-width="1.9" stroke-linecap="round" stroke-opacity="0.55"/>
<path d="M181.7 522.5h0M181.7 532.5h0M171.3 522.5h0M171.3 532.5h0" fill="none" stroke="#1a1aff" stroke-width="2.3" stroke-linecap="round" stroke-opacity="0.65"/>
<path d="M185.2 522.5h0M185.2 532.5h0M167.8 522.5h0M167.8 532.5h0" fill="none" stroke="#8f80ff" stroke-width="2.1" stroke-linecap="round" stroke-opacity="0.55"/>
<path d="M180.7 519.0h0M180.7 536.0h0M172.3 519.0h0M172.3 536.0h0" fill="none" stroke="#8f80ff" stroke-width="1.7" stroke-linecap="round" stroke-opacity="0.3"/>
<path d="M178.4 525.0h0M178.4 530.0h0M174.6 525.0h0M174.6 530.0h0" fill="none" stroke="#ff2a10" stroke-width="1.7" stroke-linecap="round" stroke-opacity="0.5"/>
<path d="M178.4 527.5h0M174.6 527.5h0" fill="none" stroke="#1a1aff" stroke-width="2.3" stroke-linecap="round" stroke-opacity="0.7"/>
<path d="M189.2 522.5h0M189.2 532.5h0M163.8 522.5h0M163.8 532.5h0" fill="none" stroke="#c8c0ff" stroke-width="1.7" stroke-linecap="round" stroke-opacity="0.4"/>
<path d="M204.9 557.0h0M204.9 562.0h0M208.1 557.0h0M208.1 562.0h0M200.5 557.0h0M200.5 562.0h0M212.5 557.0h0M212.5 562.0h0" fill="none" stroke="#f2b48a" stroke-width="1.6" stroke-linecap="round" stroke-opacity="0.3"/>
<path d="M202.6 557.0h0M202.6 562.0h0M210.4 557.0h0M210.4 562.0h0" fill="none" stroke="#8f80ff" stroke-width="1.8" stroke-linecap="round" stroke-opacity="0.55"/>
<path d="M202.6 554.5h0M202.6 564.5h0M210.4 554.5h0M210.4 564.5h0M199.1 559.5h0M213.9 559.5h0" fill="none" stroke="#c8c0ff" stroke-width="1.6" stroke-linecap="round" stroke-opacity="0.4"/>
<path d="M202.3 559.5h0M210.7 559.5h0" fill="none" stroke="#8f80ff" stroke-width="1.8" stroke-linecap="round" stroke-opacity="0.6"/>
<path d="M206.5 554.5h0M206.5 564.5h0" fill="none" stroke="#1a1aff" stroke-width="1.9" stroke-linecap="round" stroke-opacity="0.55"/>
<path d="M205.7 559.5L207.3 559.5" fill="none" stroke="#1a1aff" stroke-width="2.4" stroke-linecap="round" stroke-opacity="0.9"/>
<path d="M235.4 557.0h0M235.4 562.0h0M238.6 557.0h0M238.6 562.0h0M231.0 557.0h0M231.0 562.0h0M243.0 557.0h0M243.0 562.0h0" fill="none" stroke="#f2b48a" stroke-width="1.6" stroke-linecap="round" stroke-opacity="0.15"/>
<path d="M233.1 557.0h0M233.1 562.0h0M240.9 557.0h0M240.9 562.0h0M232.8 559.5h0M241.2 559.5h0" fill="none" stroke="#8f80ff" stroke-width="1.8" stroke-linecap="round" stroke-opacity="0.3"/>
<path d="M233.1 554.5h0M233.1 564.5h0M240.9 554.5h0M240.9 564.5h0M229.6 559.5h0M244.4 559.5h0" fill="none" stroke="#c8c0ff" stroke-width="1.6" stroke-linecap="round" stroke-opacity="0.2"/>
<path d="M237.0 554.5h0M237.0 564.5h0" fill="none" stroke="#1a1aff" stroke-width="1.9" stroke-linecap="round" stroke-opacity="0.3"/>
<path d="M236.2 559.5L237.8 559.5" fill="none" stroke="#1a1aff" stroke-width="2.4" stroke-linecap="round" stroke-opacity="0.45"/>
<path d="M265.3 557.0h0M265.3 562.0h0M268.5 557.0h0M268.5 562.0h0M260.9 557.0h0M260.9 562.0h0M272.9 557.0h0M272.9 562.0h0M292.7 557.0h0M292.7 562.0h0M295.9 557.0h0M295.9 562.0h0M288.3 557.0h0M288.3 562.0h0M300.3 557.0h0M300.3 562.0h0" fill="none" stroke="#f2b48a" stroke-width="1.6" stroke-linecap="round" stroke-opacity="0.05"/>
<path d="M263.0 557.0h0M263.0 562.0h0M270.8 557.0h0M270.8 562.0h0M262.7 559.5h0M271.1 559.5h0" fill="none" stroke="#8f80ff" stroke-width="1.8" stroke-linecap="round" stroke-opacity="0.1"/>
<path d="M266.9 554.5h0M266.9 564.5h0" fill="none" stroke="#1a1aff" stroke-width="1.9" stroke-linecap="round" stroke-opacity="0.1"/>
<path d="M266.1 559.5L267.7 559.5" fill="none" stroke="#1a1aff" stroke-width="2.4" stroke-linecap="round" stroke-opacity="0.15"/>
<path d="M290.4 557.0h0M290.4 562.0h0M298.2 557.0h0M298.2 562.0h0M290.1 559.5h0M298.5 559.5h0" fill="none" stroke="#8f80ff" stroke-width="1.8" stroke-linecap="round" stroke-opacity="0.05"/>
<path d="M294.3 554.5h0M294.3 564.5h0" fill="none" stroke="#1a1aff" stroke-width="1.9" stroke-linecap="round" stroke-opacity="0.05"/>
<path d="M293.5 559.5L295.1 559.5" fill="none" stroke="#1a1aff" stroke-width="2.4" stroke-linecap="round" stroke-opacity="0.1"/>
<circle cx="145.0" cy="559.5" r="6.5" fill="none" stroke="#c8c0ff" stroke-opacity="0.38" stroke-width="1.2"/>
<path d="M145.0 554.5h0M145.0 564.5h0" fill="none" stroke="#8f80ff" stroke-width="1.6" stroke-linecap="round" stroke-opacity="0.5"/>
<path d="M145.0 550.0h0M145.0 569.0h0" fill="none" stroke="#c8c0ff" stroke-width="1.4" stroke-linecap="round" stroke-opacity="0.4"/>
<path d="M140.5 559.5h0M149.5 559.5h0" fill="none" stroke="#c8c0ff" stroke-width="1.6" stroke-linecap="round" stroke-opacity="0.45"/>
<path d="M140.5 555.5h0M140.5 563.5h0M149.5 555.5h0M149.5 563.5h0M113.9 550.0h0M113.9 569.0h0" fill="none" stroke="#c8c0ff" stroke-width="1.4" stroke-linecap="round" stroke-opacity="0.3"/>
<path d="M145.0 559.5h0" fill="none" stroke="#1a1aff" stroke-width="2.5" stroke-linecap="round"/>
<path d="M113.9 554.5h0M113.9 564.5h0" fill="none" stroke="#8f80ff" stroke-width="1.6" stroke-linecap="round" stroke-opacity="0.4"/>
<path d="M109.4 559.5h0M118.4 559.5h0" fill="none" stroke="#c8c0ff" stroke-width="1.6" stroke-linecap="round" stroke-opacity="0.4"/>
<path d="M109.4 555.5h0M109.4 563.5h0M118.4 555.5h0M118.4 563.5h0" fill="none" stroke="#c8c0ff" stroke-width="1.4" stroke-linecap="round" stroke-opacity="0.25"/>
<path d="M113.9 559.5h0" fill="none" stroke="#1a1aff" stroke-width="2.5" stroke-linecap="round" stroke-opacity="0.85"/>
<circle cx="83.0" cy="559.5" r="6.5" fill="none" stroke="#c8c0ff" stroke-opacity="0.11" stroke-width="1.2"/>
<path d="M83.0 554.5h0M83.0 564.5h0" fill="none" stroke="#8f80ff" stroke-width="1.6" stroke-linecap="round" stroke-opacity="0.15"/>
<path d="M83.0 550.0h0M83.0 569.0h0M78.5 555.5h0M78.5 563.5h0M87.5 555.5h0M87.5 563.5h0" fill="none" stroke="#c8c0ff" stroke-width="1.4" stroke-linecap="round" stroke-opacity="0.1"/>
<path d="M78.5 559.5h0M87.5 559.5h0" fill="none" stroke="#c8c0ff" stroke-width="1.6" stroke-linecap="round" stroke-opacity="0.15"/>
<path d="M83.0 559.5h0" fill="none" stroke="#1a1aff" stroke-width="2.5" stroke-linecap="round" stroke-opacity="0.3"/>
<path d="M60.0 554.5h0M60.0 564.5h0" fill="none" stroke="#8f80ff" stroke-width="1.6" stroke-linecap="round" stroke-opacity="0.05"/>
<path d="M60.0 550.0h0M60.0 569.0h0M55.5 555.5h0M55.5 563.5h0M64.5 555.5h0M64.5 563.5h0" fill="none" stroke="#c8c0ff" stroke-width="1.4" stroke-linecap="round" stroke-opacity="0.05"/>
<path d="M55.5 559.5h0M64.5 559.5h0M263.0 586.5h0M263.0 596.5h0M270.8 586.5h0M270.8 596.5h0M259.5 591.5h0M274.3 591.5h0M290.4 586.5h0M290.4 596.5h0M298.2 586.5h0M298.2 596.5h0M286.9 591.5h0M301.7 591.5h0" fill="none" stroke="#c8c0ff" stroke-width="1.6" stroke-linecap="round" stroke-opacity="0.05"/>
<path d="M60.0 559.5h0" fill="none" stroke="#1a1aff" stroke-width="2.5" stroke-linecap="round" stroke-opacity="0.15"/>
<path d="M180.7 559.5h0M172.3 559.5h0" fill="none" stroke="#1a1aff" stroke-width="2.7" stroke-linecap="round" stroke-opacity="0.8"/>
<path d="M184.2 559.5h0M168.8 559.5h0" fill="none" stroke="#1a1aff" stroke-width="2.5" stroke-linecap="round" stroke-opacity="0.7"/>
<path d="M187.7 559.5h0M165.3 559.5h0" fill="none" stroke="#8f80ff" stroke-width="1.9" stroke-linecap="round" stroke-opacity="0.55"/>
<path d="M181.7 554.5h0M181.7 564.5h0M171.3 554.5h0M171.3 564.5h0" fill="none" stroke="#1a1aff" stroke-width="2.3" stroke-linecap="round" stroke-opacity="0.65"/>
<path d="M185.2 554.5h0M185.2 564.5h0M167.8 554.5h0M167.8 564.5h0" fill="none" stroke="#8f80ff" stroke-width="2.1" stroke-linecap="round" stroke-opacity="0.55"/>
<path d="M180.7 551.0h0M180.7 568.0h0M172.3 551.0h0M172.3 568.0h0" fill="none" stroke="#8f80ff" stroke-width="1.7" stroke-linecap="round" stroke-opacity="0.3"/>
<path d="M178.4 557.0h0M178.4 562.0h0M174.6 557.0h0M174.6 562.0h0" fill="none" stroke="#ff2a10" stroke-width="1.7" stroke-linecap="round" stroke-opacity="0.5"/>
<path d="M178.4 559.5h0M174.6 559.5h0" fill="none" stroke="#1a1aff" stroke-width="2.3" stroke-linecap="round" stroke-opacity="0.7"/>
<path d="M189.2 554.5h0M189.2 564.5h0M163.8 554.5h0M163.8 564.5h0" fill="none" stroke="#c8c0ff" stroke-width="1.7" stroke-linecap="round" stroke-opacity="0.4"/>
<path d="M204.9 589.0h0M204.9 594.0h0M208.1 589.0h0M208.1 594.0h0M200.5 589.0h0M200.5 594.0h0M212.5 589.0h0M212.5 594.0h0" fill="none" stroke="#f2b48a" stroke-width="1.6" stroke-linecap="round" stroke-opacity="0.3"/>
<path d="M202.6 589.0h0M202.6 594.0h0M210.4 589.0h0M210.4 594.0h0" fill="none" stroke="#8f80ff" stroke-width="1.8" stroke-linecap="round" stroke-opacity="0.55"/>
<path d="M202.6 586.5h0M202.6 596.5h0M210.4 586.5h0M210.4 596.5h0M199.1 591.5h0M213.9 591.5h0" fill="none" stroke="#c8c0ff" stroke-width="1.6" stroke-linecap="round" stroke-opacity="0.4"/>
<path d="M202.3 591.5h0M210.7 591.5h0" fill="none" stroke="#8f80ff" stroke-width="1.8" stroke-linecap="round" stroke-opacity="0.6"/>
<path d="M206.5 586.5h0M206.5 596.5h0" fill="none" stroke="#1a1aff" stroke-width="1.9" stroke-linecap="round" stroke-opacity="0.55"/>
<path d="M205.7 591.5L207.3 591.5" fill="none" stroke="#1a1aff" stroke-width="2.4" stroke-linecap="round" stroke-opacity="0.9"/>
<path d="M235.4 589.0h0M235.4 594.0h0M238.6 589.0h0M238.6 594.0h0M231.0 589.0h0M231.0 594.0h0M243.0 589.0h0M243.0 594.0h0" fill="none" stroke="#f2b48a" stroke-width="1.6" stroke-linecap="round" stroke-opacity="0.15"/>
<path d="M233.1 589.0h0M233.1 594.0h0M240.9 589.0h0M240.9 594.0h0M232.8 591.5h0M241.2 591.5h0" fill="none" stroke="#8f80ff" stroke-width="1.8" stroke-linecap="round" stroke-opacity="0.3"/>
<path d="M233.1 586.5h0M233.1 596.5h0M240.9 586.5h0M240.9 596.5h0M229.6 591.5h0M244.4 591.5h0" fill="none" stroke="#c8c0ff" stroke-width="1.6" stroke-linecap="round" stroke-opacity="0.2"/>
<path d="M237.0 586.5h0M237.0 596.5h0" fill="none" stroke="#1a1aff" stroke-width="1.9" stroke-linecap="round" stroke-opacity="0.3"/>
<path d="M236.2 591.5L237.8 591.5" fill="none" stroke="#1a1aff" stroke-width="2.4" stroke-linecap="round" stroke-opacity="0.45"/>
<path d="M265.3 589.0h0M265.3 594.0h0M268.5 589.0h0M268.5 594.0h0M260.9 589.0h0M260.9 594.0h0M272.9 589.0h0M272.9 594.0h0M292.7 589.0h0M292.7 594.0h0M295.9 589.0h0M295.9 594.0h0M288.3 589.0h0M288.3 594.0h0M300.3 589.0h0M300.3 594.0h0" fill="none" stroke="#f2b48a" stroke-width="1.6" stroke-linecap="round" stroke-opacity="0.05"/>
<path d="M263.0 589.0h0M263.0 594.0h0M270.8 589.0h0M270.8 594.0h0M262.7 591.5h0M271.1 591.5h0" fill="none" stroke="#8f80ff" stroke-width="1.8" stroke-linecap="round" stroke-opacity="0.1"/>
<path d="M266.9 586.5h0M266.9 596.5h0" fill="none" stroke="#1a1aff" stroke-width="1.9" stroke-linecap="round" stroke-opacity="0.1"/>
<path d="M266.1 591.5L267.7 591.5" fill="none" stroke="#1a1aff" stroke-width="2.4" stroke-linecap="round" stroke-opacity="0.15"/>
<path d="M290.4 589.0h0M290.4 594.0h0M298.2 589.0h0M298.2 594.0h0M290.1 591.5h0M298.5 591.5h0" fill="none" stroke="#8f80ff" stroke-width="1.8" stroke-linecap="round" stroke-opacity="0.05"/>
<path d="M294.3 586.5h0M294.3 596.5h0" fill="none" stroke="#1a1aff" stroke-width="1.9" stroke-linecap="round" stroke-opacity="0.05"/>
<path d="M293.5 591.5L295.1 591.5" fill="none" stroke="#1a1aff" stroke-width="2.4" stroke-linecap="round" stroke-opacity="0.1"/>
<circle cx="145.0" cy="591.5" r="6.5" fill="none" stroke="#c8c0ff" stroke-opacity="0.38" stroke-width="1.2"/>
<path d="M145.0 586.5h0M145.0 596.5h0" fill="none" stroke="#8f80ff" stroke-width="1.6" stroke-linecap="round" stroke-opacity="0.5"/>
<path d="M145.0 582.0h0M145.0 601.0h0" fill="none" stroke="#c8c0ff" stroke-width="1.4" stroke-linecap="round" stroke-opacity="0.4"/>
<path d="M140.5 591.5h0M149.5 591.5h0" fill="none" stroke="#c8c0ff" stroke-width="1.6" stroke-linecap="round" stroke-opacity="0.45"/>
<path d="M140.5 587.5h0M140.5 595.5h0M149.5 587.5h0M149.5 595.5h0M113.9 582.0h0M113.9 601.0h0" fill="none" stroke="#c8c0ff" stroke-width="1.4" stroke-linecap="round" stroke-opacity="0.3"/>
<path d="M145.0 591.5h0" fill="none" stroke="#1a1aff" stroke-width="2.5" stroke-linecap="round"/>
<path d="M113.9 586.5h0M113.9 596.5h0" fill="none" stroke="#8f80ff" stroke-width="1.6" stroke-linecap="round" stroke-opacity="0.4"/>
<path d="M109.4 591.5h0M118.4 591.5h0" fill="none" stroke="#c8c0ff" stroke-width="1.6" stroke-linecap="round" stroke-opacity="0.4"/>
<path d="M109.4 587.5h0M109.4 595.5h0M118.4 587.5h0M118.4 595.5h0" fill="none" stroke="#c8c0ff" stroke-width="1.4" stroke-linecap="round" stroke-opacity="0.25"/>
<path d="M113.9 591.5h0" fill="none" stroke="#1a1aff" stroke-width="2.5" stroke-linecap="round" stroke-opacity="0.85"/>
<circle cx="83.0" cy="591.5" r="6.5" fill="none" stroke="#c8c0ff" stroke-opacity="0.11" stroke-width="1.2"/>
<path d="M83.0 586.5h0M83.0 596.5h0" fill="none" stroke="#8f80ff" stroke-width="1.6" stroke-linecap="round" stroke-opacity="0.15"/>
<path d="M83.0 582.0h0M83.0 601.0h0M78.5 587.5h0M78.5 595.5h0M87.5 587.5h0M87.5 595.5h0" fill="none" stroke="#c8c0ff" stroke-width="1.4" stroke-linecap="round" stroke-opacity="0.1"/>
<path d="M78.5 591.5h0M87.5 591.5h0" fill="none" stroke="#c8c0ff" stroke-width="1.6" stroke-linecap="round" stroke-opacity="0.15"/>
<path d="M83.0 591.5h0" fill="none" stroke="#1a1aff" stroke-width="2.5" stroke-linecap="round" stroke-opacity="0.3"/>
<path d="M60.0 586.5h0M60.0 596.5h0" fill="none" stroke="#8f80ff" stroke-width="1.6" stroke-linecap="round" stroke-opacity="0.05"/>
<path d="M60.0 582.0h0M60.0 601.0h0M55.5 587.5h0M55.5 595.5h0M64.5 587.5h0M64.5 595.5h0" fill="none" stroke="#c8c0ff" stroke-width="1.4" stroke-linecap="round" stroke-opacity="0.05"/>
<path d="M55.5 591.5h0M64.5 591.5h0" fill="none" stroke="#c8c0ff" stroke-width="1.6" stroke-linecap="round" stroke-opacity="0.05"/>
<path d="M60.0 591.5h0" fill="none" stroke="#1a1aff" stroke-width="2.5" stroke-linecap="round" stroke-opacity="0.15"/>
<path d="M180.7 591.5h0M172.3 591.5h0" fill="none" stroke="#1a1aff" stroke-width="2.7" stroke-linecap="round" stroke-opacity="0.8"/>
<path d="M184.2 591.5h0M168.8 591.5h0" fill="none" stroke="#1a1aff" stroke-width="2.5" stroke-linecap="round" stroke-opacity="0.7"/>
<path d="M187.7 591.5h0M165.3 591.5h0" fill="none" stroke="#8f80ff" stroke-width="1.9" stroke-linecap="round" stroke-opacity="0.55"/>
<path d="M181.7 586.5h0M181.7 596.5h0M171.3 586.5h0M171.3 596.5h0" fill="none" stroke="#1a1aff" stroke-width="2.3" stroke-linecap="round" stroke-opacity="0.65"/>
<path d="M185.2 586.5h0M185.2 596.5h0M167.8 586.5h0M167.8 596.5h0" fill="none" stroke="#8f80ff" stroke-width="2.1" stroke-linecap="round" stroke-opacity="0.55"/>
<path d="M180.7 583.0h0M180.7 600.0h0M172.3 583.0h0M172.3 600.0h0" fill="none" stroke="#8f80ff" stroke-width="1.7" stroke-linecap="round" stroke-opacity="0.3"/>
<path d="M178.4 589.0h0M178.4 594.0h0M174.6 589.0h0M174.6 594.0h0" fill="none" stroke="#ff2a10" stroke-width="1.7" stroke-linecap="round" stroke-opacity="0.5"/>
<path d="M178.4 591.5h0M174.6 591.5h0" fill="none" stroke="#1a1aff" stroke-width="2.3" stroke-linecap="round" stroke-opacity="0.7"/>
<path d="M189.2 586.5h0M189.2 596.5h0M163.8 586.5h0M163.8 596.5h0" fill="none" stroke="#c8c0ff" stroke-width="1.7" stroke-linecap="round" stroke-opacity="0.4"/>
</g>
<rect x="62.2" y="397.5" width="41.1" height="141.3" fill="#fdfcff"/>
<circle cx="81.5" cy="415.1" r="13" fill="none" stroke="#d8d0ff" stroke-width="2.2" stroke-opacity="0.55"/>
<ellipse cx="94.0" cy="415.1" rx="4.5" ry="2" fill="#d8d0ff"/>
<path d="M81.5 403.6h0M81.5 426.6h0" fill="none" stroke="#a394ff" stroke-width="3.6" stroke-linecap="round" stroke-opacity="0.85"/>
<path d="M74.5 408.6h0M88.5 408.6h0M74.5 421.6h0M88.5 421.6h0" fill="none" stroke="#a394ff" stroke-width="3.2" stroke-linecap="round" stroke-opacity="0.85"/>
<path d="M67.5 415.1h0" fill="none" stroke="#a394ff" stroke-width="3" stroke-linecap="round" stroke-opacity="0.85"/>
<path d="M72.5 415.1h0M81.5 409.1h0M81.5 421.1h0" fill="none" stroke="#a394ff" stroke-width="2.6" stroke-linecap="round" stroke-opacity="0.85"/>
<path d="M81.5 415.1h0" fill="none" stroke="#1a1aff" stroke-width="5.2" stroke-linecap="round"/>
<circle cx="81.5" cy="449.5" r="13" fill="none" stroke="#f5d2b5" stroke-width="2.2" stroke-opacity="0.55"/>
<ellipse cx="94.0" cy="449.5" rx="4.5" ry="2" fill="#f5d2b5"/>
<path d="M81.5 438.0h0M81.5 461.0h0" fill="none" stroke="#e89868" stroke-width="3.6" stroke-linecap="round" stroke-opacity="0.85"/>
<path d="M74.5 443.0h0M88.5 443.0h0M74.5 456.0h0M88.5 456.0h0" fill="none" stroke="#e89868" stroke-width="3.2" stroke-linecap="round" stroke-opacity="0.85"/>
<path d="M67.5 449.5h0" fill="none" stroke="#e89868" stroke-width="3" stroke-linecap="round" stroke-opacity="0.85"/>
<path d="M72.5 449.5h0M81.5 443.5h0M81.5 455.5h0" fill="none" stroke="#e89868" stroke-width="2.6" stroke-linecap="round" stroke-opacity="0.85"/>
<path d="M81.5 449.5h0" fill="none" stroke="#ff2a10" stroke-width="5.2" stroke-linecap="round"/>
<circle cx="81.5" cy="484.3" r="13" fill="none" stroke="#d8d0ff" stroke-width="2.2" stroke-opacity="0.55"/>
<ellipse cx="94.0" cy="484.3" rx="4.5" ry="2" fill="#d8d0ff"/>
<path d="M81.5 472.8h0M81.5 495.8h0" fill="none" stroke="#a394ff" stroke-width="3.6" stroke-linecap="round" stroke-opacity="0.85"/>
<path d="M74.5 477.8h0M88.5 477.8h0M74.5 490.8h0M88.5 490.8h0" fill="none" stroke="#a394ff" stroke-width="3.2" stroke-linecap="round" stroke-opacity="0.85"/>
<path d="M67.5 484.3h0" fill="none" stroke="#a394ff" stroke-width="3" stroke-linecap="round" stroke-opacity="0.85"/>
<path d="M72.5 484.3h0M81.5 478.3h0M81.5 490.3h0" fill="none" stroke="#a394ff" stroke-width="2.6" stroke-linecap="round" stroke-opacity="0.85"/>
<path d="M81.5 484.3h0" fill="none" stroke="#1a1aff" stroke-width="5.2" stroke-linecap="round"/>
<circle cx="81.5" cy="519" r="13" fill="none" stroke="#f5d2b5" stroke-width="2.2" stroke-opacity="0.55"/>
<ellipse cx="94.0" cy="519" rx="4.5" ry="2" fill="#f5d2b5"/>
<path d="M81.5 507.5h0M81.5 530.5h0" fill="none" stroke="#e89868" stroke-width="3.6" stroke-linecap="round" stroke-opacity="0.85"/>
<path d="M74.5 512.5h0M88.5 512.5h0M74.5 525.5h0M88.5 525.5h0" fill="none" stroke="#e89868" stroke-width="3.2" stroke-linecap="round" stroke-opacity="0.85"/>
<path d="M67.5 519.0h0" fill="none" stroke="#e89868" stroke-width="3" stroke-linecap="round" stroke-opacity="0.85"/>
<path d="M72.5 519.0h0M81.5 513.0h0M81.5 525.0h0" fill="none" stroke="#e89868" stroke-width="2.6" stroke-linecap="round" stroke-opacity="0.85"/>
<path d="M81.5 519.0h0" fill="none" stroke="#ff2a10" stroke-width="5.2" stroke-linecap="round"/>
<rect x="53.5" y="553.5" width="70.5" height="44" fill="#fff"/>
<clipPath id="cg1"><rect x="53.5" y="553.5" width="70.5" height="44"/></clipPath><filter id="fbl" x="-5%" y="-5%" width="110%" height="110%"><feGaussianBlur stdDeviation="0.8"/></filter><filter id="fbs" x="-5%" y="-5%" width="110%" height="110%"><feGaussianBlur stdDeviation="0.55"/></filter><g clip-path="url(#cg1)"><g filter="url(#fbl)">
<ellipse cx="66" cy="562" rx="3" ry="3" fill="#b0a4ff" fill-opacity="0.6"/>
<ellipse cx="113" cy="562" rx="3" ry="3" fill="#b0a4ff" fill-opacity="0.6"/>
<ellipse cx="66" cy="591" rx="3" ry="3" fill="#b0a4ff" fill-opacity="0.6"/>
<ellipse cx="113" cy="591" rx="3" ry="3" fill="#b0a4ff" fill-opacity="0.6"/>
<ellipse cx="60" cy="567" rx="2.5" ry="3.5" fill="#c0b6ff" fill-opacity="0.5"/>
<ellipse cx="119" cy="567" rx="2.5" ry="3.5" fill="#c0b6ff" fill-opacity="0.5"/>
<ellipse cx="60" cy="586" rx="2.5" ry="3.5" fill="#c0b6ff" fill-opacity="0.5"/>
<ellipse cx="119" cy="586" rx="2.5" ry="3.5" fill="#c0b6ff" fill-opacity="0.5"/>
<ellipse cx="75" cy="560" rx="3.5" ry="2.2" fill="#f2b48a" fill-opacity="0.9"/>
<ellipse cx="104" cy="560" rx="3.5" ry="2.2" fill="#f2b48a" fill-opacity="0.9"/>
<ellipse cx="75" cy="593" rx="3.5" ry="2.2" fill="#f2b48a" fill-opacity="0.9"/>
<ellipse cx="104" cy="593" rx="3.5" ry="2.2" fill="#f2b48a" fill-opacity="0.9"/>
<ellipse cx="68" cy="576.5" rx="3" ry="2" fill="#f2b48a" fill-opacity="0.8"/>
<ellipse cx="111" cy="576.5" rx="3" ry="2" fill="#f2b48a" fill-opacity="0.8"/>
<ellipse cx="82" cy="576.5" rx="2" ry="2" fill="#f2b48a" fill-opacity="0.8"/>
<ellipse cx="97" cy="576.5" rx="2" ry="2" fill="#f2b48a" fill-opacity="0.8"/>
<ellipse cx="82.7" cy="566.6" rx="2.6" ry="2.8" fill="#8a78ff" fill-opacity="1"/>
<ellipse cx="96.7" cy="566.6" rx="2.6" ry="2.8" fill="#8a78ff" fill-opacity="1"/>
<ellipse cx="82.7" cy="585.9" rx="2.6" ry="2.8" fill="#8a78ff" fill-opacity="1"/>
<ellipse cx="96.7" cy="585.9" rx="2.6" ry="2.8" fill="#8a78ff" fill-opacity="1"/>
<ellipse cx="89.7" cy="576.5" rx="5" ry="5.3" fill="#ff2a10" fill-opacity="1"/>
<ellipse cx="89.7" cy="560.3" rx="4.2" ry="4.2" fill="#ff2a10" fill-opacity="1"/>
<ellipse cx="89.7" cy="592.7" rx="4.2" ry="4.2" fill="#ff2a10" fill-opacity="1"/>
<ellipse cx="75.1" cy="567.8" rx="3.2" ry="3.2" fill="#ff2a10" fill-opacity="1"/>
<ellipse cx="104.3" cy="567.8" rx="3.2" ry="3.2" fill="#ff2a10" fill-opacity="1"/>
<ellipse cx="75.1" cy="584.7" rx="3.2" ry="3.2" fill="#ff2a10" fill-opacity="1"/>
<ellipse cx="104.3" cy="584.7" rx="3.2" ry="3.2" fill="#ff2a10" fill-opacity="1"/>
<ellipse cx="72.8" cy="576.5" rx="2.6" ry="2.6" fill="#ff2a10" fill-opacity="1"/>
<ellipse cx="106.3" cy="576.5" rx="2.6" ry="2.6" fill="#ff2a10" fill-opacity="1"/>
<ellipse cx="63" cy="576.5" rx="2.8" ry="2.2" fill="#f25a30" fill-opacity="1"/>
<ellipse cx="116.5" cy="576.5" rx="2.8" ry="2.2" fill="#f25a30" fill-opacity="1"/>
<ellipse cx="89.7" cy="568" rx="2" ry="2" fill="#f25a30" fill-opacity="0.9"/>
<ellipse cx="89.7" cy="585" rx="2" ry="2" fill="#f25a30" fill-opacity="0.9"/>
<ellipse cx="74" cy="554.5" rx="2.5" ry="2" fill="#f07040" fill-opacity="0.8"/>
<ellipse cx="105" cy="554.5" rx="2.5" ry="2" fill="#f07040" fill-opacity="0.8"/>
<ellipse cx="74" cy="598" rx="2.5" ry="2" fill="#f07040" fill-opacity="0.8"/>
<ellipse cx="105" cy="598" rx="2.5" ry="2" fill="#f07040" fill-opacity="0.8"/>
</g></g>
<rect x="228.8" y="553.7" width="70" height="44" fill="#fff"/>
<clipPath id="cg2"><rect x="228.8" y="553.7" width="70" height="44"/></clipPath><g clip-path="url(#cg2)"><g filter="url(#fbl)">
<ellipse cx="237.7" cy="562.2" rx="2.5" ry="2.5" fill="#c8c0ff" fill-opacity="0.7"/>
<ellipse cx="287.8" cy="562.2" rx="2.5" ry="2.5" fill="#c8c0ff" fill-opacity="0.7"/>
<ellipse cx="237.7" cy="590.8" rx="2.5" ry="2.5" fill="#c8c0ff" fill-opacity="0.7"/>
<ellipse cx="287.8" cy="590.8" rx="2.5" ry="2.5" fill="#c8c0ff" fill-opacity="0.7"/>
<ellipse cx="243" cy="559" rx="3" ry="2" fill="#f6d0b8" fill-opacity="0.8"/>
<ellipse cx="282" cy="559" rx="3" ry="2" fill="#f6d0b8" fill-opacity="0.8"/>
<ellipse cx="243" cy="594" rx="3" ry="2" fill="#f6d0b8" fill-opacity="0.8"/>
<ellipse cx="282" cy="594" rx="3" ry="2" fill="#f6d0b8" fill-opacity="0.8"/>
<ellipse cx="243.4" cy="568" rx="2.3" ry="2.2" fill="#7a6ef2" fill-opacity="1"/>
<ellipse cx="257.6" cy="568" rx="2.3" ry="2.2" fill="#7a6ef2" fill-opacity="1"/>
<ellipse cx="268.4" cy="568" rx="2.3" ry="2.2" fill="#7a6ef2" fill-opacity="1"/>
<ellipse cx="282.7" cy="568" rx="2.3" ry="2.2" fill="#7a6ef2" fill-opacity="1"/>
<ellipse cx="243.4" cy="585" rx="2.3" ry="2.2" fill="#7a6ef2" fill-opacity="1"/>
<ellipse cx="257.6" cy="585" rx="2.3" ry="2.2" fill="#7a6ef2" fill-opacity="1"/>
<ellipse cx="268.4" cy="585" rx="2.3" ry="2.2" fill="#7a6ef2" fill-opacity="1"/>
<ellipse cx="282.7" cy="585" rx="2.3" ry="2.2" fill="#7a6ef2" fill-opacity="1"/>
<ellipse cx="255.5" cy="576.5" rx="1.5" ry="1.5" fill="#c8c0ff" fill-opacity="0.8"/>
<ellipse cx="270" cy="576.5" rx="1.5" ry="1.5" fill="#c8c0ff" fill-opacity="0.8"/>
<ellipse cx="262.7" cy="559.4" rx="3.6" ry="3.4" fill="#f04646" fill-opacity="1"/>
<ellipse cx="262.7" cy="576.5" rx="3.6" ry="3.6" fill="#f04646" fill-opacity="1"/>
<ellipse cx="262.7" cy="593.5" rx="3.6" ry="3.4" fill="#f04646" fill-opacity="1"/>
<ellipse cx="248.5" cy="559.4" rx="2.8" ry="2.4" fill="#f04646" fill-opacity="1"/>
<ellipse cx="277" cy="559.4" rx="2.8" ry="2.4" fill="#f04646" fill-opacity="1"/>
<ellipse cx="248.5" cy="593.5" rx="2.8" ry="2.4" fill="#f04646" fill-opacity="1"/>
<ellipse cx="277" cy="593.5" rx="2.8" ry="2.4" fill="#f04646" fill-opacity="1"/>
<ellipse cx="250.2" cy="568" rx="3.2" ry="2.8" fill="#f04646" fill-opacity="1"/>
<ellipse cx="275.3" cy="568" rx="3.2" ry="2.8" fill="#f04646" fill-opacity="1"/>
<ellipse cx="250.2" cy="585" rx="3.2" ry="2.8" fill="#f04646" fill-opacity="1"/>
<ellipse cx="275.3" cy="585" rx="3.2" ry="2.8" fill="#f04646" fill-opacity="1"/>
<ellipse cx="238.8" cy="576.5" rx="3" ry="2.2" fill="#f04646" fill-opacity="1"/>
<ellipse cx="248.5" cy="576.5" rx="2.6" ry="2.4" fill="#f04646" fill-opacity="1"/>
<ellipse cx="277.5" cy="576.5" rx="2.6" ry="2.4" fill="#f04646" fill-opacity="1"/>
<ellipse cx="287.2" cy="576.5" rx="3" ry="2.2" fill="#f04646" fill-opacity="1"/>
<ellipse cx="262.7" cy="568" rx="1.6" ry="1.6" fill="#f6c0a0" fill-opacity="0.9"/>
<ellipse cx="262.7" cy="585" rx="1.6" ry="1.6" fill="#f6c0a0" fill-opacity="0.9"/>
</g></g>
<line x1="263.3" y1="577.0" x2="272.6" y2="577.0" stroke="#44aaee" stroke-width="1.4"/>
<polygon points="276.60,577.00 272.60,579.40 272.60,574.60" fill="#44aaee" stroke="none" stroke-width="0"/>
<line x1="263.3" y1="577.0" x2="272.7" y2="570.3" stroke="#33dd33" stroke-width="1.4"/>
<polygon points="276.00,568.00 274.12,572.27 271.35,568.35" fill="#33dd33" stroke="none" stroke-width="0"/>
<line x1="263.3" y1="577.0" x2="263.3" y2="563.5" stroke="#9922ff" stroke-width="1.4"/>
<polygon points="263.30,559.50 265.70,563.50 260.90,563.50" fill="#9922ff" stroke="none" stroke-width="0"/>
<rect x="228" y="498" width="70" height="51" fill="#fff"/>
<polygon points="233,524.6 238,512 247,505 262.7,502.5 278,505 287,512 292.5,524.6 287,537 278,544 262.7,546.5 247,544 238,537" fill="none" stroke="#eab0c0" stroke-width="0.5"/>
<polygon points="233,524.6 238,512 247,505 262.7,502.5 278,505 287,512 292.5,524.6 287,537 278,544 262.7,546.5 247,544 238,537" fill="none" stroke="#b8b0f0" stroke-width="0.6" transform="translate(262.7 524.6) scale(0.82) translate(-262.7 -524.6)"/>
<line x1="247" y1="505" x2="247" y2="544" stroke="#e4a8c0" stroke-width="0.45" stroke-opacity="0.6"/>
<line x1="278" y1="505" x2="278" y2="544" stroke="#e4a8c0" stroke-width="0.45" stroke-opacity="0.6"/>
<line x1="238" y1="512" x2="287" y2="537" stroke="#e4a8c0" stroke-width="0.45" stroke-opacity="0.6"/>
<line x1="238" y1="537" x2="287" y2="512" stroke="#e4a8c0" stroke-width="0.45" stroke-opacity="0.6"/>
<line x1="255" y1="503" x2="255" y2="546" stroke="#e4a8c0" stroke-width="0.45" stroke-opacity="0.6"/>
<line x1="270" y1="503" x2="270" y2="546" stroke="#e4a8c0" stroke-width="0.45" stroke-opacity="0.6"/>
<line x1="233" y1="524.6" x2="292.5" y2="524.6" stroke="#e4a8c0" stroke-width="0.45" stroke-opacity="0.6"/>
<line x1="241" y1="508" x2="258" y2="541" stroke="#e4a8c0" stroke-width="0.45" stroke-opacity="0.6"/>
<line x1="284" y1="508" x2="267" y2="541" stroke="#e4a8c0" stroke-width="0.45" stroke-opacity="0.6"/>
<line x1="241" y1="541" x2="258" y2="508" stroke="#e4a8c0" stroke-width="0.45" stroke-opacity="0.6"/>
<line x1="284" y1="541" x2="267" y2="508" stroke="#e4a8c0" stroke-width="0.45" stroke-opacity="0.6"/>
<line x1="250" y1="506" x2="250" y2="543" stroke="#b4b0ee" stroke-width="0.45" stroke-opacity="0.6"/>
<line x1="275" y1="506" x2="275" y2="543" stroke="#b4b0ee" stroke-width="0.45" stroke-opacity="0.6"/>
<line x1="236" y1="518" x2="289" y2="531" stroke="#b4b0ee" stroke-width="0.45" stroke-opacity="0.6"/>
<line x1="236" y1="531" x2="289" y2="518" stroke="#b4b0ee" stroke-width="0.45" stroke-opacity="0.6"/>
<line x1="244" y1="510" x2="281" y2="539" stroke="#b4b0ee" stroke-width="0.45" stroke-opacity="0.6"/>
<line x1="244" y1="539" x2="281" y2="510" stroke="#b4b0ee" stroke-width="0.45" stroke-opacity="0.6"/>
<circle cx="252.2" cy="514.1" r="2.5" fill="#8c8c8c" stroke="#2a2a2a" stroke-width="0.8"/>
<circle cx="262.7" cy="514.1" r="2.5" fill="#8c8c8c" stroke="#2a2a2a" stroke-width="0.8"/>
<circle cx="273.2" cy="514.1" r="2.5" fill="#8c8c8c" stroke="#2a2a2a" stroke-width="0.8"/>
<circle cx="243.6" cy="524.6" r="2.5" fill="#8c8c8c" stroke="#2a2a2a" stroke-width="0.8"/>
<circle cx="262.7" cy="524.6" r="2.5" fill="#8c8c8c" stroke="#2a2a2a" stroke-width="0.8"/>
<circle cx="281.6" cy="524.6" r="2.5" fill="#8c8c8c" stroke="#2a2a2a" stroke-width="0.8"/>
<circle cx="252.2" cy="535.1" r="2.5" fill="#8c8c8c" stroke="#2a2a2a" stroke-width="0.8"/>
<circle cx="262.7" cy="535.1" r="2.5" fill="#8c8c8c" stroke="#2a2a2a" stroke-width="0.8"/>
<circle cx="273.2" cy="535.1" r="2.5" fill="#8c8c8c" stroke="#2a2a2a" stroke-width="0.8"/>
<line x1="252.2" y1="514.1" x2="271.5" y2="514.1" stroke="#44aaee" stroke-width="1.3"/>
<polygon points="275.00,514.10 271.50,516.30 271.50,511.90" fill="#44aaee" stroke="none" stroke-width="0"/>
<line x1="262.7" y1="535.1" x2="277.9" y2="527.1" stroke="#33dd33" stroke-width="1.3"/>
<polygon points="281.00,525.50 278.92,529.07 276.88,525.18" fill="#33dd33" stroke="none" stroke-width="0"/>
<line x1="262.7" y1="535.1" x2="262.7" y2="516.5" stroke="#9922ff" stroke-width="1.3"/>
<polygon points="262.70,513.00 264.90,516.50 260.50,516.50" fill="#9922ff" stroke="none" stroke-width="0"/>
<clipPath id="cd"><rect x="374.4" y="360.5" width="240.6" height="240.0"/></clipPath>
<clipPath id="cdL"><polygon points="374.4,360.5 424.5,360.5 557.3,600.5 374.4,600.5"/></clipPath>
<clipPath id="cdR"><polygon points="424.5,360.5 615.0,360.5 615.0,600.5 557.3,600.5"/></clipPath>
<g clip-path="url(#cd)"><g clip-path="url(#cdL)">
<rect x="374.4" y="360.5" width="200" height="240.0" fill="#fcfbff"/>
<path d="M369.4 326.1L615.0 326.1M369.4 354.2L615.0 354.2M369.4 382.3L615.0 382.3M369.4 410.4L615.0 410.4M369.4 438.5L615.0 438.5M369.4 466.6L615.0 466.6M369.4 494.8L615.0 494.8M369.4 522.9L615.0 522.9M369.4 551.0L615.0 551.0M369.4 579.0L615.0 579.0M369.4 607.1L615.0 607.1M369.4 635.2L615.0 635.2M309.3 835.4L-60.6 126.0M367.9 835.4L-2.0 126.0M426.5 835.4L56.6 126.0M485.1 835.4L115.2 126.0M543.7 835.4L173.8 126.0M602.3 835.4L232.4 126.0M660.9 835.4L291.0 126.0M719.5 835.4L349.6 126.0M778.1 835.4L408.2 126.0M836.7 835.4L466.8 126.0M895.3 835.4L525.4 126.0M953.9 835.4L584.0 126.0M1012.5 835.4L642.6 126.0M1071.1 835.4L701.2 126.0M-60.6 835.4L309.3 126.0M-2.0 835.4L367.9 126.0M56.6 835.4L426.5 126.0M115.2 835.4L485.1 126.0M173.8 835.4L543.7 126.0M232.4 835.4L602.3 126.0M291.0 835.4L660.9 126.0M349.6 835.4L719.5 126.0M408.2 835.4L778.1 126.0M466.8 835.4L836.7 126.0M525.4 835.4L895.3 126.0M584.0 835.4L953.9 126.0M642.6 835.4L1012.5 126.0M701.2 835.4L1071.1 126.0" fill="none" stroke="#c8c0ff" stroke-width="1" stroke-linecap="butt" stroke-opacity="0.15"/>
<path d="M280.0 835.4L-89.9 126.0M338.6 835.4L-31.3 126.0M397.2 835.4L27.3 126.0M455.8 835.4L85.9 126.0M514.4 835.4L144.5 126.0M573.0 835.4L203.1 126.0M631.6 835.4L261.7 126.0M690.2 835.4L320.3 126.0M748.8 835.4L378.9 126.0M807.4 835.4L437.5 126.0M866.0 835.4L496.1 126.0M924.6 835.4L554.7 126.0M983.2 835.4L613.3 126.0M1041.8 835.4L671.9 126.0M-89.9 835.4L280.0 126.0M-31.3 835.4L338.6 126.0M27.3 835.4L397.2 126.0M85.9 835.4L455.8 126.0M144.5 835.4L514.4 126.0M203.1 835.4L573.0 126.0M261.7 835.4L631.6 126.0M320.3 835.4L690.2 126.0M378.9 835.4L748.8 126.0M437.5 835.4L807.4 126.0M496.1 835.4L866.0 126.0M554.7 835.4L924.6 126.0M613.3 835.4L983.2 126.0M671.9 835.4L1041.8 126.0" fill="none" stroke="#f0d0b0" stroke-width="1" stroke-linecap="butt" stroke-opacity="0.15"/>
<path d="M376.2 593.1L380.9 593.1M374.8 595.5L377.2 599.6M372.0 595.5L369.7 599.6M370.6 593.1L365.9 593.1M372.0 590.7L369.7 586.6M374.8 590.7L377.2 586.6M405.5 593.1L410.2 593.1M404.1 595.5L406.5 599.6M401.3 595.5L399.0 599.6M399.9 593.1L395.2 593.1M401.3 590.7L399.0 586.6M404.1 590.7L406.5 586.6M434.8 593.1L439.5 593.1M433.4 595.5L435.8 599.6M430.6 595.5L428.3 599.6M429.2 593.1L424.5 593.1M430.6 590.7L428.3 586.6M433.4 590.7L435.8 586.6M464.1 593.1L468.8 593.1M462.7 595.5L465.1 599.6M459.9 595.5L457.6 599.6M458.5 593.1L453.8 593.1M459.9 590.7L457.6 586.6M462.7 590.7L465.1 586.6M493.4 593.1L498.1 593.1M492.0 595.5L494.4 599.6M489.2 595.5L486.9 599.6M487.8 593.1L483.1 593.1M489.2 590.7L486.9 586.6M492.0 590.7L494.4 586.6M522.7 593.1L527.4 593.1M521.3 595.5L523.6 599.6M518.5 595.5L516.1 599.6M517.1 593.1L512.4 593.1M518.5 590.7L516.1 586.6M521.3 590.7L523.6 586.6M552.0 593.1L556.7 593.1M550.6 595.5L553.0 599.6M547.8 595.5L545.5 599.6M546.4 593.1L541.7 593.1M547.8 590.7L545.5 586.6M550.6 590.7L553.0 586.6M581.3 593.1L586.0 593.1M579.9 595.5L582.2 599.6M577.1 595.5L574.8 599.6M575.7 593.1L571.0 593.1M577.1 590.7L574.8 586.6M579.9 590.7L582.2 586.6M610.6 593.1L615.3 593.1M609.2 595.5L611.6 599.6M606.4 595.5L604.1 599.6M605.0 593.1L600.3 593.1M606.4 590.7L604.1 586.6M609.2 590.7L611.6 586.6M390.9 565.0L395.6 565.0M389.4 567.4L391.8 571.5M386.7 567.4L384.3 571.5M385.2 565.0L380.6 565.0M386.7 562.6L384.3 558.5M389.4 562.6L391.8 558.5M420.2 565.0L424.9 565.0M418.8 567.4L421.1 571.5M416.0 567.4L413.6 571.5M414.6 565.0L409.9 565.0M416.0 562.6L413.6 558.5M418.8 562.6L421.1 558.5M566.6 565.0L571.4 565.0M565.2 567.4L567.6 571.5M562.5 567.4L560.1 571.5M561.1 565.0L556.4 565.0M562.5 562.6L560.1 558.5M565.2 562.6L567.6 558.5M596.0 565.0L600.7 565.0M594.6 567.4L596.9 571.5M591.8 567.4L589.4 571.5M590.4 565.0L585.7 565.0M591.8 562.6L589.4 558.5M594.6 562.6L596.9 558.5M625.2 565.0L630.0 565.0M623.9 567.4L626.2 571.5M621.1 567.4L618.7 571.5M619.7 565.0L615.0 565.0M621.1 562.6L618.7 558.5M623.9 562.6L626.2 558.5M376.2 536.9L380.9 536.9M374.8 539.3L377.2 543.4M372.0 539.3L369.7 543.4M370.6 536.9L365.9 536.9M372.0 534.5L369.7 530.4M374.8 534.5L377.2 530.4M405.5 536.9L410.2 536.9M404.1 539.3L406.5 543.4M401.3 539.3L399.0 543.4M399.9 536.9L395.2 536.9M401.3 534.5L399.0 530.4M404.1 534.5L406.5 530.4M581.3 536.9L586.0 536.9M579.9 539.3L582.2 543.4M577.1 539.3L574.8 543.4M575.7 536.9L571.0 536.9M577.1 534.5L574.8 530.4M579.9 534.5L582.2 530.4M610.6 536.9L615.3 536.9M609.2 539.3L611.5 543.4M606.4 539.3L604.0 543.4M605.0 536.9L600.3 536.9M606.4 534.5L604.0 530.4M609.2 534.5L611.5 530.4M390.9 508.8L395.6 508.8M389.4 511.2L391.8 515.3M386.7 511.2L384.3 515.3M385.2 508.8L380.6 508.8M386.7 506.4L384.3 502.3M389.4 506.4L391.8 502.3M595.9 508.8L600.6 508.8M594.5 511.2L596.9 515.3M591.8 511.2L589.4 515.3M590.4 508.8L585.6 508.8M591.8 506.4L589.4 502.3M594.5 506.4L596.9 502.3M625.2 508.8L630.0 508.8M623.9 511.2L626.2 515.3M621.1 511.2L618.7 515.3M619.7 508.8L615.0 508.8M621.1 506.4L618.7 502.3M623.9 506.4L626.2 502.3M376.2 480.7L380.9 480.7M374.8 483.1L377.2 487.2M372.0 483.1L369.7 487.2M370.6 480.7L365.9 480.7M372.0 478.3L369.7 474.2M374.8 478.3L377.2 474.2M610.6 480.7L615.3 480.7M609.2 483.1L611.6 487.2M606.4 483.1L604.1 487.2M605.0 480.7L600.3 480.7M606.4 478.3L604.1 474.2M609.2 478.3L611.6 474.2M390.9 452.6L395.6 452.6M389.5 455.0L391.8 459.1M386.7 455.0L384.3 459.1M385.3 452.6L380.6 452.6M386.7 450.2L384.3 446.1M389.5 450.2L391.8 446.1M596.0 452.6L600.7 452.6M594.6 455.0L596.9 459.1M591.8 455.0L589.4 459.1M590.4 452.6L585.7 452.6M591.8 450.2L589.4 446.1M594.6 450.2L596.9 446.1M625.2 452.6L630.0 452.6M623.9 455.0L626.2 459.1M621.1 455.0L618.7 459.1M619.7 452.6L615.0 452.6M621.1 450.2L618.7 446.1M623.9 450.2L626.2 446.1M376.2 424.5L380.9 424.5M374.8 426.9L377.2 431.0M372.0 426.9L369.7 431.0M370.6 424.5L365.9 424.5M372.0 422.1L369.7 418.0M374.8 422.1L377.2 418.0M405.5 424.5L410.2 424.5M404.1 426.9L406.4 431.0M401.3 426.9L398.9 431.0M399.9 424.5L395.2 424.5M401.3 422.1L398.9 418.0M404.1 422.1L406.4 418.0M581.3 424.5L586.0 424.5M579.9 426.9L582.3 431.0M577.1 426.9L574.8 431.0M575.7 424.5L571.0 424.5M577.1 422.1L574.8 418.0M579.9 422.1L582.3 418.0M610.6 424.5L615.3 424.5M609.2 426.9L611.6 431.0M606.4 426.9L604.1 431.0M605.0 424.5L600.3 424.5M606.4 422.1L604.1 418.0M609.2 422.1L611.6 418.0M390.9 396.4L395.6 396.4M389.4 398.8L391.8 402.9M386.7 398.8L384.3 402.9M385.2 396.4L380.6 396.4M386.7 394.0L384.3 389.9M389.4 394.0L391.8 389.9M420.2 396.4L424.9 396.4M418.8 398.8L421.1 402.9M416.0 398.8L413.6 402.9M414.6 396.4L409.9 396.4M416.0 394.0L413.6 389.9M418.8 394.0L421.1 389.9M566.6 396.4L571.4 396.4M565.2 398.8L567.6 402.9M562.5 398.8L560.1 402.9M561.1 396.4L556.4 396.4M562.5 394.0L560.1 389.9M565.2 394.0L567.6 389.9M595.9 396.4L600.6 396.4M594.5 398.8L596.9 402.9M591.8 398.8L589.4 402.9M590.4 396.4L585.6 396.4M591.8 394.0L589.4 389.9M594.5 394.0L596.9 389.9M625.2 396.4L630.0 396.4M623.9 398.8L626.2 402.9M621.1 398.8L618.7 402.9M619.7 396.4L615.0 396.4M621.1 394.0L618.7 389.9M623.9 394.0L626.2 389.9M376.2 368.3L380.9 368.3M374.8 370.7L377.1 374.8M372.0 370.7L369.6 374.8M370.6 368.3L365.9 368.3M372.0 365.9L369.6 361.8M374.8 365.9L377.1 361.8M405.5 368.3L410.2 368.3M404.1 370.7L406.4 374.8M401.3 370.7L398.9 374.8M399.9 368.3L395.2 368.3M401.3 365.9L398.9 361.8M404.1 365.9L406.4 361.8M434.8 368.3L439.5 368.3M433.4 370.7L435.8 374.8M430.6 370.7L428.2 374.8M429.2 368.3L424.5 368.3M430.6 365.9L428.2 361.8M433.4 365.9L435.8 361.8M464.1 368.3L468.8 368.3M462.7 370.7L465.0 374.8M459.9 370.7L457.5 374.8M458.5 368.3L453.8 368.3M459.9 365.9L457.5 361.8M462.7 365.9L465.0 361.8M493.4 368.3L498.1 368.3M492.0 370.7L494.4 374.8M489.2 370.7L486.9 374.8M487.8 368.3L483.1 368.3M489.2 365.9L486.9 361.8M492.0 365.9L494.4 361.8M522.7 368.3L527.4 368.3M521.3 370.7L523.6 374.8M518.5 370.7L516.1 374.8M517.1 368.3L512.4 368.3M518.5 365.9L516.1 361.8M521.3 365.9L523.6 361.8M552.0 368.3L556.7 368.3M550.6 370.7L553.0 374.8M547.8 370.7L545.5 374.8M546.4 368.3L541.7 368.3M547.8 365.9L545.5 361.8M550.6 365.9L553.0 361.8M581.3 368.3L586.0 368.3M579.9 370.7L582.2 374.8M577.1 370.7L574.8 374.8M575.7 368.3L571.0 368.3M577.1 365.9L574.8 361.8M579.9 365.9L582.2 361.8M610.6 368.3L615.3 368.3M609.2 370.7L611.6 374.8M606.4 370.7L604.1 374.8M605.0 368.3L600.3 368.3M606.4 365.9L604.1 361.8M609.2 365.9L611.6 361.8" fill="none" stroke="#f0b080" stroke-width="1.5" stroke-linecap="butt" stroke-opacity="0.2"/>
<path d="M375.6 594.4L378.6 596.1M373.4 595.6L373.4 599.1M371.2 594.4L368.2 596.1M371.2 591.9L368.2 590.1M373.4 590.6L373.4 587.1M375.6 591.9L378.6 590.1M404.9 594.4L407.9 596.1M402.7 595.6L402.7 599.1M400.5 594.4L397.5 596.1M400.5 591.9L397.5 590.1M402.7 590.6L402.7 587.1M404.9 591.9L407.9 590.1M434.2 594.4L437.2 596.1M432.0 595.6L432.0 599.1M429.8 594.4L426.8 596.1M429.8 591.9L426.8 590.1M432.0 590.6L432.0 587.1M434.2 591.9L437.2 590.1M463.5 594.4L466.5 596.1M461.3 595.6L461.3 599.1M459.1 594.4L456.1 596.1M459.1 591.9L456.1 590.1M461.3 590.6L461.3 587.1M463.5 591.9L466.5 590.1M492.8 594.4L495.8 596.1M490.6 595.6L490.6 599.1M488.4 594.4L485.4 596.1M488.4 591.9L485.4 590.1M490.6 590.6L490.6 587.1M492.8 591.9L495.8 590.1M522.1 594.4L525.1 596.1M519.9 595.6L519.9 599.1M517.7 594.4L514.7 596.1M517.7 591.9L514.7 590.1M519.9 590.6L519.9 587.1M522.1 591.9L525.1 590.1M551.4 594.4L554.4 596.1M549.2 595.6L549.2 599.1M547.0 594.4L544.0 596.1M547.0 591.9L544.0 590.1M549.2 590.6L549.2 587.1M551.4 591.9L554.4 590.1M580.7 594.4L583.7 596.1M578.5 595.6L578.5 599.1M576.3 594.4L573.3 596.1M576.3 591.9L573.3 590.1M578.5 590.6L578.5 587.1M580.7 591.9L583.7 590.1M610.0 594.4L613.0 596.1M607.8 595.6L607.8 599.1M605.6 594.4L602.6 596.1M605.6 591.9L602.6 590.1M607.8 590.6L607.8 587.1M610.0 591.9L613.0 590.1M390.2 566.2L393.2 568.0M388.1 567.5L388.1 571.0M385.9 566.2L382.9 568.0M385.9 563.8L382.9 562.0M388.1 562.5L388.1 559.0M390.2 563.8L393.2 562.0M419.5 566.2L422.5 568.0M417.4 567.5L417.4 571.0M415.2 566.2L412.2 568.0M415.2 563.8L412.2 562.0M417.4 562.5L417.4 559.0M419.5 563.8L422.5 562.0M566.0 566.2L569.0 568.0M563.9 567.5L563.9 571.0M561.7 566.2L558.7 568.0M561.7 563.8L558.7 562.0M563.9 562.5L563.9 559.0M566.0 563.8L569.0 562.0M595.3 566.2L598.3 568.0M593.2 567.5L593.2 571.0M591.0 566.2L588.0 568.0M591.0 563.8L588.0 562.0M593.2 562.5L593.2 559.0M595.3 563.8L598.3 562.0M624.6 566.2L627.6 568.0M622.5 567.5L622.5 571.0M620.3 566.2L617.3 568.0M620.3 563.8L617.3 562.0M622.5 562.5L622.5 559.0M624.6 563.8L627.6 562.0M375.6 538.1L378.6 539.9M373.4 539.4L373.4 542.9M371.2 538.1L368.2 539.9M371.2 535.6L368.2 533.9M373.4 534.4L373.4 530.9M375.6 535.6L378.6 533.9M404.9 538.1L407.9 539.9M402.7 539.4L402.7 542.9M400.5 538.1L397.5 539.9M400.5 535.6L397.5 533.9M402.7 534.4L402.7 530.9M404.9 535.6L407.9 533.9M580.7 538.1L583.7 539.9M578.5 539.4L578.5 542.9M576.3 538.1L573.3 539.9M576.3 535.6L573.3 533.9M578.5 534.4L578.5 530.9M580.7 535.6L583.7 533.9M610.0 538.1L613.0 539.9M607.8 539.4L607.8 542.9M605.6 538.1L602.6 539.9M605.6 535.6L602.6 533.9M607.8 534.4L607.8 530.9M610.0 535.6L613.0 533.9M390.2 510.1L393.2 511.8M388.1 511.3L388.1 514.8M385.9 510.1L382.9 511.8M385.9 507.6L382.9 505.8M388.1 506.3L388.1 502.8M390.2 507.6L393.2 505.8M595.3 510.1L598.3 511.8M593.1 511.3L593.1 514.8M591.0 510.1L588.0 511.8M591.0 507.6L588.0 505.8M593.1 506.3L593.1 502.8M595.3 507.6L598.3 505.8M624.6 510.1L627.6 511.8M622.5 511.3L622.5 514.8M620.3 510.1L617.3 511.8M620.3 507.6L617.3 505.8M622.5 506.3L622.5 502.8M624.6 507.6L627.6 505.8M375.6 481.9L378.6 483.7M373.4 483.2L373.4 486.7M371.2 481.9L368.2 483.7M371.2 479.4L368.2 477.7M373.4 478.2L373.4 474.7M375.6 479.4L378.6 477.7M610.0 481.9L613.0 483.7M607.8 483.2L607.8 486.7M605.6 481.9L602.6 483.7M605.6 479.4L602.6 477.7M607.8 478.2L607.8 474.7M610.0 479.4L613.0 477.7M390.2 453.8L393.2 455.6M388.1 455.1L388.1 458.6M385.9 453.8L382.9 455.6M385.9 451.3L382.9 449.6M388.1 450.1L388.1 446.6M390.2 451.3L393.2 449.6M595.3 453.8L598.3 455.6M593.2 455.1L593.2 458.6M591.0 453.8L588.0 455.6M591.0 451.3L588.0 449.6M593.2 450.1L593.2 446.6M595.3 451.3L598.3 449.6M624.6 453.8L627.6 455.6M622.5 455.1L622.5 458.6M620.3 453.8L617.3 455.6M620.3 451.3L617.3 449.6M622.5 450.1L622.5 446.6M624.6 451.3L627.6 449.6M375.6 425.8L378.6 427.5M373.4 427.0L373.4 430.5M371.2 425.8L368.2 427.5M371.2 423.2L368.2 421.5M373.4 422.0L373.4 418.5M375.6 423.2L378.6 421.5M404.9 425.8L407.9 427.5M402.7 427.0L402.7 430.5M400.5 425.8L397.5 427.5M400.5 423.2L397.5 421.5M402.7 422.0L402.7 418.5M404.9 423.2L407.9 421.5M580.7 425.8L583.7 427.5M578.5 427.0L578.5 430.5M576.3 425.8L573.3 427.5M576.3 423.2L573.3 421.5M578.5 422.0L578.5 418.5M580.7 423.2L583.7 421.5M610.0 425.8L613.0 427.5M607.8 427.0L607.8 430.5M605.6 425.8L602.6 427.5M605.6 423.2L602.6 421.5M607.8 422.0L607.8 418.5M610.0 423.2L613.0 421.5M390.2 397.6L393.2 399.4M388.1 398.9L388.1 402.4M385.9 397.6L382.9 399.4M385.9 395.1L382.9 393.4M388.1 393.9L388.1 390.4M390.2 395.1L393.2 393.4M419.5 397.6L422.5 399.4M417.4 398.9L417.4 402.4M415.2 397.6L412.2 399.4M415.2 395.1L412.2 393.4M417.4 393.9L417.4 390.4M419.5 395.1L422.5 393.4M566.0 397.6L569.0 399.4M563.9 398.9L563.9 402.4M561.7 397.6L558.7 399.4M561.7 395.1L558.7 393.4M563.9 393.9L563.9 390.4M566.0 395.1L569.0 393.4M595.3 397.6L598.3 399.4M593.1 398.9L593.1 402.4M591.0 397.6L588.0 399.4M591.0 395.1L588.0 393.4M593.1 393.9L593.1 390.4M595.3 395.1L598.3 393.4M624.6 397.6L627.6 399.4M622.5 398.9L622.5 402.4M620.3 397.6L617.3 399.4M620.3 395.1L617.3 393.4M622.5 393.9L622.5 390.4M624.6 395.1L627.6 393.4M375.6 369.5L378.6 371.3M373.4 370.8L373.4 374.3M371.2 369.5L368.2 371.3M371.2 367.0L368.2 365.3M373.4 365.8L373.4 362.3M375.6 367.0L378.6 365.3M404.9 369.5L407.9 371.3M402.7 370.8L402.7 374.3M400.5 369.5L397.5 371.3M400.5 367.0L397.5 365.3M402.7 365.8L402.7 362.3M404.9 367.0L407.9 365.3M434.2 369.5L437.2 371.3M432.0 370.8L432.0 374.3M429.8 369.5L426.8 371.3M429.8 367.0L426.8 365.3M432.0 365.8L432.0 362.3M434.2 367.0L437.2 365.3M463.5 369.5L466.5 371.3M461.3 370.8L461.3 374.3M459.1 369.5L456.1 371.3M459.1 367.0L456.1 365.3M461.3 365.8L461.3 362.3M463.5 367.0L466.5 365.3M492.8 369.5L495.8 371.3M490.6 370.8L490.6 374.3M488.4 369.5L485.4 371.3M488.4 367.0L485.4 365.3M490.6 365.8L490.6 362.3M492.8 367.0L495.8 365.3M522.1 369.5L525.1 371.3M519.9 370.8L519.9 374.3M517.7 369.5L514.7 371.3M517.7 367.0L514.7 365.3M519.9 365.8L519.9 362.3M522.1 367.0L525.1 365.3M551.4 369.5L554.4 371.3M549.2 370.8L549.2 374.3M547.0 369.5L544.0 371.3M547.0 367.0L544.0 365.3M549.2 365.8L549.2 362.3M551.4 367.0L554.4 365.3M580.7 369.5L583.7 371.3M578.5 370.8L578.5 374.3M576.3 369.5L573.3 371.3M576.3 367.0L573.3 365.3M578.5 365.8L578.5 362.3M580.7 367.0L583.7 365.3M610.0 369.5L613.0 371.3M607.8 370.8L607.8 374.3M605.6 369.5L602.6 371.3M605.6 367.0L602.6 365.3M607.8 365.8L607.8 362.3M610.0 367.0L613.0 365.3" fill="none" stroke="#a494ff" stroke-width="1.3" stroke-linecap="butt" stroke-opacity="0.15"/>
<path d="M449.5 565.0L454.2 565.0M448.1 567.4L450.4 571.5M445.3 567.4L442.9 571.5M443.9 565.0L439.2 565.0M445.3 562.6L442.9 558.5M448.1 562.6L450.4 558.5M478.8 565.0L483.4 565.0M477.3 567.4L479.7 571.5M474.6 567.4L472.2 571.5M473.1 565.0L468.4 565.0M474.6 562.6L472.2 558.5M477.3 562.6L479.7 558.5M508.1 565.0L512.8 565.0M506.6 567.4L509.0 571.5M503.9 567.4L501.5 571.5M502.4 565.0L497.8 565.0M503.9 562.6L501.5 558.5M506.6 562.6L509.0 558.5M537.4 565.0L542.1 565.0M536.0 567.4L538.3 571.5M533.2 567.4L530.8 571.5M531.8 565.0L527.1 565.0M533.2 562.6L530.8 558.5M536.0 562.6L538.3 558.5M434.8 536.9L439.5 536.9M433.4 539.3L435.8 543.4M430.6 539.3L428.3 543.4M429.2 536.9L424.5 536.9M430.6 534.5L428.3 530.4M433.4 534.5L435.8 530.4M552.0 536.9L556.7 536.9M550.6 539.3L552.9 543.4M547.8 539.3L545.4 543.4M546.4 536.9L541.7 536.9M547.8 534.5L545.4 530.4M550.6 534.5L552.9 530.4M405.5 480.7L410.2 480.7M404.1 483.1L406.5 487.2M401.3 483.1L399.0 487.2M399.9 480.7L395.2 480.7M401.3 478.3L399.0 474.2M404.1 478.3L406.5 474.2M581.3 480.7L586.0 480.7M579.9 483.1L582.2 487.2M577.1 483.1L574.8 487.2M575.7 480.7L571.0 480.7M577.1 478.3L574.8 474.2M579.9 478.3L582.2 474.2M434.8 424.5L439.5 424.5M433.4 426.9L435.8 431.0M430.6 426.9L428.2 431.0M429.2 424.5L424.5 424.5M430.6 422.1L428.2 418.0M433.4 422.1L435.8 418.0M552.0 424.5L556.7 424.5M550.6 426.9L553.0 431.0M547.8 426.9L545.5 431.0M546.4 424.5L541.7 424.5M547.8 422.1L545.5 418.0M550.6 422.1L553.0 418.0M449.5 396.4L454.2 396.4M448.1 398.8L450.4 402.9M445.3 398.8L442.9 402.9M443.9 396.4L439.2 396.4M445.3 394.0L442.9 389.9M448.1 394.0L450.4 389.9M478.8 396.4L483.4 396.4M477.3 398.8L479.7 402.9M474.6 398.8L472.2 402.9M473.1 396.4L468.4 396.4M474.6 394.0L472.2 389.9M477.3 394.0L479.7 389.9M508.1 396.4L512.8 396.4M506.7 398.8L509.0 402.9M503.9 398.8L501.5 402.9M502.5 396.4L497.8 396.4M503.9 394.0L501.5 389.9M506.7 394.0L509.0 389.9M537.3 396.4L542.0 396.4M535.9 398.8L538.3 402.9M533.1 398.8L530.8 402.9M531.8 396.4L527.0 396.4M533.1 394.0L530.8 389.9M535.9 394.0L538.3 389.9" fill="none" stroke="#f0b080" stroke-width="1.5" stroke-linecap="butt" stroke-opacity="0.25"/>
<path d="M448.8 566.2L451.8 568.0M446.7 567.5L446.7 571.0M444.5 566.2L441.5 568.0M444.5 563.8L441.5 562.0M446.7 562.5L446.7 559.0M448.8 563.8L451.8 562.0M478.1 566.2L481.1 568.0M475.9 567.5L475.9 571.0M473.8 566.2L470.8 568.0M473.8 563.8L470.8 562.0M475.9 562.5L475.9 559.0M478.1 563.8L481.1 562.0M507.4 566.2L510.4 568.0M505.2 567.5L505.2 571.0M503.1 566.2L500.1 568.0M503.1 563.8L500.1 562.0M505.2 562.5L505.2 559.0M507.4 563.8L510.4 562.0M536.7 566.2L539.7 568.0M534.6 567.5L534.6 571.0M532.4 566.2L529.4 568.0M532.4 563.8L529.4 562.0M534.6 562.5L534.6 559.0M536.7 563.8L539.7 562.0M434.2 538.1L437.2 539.9M432.0 539.4L432.0 542.9M429.8 538.1L426.8 539.9M429.8 535.6L426.8 533.9M432.0 534.4L432.0 530.9M434.2 535.6L437.2 533.9M551.4 538.1L554.4 539.9M549.2 539.4L549.2 542.9M547.0 538.1L544.0 539.9M547.0 535.6L544.0 533.9M549.2 534.4L549.2 530.9M551.4 535.6L554.4 533.9M404.9 481.9L407.9 483.7M402.7 483.2L402.7 486.7M400.5 481.9L397.5 483.7M400.5 479.4L397.5 477.7M402.7 478.2L402.7 474.7M404.9 479.4L407.9 477.7M580.7 481.9L583.7 483.7M578.5 483.2L578.5 486.7M576.3 481.9L573.3 483.7M576.3 479.4L573.3 477.7M578.5 478.2L578.5 474.7M580.7 479.4L583.7 477.7M434.2 425.8L437.2 427.5M432.0 427.0L432.0 430.5M429.8 425.8L426.8 427.5M429.8 423.2L426.8 421.5M432.0 422.0L432.0 418.5M434.2 423.2L437.2 421.5M551.4 425.8L554.4 427.5M549.2 427.0L549.2 430.5M547.0 425.8L544.0 427.5M547.0 423.2L544.0 421.5M549.2 422.0L549.2 418.5M551.4 423.2L554.4 421.5M448.8 397.6L451.8 399.4M446.7 398.9L446.7 402.4M444.5 397.6L441.5 399.4M444.5 395.1L441.5 393.4M446.7 393.9L446.7 390.4M448.8 395.1L451.8 393.4M478.1 397.6L481.1 399.4M475.9 398.9L475.9 402.4M473.8 397.6L470.8 399.4M473.8 395.1L470.8 393.4M475.9 393.9L475.9 390.4M478.1 395.1L481.1 393.4M507.4 397.6L510.4 399.4M505.3 398.9L505.3 402.4M503.1 397.6L500.1 399.4M503.1 395.1L500.1 393.4M505.3 393.9L505.3 390.4M507.4 395.1L510.4 393.4M536.7 397.6L539.7 399.4M534.5 398.9L534.5 402.4M532.4 397.6L529.4 399.4M532.4 395.1L529.4 393.4M534.5 393.9L534.5 390.4M536.7 395.1L539.7 393.4" fill="none" stroke="#a494ff" stroke-width="1.3" stroke-linecap="butt" stroke-opacity="0.2"/>
<path d="M464.1 536.9L468.8 536.9M462.7 539.3L465.1 543.4M459.9 539.3L457.6 543.4M458.5 536.9L453.8 536.9M459.9 534.5L457.6 530.4M462.7 534.5L465.1 530.4M493.4 536.9L498.1 536.9M492.0 539.3L494.4 543.4M489.2 539.3L486.9 543.4M487.8 536.9L483.1 536.9M489.2 534.5L486.9 530.4M492.0 534.5L494.4 530.4M522.7 536.9L527.4 536.9M521.3 539.3L523.6 543.4M518.5 539.3L516.1 543.4M517.1 536.9L512.4 536.9M518.5 534.5L516.1 530.4M521.3 534.5L523.6 530.4M449.4 508.8L454.1 508.8M448.0 511.2L450.4 515.3M445.2 511.2L442.9 515.3M443.8 508.8L439.1 508.8M445.2 506.4L442.9 502.3M448.0 506.4L450.4 502.3M537.3 508.8L542.0 508.8M535.9 511.2L538.3 515.3M533.1 511.2L530.8 515.3M531.8 508.8L527.0 508.8M533.1 506.4L530.8 502.3M535.9 506.4L538.3 502.3M434.8 480.7L439.5 480.7M433.4 483.1L435.8 487.2M430.6 483.1L428.2 487.2M429.2 480.7L424.5 480.7M430.6 478.3L428.2 474.2M433.4 478.3L435.8 474.2M552.0 480.7L556.7 480.7M550.6 483.1L553.0 487.2M547.8 483.1L545.5 487.2M546.4 480.7L541.7 480.7M547.8 478.3L545.5 474.2M550.6 478.3L553.0 474.2M449.5 452.6L454.2 452.6M448.1 455.0L450.4 459.1M445.3 455.0L442.9 459.1M443.9 452.6L439.2 452.6M445.3 450.2L442.9 446.1M448.1 450.2L450.4 446.1M537.4 452.6L542.1 452.6M536.0 455.0L538.3 459.1M533.2 455.0L530.8 459.1M531.8 452.6L527.1 452.6M533.2 450.2L530.8 446.1M536.0 450.2L538.3 446.1M464.1 424.5L468.8 424.5M462.7 426.9L465.1 431.0M459.9 426.9L457.6 431.0M458.5 424.5L453.8 424.5M459.9 422.1L457.6 418.0M462.7 422.1L465.1 418.0M493.4 424.5L498.1 424.5M492.0 426.9L494.3 431.0M489.2 426.9L486.8 431.0M487.8 424.5L483.1 424.5M489.2 422.1L486.8 418.0M492.0 422.1L494.3 418.0M522.7 424.5L527.4 424.5M521.3 426.9L523.7 431.0M518.5 426.9L516.2 431.0M517.1 424.5L512.4 424.5M518.5 422.1L516.2 418.0M521.3 422.1L523.7 418.0" fill="none" stroke="#f0b080" stroke-width="1.5" stroke-linecap="butt" stroke-opacity="0.35"/>
<path d="M463.5 538.1L466.5 539.9M461.3 539.4L461.3 542.9M459.1 538.1L456.1 539.9M459.1 535.6L456.1 533.9M461.3 534.4L461.3 530.9M463.5 535.6L466.5 533.9M522.1 538.1L525.1 539.9M519.9 539.4L519.9 542.9M517.7 538.1L514.7 539.9M517.7 535.6L514.7 533.9M519.9 534.4L519.9 530.9M522.1 535.6L525.1 533.9M419.5 510.1L422.5 511.8M417.4 511.3L417.4 514.8M415.2 510.1L412.2 511.8M415.2 507.6L412.2 505.8M417.4 506.3L417.4 502.8M419.5 507.6L422.5 505.8M566.0 510.1L569.0 511.8M563.9 511.3L563.9 514.8M561.7 510.1L558.7 511.8M561.7 507.6L558.7 505.8M563.9 506.3L563.9 502.8M566.0 507.6L569.0 505.8M419.5 453.8L422.5 455.6M417.4 455.1L417.4 458.6M415.2 453.8L412.2 455.6M415.2 451.3L412.2 449.6M417.4 450.1L417.4 446.6M419.5 451.3L422.5 449.6M566.0 453.8L569.0 455.6M563.9 455.1L563.9 458.6M561.7 453.8L558.7 455.6M561.7 451.3L558.7 449.6M563.9 450.1L563.9 446.6M566.0 451.3L569.0 449.6M463.5 425.8L466.5 427.5M461.3 427.0L461.3 430.5M459.1 425.8L456.1 427.5M459.1 423.2L456.1 421.5M461.3 422.0L461.3 418.5M463.5 423.2L466.5 421.5M522.1 425.8L525.1 427.5M519.9 427.0L519.9 430.5M517.7 425.8L514.7 427.5M517.7 423.2L514.7 421.5M519.9 422.0L519.9 418.5M522.1 423.2L525.1 421.5" fill="none" stroke="#a494ff" stroke-width="1.3" stroke-linecap="butt" stroke-opacity="0.25"/>
<path d="M492.8 538.1L495.8 539.9M490.6 539.4L490.6 542.9M488.4 538.1L485.4 539.9M488.4 535.6L485.4 533.9M490.6 534.4L490.6 530.9M492.8 535.6L495.8 533.9M448.8 510.1L451.8 511.8M446.6 511.3L446.6 514.8M444.5 510.1L441.5 511.8M444.5 507.6L441.5 505.8M446.6 506.3L446.6 502.8M448.8 507.6L451.8 505.8M536.7 510.1L539.7 511.8M534.5 511.3L534.5 514.8M532.4 510.1L529.4 511.8M532.4 507.6L529.4 505.8M534.5 506.3L534.5 502.8M536.7 507.6L539.7 505.8M434.2 481.9L437.2 483.7M432.0 483.2L432.0 486.7M429.8 481.9L426.8 483.7M429.8 479.4L426.8 477.7M432.0 478.2L432.0 474.7M434.2 479.4L437.2 477.7M551.4 481.9L554.4 483.7M549.2 483.2L549.2 486.7M547.0 481.9L544.0 483.7M547.0 479.4L544.0 477.7M549.2 478.2L549.2 474.7M551.4 479.4L554.4 477.7M448.8 453.8L451.8 455.6M446.7 455.1L446.7 458.6M444.5 453.8L441.5 455.6M444.5 451.3L441.5 449.6M446.7 450.1L446.7 446.6M448.8 451.3L451.8 449.6M536.7 453.8L539.7 455.6M534.6 455.1L534.6 458.6M532.4 453.8L529.4 455.6M532.4 451.3L529.4 449.6M534.6 450.1L534.6 446.6M536.7 451.3L539.7 449.6M492.8 425.8L495.8 427.5M490.6 427.0L490.6 430.5M488.4 425.8L485.4 427.5M488.4 423.2L485.4 421.5M490.6 422.0L490.6 418.5M492.8 423.2L495.8 421.5" fill="none" stroke="#a494ff" stroke-width="1.3" stroke-linecap="butt" stroke-opacity="0.3"/>
<path d="M420.2 508.8L424.9 508.8M418.8 511.2L421.1 515.3M416.0 511.2L413.6 515.3M414.6 508.8L409.9 508.8M416.0 506.4L413.6 502.3M418.8 506.4L421.1 502.3M566.6 508.8L571.4 508.8M565.2 511.2L567.6 515.3M562.5 511.2L560.1 515.3M561.1 508.8L556.4 508.8M562.5 506.4L560.1 502.3M565.2 506.4L567.6 502.3M420.2 452.6L424.9 452.6M418.8 455.0L421.1 459.1M416.0 455.0L413.6 459.1M414.6 452.6L409.9 452.6M416.0 450.2L413.6 446.1M418.8 450.2L421.1 446.1M566.6 452.6L571.4 452.6M565.2 455.0L567.6 459.1M562.5 455.0L560.1 459.1M561.1 452.6L556.4 452.6M562.5 450.2L560.1 446.1M565.2 450.2L567.6 446.1" fill="none" stroke="#f0b080" stroke-width="1.5" stroke-linecap="butt" stroke-opacity="0.3"/>
<path d="M478.8 508.8L483.4 508.8M477.3 511.2L479.7 515.3M474.6 511.2L472.2 515.3M473.1 508.8L468.4 508.8M474.6 506.4L472.2 502.3M477.3 506.4L479.7 502.3M508.1 508.8L512.8 508.8M506.6 511.2L509.0 515.3M503.9 511.2L501.5 515.3M502.4 508.8L497.8 508.8M503.9 506.4L501.5 502.3M506.6 506.4L509.0 502.3M478.8 452.6L483.5 452.6M477.4 455.0L479.7 459.1M474.6 455.0L472.2 459.1M473.2 452.6L468.5 452.6M474.6 450.2L472.2 446.1M477.4 450.2L479.7 446.1M508.1 452.6L512.8 452.6M506.6 455.0L509.0 459.1M503.9 455.0L501.5 459.1M502.4 452.6L497.8 452.6M503.9 450.2L501.5 446.1M506.6 450.2L509.0 446.1" fill="none" stroke="#f0b080" stroke-width="1.5" stroke-linecap="butt" stroke-opacity="0.45"/>
<path d="M478.1 510.1L481.1 511.8M475.9 511.3L475.9 514.8M473.8 510.1L470.8 511.8M473.8 507.6L470.8 505.8M475.9 506.3L475.9 502.8M478.1 507.6L481.1 505.8M507.4 510.1L510.4 511.8M505.2 511.3L505.2 514.8M503.1 510.1L500.1 511.8M503.1 507.6L500.1 505.8M505.2 506.3L505.2 502.8M507.4 507.6L510.4 505.8M463.5 481.9L466.5 483.7M461.3 483.2L461.3 486.7M459.1 481.9L456.1 483.7M459.1 479.4L456.1 477.7M461.3 478.2L461.3 474.7M463.5 479.4L466.5 477.7M522.1 481.9L525.1 483.7M519.9 483.2L519.9 486.7M517.7 481.9L514.7 483.7M517.7 479.4L514.7 477.7M519.9 478.2L519.9 474.7M522.1 479.4L525.1 477.7M478.1 453.8L481.1 455.6M476.0 455.1L476.0 458.6M473.8 453.8L470.8 455.6M473.8 451.3L470.8 449.6M476.0 450.1L476.0 446.6M478.1 451.3L481.1 449.6M507.4 453.8L510.4 455.6M505.2 455.1L505.2 458.6M503.1 453.8L500.1 455.6M503.1 451.3L500.1 449.6M505.2 450.1L505.2 446.6M507.4 451.3L510.4 449.6" fill="none" stroke="#a494ff" stroke-width="1.3" stroke-linecap="butt" stroke-opacity="0.4"/>
<path d="M464.1 480.7L468.8 480.7M462.7 483.1L465.1 487.2M459.9 483.1L457.6 487.2M458.5 480.7L453.8 480.7M459.9 478.3L457.6 474.2M462.7 478.3L465.1 474.2M522.7 480.7L527.4 480.7M521.3 483.1L523.6 487.2M518.5 483.1L516.1 487.2M517.1 480.7L512.4 480.7M518.5 478.3L516.1 474.2M521.3 478.3L523.6 474.2" fill="none" stroke="#f0b080" stroke-width="1.5" stroke-linecap="butt" stroke-opacity="0.5"/>
<path d="M373.4 593.1h0M402.7 593.1h0M432.0 593.1h0M461.3 593.1h0M519.9 593.1h0M549.2 593.1h0M578.5 593.1h0M607.8 593.1h0M388.1 565.0h0M593.2 565.0h0M622.5 565.0h0M373.4 536.9h0M607.8 536.9h0M622.5 508.8h0M373.4 480.7h0M607.8 480.7h0M622.5 452.6h0M373.4 424.5h0M607.8 424.5h0M388.1 396.4h0M593.1 396.4h0M622.5 396.4h0M373.4 368.3h0M402.7 368.3h0M432.0 368.3h0M461.3 368.3h0M519.9 368.3h0M549.2 368.3h0M578.5 368.3h0M607.8 368.3h0" fill="none" stroke="#ff2a10" stroke-width="2.3" stroke-linecap="round" stroke-opacity="0.35"/>
<path d="M490.6 593.1h0M417.4 565.0h0M563.9 565.0h0M402.7 536.9h0M578.5 536.9h0M388.1 508.8h0M593.1 508.8h0M388.1 452.6h0M593.2 452.6h0M402.7 424.5h0M578.5 424.5h0M417.4 396.4h0M563.9 396.4h0M490.6 368.3h0" fill="none" stroke="#ff2a10" stroke-width="2.3" stroke-linecap="round" stroke-opacity="0.4"/>
<path d="M446.7 565.0h0M534.6 565.0h0M446.7 396.4h0M534.5 396.4h0" fill="none" stroke="#ff2a10" stroke-width="2.3" stroke-linecap="round" stroke-opacity="0.45"/>
<path d="M475.9 565.0h0M505.2 565.0h0M402.7 480.7h0M578.5 480.7h0M475.9 396.4h0M505.3 396.4h0" fill="none" stroke="#ff2a10" stroke-width="2.3" stroke-linecap="round" stroke-opacity="0.5"/>
<path d="M432.0 536.9h0M549.2 536.9h0M417.4 508.8h0M563.9 508.8h0M417.4 452.6h0M563.9 452.6h0M432.0 424.5h0M549.2 424.5h0" fill="none" stroke="#ff2a10" stroke-width="2.3" stroke-linecap="round" stroke-opacity="0.55"/>
<path d="M461.3 536.9h0M519.9 536.9h0M461.3 424.5h0M519.9 424.5h0" fill="none" stroke="#ff2a10" stroke-width="2.3" stroke-linecap="round" stroke-opacity="0.65"/>
<path d="M490.6 536.9h0M432.0 480.7h0M549.2 480.7h0M490.6 424.5h0" fill="none" stroke="#ff2a10" stroke-width="2.3" stroke-linecap="round" stroke-opacity="0.7"/>
<path d="M446.6 508.8h0M534.5 508.8h0M446.7 452.6h0M534.6 452.6h0" fill="none" stroke="#ff2a10" stroke-width="2.3" stroke-linecap="round" stroke-opacity="0.75"/>
<path d="M475.9 508.8h0M505.2 508.8h0M461.3 480.7h0M519.9 480.7h0M476.0 452.6h0M505.2 452.6h0" fill="none" stroke="#ff2a10" stroke-width="2.3" stroke-linecap="round" stroke-opacity="0.95"/>
</g>
<g clip-path="url(#cdR)">
<path d="M368.2 593.1L376.0 597.6M368.2 593.1L368.2 602.1M368.2 593.1L360.4 597.6M368.2 593.1L360.4 588.6M368.2 593.1L368.2 584.1M368.2 593.1L376.0 588.6M398.4 593.1L406.2 597.6M398.4 593.1L398.4 602.1M398.4 593.1L390.6 597.6M398.4 593.1L390.6 588.6M398.4 593.1L398.4 584.1M398.4 593.1L406.2 588.6M428.6 593.1L436.4 597.6M428.6 593.1L428.6 602.1M428.6 593.1L420.8 597.6M428.6 593.1L420.8 588.6M428.6 593.1L428.6 584.1M428.6 593.1L436.4 588.6M458.8 593.1L466.6 597.6M458.8 593.1L458.8 602.1M458.8 593.1L451.0 597.6M458.8 593.1L451.0 588.6M458.8 593.1L458.8 584.1M458.8 593.1L466.6 588.6M489.0 593.1L496.8 597.6M489.0 593.1L489.0 602.1M489.0 593.1L481.2 597.6M489.0 593.1L481.2 588.6M489.0 593.1L489.0 584.1M489.0 593.1L496.8 588.6M519.2 593.1L527.0 597.6M519.2 593.1L519.2 602.1M519.2 593.1L511.4 597.6M519.2 593.1L511.4 588.6M519.2 593.1L519.2 584.1M519.2 593.1L527.0 588.6M549.4 593.1L557.2 597.6M549.4 593.1L549.4 602.1M549.4 593.1L541.6 597.6M549.4 593.1L541.6 588.6M549.4 593.1L549.4 584.1M549.4 593.1L557.2 588.6M579.6 593.1L587.4 597.6M579.6 593.1L579.6 602.1M579.6 593.1L571.8 597.6M579.6 593.1L571.8 588.6M579.6 593.1L579.6 584.1M579.6 593.1L587.4 588.6M609.8 593.1L617.6 597.6M609.8 593.1L609.8 602.1M609.8 593.1L602.0 597.6M609.8 593.1L602.0 588.6M609.8 593.1L609.8 584.1M609.8 593.1L617.6 588.6M383.7 565.0L391.5 569.5M383.7 565.0L383.7 574.0M383.7 565.0L375.9 569.5M383.7 565.0L375.9 560.5M383.7 565.0L383.7 556.0M383.7 565.0L391.5 560.5M413.9 565.0L421.7 569.5M413.9 565.0L413.9 574.0M413.9 565.0L406.1 569.5M413.9 565.0L406.1 560.5M413.9 565.0L413.9 556.0M413.9 565.0L421.7 560.5M564.9 565.0L572.7 569.5M564.9 565.0L564.9 574.0M564.9 565.0L557.1 569.5M564.9 565.0L557.1 560.5M564.9 565.0L564.9 556.0M564.9 565.0L572.7 560.5M595.1 565.0L602.9 569.5M595.1 565.0L595.1 574.0M595.1 565.0L587.3 569.5M595.1 565.0L587.3 560.5M595.1 565.0L595.1 556.0M595.1 565.0L602.9 560.5M625.3 565.0L633.1 569.5M625.3 565.0L625.3 574.0M625.3 565.0L617.5 569.5M625.3 565.0L617.5 560.5M625.3 565.0L625.3 556.0M625.3 565.0L633.1 560.5M369.0 536.9L376.8 541.4M369.0 536.9L369.0 545.9M369.0 536.9L361.2 541.4M369.0 536.9L361.2 532.4M369.0 536.9L369.0 527.9M369.0 536.9L376.8 532.4M399.2 536.9L407.0 541.4M399.2 536.9L399.2 545.9M399.2 536.9L391.4 541.4M399.2 536.9L391.4 532.4M399.2 536.9L399.2 527.9M399.2 536.9L407.0 532.4M580.4 536.9L588.2 541.4M580.4 536.9L580.4 545.9M580.4 536.9L572.6 541.4M580.4 536.9L572.6 532.4M580.4 536.9L580.4 527.9M580.4 536.9L588.2 532.4M610.6 536.9L618.4 541.4M610.6 536.9L610.6 545.9M610.6 536.9L602.8 541.4M610.6 536.9L602.8 532.4M610.6 536.9L610.6 527.9M610.6 536.9L618.4 532.4M384.5 508.8L392.3 513.3M384.5 508.8L384.5 517.8M384.5 508.8L376.7 513.3M384.5 508.8L376.7 504.3M384.5 508.8L384.5 499.8M384.5 508.8L392.3 504.3M595.9 508.8L603.7 513.3M595.9 508.8L595.9 517.8M595.9 508.8L588.1 513.3M595.9 508.8L588.1 504.3M595.9 508.8L595.9 499.8M595.9 508.8L603.7 504.3M626.1 508.8L633.9 513.3M626.1 508.8L626.1 517.8M626.1 508.8L618.3 513.3M626.1 508.8L618.3 504.3M626.1 508.8L626.1 499.8M626.1 508.8L633.9 504.3M369.8 480.7L377.6 485.2M369.8 480.7L369.8 489.7M369.8 480.7L362.0 485.2M369.8 480.7L362.0 476.2M369.8 480.7L369.8 471.7M369.8 480.7L377.6 476.2M611.4 480.7L619.2 485.2M611.4 480.7L611.4 489.7M611.4 480.7L603.6 485.2M611.4 480.7L603.6 476.2M611.4 480.7L611.4 471.7M611.4 480.7L619.2 476.2M385.3 452.6L393.1 457.1M385.3 452.6L385.3 461.6M385.3 452.6L377.5 457.1M385.3 452.6L377.5 448.1M385.3 452.6L385.3 443.6M385.3 452.6L393.1 448.1M596.7 452.6L604.5 457.1M596.7 452.6L596.7 461.6M596.7 452.6L588.9 457.1M596.7 452.6L588.9 448.1M596.7 452.6L596.7 443.6M596.7 452.6L604.5 448.1M626.9 452.6L634.7 457.1M626.9 452.6L626.9 461.6M626.9 452.6L619.1 457.1M626.9 452.6L619.1 448.1M626.9 452.6L626.9 443.6M626.9 452.6L634.7 448.1M370.6 424.5L378.4 429.0M370.6 424.5L370.6 433.5M370.6 424.5L362.8 429.0M370.6 424.5L362.8 420.0M370.6 424.5L370.6 415.5M370.6 424.5L378.4 420.0M400.8 424.5L408.6 429.0M400.8 424.5L400.8 433.5M400.8 424.5L393.0 429.0M400.8 424.5L393.0 420.0M400.8 424.5L400.8 415.5M400.8 424.5L408.6 420.0M582.0 424.5L589.8 429.0M582.0 424.5L582.0 433.5M582.0 424.5L574.2 429.0M582.0 424.5L574.2 420.0M582.0 424.5L582.0 415.5M582.0 424.5L589.8 420.0M612.2 424.5L620.0 429.0M612.2 424.5L612.2 433.5M612.2 424.5L604.4 429.0M612.2 424.5L604.4 420.0M612.2 424.5L612.2 415.5M612.2 424.5L620.0 420.0M386.1 396.4L393.9 400.9M386.1 396.4L386.1 405.4M386.1 396.4L378.3 400.9M386.1 396.4L378.3 391.9M386.1 396.4L386.1 387.4M386.1 396.4L393.9 391.9M416.3 396.4L424.1 400.9M416.3 396.4L416.3 405.4M416.3 396.4L408.5 400.9M416.3 396.4L408.5 391.9M416.3 396.4L416.3 387.4M416.3 396.4L424.1 391.9M567.3 396.4L575.1 400.9M567.3 396.4L567.3 405.4M567.3 396.4L559.5 400.9M567.3 396.4L559.5 391.9M567.3 396.4L567.3 387.4M567.3 396.4L575.1 391.9M597.5 396.4L605.3 400.9M597.5 396.4L597.5 405.4M597.5 396.4L589.7 400.9M597.5 396.4L589.7 391.9M597.5 396.4L597.5 387.4M597.5 396.4L605.3 391.9M627.7 396.4L635.5 400.9M627.7 396.4L627.7 405.4M627.7 396.4L619.9 400.9M627.7 396.4L619.9 391.9M627.7 396.4L627.7 387.4M627.7 396.4L635.5 391.9M371.4 368.3L379.2 372.8M371.4 368.3L371.4 377.3M371.4 368.3L363.6 372.8M371.4 368.3L363.6 363.8M371.4 368.3L371.4 359.3M371.4 368.3L379.2 363.8M401.6 368.3L409.4 372.8M401.6 368.3L401.6 377.3M401.6 368.3L393.8 372.8M401.6 368.3L393.8 363.8M401.6 368.3L401.6 359.3M401.6 368.3L409.4 363.8M431.8 368.3L439.6 372.8M431.8 368.3L431.8 377.3M431.8 368.3L424.0 372.8M431.8 368.3L424.0 363.8M431.8 368.3L431.8 359.3M431.8 368.3L439.6 363.8M462.0 368.3L469.8 372.8M462.0 368.3L462.0 377.3M462.0 368.3L454.2 372.8M462.0 368.3L454.2 363.8M462.0 368.3L462.0 359.3M462.0 368.3L469.8 363.8M492.2 368.3L500.0 372.8M492.2 368.3L492.2 377.3M492.2 368.3L484.4 372.8M492.2 368.3L484.4 363.8M492.2 368.3L492.2 359.3M492.2 368.3L500.0 363.8M522.4 368.3L530.2 372.8M522.4 368.3L522.4 377.3M522.4 368.3L514.6 372.8M522.4 368.3L514.6 363.8M522.4 368.3L522.4 359.3M522.4 368.3L530.2 363.8M552.6 368.3L560.4 372.8M552.6 368.3L552.6 377.3M552.6 368.3L544.8 372.8M552.6 368.3L544.8 363.8M552.6 368.3L552.6 359.3M552.6 368.3L560.4 363.8M582.8 368.3L590.6 372.8M582.8 368.3L582.8 377.3M582.8 368.3L575.0 372.8M582.8 368.3L575.0 363.8M582.8 368.3L582.8 359.3M582.8 368.3L590.6 363.8M613.0 368.3L620.8 372.8M613.0 368.3L613.0 377.3M613.0 368.3L605.2 372.8M613.0 368.3L605.2 363.8M613.0 368.3L613.0 359.3M613.0 368.3L620.8 363.8" fill="none" stroke="#a898ff" stroke-width="0.7" stroke-linecap="butt" stroke-opacity="0.05"/>
<path d="M444.1 565.0L451.9 569.5M444.1 565.0L444.1 574.0M444.1 565.0L436.3 569.5M444.1 565.0L436.3 560.5M444.1 565.0L444.1 556.0M444.1 565.0L451.9 560.5M474.3 565.0L482.1 569.5M474.3 565.0L474.3 574.0M474.3 565.0L466.5 569.5M474.3 565.0L466.5 560.5M474.3 565.0L474.3 556.0M474.3 565.0L482.1 560.5M504.5 565.0L512.3 569.5M504.5 565.0L504.5 574.0M504.5 565.0L496.7 569.5M504.5 565.0L496.7 560.5M504.5 565.0L504.5 556.0M504.5 565.0L512.3 560.5M534.7 565.0L542.5 569.5M534.7 565.0L534.7 574.0M534.7 565.0L526.9 569.5M534.7 565.0L526.9 560.5M534.7 565.0L534.7 556.0M534.7 565.0L542.5 560.5M429.4 536.9L437.2 541.4M429.4 536.9L429.4 545.9M429.4 536.9L421.6 541.4M429.4 536.9L421.6 532.4M429.4 536.9L429.4 527.9M429.4 536.9L437.2 532.4M550.2 536.9L558.0 541.4M550.2 536.9L550.2 545.9M550.2 536.9L542.4 541.4M550.2 536.9L542.4 532.4M550.2 536.9L550.2 527.9M550.2 536.9L558.0 532.4M414.7 508.8L422.5 513.3M414.7 508.8L414.7 517.8M414.7 508.8L406.9 513.3M414.7 508.8L406.9 504.3M414.7 508.8L414.7 499.8M414.7 508.8L422.5 504.3M565.7 508.8L573.5 513.3M565.7 508.8L565.7 517.8M565.7 508.8L557.9 513.3M565.7 508.8L557.9 504.3M565.7 508.8L565.7 499.8M565.7 508.8L573.5 504.3M400.0 480.7L407.8 485.2M400.0 480.7L400.0 489.7M400.0 480.7L392.2 485.2M400.0 480.7L392.2 476.2M400.0 480.7L400.0 471.7M400.0 480.7L407.8 476.2M581.2 480.7L589.0 485.2M581.2 480.7L581.2 489.7M581.2 480.7L573.4 485.2M581.2 480.7L573.4 476.2M581.2 480.7L581.2 471.7M581.2 480.7L589.0 476.2M415.5 452.6L423.3 457.1M415.5 452.6L415.5 461.6M415.5 452.6L407.7 457.1M415.5 452.6L407.7 448.1M415.5 452.6L415.5 443.6M415.5 452.6L423.3 448.1M566.5 452.6L574.3 457.1M566.5 452.6L566.5 461.6M566.5 452.6L558.7 457.1M566.5 452.6L558.7 448.1M566.5 452.6L566.5 443.6M566.5 452.6L574.3 448.1M431.0 424.5L438.8 429.0M431.0 424.5L431.0 433.5M431.0 424.5L423.2 429.0M431.0 424.5L423.2 420.0M431.0 424.5L431.0 415.5M431.0 424.5L438.8 420.0M551.8 424.5L559.6 429.0M551.8 424.5L551.8 433.5M551.8 424.5L544.0 429.0M551.8 424.5L544.0 420.0M551.8 424.5L551.8 415.5M551.8 424.5L559.6 420.0M446.5 396.4L454.3 400.9M446.5 396.4L446.5 405.4M446.5 396.4L438.7 400.9M446.5 396.4L438.7 391.9M446.5 396.4L446.5 387.4M446.5 396.4L454.3 391.9M476.7 396.4L484.5 400.9M476.7 396.4L476.7 405.4M476.7 396.4L468.9 400.9M476.7 396.4L468.9 391.9M476.7 396.4L476.7 387.4M476.7 396.4L484.5 391.9M506.9 396.4L514.7 400.9M506.9 396.4L506.9 405.4M506.9 396.4L499.1 400.9M506.9 396.4L499.1 391.9M506.9 396.4L506.9 387.4M506.9 396.4L514.7 391.9M537.1 396.4L544.9 400.9M537.1 396.4L537.1 405.4M537.1 396.4L529.3 400.9M537.1 396.4L529.3 391.9M537.1 396.4L537.1 387.4M537.1 396.4L544.9 391.9" fill="none" stroke="#a898ff" stroke-width="0.7" stroke-linecap="butt" stroke-opacity="0.1"/>
<path d="M459.6 536.9L467.4 541.4M459.6 536.9L459.6 545.9M459.6 536.9L451.8 541.4M459.6 536.9L451.8 532.4M459.6 536.9L459.6 527.9M459.6 536.9L467.4 532.4M489.8 536.9L497.6 541.4M489.8 536.9L489.8 545.9M489.8 536.9L482.0 541.4M489.8 536.9L482.0 532.4M489.8 536.9L489.8 527.9M489.8 536.9L497.6 532.4M520.0 536.9L527.8 541.4M520.0 536.9L520.0 545.9M520.0 536.9L512.2 541.4M520.0 536.9L512.2 532.4M520.0 536.9L520.0 527.9M520.0 536.9L527.8 532.4M430.2 480.7L438.0 485.2M430.2 480.7L430.2 489.7M430.2 480.7L422.4 485.2M430.2 480.7L422.4 476.2M430.2 480.7L430.2 471.7M430.2 480.7L438.0 476.2M551.0 480.7L558.8 485.2M551.0 480.7L551.0 489.7M551.0 480.7L543.2 485.2M551.0 480.7L543.2 476.2M551.0 480.7L551.0 471.7M551.0 480.7L558.8 476.2M461.2 424.5L469.0 429.0M461.2 424.5L461.2 433.5M461.2 424.5L453.4 429.0M461.2 424.5L453.4 420.0M461.2 424.5L461.2 415.5M461.2 424.5L469.0 420.0M491.4 424.5L499.2 429.0M491.4 424.5L491.4 433.5M491.4 424.5L483.6 429.0M491.4 424.5L483.6 420.0M491.4 424.5L491.4 415.5M491.4 424.5L499.2 420.0M521.6 424.5L529.4 429.0M521.6 424.5L521.6 433.5M521.6 424.5L513.8 429.0M521.6 424.5L513.8 420.0M521.6 424.5L521.6 415.5M521.6 424.5L529.4 420.0" fill="none" stroke="#a898ff" stroke-width="0.7" stroke-linecap="butt" stroke-opacity="0.15"/>
<path d="M444.9 508.8L452.7 513.3M444.9 508.8L444.9 517.8M444.9 508.8L437.1 513.3M444.9 508.8L437.1 504.3M444.9 508.8L444.9 499.8M444.9 508.8L452.7 504.3M535.5 508.8L543.3 513.3M535.5 508.8L535.5 517.8M535.5 508.8L527.7 513.3M535.5 508.8L527.7 504.3M535.5 508.8L535.5 499.8M535.5 508.8L543.3 504.3M445.7 452.6L453.5 457.1M445.7 452.6L445.7 461.6M445.7 452.6L437.9 457.1M445.7 452.6L437.9 448.1M445.7 452.6L445.7 443.6M445.7 452.6L453.5 448.1M536.3 452.6L544.1 457.1M536.3 452.6L536.3 461.6M536.3 452.6L528.5 457.1M536.3 452.6L528.5 448.1M536.3 452.6L536.3 443.6M536.3 452.6L544.1 448.1" fill="none" stroke="#a898ff" stroke-width="0.7" stroke-linecap="butt" stroke-opacity="0.2"/>
<path d="M475.1 508.8L482.9 513.3M475.1 508.8L475.1 517.8M475.1 508.8L467.3 513.3M475.1 508.8L467.3 504.3M475.1 508.8L475.1 499.8M475.1 508.8L482.9 504.3M506.1 452.6L513.9 457.1M506.1 452.6L506.1 461.6M506.1 452.6L498.3 457.1M506.1 452.6L498.3 448.1M506.1 452.6L506.1 443.6M506.1 452.6L513.9 448.1" fill="none" stroke="#a898ff" stroke-width="0.7" stroke-linecap="butt" stroke-opacity="0.25"/>
<path d="M505.3 508.8L513.1 513.3M505.3 508.8L505.3 517.8M505.3 508.8L497.5 513.3M505.3 508.8L497.5 504.3M505.3 508.8L505.3 499.8M505.3 508.8L513.1 504.3M460.4 480.7L468.2 485.2M460.4 480.7L460.4 489.7M460.4 480.7L452.6 485.2M460.4 480.7L452.6 476.2M460.4 480.7L460.4 471.7M460.4 480.7L468.2 476.2M520.8 480.7L528.6 485.2M520.8 480.7L520.8 489.7M520.8 480.7L513.0 485.2M520.8 480.7L513.0 476.2M520.8 480.7L520.8 471.7M520.8 480.7L528.6 476.2M475.9 452.6L483.7 457.1M475.9 452.6L475.9 461.6M475.9 452.6L468.1 457.1M475.9 452.6L468.1 448.1M475.9 452.6L475.9 443.6M475.9 452.6L483.7 448.1" fill="none" stroke="#a898ff" stroke-width="0.7" stroke-linecap="butt" stroke-opacity="0.3"/>
<path d="M372.2 593.1h0M370.2 596.6h0M366.2 596.6h0M364.2 593.1h0M366.2 589.6h0M370.2 589.6h0M402.4 593.1h0M400.4 596.6h0M396.4 596.6h0M394.4 593.1h0M396.4 589.6h0M400.4 589.6h0M432.6 593.1h0M430.6 596.6h0M426.6 596.6h0M424.6 593.1h0M426.6 589.6h0M430.6 589.6h0M553.4 593.1h0M551.4 596.6h0M547.4 596.6h0M545.4 593.1h0M547.4 589.6h0M551.4 589.6h0M583.6 593.1h0M581.6 596.6h0M577.6 596.6h0M575.6 593.1h0M577.6 589.6h0M581.6 589.6h0M613.8 593.1h0M611.8 596.6h0M607.8 596.6h0M605.8 593.1h0M607.8 589.6h0M611.8 589.6h0M387.7 565.0h0M385.7 568.5h0M381.7 568.5h0M379.7 565.0h0M381.7 561.5h0M385.7 561.5h0M599.1 565.0h0M597.1 568.5h0M593.1 568.5h0M591.1 565.0h0M593.1 561.5h0M597.1 561.5h0M629.3 565.0h0M627.3 568.5h0M623.3 568.5h0M621.3 565.0h0M623.3 561.5h0M627.3 561.5h0M373.0 536.9h0M371.0 540.4h0M367.0 540.4h0M365.0 536.9h0M367.0 533.4h0M371.0 533.4h0M614.6 536.9h0M612.6 540.4h0M608.6 540.4h0M606.6 536.9h0M608.6 533.4h0M612.6 533.4h0M630.1 508.8h0M628.1 512.3h0M624.1 512.3h0M622.1 508.8h0M624.1 505.3h0M628.1 505.3h0M630.9 452.6h0M628.9 456.1h0M624.9 456.1h0M622.9 452.6h0M624.9 449.1h0M628.9 449.1h0M374.6 424.5h0M372.6 428.0h0M368.6 428.0h0M366.6 424.5h0M368.6 421.0h0M372.6 421.0h0M616.2 424.5h0M614.2 428.0h0M610.2 428.0h0M608.2 424.5h0M610.2 421.0h0M614.2 421.0h0M390.1 396.4h0M388.1 399.9h0M384.1 399.9h0M382.1 396.4h0M384.1 392.9h0M388.1 392.9h0M601.5 396.4h0M599.5 399.9h0M595.5 399.9h0M593.5 396.4h0M595.5 392.9h0M599.5 392.9h0M631.7 396.4h0M629.7 399.9h0M625.7 399.9h0M623.7 396.4h0M625.7 392.9h0M629.7 392.9h0M375.4 368.3h0M373.4 371.8h0M369.4 371.8h0M367.4 368.3h0M369.4 364.8h0M373.4 364.8h0M405.6 368.3h0M403.6 371.8h0M399.6 371.8h0M397.6 368.3h0M399.6 364.8h0M403.6 364.8h0M435.8 368.3h0M433.8 371.8h0M429.8 371.8h0M427.8 368.3h0M429.8 364.8h0M433.8 364.8h0M556.6 368.3h0M554.6 371.8h0M550.6 371.8h0M548.6 368.3h0M550.6 364.8h0M554.6 364.8h0M586.8 368.3h0M584.8 371.8h0M580.8 371.8h0M578.8 368.3h0M580.8 364.8h0M584.8 364.8h0M617.0 368.3h0M615.0 371.8h0M611.0 371.8h0M609.0 368.3h0M611.0 364.8h0M615.0 364.8h0" fill="none" stroke="#e9904f" stroke-width="2" stroke-linecap="round" stroke-opacity="0.1"/>
<path d="M375.8 593.1h0M372.0 599.7h0M364.4 599.7h0M360.6 593.1h0M364.4 586.5h0M372.0 586.5h0M406.0 593.1h0M402.2 599.7h0M394.6 599.7h0M390.8 593.1h0M394.6 586.5h0M402.2 586.5h0M587.2 593.1h0M583.4 599.7h0M575.8 599.7h0M572.0 593.1h0M575.8 586.5h0M583.4 586.5h0M617.4 593.1h0M613.6 599.7h0M606.0 599.7h0M602.2 593.1h0M606.0 586.5h0M613.6 586.5h0M632.9 565.0h0M629.1 571.6h0M621.5 571.6h0M617.7 565.0h0M621.5 558.4h0M629.1 558.4h0M634.5 452.6h0M630.7 459.2h0M623.1 459.2h0M619.3 452.6h0M623.1 446.0h0M630.7 446.0h0M635.3 396.4h0M631.5 403.0h0M623.9 403.0h0M620.1 396.4h0M623.9 389.8h0M631.5 389.8h0M379.0 368.3h0M375.2 374.9h0M367.6 374.9h0M363.8 368.3h0M367.6 361.7h0M375.2 361.7h0M409.2 368.3h0M405.4 374.9h0M397.8 374.9h0M394.0 368.3h0M397.8 361.7h0M405.4 361.7h0M590.4 368.3h0M586.6 374.9h0M579.0 374.9h0M575.2 368.3h0M579.0 361.7h0M586.6 361.7h0M620.6 368.3h0M616.8 374.9h0M609.2 374.9h0M605.4 368.3h0M609.2 361.7h0M616.8 361.7h0" fill="none" stroke="#efb48a" stroke-width="2" stroke-linecap="round" stroke-opacity="0.05"/>
<path d="M372.5 595.6h0M368.2 598.1h0M363.9 595.6h0M363.9 590.6h0M368.2 588.1h0M372.5 590.6h0M402.7 595.6h0M398.4 598.1h0M394.1 595.6h0M394.1 590.6h0M398.4 588.1h0M402.7 590.6h0M432.9 595.6h0M428.6 598.1h0M424.3 595.6h0M424.3 590.6h0M428.6 588.1h0M432.9 590.6h0M553.7 595.6h0M549.4 598.1h0M545.1 595.6h0M545.1 590.6h0M549.4 588.1h0M553.7 590.6h0M583.9 595.6h0M579.6 598.1h0M575.3 595.6h0M575.3 590.6h0M579.6 588.1h0M583.9 590.6h0M614.1 595.6h0M609.8 598.1h0M605.5 595.6h0M605.5 590.6h0M609.8 588.1h0M614.1 590.6h0M388.0 567.5h0M383.7 570.0h0M379.4 567.5h0M379.4 562.5h0M383.7 560.0h0M388.0 562.5h0M599.4 567.5h0M595.1 570.0h0M590.8 567.5h0M590.8 562.5h0M595.1 560.0h0M599.4 562.5h0M629.6 567.5h0M625.3 570.0h0M621.0 567.5h0M621.0 562.5h0M625.3 560.0h0M629.6 562.5h0M373.3 539.4h0M369.0 541.9h0M364.7 539.4h0M364.7 534.4h0M369.0 531.9h0M373.3 534.4h0M614.9 539.4h0M610.6 541.9h0M606.3 539.4h0M606.3 534.4h0M610.6 531.9h0M614.9 534.4h0M630.4 511.3h0M626.1 513.8h0M621.8 511.3h0M621.8 506.3h0M626.1 503.8h0M630.4 506.3h0M631.2 455.1h0M626.9 457.6h0M622.6 455.1h0M622.6 450.1h0M626.9 447.6h0M631.2 450.1h0M374.9 427.0h0M370.6 429.5h0M366.3 427.0h0M366.3 422.0h0M370.6 419.5h0M374.9 422.0h0M616.5 427.0h0M612.2 429.5h0M607.9 427.0h0M607.9 422.0h0M612.2 419.5h0M616.5 422.0h0M390.4 398.9h0M386.1 401.4h0M381.8 398.9h0M381.8 393.9h0M386.1 391.4h0M390.4 393.9h0M601.8 398.9h0M597.5 401.4h0M593.2 398.9h0M593.2 393.9h0M597.5 391.4h0M601.8 393.9h0M632.0 398.9h0M627.7 401.4h0M623.4 398.9h0M623.4 393.9h0M627.7 391.4h0M632.0 393.9h0M375.7 370.8h0M371.4 373.3h0M367.1 370.8h0M367.1 365.8h0M371.4 363.3h0M375.7 365.8h0M405.9 370.8h0M401.6 373.3h0M397.3 370.8h0M397.3 365.8h0M401.6 363.3h0M405.9 365.8h0M436.1 370.8h0M431.8 373.3h0M427.5 370.8h0M427.5 365.8h0M431.8 363.3h0M436.1 365.8h0M556.9 370.8h0M552.6 373.3h0M548.3 370.8h0M548.3 365.8h0M552.6 363.3h0M556.9 365.8h0M587.1 370.8h0M582.8 373.3h0M578.5 370.8h0M578.5 365.8h0M582.8 363.3h0M587.1 365.8h0M617.3 370.8h0M613.0 373.3h0M608.7 370.8h0M608.7 365.8h0M613.0 363.3h0M617.3 365.8h0" fill="none" stroke="#8a76ff" stroke-width="2.2" stroke-linecap="round" stroke-opacity="0.1"/>
<path d="M376.0 597.6h0M368.2 602.1h0M360.4 597.6h0M360.4 588.6h0M368.2 584.1h0M376.0 588.6h0M406.2 597.6h0M398.4 602.1h0M390.6 597.6h0M390.6 588.6h0M398.4 584.1h0M406.2 588.6h0M587.4 597.6h0M579.6 602.1h0M571.8 597.6h0M571.8 588.6h0M579.6 584.1h0M587.4 588.6h0M617.6 597.6h0M609.8 602.1h0M602.0 597.6h0M602.0 588.6h0M609.8 584.1h0M617.6 588.6h0M391.5 569.5h0M383.7 574.0h0M375.9 569.5h0M375.9 560.5h0M383.7 556.0h0M391.5 560.5h0M602.9 569.5h0M595.1 574.0h0M587.3 569.5h0M587.3 560.5h0M595.1 556.0h0M602.9 560.5h0M633.1 569.5h0M625.3 574.0h0M617.5 569.5h0M617.5 560.5h0M625.3 556.0h0M633.1 560.5h0M376.8 541.4h0M369.0 545.9h0M361.2 541.4h0M361.2 532.4h0M369.0 527.9h0M376.8 532.4h0M618.4 541.4h0M610.6 545.9h0M602.8 541.4h0M602.8 532.4h0M610.6 527.9h0M618.4 532.4h0M633.9 513.3h0M626.1 517.8h0M618.3 513.3h0M618.3 504.3h0M626.1 499.8h0M633.9 504.3h0M634.7 457.1h0M626.9 461.6h0M619.1 457.1h0M619.1 448.1h0M626.9 443.6h0M634.7 448.1h0M378.4 429.0h0M370.6 433.5h0M362.8 429.0h0M362.8 420.0h0M370.6 415.5h0M378.4 420.0h0M620.0 429.0h0M612.2 433.5h0M604.4 429.0h0M604.4 420.0h0M612.2 415.5h0M620.0 420.0h0M393.9 400.9h0M386.1 405.4h0M378.3 400.9h0M378.3 391.9h0M386.1 387.4h0M393.9 391.9h0M605.3 400.9h0M597.5 405.4h0M589.7 400.9h0M589.7 391.9h0M597.5 387.4h0M605.3 391.9h0M635.5 400.9h0M627.7 405.4h0M619.9 400.9h0M619.9 391.9h0M627.7 387.4h0M635.5 391.9h0M379.2 372.8h0M371.4 377.3h0M363.6 372.8h0M363.6 363.8h0M371.4 359.3h0M379.2 363.8h0M409.4 372.8h0M401.6 377.3h0M393.8 372.8h0M393.8 363.8h0M401.6 359.3h0M409.4 363.8h0M590.6 372.8h0M582.8 377.3h0M575.0 372.8h0M575.0 363.8h0M582.8 359.3h0M590.6 363.8h0M620.8 372.8h0M613.0 377.3h0M605.2 372.8h0M605.2 363.8h0M613.0 359.3h0M620.8 363.8h0" fill="none" stroke="#b4a8ff" stroke-width="2" stroke-linecap="round" stroke-opacity="0.05"/>
<path d="M436.2 593.1h0M432.4 599.7h0M424.8 599.7h0M421.0 593.1h0M424.8 586.5h0M432.4 586.5h0M466.4 593.1h0M462.6 599.7h0M455.0 599.7h0M451.2 593.1h0M455.0 586.5h0M462.6 586.5h0M526.8 593.1h0M523.0 599.7h0M515.4 599.7h0M511.6 593.1h0M515.4 586.5h0M523.0 586.5h0M557.0 593.1h0M553.2 599.7h0M545.6 599.7h0M541.8 593.1h0M545.6 586.5h0M553.2 586.5h0M391.3 565.0h0M387.5 571.6h0M379.9 571.6h0M376.1 565.0h0M379.9 558.4h0M387.5 558.4h0M421.5 565.0h0M417.7 571.6h0M410.1 571.6h0M406.3 565.0h0M410.1 558.4h0M417.7 558.4h0M602.7 565.0h0M598.9 571.6h0M591.3 571.6h0M587.5 565.0h0M591.3 558.4h0M598.9 558.4h0M376.6 536.9h0M372.8 543.5h0M365.2 543.5h0M361.4 536.9h0M365.2 530.3h0M372.8 530.3h0M618.2 536.9h0M614.4 543.5h0M606.8 543.5h0M603.0 536.9h0M606.8 530.3h0M614.4 530.3h0M633.7 508.8h0M629.9 515.4h0M622.3 515.4h0M618.5 508.8h0M622.3 502.2h0M629.9 502.2h0M377.4 480.7h0M373.6 487.3h0M366.0 487.3h0M362.2 480.7h0M366.0 474.1h0M373.6 474.1h0M619.0 480.7h0M615.2 487.3h0M607.6 487.3h0M603.8 480.7h0M607.6 474.1h0M615.2 474.1h0M378.2 424.5h0M374.4 431.1h0M366.8 431.1h0M363.0 424.5h0M366.8 417.9h0M374.4 417.9h0M619.8 424.5h0M616.0 431.1h0M608.4 431.1h0M604.6 424.5h0M608.4 417.9h0M616.0 417.9h0M393.7 396.4h0M389.9 403.0h0M382.3 403.0h0M378.5 396.4h0M382.3 389.8h0M389.9 389.8h0M574.9 396.4h0M571.1 403.0h0M563.5 403.0h0M559.7 396.4h0M563.5 389.8h0M571.1 389.8h0M605.1 396.4h0M601.3 403.0h0M593.7 403.0h0M589.9 396.4h0M593.7 389.8h0M601.3 389.8h0M439.4 368.3h0M435.6 374.9h0M428.0 374.9h0M424.2 368.3h0M428.0 361.7h0M435.6 361.7h0M469.6 368.3h0M465.8 374.9h0M458.2 374.9h0M454.4 368.3h0M458.2 361.7h0M465.8 361.7h0M530.0 368.3h0M526.2 374.9h0M518.6 374.9h0M514.8 368.3h0M518.6 361.7h0M526.2 361.7h0M560.2 368.3h0M556.4 374.9h0M548.8 374.9h0M545.0 368.3h0M548.8 361.7h0M556.4 361.7h0" fill="none" stroke="#efb48a" stroke-width="2" stroke-linecap="round" stroke-opacity="0.1"/>
<path d="M436.4 597.6h0M428.6 602.1h0M420.8 597.6h0M420.8 588.6h0M428.6 584.1h0M436.4 588.6h0M466.6 597.6h0M458.8 602.1h0M451.0 597.6h0M451.0 588.6h0M458.8 584.1h0M466.6 588.6h0M496.8 597.6h0M489.0 602.1h0M481.2 597.6h0M481.2 588.6h0M489.0 584.1h0M496.8 588.6h0M527.0 597.6h0M519.2 602.1h0M511.4 597.6h0M511.4 588.6h0M519.2 584.1h0M527.0 588.6h0M557.2 597.6h0M549.4 602.1h0M541.6 597.6h0M541.6 588.6h0M549.4 584.1h0M557.2 588.6h0M421.7 569.5h0M413.9 574.0h0M406.1 569.5h0M406.1 560.5h0M413.9 556.0h0M421.7 560.5h0M572.7 569.5h0M564.9 574.0h0M557.1 569.5h0M557.1 560.5h0M564.9 556.0h0M572.7 560.5h0M407.0 541.4h0M399.2 545.9h0M391.4 541.4h0M391.4 532.4h0M399.2 527.9h0M407.0 532.4h0M588.2 541.4h0M580.4 545.9h0M572.6 541.4h0M572.6 532.4h0M580.4 527.9h0M588.2 532.4h0M392.3 513.3h0M384.5 517.8h0M376.7 513.3h0M376.7 504.3h0M384.5 499.8h0M392.3 504.3h0M603.7 513.3h0M595.9 517.8h0M588.1 513.3h0M588.1 504.3h0M595.9 499.8h0M603.7 504.3h0M377.6 485.2h0M369.8 489.7h0M362.0 485.2h0M362.0 476.2h0M369.8 471.7h0M377.6 476.2h0M619.2 485.2h0M611.4 489.7h0M603.6 485.2h0M603.6 476.2h0M611.4 471.7h0M619.2 476.2h0M393.1 457.1h0M385.3 461.6h0M377.5 457.1h0M377.5 448.1h0M385.3 443.6h0M393.1 448.1h0M604.5 457.1h0M596.7 461.6h0M588.9 457.1h0M588.9 448.1h0M596.7 443.6h0M604.5 448.1h0M408.6 429.0h0M400.8 433.5h0M393.0 429.0h0M393.0 420.0h0M400.8 415.5h0M408.6 420.0h0M589.8 429.0h0M582.0 433.5h0M574.2 429.0h0M574.2 420.0h0M582.0 415.5h0M589.8 420.0h0M424.1 400.9h0M416.3 405.4h0M408.5 400.9h0M408.5 391.9h0M416.3 387.4h0M424.1 391.9h0M575.1 400.9h0M567.3 405.4h0M559.5 400.9h0M559.5 391.9h0M567.3 387.4h0M575.1 391.9h0M439.6 372.8h0M431.8 377.3h0M424.0 372.8h0M424.0 363.8h0M431.8 359.3h0M439.6 363.8h0M469.8 372.8h0M462.0 377.3h0M454.2 372.8h0M454.2 363.8h0M462.0 359.3h0M469.8 363.8h0M500.0 372.8h0M492.2 377.3h0M484.4 372.8h0M484.4 363.8h0M492.2 359.3h0M500.0 363.8h0M530.2 372.8h0M522.4 377.3h0M514.6 372.8h0M514.6 363.8h0M522.4 359.3h0M530.2 363.8h0M560.4 372.8h0M552.6 377.3h0M544.8 372.8h0M544.8 363.8h0M552.6 359.3h0M560.4 363.8h0" fill="none" stroke="#b4a8ff" stroke-width="2" stroke-linecap="round" stroke-opacity="0.1"/>
<path d="M462.8 593.1h0M460.8 596.6h0M456.8 596.6h0M454.8 593.1h0M456.8 589.6h0M460.8 589.6h0M493.0 593.1h0M491.0 596.6h0M487.0 596.6h0M485.0 593.1h0M487.0 589.6h0M491.0 589.6h0M523.2 593.1h0M521.2 596.6h0M517.2 596.6h0M515.2 593.1h0M517.2 589.6h0M521.2 589.6h0M417.9 565.0h0M415.9 568.5h0M411.9 568.5h0M409.9 565.0h0M411.9 561.5h0M415.9 561.5h0M568.9 565.0h0M566.9 568.5h0M562.9 568.5h0M560.9 565.0h0M562.9 561.5h0M566.9 561.5h0M403.2 536.9h0M401.2 540.4h0M397.2 540.4h0M395.2 536.9h0M397.2 533.4h0M401.2 533.4h0M388.5 508.8h0M386.5 512.3h0M382.5 512.3h0M380.5 508.8h0M382.5 505.3h0M386.5 505.3h0M599.9 508.8h0M597.9 512.3h0M593.9 512.3h0M591.9 508.8h0M593.9 505.3h0M597.9 505.3h0M373.8 480.7h0M371.8 484.2h0M367.8 484.2h0M365.8 480.7h0M367.8 477.2h0M371.8 477.2h0M615.4 480.7h0M613.4 484.2h0M609.4 484.2h0M607.4 480.7h0M609.4 477.2h0M613.4 477.2h0M389.3 452.6h0M387.3 456.1h0M383.3 456.1h0M381.3 452.6h0M383.3 449.1h0M387.3 449.1h0M600.7 452.6h0M598.7 456.1h0M594.7 456.1h0M592.7 452.6h0M594.7 449.1h0M598.7 449.1h0M586.0 424.5h0M584.0 428.0h0M580.0 428.0h0M578.0 424.5h0M580.0 421.0h0M584.0 421.0h0M420.3 396.4h0M418.3 399.9h0M414.3 399.9h0M412.3 396.4h0M414.3 392.9h0M418.3 392.9h0M571.3 396.4h0M569.3 399.9h0M565.3 399.9h0M563.3 396.4h0M565.3 392.9h0M569.3 392.9h0M466.0 368.3h0M464.0 371.8h0M460.0 371.8h0M458.0 368.3h0M460.0 364.8h0M464.0 364.8h0M496.2 368.3h0M494.2 371.8h0M490.2 371.8h0M488.2 368.3h0M490.2 364.8h0M494.2 364.8h0M526.4 368.3h0M524.4 371.8h0M520.4 371.8h0M518.4 368.3h0M520.4 364.8h0M524.4 364.8h0" fill="none" stroke="#e9904f" stroke-width="2" stroke-linecap="round" stroke-opacity="0.15"/>
<path d="M463.1 595.6h0M458.8 598.1h0M454.5 595.6h0M454.5 590.6h0M458.8 588.1h0M463.1 590.6h0M493.3 595.6h0M489.0 598.1h0M484.7 595.6h0M484.7 590.6h0M489.0 588.1h0M493.3 590.6h0M523.5 595.6h0M519.2 598.1h0M514.9 595.6h0M514.9 590.6h0M519.2 588.1h0M523.5 590.6h0M418.2 567.5h0M413.9 570.0h0M409.6 567.5h0M409.6 562.5h0M413.9 560.0h0M418.2 562.5h0M569.2 567.5h0M564.9 570.0h0M560.6 567.5h0M560.6 562.5h0M564.9 560.0h0M569.2 562.5h0M403.5 539.4h0M399.2 541.9h0M394.9 539.4h0M394.9 534.4h0M399.2 531.9h0M403.5 534.4h0M388.8 511.3h0M384.5 513.8h0M380.2 511.3h0M380.2 506.3h0M384.5 503.8h0M388.8 506.3h0M600.2 511.3h0M595.9 513.8h0M591.6 511.3h0M591.6 506.3h0M595.9 503.8h0M600.2 506.3h0M374.1 483.2h0M369.8 485.7h0M365.5 483.2h0M365.5 478.2h0M369.8 475.7h0M374.1 478.2h0M615.7 483.2h0M611.4 485.7h0M607.1 483.2h0M607.1 478.2h0M611.4 475.7h0M615.7 478.2h0M389.6 455.1h0M385.3 457.6h0M381.0 455.1h0M381.0 450.1h0M385.3 447.6h0M389.6 450.1h0M601.0 455.1h0M596.7 457.6h0M592.4 455.1h0M592.4 450.1h0M596.7 447.6h0M601.0 450.1h0M586.3 427.0h0M582.0 429.5h0M577.7 427.0h0M577.7 422.0h0M582.0 419.5h0M586.3 422.0h0M420.6 398.9h0M416.3 401.4h0M412.0 398.9h0M412.0 393.9h0M416.3 391.4h0M420.6 393.9h0M571.6 398.9h0M567.3 401.4h0M563.0 398.9h0M563.0 393.9h0M567.3 391.4h0M571.6 393.9h0M466.3 370.8h0M462.0 373.3h0M457.7 370.8h0M457.7 365.8h0M462.0 363.3h0M466.3 365.8h0M496.5 370.8h0M492.2 373.3h0M487.9 370.8h0M487.9 365.8h0M492.2 363.3h0M496.5 365.8h0M526.7 370.8h0M522.4 373.3h0M518.1 370.8h0M518.1 365.8h0M522.4 363.3h0M526.7 365.8h0" fill="none" stroke="#8a76ff" stroke-width="2.2" stroke-linecap="round" stroke-opacity="0.15"/>
<path d="M496.6 593.1h0M492.8 599.7h0M485.2 599.7h0M481.4 593.1h0M485.2 586.5h0M492.8 586.5h0M572.5 565.0h0M568.7 571.6h0M561.1 571.6h0M557.3 565.0h0M561.1 558.4h0M568.7 558.4h0M406.8 536.9h0M403.0 543.5h0M395.4 543.5h0M391.6 536.9h0M395.4 530.3h0M403.0 530.3h0M588.0 536.9h0M584.2 543.5h0M576.6 543.5h0M572.8 536.9h0M576.6 530.3h0M584.2 530.3h0M392.1 508.8h0M388.3 515.4h0M380.7 515.4h0M376.9 508.8h0M380.7 502.2h0M388.3 502.2h0M603.5 508.8h0M599.7 515.4h0M592.1 515.4h0M588.3 508.8h0M592.1 502.2h0M599.7 502.2h0M392.9 452.6h0M389.1 459.2h0M381.5 459.2h0M377.7 452.6h0M381.5 446.0h0M389.1 446.0h0M604.3 452.6h0M600.5 459.2h0M592.9 459.2h0M589.1 452.6h0M592.9 446.0h0M600.5 446.0h0M408.4 424.5h0M404.6 431.1h0M397.0 431.1h0M393.2 424.5h0M397.0 417.9h0M404.6 417.9h0M589.6 424.5h0M585.8 431.1h0M578.2 431.1h0M574.4 424.5h0M578.2 417.9h0M585.8 417.9h0M423.9 396.4h0M420.1 403.0h0M412.5 403.0h0M408.7 396.4h0M412.5 389.8h0M420.1 389.8h0M499.8 368.3h0M496.0 374.9h0M488.4 374.9h0M484.6 368.3h0M488.4 361.7h0M496.0 361.7h0" fill="none" stroke="#efb48a" stroke-width="2" stroke-linecap="round" stroke-opacity="0.15"/>
<path d="M448.1 565.0h0M446.1 568.5h0M442.1 568.5h0M440.1 565.0h0M442.1 561.5h0M446.1 561.5h0M538.7 565.0h0M536.7 568.5h0M532.7 568.5h0M530.7 565.0h0M532.7 561.5h0M536.7 561.5h0M584.4 536.9h0M582.4 540.4h0M578.4 540.4h0M576.4 536.9h0M578.4 533.4h0M582.4 533.4h0M404.8 424.5h0M402.8 428.0h0M398.8 428.0h0M396.8 424.5h0M398.8 421.0h0M402.8 421.0h0M450.5 396.4h0M448.5 399.9h0M444.5 399.9h0M442.5 396.4h0M444.5 392.9h0M448.5 392.9h0M541.1 396.4h0M539.1 399.9h0M535.1 399.9h0M533.1 396.4h0M535.1 392.9h0M539.1 392.9h0" fill="none" stroke="#e9904f" stroke-width="2" stroke-linecap="round" stroke-opacity="0.2"/>
<path d="M451.7 565.0h0M447.9 571.6h0M440.3 571.6h0M436.5 565.0h0M440.3 558.4h0M447.9 558.4h0M481.9 565.0h0M478.1 571.6h0M470.5 571.6h0M466.7 565.0h0M470.5 558.4h0M478.1 558.4h0M512.1 565.0h0M508.3 571.6h0M500.7 571.6h0M496.9 565.0h0M500.7 558.4h0M508.3 558.4h0M542.3 565.0h0M538.5 571.6h0M530.9 571.6h0M527.1 565.0h0M530.9 558.4h0M538.5 558.4h0M407.6 480.7h0M403.8 487.3h0M396.2 487.3h0M392.4 480.7h0M396.2 474.1h0M403.8 474.1h0M588.8 480.7h0M585.0 487.3h0M577.4 487.3h0M573.6 480.7h0M577.4 474.1h0M585.0 474.1h0M454.1 396.4h0M450.3 403.0h0M442.7 403.0h0M438.9 396.4h0M442.7 389.8h0M450.3 389.8h0M484.3 396.4h0M480.5 403.0h0M472.9 403.0h0M469.1 396.4h0M472.9 389.8h0M480.5 389.8h0M514.5 396.4h0M510.7 403.0h0M503.1 403.0h0M499.3 396.4h0M503.1 389.8h0M510.7 389.8h0M544.7 396.4h0M540.9 403.0h0M533.3 403.0h0M529.5 396.4h0M533.3 389.8h0M540.9 389.8h0" fill="none" stroke="#efb48a" stroke-width="2" stroke-linecap="round" stroke-opacity="0.2"/>
<path d="M448.4 567.5h0M444.1 570.0h0M439.8 567.5h0M439.8 562.5h0M444.1 560.0h0M448.4 562.5h0M539.0 567.5h0M534.7 570.0h0M530.4 567.5h0M530.4 562.5h0M534.7 560.0h0M539.0 562.5h0M584.7 539.4h0M580.4 541.9h0M576.1 539.4h0M576.1 534.4h0M580.4 531.9h0M584.7 534.4h0M405.1 427.0h0M400.8 429.5h0M396.5 427.0h0M396.5 422.0h0M400.8 419.5h0M405.1 422.0h0M450.8 398.9h0M446.5 401.4h0M442.2 398.9h0M442.2 393.9h0M446.5 391.4h0M450.8 393.9h0M541.4 398.9h0M537.1 401.4h0M532.8 398.9h0M532.8 393.9h0M537.1 391.4h0M541.4 393.9h0" fill="none" stroke="#8a76ff" stroke-width="2.2" stroke-linecap="round" stroke-opacity="0.2"/>
<path d="M451.9 569.5h0M444.1 574.0h0M436.3 569.5h0M436.3 560.5h0M444.1 556.0h0M451.9 560.5h0M542.5 569.5h0M534.7 574.0h0M526.9 569.5h0M526.9 560.5h0M534.7 556.0h0M542.5 560.5h0M407.8 485.2h0M400.0 489.7h0M392.2 485.2h0M392.2 476.2h0M400.0 471.7h0M407.8 476.2h0M589.0 485.2h0M581.2 489.7h0M573.4 485.2h0M573.4 476.2h0M581.2 471.7h0M589.0 476.2h0M454.3 400.9h0M446.5 405.4h0M438.7 400.9h0M438.7 391.9h0M446.5 387.4h0M454.3 391.9h0M544.9 400.9h0M537.1 405.4h0M529.3 400.9h0M529.3 391.9h0M537.1 387.4h0M544.9 391.9h0" fill="none" stroke="#b4a8ff" stroke-width="2" stroke-linecap="round" stroke-opacity="0.15"/>
<path d="M478.3 565.0h0M476.3 568.5h0M472.3 568.5h0M470.3 565.0h0M472.3 561.5h0M476.3 561.5h0M508.5 565.0h0M506.5 568.5h0M502.5 568.5h0M500.5 565.0h0M502.5 561.5h0M506.5 561.5h0M404.0 480.7h0M402.0 484.2h0M398.0 484.2h0M396.0 480.7h0M398.0 477.2h0M402.0 477.2h0M585.2 480.7h0M583.2 484.2h0M579.2 484.2h0M577.2 480.7h0M579.2 477.2h0M583.2 477.2h0M480.7 396.4h0M478.7 399.9h0M474.7 399.9h0M472.7 396.4h0M474.7 392.9h0M478.7 392.9h0M510.9 396.4h0M508.9 399.9h0M504.9 399.9h0M502.9 396.4h0M504.9 392.9h0M508.9 392.9h0" fill="none" stroke="#e9904f" stroke-width="2" stroke-linecap="round" stroke-opacity="0.25"/>
<path d="M478.6 567.5h0M474.3 570.0h0M470.0 567.5h0M470.0 562.5h0M474.3 560.0h0M478.6 562.5h0M508.8 567.5h0M504.5 570.0h0M500.2 567.5h0M500.2 562.5h0M504.5 560.0h0M508.8 562.5h0M404.3 483.2h0M400.0 485.7h0M395.7 483.2h0M395.7 478.2h0M400.0 475.7h0M404.3 478.2h0M585.5 483.2h0M581.2 485.7h0M576.9 483.2h0M576.9 478.2h0M581.2 475.7h0M585.5 478.2h0M481.0 398.9h0M476.7 401.4h0M472.4 398.9h0M472.4 393.9h0M476.7 391.4h0M481.0 393.9h0M511.2 398.9h0M506.9 401.4h0M502.6 398.9h0M502.6 393.9h0M506.9 391.4h0M511.2 393.9h0" fill="none" stroke="#8a76ff" stroke-width="2.2" stroke-linecap="round" stroke-opacity="0.25"/>
<path d="M482.1 569.5h0M474.3 574.0h0M466.5 569.5h0M466.5 560.5h0M474.3 556.0h0M482.1 560.5h0M512.3 569.5h0M504.5 574.0h0M496.7 569.5h0M496.7 560.5h0M504.5 556.0h0M512.3 560.5h0M437.2 541.4h0M429.4 545.9h0M421.6 541.4h0M421.6 532.4h0M429.4 527.9h0M437.2 532.4h0M558.0 541.4h0M550.2 545.9h0M542.4 541.4h0M542.4 532.4h0M550.2 527.9h0M558.0 532.4h0M422.5 513.3h0M414.7 517.8h0M406.9 513.3h0M406.9 504.3h0M414.7 499.8h0M422.5 504.3h0M573.5 513.3h0M565.7 517.8h0M557.9 513.3h0M557.9 504.3h0M565.7 499.8h0M573.5 504.3h0M423.3 457.1h0M415.5 461.6h0M407.7 457.1h0M407.7 448.1h0M415.5 443.6h0M423.3 448.1h0M574.3 457.1h0M566.5 461.6h0M558.7 457.1h0M558.7 448.1h0M566.5 443.6h0M574.3 448.1h0M438.8 429.0h0M431.0 433.5h0M423.2 429.0h0M423.2 420.0h0M431.0 415.5h0M438.8 420.0h0M559.6 429.0h0M551.8 433.5h0M544.0 429.0h0M544.0 420.0h0M551.8 415.5h0M559.6 420.0h0M484.5 400.9h0M476.7 405.4h0M468.9 400.9h0M468.9 391.9h0M476.7 387.4h0M484.5 391.9h0M514.7 400.9h0M506.9 405.4h0M499.1 400.9h0M499.1 391.9h0M506.9 387.4h0M514.7 391.9h0" fill="none" stroke="#b4a8ff" stroke-width="2" stroke-linecap="round" stroke-opacity="0.2"/>
<path d="M433.4 536.9h0M431.4 540.4h0M427.4 540.4h0M425.4 536.9h0M427.4 533.4h0M431.4 533.4h0M554.2 536.9h0M552.2 540.4h0M548.2 540.4h0M546.2 536.9h0M548.2 533.4h0M552.2 533.4h0M418.7 508.8h0M416.7 512.3h0M412.7 512.3h0M410.7 508.8h0M412.7 505.3h0M416.7 505.3h0M569.7 508.8h0M567.7 512.3h0M563.7 512.3h0M561.7 508.8h0M563.7 505.3h0M567.7 505.3h0M419.5 452.6h0M417.5 456.1h0M413.5 456.1h0M411.5 452.6h0M413.5 449.1h0M417.5 449.1h0M570.5 452.6h0M568.5 456.1h0M564.5 456.1h0M562.5 452.6h0M564.5 449.1h0M568.5 449.1h0M435.0 424.5h0M433.0 428.0h0M429.0 428.0h0M427.0 424.5h0M429.0 421.0h0M433.0 421.0h0M555.8 424.5h0M553.8 428.0h0M549.8 428.0h0M547.8 424.5h0M549.8 421.0h0M553.8 421.0h0" fill="none" stroke="#e9904f" stroke-width="2" stroke-linecap="round" stroke-opacity="0.3"/>
<path d="M437.0 536.9h0M433.2 543.5h0M425.6 543.5h0M421.8 536.9h0M425.6 530.3h0M433.2 530.3h0M557.8 536.9h0M554.0 543.5h0M546.4 543.5h0M542.6 536.9h0M546.4 530.3h0M554.0 530.3h0M422.3 508.8h0M418.5 515.4h0M410.9 515.4h0M407.1 508.8h0M410.9 502.2h0M418.5 502.2h0M573.3 508.8h0M569.5 515.4h0M561.9 515.4h0M558.1 508.8h0M561.9 502.2h0M569.5 502.2h0M423.1 452.6h0M419.3 459.2h0M411.7 459.2h0M407.9 452.6h0M411.7 446.0h0M419.3 446.0h0M574.1 452.6h0M570.3 459.2h0M562.7 459.2h0M558.9 452.6h0M562.7 446.0h0M570.3 446.0h0M438.6 424.5h0M434.8 431.1h0M427.2 431.1h0M423.4 424.5h0M427.2 417.9h0M434.8 417.9h0M559.4 424.5h0M555.6 431.1h0M548.0 431.1h0M544.2 424.5h0M548.0 417.9h0M555.6 417.9h0" fill="none" stroke="#efb48a" stroke-width="2" stroke-linecap="round" stroke-opacity="0.25"/>
<path d="M433.7 539.4h0M429.4 541.9h0M425.1 539.4h0M425.1 534.4h0M429.4 531.9h0M433.7 534.4h0M554.5 539.4h0M550.2 541.9h0M545.9 539.4h0M545.9 534.4h0M550.2 531.9h0M554.5 534.4h0M419.0 511.3h0M414.7 513.8h0M410.4 511.3h0M410.4 506.3h0M414.7 503.8h0M419.0 506.3h0M570.0 511.3h0M565.7 513.8h0M561.4 511.3h0M561.4 506.3h0M565.7 503.8h0M570.0 506.3h0M419.8 455.1h0M415.5 457.6h0M411.2 455.1h0M411.2 450.1h0M415.5 447.6h0M419.8 450.1h0M570.8 455.1h0M566.5 457.6h0M562.2 455.1h0M562.2 450.1h0M566.5 447.6h0M570.8 450.1h0M435.3 427.0h0M431.0 429.5h0M426.7 427.0h0M426.7 422.0h0M431.0 419.5h0M435.3 422.0h0M556.1 427.0h0M551.8 429.5h0M547.5 427.0h0M547.5 422.0h0M551.8 419.5h0M556.1 422.0h0" fill="none" stroke="#8a76ff" stroke-width="2.2" stroke-linecap="round" stroke-opacity="0.3"/>
<path d="M463.6 536.9h0M461.6 540.4h0M457.6 540.4h0M455.6 536.9h0M457.6 533.4h0M461.6 533.4h0M524.0 536.9h0M522.0 540.4h0M518.0 540.4h0M516.0 536.9h0M518.0 533.4h0M522.0 533.4h0M465.2 424.5h0M463.2 428.0h0M459.2 428.0h0M457.2 424.5h0M459.2 421.0h0M463.2 421.0h0M525.6 424.5h0M523.6 428.0h0M519.6 428.0h0M517.6 424.5h0M519.6 421.0h0M523.6 421.0h0" fill="none" stroke="#e9904f" stroke-width="2" stroke-linecap="round" stroke-opacity="0.4"/>
<path d="M467.2 536.9h0M463.4 543.5h0M455.8 543.5h0M452.0 536.9h0M455.8 530.3h0M463.4 530.3h0M527.6 536.9h0M523.8 543.5h0M516.2 543.5h0M512.4 536.9h0M516.2 530.3h0M523.8 530.3h0M437.8 480.7h0M434.0 487.3h0M426.4 487.3h0M422.6 480.7h0M426.4 474.1h0M434.0 474.1h0M558.6 480.7h0M554.8 487.3h0M547.2 487.3h0M543.4 480.7h0M547.2 474.1h0M554.8 474.1h0M468.8 424.5h0M465.0 431.1h0M457.4 431.1h0M453.6 424.5h0M457.4 417.9h0M465.0 417.9h0M529.2 424.5h0M525.4 431.1h0M517.8 431.1h0M514.0 424.5h0M517.8 417.9h0M525.4 417.9h0" fill="none" stroke="#efb48a" stroke-width="2" stroke-linecap="round" stroke-opacity="0.35"/>
<path d="M463.9 539.4h0M459.6 541.9h0M455.3 539.4h0M455.3 534.4h0M459.6 531.9h0M463.9 534.4h0M524.3 539.4h0M520.0 541.9h0M515.7 539.4h0M515.7 534.4h0M520.0 531.9h0M524.3 534.4h0M465.5 427.0h0M461.2 429.5h0M456.9 427.0h0M456.9 422.0h0M461.2 419.5h0M465.5 422.0h0M525.9 427.0h0M521.6 429.5h0M517.3 427.0h0M517.3 422.0h0M521.6 419.5h0M525.9 422.0h0" fill="none" stroke="#8a76ff" stroke-width="2.2" stroke-linecap="round" stroke-opacity="0.4"/>
<path d="M467.4 541.4h0M459.6 545.9h0M451.8 541.4h0M451.8 532.4h0M459.6 527.9h0M467.4 532.4h0M527.8 541.4h0M520.0 545.9h0M512.2 541.4h0M512.2 532.4h0M520.0 527.9h0M527.8 532.4h0M438.0 485.2h0M430.2 489.7h0M422.4 485.2h0M422.4 476.2h0M430.2 471.7h0M438.0 476.2h0M558.8 485.2h0M551.0 489.7h0M543.2 485.2h0M543.2 476.2h0M551.0 471.7h0M558.8 476.2h0M469.0 429.0h0M461.2 433.5h0M453.4 429.0h0M453.4 420.0h0M461.2 415.5h0M469.0 420.0h0M529.4 429.0h0M521.6 433.5h0M513.8 429.0h0M513.8 420.0h0M521.6 415.5h0M529.4 420.0h0" fill="none" stroke="#b4a8ff" stroke-width="2" stroke-linecap="round" stroke-opacity="0.3"/>
<path d="M493.8 536.9h0M491.8 540.4h0M487.8 540.4h0M485.8 536.9h0M487.8 533.4h0M491.8 533.4h0M448.9 508.8h0M446.9 512.3h0M442.9 512.3h0M440.9 508.8h0M442.9 505.3h0M446.9 505.3h0M539.5 508.8h0M537.5 512.3h0M533.5 512.3h0M531.5 508.8h0M533.5 505.3h0M537.5 505.3h0M449.7 452.6h0M447.7 456.1h0M443.7 456.1h0M441.7 452.6h0M443.7 449.1h0M447.7 449.1h0M540.3 452.6h0M538.3 456.1h0M534.3 456.1h0M532.3 452.6h0M534.3 449.1h0M538.3 449.1h0M495.4 424.5h0M493.4 428.0h0M489.4 428.0h0M487.4 424.5h0M489.4 421.0h0M493.4 421.0h0" fill="none" stroke="#e9904f" stroke-width="2" stroke-linecap="round" stroke-opacity="0.5"/>
<path d="M497.4 536.9h0M493.6 543.5h0M486.0 543.5h0M482.2 536.9h0M486.0 530.3h0M493.6 530.3h0M452.5 508.8h0M448.7 515.4h0M441.1 515.4h0M437.3 508.8h0M441.1 502.2h0M448.7 502.2h0M543.1 508.8h0M539.3 515.4h0M531.7 515.4h0M527.9 508.8h0M531.7 502.2h0M539.3 502.2h0M453.3 452.6h0M449.5 459.2h0M441.9 459.2h0M438.1 452.6h0M441.9 446.0h0M449.5 446.0h0M543.9 452.6h0M540.1 459.2h0M532.5 459.2h0M528.7 452.6h0M532.5 446.0h0M540.1 446.0h0M499.0 424.5h0M495.2 431.1h0M487.6 431.1h0M483.8 424.5h0M487.6 417.9h0M495.2 417.9h0" fill="none" stroke="#efb48a" stroke-width="2" stroke-linecap="round" stroke-opacity="0.4"/>
<path d="M494.1 539.4h0M489.8 541.9h0M485.5 539.4h0M485.5 534.4h0M489.8 531.9h0M494.1 534.4h0M449.2 511.3h0M444.9 513.8h0M440.6 511.3h0M440.6 506.3h0M444.9 503.8h0M449.2 506.3h0M539.8 511.3h0M535.5 513.8h0M531.2 511.3h0M531.2 506.3h0M535.5 503.8h0M539.8 506.3h0M450.0 455.1h0M445.7 457.6h0M441.4 455.1h0M441.4 450.1h0M445.7 447.6h0M450.0 450.1h0M540.6 455.1h0M536.3 457.6h0M532.0 455.1h0M532.0 450.1h0M536.3 447.6h0M540.6 450.1h0M495.7 427.0h0M491.4 429.5h0M487.1 427.0h0M487.1 422.0h0M491.4 419.5h0M495.7 422.0h0" fill="none" stroke="#8a76ff" stroke-width="2.2" stroke-linecap="round" stroke-opacity="0.5"/>
<path d="M497.6 541.4h0M489.8 545.9h0M482.0 541.4h0M482.0 532.4h0M489.8 527.9h0M497.6 532.4h0M452.7 513.3h0M444.9 517.8h0M437.1 513.3h0M437.1 504.3h0M444.9 499.8h0M452.7 504.3h0M543.3 513.3h0M535.5 517.8h0M527.7 513.3h0M527.7 504.3h0M535.5 499.8h0M543.3 504.3h0M453.5 457.1h0M445.7 461.6h0M437.9 457.1h0M437.9 448.1h0M445.7 443.6h0M453.5 448.1h0M544.1 457.1h0M536.3 461.6h0M528.5 457.1h0M528.5 448.1h0M536.3 443.6h0M544.1 448.1h0M499.2 429.0h0M491.4 433.5h0M483.6 429.0h0M483.6 420.0h0M491.4 415.5h0M499.2 420.0h0" fill="none" stroke="#b4a8ff" stroke-width="2" stroke-linecap="round" stroke-opacity="0.35"/>
<path d="M479.1 508.8h0M477.1 512.3h0M473.1 512.3h0M471.1 508.8h0M473.1 505.3h0M477.1 505.3h0M510.1 452.6h0M508.1 456.1h0M504.1 456.1h0M502.1 452.6h0M504.1 449.1h0M508.1 449.1h0" fill="none" stroke="#e9904f" stroke-width="2" stroke-linecap="round" stroke-opacity="0.75"/>
<path d="M482.7 508.8h0M478.9 515.4h0M471.3 515.4h0M467.5 508.8h0M471.3 502.2h0M478.9 502.2h0M512.9 508.8h0M509.1 515.4h0M501.5 515.4h0M497.7 508.8h0M501.5 502.2h0M509.1 502.2h0M468.0 480.7h0M464.2 487.3h0M456.6 487.3h0M452.8 480.7h0M456.6 474.1h0M464.2 474.1h0M528.4 480.7h0M524.6 487.3h0M517.0 487.3h0M513.2 480.7h0M517.0 474.1h0M524.6 474.1h0M483.5 452.6h0M479.7 459.2h0M472.1 459.2h0M468.3 452.6h0M472.1 446.0h0M479.7 446.0h0M513.7 452.6h0M509.9 459.2h0M502.3 459.2h0M498.5 452.6h0M502.3 446.0h0M509.9 446.0h0" fill="none" stroke="#efb48a" stroke-width="2" stroke-linecap="round" stroke-opacity="0.65"/>
<path d="M479.4 511.3h0M475.1 513.8h0M470.8 511.3h0M470.8 506.3h0M475.1 503.8h0M479.4 506.3h0M510.4 455.1h0M506.1 457.6h0M501.8 455.1h0M501.8 450.1h0M506.1 447.6h0M510.4 450.1h0" fill="none" stroke="#8a76ff" stroke-width="2.2" stroke-linecap="round" stroke-opacity="0.75"/>
<path d="M482.9 513.3h0M475.1 517.8h0M467.3 513.3h0M467.3 504.3h0M475.1 499.8h0M482.9 504.3h0M513.1 513.3h0M505.3 517.8h0M497.5 513.3h0M497.5 504.3h0M505.3 499.8h0M513.1 504.3h0M468.2 485.2h0M460.4 489.7h0M452.6 485.2h0M452.6 476.2h0M460.4 471.7h0M468.2 476.2h0M528.6 485.2h0M520.8 489.7h0M513.0 485.2h0M513.0 476.2h0M520.8 471.7h0M528.6 476.2h0M483.7 457.1h0M475.9 461.6h0M468.1 457.1h0M468.1 448.1h0M475.9 443.6h0M483.7 448.1h0M513.9 457.1h0M506.1 461.6h0M498.3 457.1h0M498.3 448.1h0M506.1 443.6h0M513.9 448.1h0" fill="none" stroke="#b4a8ff" stroke-width="2" stroke-linecap="round" stroke-opacity="0.55"/>
<path d="M509.3 508.8h0M507.3 512.3h0M503.3 512.3h0M501.3 508.8h0M503.3 505.3h0M507.3 505.3h0M464.4 480.7h0M462.4 484.2h0M458.4 484.2h0M456.4 480.7h0M458.4 477.2h0M462.4 477.2h0M524.8 480.7h0M522.8 484.2h0M518.8 484.2h0M516.8 480.7h0M518.8 477.2h0M522.8 477.2h0M479.9 452.6h0M477.9 456.1h0M473.9 456.1h0M471.9 452.6h0M473.9 449.1h0M477.9 449.1h0" fill="none" stroke="#e9904f" stroke-width="2" stroke-linecap="round" stroke-opacity="0.8"/>
<path d="M509.6 511.3h0M505.3 513.8h0M501.0 511.3h0M501.0 506.3h0M505.3 503.8h0M509.6 506.3h0M464.7 483.2h0M460.4 485.7h0M456.1 483.2h0M456.1 478.2h0M460.4 475.7h0M464.7 478.2h0M525.1 483.2h0M520.8 485.7h0M516.5 483.2h0M516.5 478.2h0M520.8 475.7h0M525.1 478.2h0M480.2 455.1h0M475.9 457.6h0M471.6 455.1h0M471.6 450.1h0M475.9 447.6h0M480.2 450.1h0" fill="none" stroke="#8a76ff" stroke-width="2.2" stroke-linecap="round" stroke-opacity="0.8"/>
<path d="M434.2 480.7h0M432.2 484.2h0M428.2 484.2h0M426.2 480.7h0M428.2 477.2h0M432.2 477.2h0M555.0 480.7h0M553.0 484.2h0M549.0 484.2h0M547.0 480.7h0M549.0 477.2h0M553.0 477.2h0" fill="none" stroke="#e9904f" stroke-width="2" stroke-linecap="round" stroke-opacity="0.45"/>
<path d="M434.5 483.2h0M430.2 485.7h0M425.9 483.2h0M425.9 478.2h0M430.2 475.7h0M434.5 478.2h0M555.3 483.2h0M551.0 485.7h0M546.7 483.2h0M546.7 478.2h0M551.0 475.7h0M555.3 478.2h0" fill="none" stroke="#8a76ff" stroke-width="2.2" stroke-linecap="round" stroke-opacity="0.45"/>
<path d="M458.8 593.1h0M489.0 593.1h0M519.2 593.1h0M413.9 565.0h0M564.9 565.0h0M399.2 536.9h0M580.4 536.9h0M384.5 508.8h0M595.9 508.8h0M369.8 480.7h0M611.4 480.7h0M385.3 452.6h0M596.7 452.6h0M400.8 424.5h0M582.0 424.5h0M416.3 396.4h0M567.3 396.4h0M462.0 368.3h0M492.2 368.3h0M522.4 368.3h0" fill="none" stroke="#ff2a10" stroke-width="2.3" stroke-linecap="round" stroke-opacity="0.05"/>
<path d="M444.1 565.0h0M534.7 565.0h0M400.0 480.7h0M581.2 480.7h0M446.5 396.4h0M537.1 396.4h0" fill="none" stroke="#ff2a10" stroke-width="2.3" stroke-linecap="round" stroke-opacity="0.1"/>
<path d="M474.3 565.0h0M504.5 565.0h0M429.4 536.9h0M550.2 536.9h0M414.7 508.8h0M565.7 508.8h0M415.5 452.6h0M566.5 452.6h0M431.0 424.5h0M551.8 424.5h0M476.7 396.4h0M506.9 396.4h0" fill="none" stroke="#ff2a10" stroke-width="2.3" stroke-linecap="round" stroke-opacity="0.15"/>
<path d="M459.6 536.9h0M520.0 536.9h0M461.2 424.5h0M521.6 424.5h0" fill="none" stroke="#ff2a10" stroke-width="2.3" stroke-linecap="round" stroke-opacity="0.3"/>
<path d="M489.8 536.9h0M491.4 424.5h0" fill="none" stroke="#ff2a10" stroke-width="2.3" stroke-linecap="round" stroke-opacity="0.4"/>
<path d="M444.9 508.8h0M535.5 508.8h0M445.7 452.6h0M536.3 452.6h0" fill="none" stroke="#ff2a10" stroke-width="2.3" stroke-linecap="round" stroke-opacity="0.45"/>
<path d="M475.1 508.8h0M505.3 508.8h0M460.4 480.7h0M520.8 480.7h0M475.9 452.6h0M506.1 452.6h0" fill="none" stroke="#ff2a10" stroke-width="2.3" stroke-linecap="round"/>
<path d="M430.2 480.7h0M551.0 480.7h0" fill="none" stroke="#ff2a10" stroke-width="2.3" stroke-linecap="round" stroke-opacity="0.35"/>
</g>
<path d="M491.0 480.5h0" fill="none" stroke="#c8c0ff" stroke-width="18" stroke-linecap="round" stroke-opacity="0.35"/>
<path d="M499.2 485.2h0M491.0 490.0h0M482.8 485.2h0M482.8 475.8h0M491.0 471.0h0M499.2 475.8h0" fill="none" stroke="#8070ff" stroke-width="2.2" stroke-linecap="round" stroke-opacity="0.8"/>
<path d="M496.2 483.5h0M491.0 486.5h0M485.8 483.5h0M485.8 477.5h0M491.0 474.5h0M496.2 477.5h0M494.0 480.5h0M493.6 482.0h0M492.5 483.1h0M491.0 483.5h0M489.5 483.1h0M488.4 482.0h0M488.0 480.5h0M488.4 479.0h0M489.5 477.9h0M491.0 477.5h0M492.5 477.9h0M493.6 479.0h0" fill="none" stroke="#1a1aff" stroke-width="2.6" stroke-linecap="round" stroke-opacity="0.95"/>
<path d="M498.5 480.5h0M495.5 480.5h0M496.0 474.5h0M494.0 477.0h0M486.0 480.5h0M483.5 480.5h0M488.0 486.5h0M486.0 488.5h0M491.0 487.5h0M484.5 477.5h0M495.0 487.5h0" fill="none" stroke="#ff2a10" stroke-width="2.7" stroke-linecap="round" stroke-opacity="0.95"/>
<path d="M491.0 480.5h0" fill="none" stroke="#1a1aff" stroke-width="3" stroke-linecap="round"/>
</g>
<polygon points="426.00,361.60 502.60,361.60 536.50,422.60 459.90,422.60" fill="#fff" stroke="none" stroke-width="0"/>
<clipPath id="cdp1"><polygon points="426,361.6 502.6,361.6 536.5,422.6 459.9,422.6"/></clipPath>
<g clip-path="url(#cdp1)"><g filter="url(#fbs)">
<circle cx="491.6" cy="392.5" r="2.6" fill="#e89a68" fill-opacity="0.85"/>
<circle cx="501.6" cy="392.5" r="2.4" fill="#f0c098" fill-opacity="0.75"/>
<circle cx="486.2" cy="396.3" r="2.5" fill="#8a70ff" fill-opacity="0.85"/>
<circle cx="492.4" cy="399.9" r="2.5" fill="#9a84ff" fill-opacity="0.8"/>
<circle cx="502.1" cy="405.5" r="2.4" fill="#d4ccff" fill-opacity="0.7"/>
<circle cx="489.1" cy="398.0" r="1.6" fill="#a898ff" fill-opacity="0.6"/>
<circle cx="485.6" cy="402.9" r="2.6" fill="#e89a68" fill-opacity="0.85"/>
<circle cx="490.6" cy="411.6" r="2.4" fill="#f0c098" fill-opacity="0.75"/>
<circle cx="479.6" cy="400.1" r="2.5" fill="#8a70ff" fill-opacity="0.85"/>
<circle cx="479.6" cy="407.3" r="2.5" fill="#9a84ff" fill-opacity="0.8"/>
<circle cx="479.6" cy="418.5" r="2.4" fill="#d4ccff" fill-opacity="0.7"/>
<circle cx="479.6" cy="403.5" r="1.6" fill="#a898ff" fill-opacity="0.6"/>
<circle cx="473.6" cy="402.9" r="2.6" fill="#e89a68" fill-opacity="0.85"/>
<circle cx="468.6" cy="411.6" r="2.4" fill="#f0c098" fill-opacity="0.75"/>
<circle cx="473.0" cy="396.3" r="2.5" fill="#8a70ff" fill-opacity="0.85"/>
<circle cx="466.8" cy="399.9" r="2.5" fill="#9a84ff" fill-opacity="0.8"/>
<circle cx="457.1" cy="405.5" r="2.4" fill="#d4ccff" fill-opacity="0.7"/>
<circle cx="470.1" cy="398.0" r="1.6" fill="#a898ff" fill-opacity="0.6"/>
<circle cx="467.6" cy="392.5" r="2.6" fill="#e89a68" fill-opacity="0.85"/>
<circle cx="457.6" cy="392.5" r="2.4" fill="#f0c098" fill-opacity="0.75"/>
<circle cx="473.0" cy="388.7" r="2.5" fill="#8a70ff" fill-opacity="0.85"/>
<circle cx="466.8" cy="385.1" r="2.5" fill="#9a84ff" fill-opacity="0.8"/>
<circle cx="457.1" cy="379.5" r="2.4" fill="#d4ccff" fill-opacity="0.7"/>
<circle cx="470.1" cy="387.0" r="1.6" fill="#a898ff" fill-opacity="0.6"/>
<circle cx="473.6" cy="382.1" r="2.6" fill="#e89a68" fill-opacity="0.85"/>
<circle cx="468.6" cy="373.4" r="2.4" fill="#f0c098" fill-opacity="0.75"/>
<circle cx="479.6" cy="384.9" r="2.5" fill="#8a70ff" fill-opacity="0.85"/>
<circle cx="479.6" cy="377.7" r="2.5" fill="#9a84ff" fill-opacity="0.8"/>
<circle cx="479.6" cy="366.5" r="2.4" fill="#d4ccff" fill-opacity="0.7"/>
<circle cx="479.6" cy="381.5" r="1.6" fill="#a898ff" fill-opacity="0.6"/>
<circle cx="485.6" cy="382.1" r="2.6" fill="#e89a68" fill-opacity="0.85"/>
<circle cx="490.6" cy="373.4" r="2.4" fill="#f0c098" fill-opacity="0.75"/>
<circle cx="486.2" cy="388.7" r="2.5" fill="#8a70ff" fill-opacity="0.85"/>
<circle cx="492.4" cy="385.1" r="2.5" fill="#9a84ff" fill-opacity="0.8"/>
<circle cx="502.1" cy="379.5" r="2.4" fill="#d4ccff" fill-opacity="0.7"/>
<circle cx="489.1" cy="387.0" r="1.6" fill="#a898ff" fill-opacity="0.6"/>
</g>
<circle cx="479.6" cy="392.5" r="3.3" fill="#ff2a10"/>
</g>
<polygon points="445.50,539.40 521.60,539.40 555.60,598.80 479.10,598.80" fill="#f8f6ff" stroke="none" stroke-width="0"/>
<clipPath id="cdp2"><polygon points="445.5,539.4 521.6,539.4 555.6,598.8 479.1,598.8"/></clipPath>
<g clip-path="url(#cdp2)"><g filter="url(#fbs)">
<ellipse cx="514.1" cy="584.5" rx="4" ry="1.8" fill="#f6dcc4" fill-opacity="0.5"/>
<ellipse cx="533.3" cy="596.5" rx="4" ry="1.8" fill="#d4ccff" fill-opacity="0.5"/>
<ellipse cx="527.1" cy="595.3" rx="4" ry="1.8" fill="#d4ccff" fill-opacity="0.5"/>
<ellipse cx="448.2" cy="567.9" rx="4" ry="1.8" fill="#f6dcc4" fill-opacity="0.5"/>
<ellipse cx="549.7" cy="578.9" rx="4" ry="1.8" fill="#d4ccff" fill-opacity="0.5"/>
<ellipse cx="545.0" cy="546.8" rx="4" ry="1.8" fill="#d4ccff" fill-opacity="0.5"/>
<ellipse cx="497.1" cy="554.8" rx="4" ry="1.8" fill="#f6dcc4" fill-opacity="0.5"/>
<ellipse cx="505.4" cy="574.4" rx="4" ry="1.8" fill="#d4ccff" fill-opacity="0.5"/>
<ellipse cx="446.5" cy="553.0" rx="4" ry="1.8" fill="#d4ccff" fill-opacity="0.5"/>
<ellipse cx="476.0" cy="595.0" rx="4" ry="1.8" fill="#f6dcc4" fill-opacity="0.5"/>
<ellipse cx="530.0" cy="549.6" rx="4" ry="1.8" fill="#d4ccff" fill-opacity="0.5"/>
<ellipse cx="533.5" cy="548.3" rx="4" ry="1.8" fill="#d4ccff" fill-opacity="0.5"/>
<ellipse cx="513.5" cy="547.6" rx="4" ry="1.8" fill="#f6dcc4" fill-opacity="0.5"/>
<ellipse cx="445.2" cy="592.3" rx="4" ry="1.8" fill="#d4ccff" fill-opacity="0.5"/>
<ellipse cx="468.2" cy="552.9" rx="4" ry="1.8" fill="#d4ccff" fill-opacity="0.5"/>
<ellipse cx="554.0" cy="592.3" rx="4" ry="1.8" fill="#f6dcc4" fill-opacity="0.5"/>
<ellipse cx="477.1" cy="597.7" rx="4" ry="1.8" fill="#d4ccff" fill-opacity="0.5"/>
<ellipse cx="504.9" cy="580.7" rx="4" ry="1.8" fill="#d4ccff" fill-opacity="0.5"/>
<ellipse cx="467.7" cy="596.5" rx="4" ry="1.8" fill="#f6dcc4" fill-opacity="0.5"/>
<ellipse cx="521.7" cy="598.0" rx="4" ry="1.8" fill="#d4ccff" fill-opacity="0.5"/>
<ellipse cx="544.2" cy="557.9" rx="4" ry="1.8" fill="#d4ccff" fill-opacity="0.5"/>
<ellipse cx="485.1" cy="550.0" rx="4" ry="1.8" fill="#f6dcc4" fill-opacity="0.5"/>
<ellipse cx="461.2" cy="543.9" rx="4" ry="1.8" fill="#d4ccff" fill-opacity="0.5"/>
<ellipse cx="478.5" cy="576.2" rx="4" ry="1.8" fill="#d4ccff" fill-opacity="0.5"/>
<ellipse cx="445.4" cy="580.7" rx="4" ry="1.8" fill="#f6dcc4" fill-opacity="0.5"/>
<ellipse cx="482.5" cy="558.6" rx="4" ry="1.8" fill="#d4ccff" fill-opacity="0.5"/>
<ellipse cx="535.9" cy="568.8" rx="4" ry="1.8" fill="#d4ccff" fill-opacity="0.5"/>
<ellipse cx="480.1" cy="568.9" rx="4" ry="1.8" fill="#f6dcc4" fill-opacity="0.5"/>
<ellipse cx="523.2" cy="543.4" rx="4" ry="1.8" fill="#d4ccff" fill-opacity="0.5"/>
<ellipse cx="553.2" cy="541.4" rx="4" ry="1.8" fill="#d4ccff" fill-opacity="0.5"/>
<ellipse cx="528.2" cy="590.7" rx="4" ry="1.8" fill="#f6dcc4" fill-opacity="0.5"/>
<ellipse cx="447.0" cy="587.3" rx="4" ry="1.8" fill="#d4ccff" fill-opacity="0.5"/>
<ellipse cx="485.6" cy="574.7" rx="4" ry="1.8" fill="#d4ccff" fill-opacity="0.5"/>
<ellipse cx="446.0" cy="542.8" rx="4" ry="1.8" fill="#f6dcc4" fill-opacity="0.5"/>
<ellipse cx="465.1" cy="597.3" rx="4" ry="1.8" fill="#d4ccff" fill-opacity="0.5"/>
<ellipse cx="466.8" cy="585.3" rx="4" ry="1.8" fill="#d4ccff" fill-opacity="0.5"/>
<ellipse cx="548.2" cy="596.5" rx="4" ry="1.8" fill="#f6dcc4" fill-opacity="0.5"/>
<ellipse cx="483.2" cy="561.3" rx="4" ry="1.8" fill="#d4ccff" fill-opacity="0.5"/>
<ellipse cx="503.2" cy="586.5" rx="4" ry="1.8" fill="#d4ccff" fill-opacity="0.5"/>
<ellipse cx="457.0" cy="584.9" rx="4" ry="1.8" fill="#f6dcc4" fill-opacity="0.5"/>
<ellipse cx="533.5" cy="591.6" rx="4" ry="1.8" fill="#d4ccff" fill-opacity="0.5"/>
<ellipse cx="449.1" cy="596.7" rx="4" ry="1.8" fill="#d4ccff" fill-opacity="0.5"/>
<ellipse cx="455.1" cy="560.4" rx="4" ry="1.8" fill="#f6dcc4" fill-opacity="0.5"/>
<ellipse cx="512.8" cy="595.1" rx="4" ry="1.8" fill="#d4ccff" fill-opacity="0.5"/>
<ellipse cx="482.7" cy="595.5" rx="4" ry="1.8" fill="#d4ccff" fill-opacity="0.5"/>
<ellipse cx="505.5" cy="558.7" rx="4" ry="1.8" fill="#f6dcc4" fill-opacity="0.5"/>
<ellipse cx="480.2" cy="550.6" rx="4" ry="1.8" fill="#d4ccff" fill-opacity="0.5"/>
<ellipse cx="453.7" cy="548.9" rx="4" ry="1.8" fill="#d4ccff" fill-opacity="0.5"/>
<ellipse cx="521.5" cy="599.8" rx="4" ry="1.8" fill="#f6dcc4" fill-opacity="0.5"/>
<ellipse cx="462.9" cy="542.9" rx="4" ry="1.8" fill="#d4ccff" fill-opacity="0.5"/>
<ellipse cx="554.5" cy="572.0" rx="4" ry="1.8" fill="#d4ccff" fill-opacity="0.5"/>
<ellipse cx="490.1" cy="554.2" rx="4" ry="1.8" fill="#f6dcc4" fill-opacity="0.5"/>
<ellipse cx="510.9" cy="589.6" rx="4" ry="1.8" fill="#d4ccff" fill-opacity="0.5"/>
<ellipse cx="495.6" cy="565.3" rx="4" ry="1.8" fill="#d4ccff" fill-opacity="0.5"/>
<ellipse cx="451.2" cy="595.0" rx="4" ry="1.8" fill="#f6dcc4" fill-opacity="0.5"/>
<ellipse cx="448.6" cy="569.6" rx="4" ry="1.8" fill="#d4ccff" fill-opacity="0.5"/>
<ellipse cx="538.1" cy="547.8" rx="4" ry="1.8" fill="#d4ccff" fill-opacity="0.5"/>
<ellipse cx="526.2" cy="597.0" rx="4" ry="1.8" fill="#f6dcc4" fill-opacity="0.5"/>
<ellipse cx="515.0" cy="587.3" rx="4" ry="1.8" fill="#d4ccff" fill-opacity="0.5"/>
<ellipse cx="456.8" cy="566.1" rx="4" ry="1.8" fill="#d4ccff" fill-opacity="0.5"/>
<ellipse cx="461.6" cy="590.7" rx="4" ry="1.8" fill="#f6dcc4" fill-opacity="0.5"/>
<ellipse cx="477.7" cy="567.2" rx="4" ry="1.8" fill="#d4ccff" fill-opacity="0.5"/>
<ellipse cx="555.9" cy="591.1" rx="4" ry="1.8" fill="#d4ccff" fill-opacity="0.5"/>
<ellipse cx="553.3" cy="567.2" rx="4" ry="1.8" fill="#f6dcc4" fill-opacity="0.5"/>
<ellipse cx="499.2" cy="583.8" rx="4" ry="1.8" fill="#d4ccff" fill-opacity="0.5"/>
<ellipse cx="498.2" cy="557.5" rx="4" ry="1.8" fill="#d4ccff" fill-opacity="0.5"/>
<ellipse cx="489.8" cy="548.8" rx="4" ry="1.8" fill="#f6dcc4" fill-opacity="0.5"/>
<ellipse cx="486.8" cy="599.3" rx="4" ry="1.8" fill="#d4ccff" fill-opacity="0.5"/>
<ellipse cx="551.5" cy="577.6" rx="4" ry="1.8" fill="#d4ccff" fill-opacity="0.5"/>
<ellipse cx="500.4" cy="560.3" rx="4" ry="1.8" fill="#f6dcc4" fill-opacity="0.5"/>
<line x1="509.5" y1="569.1" x2="517.0" y2="569.1" stroke="#eeaa80" stroke-width="4.2" stroke-linecap="round" stroke-opacity="0.75"/>
<circle cx="506.5" cy="569.1" r="1.6" fill="#f0c0a0" fill-opacity="0.7"/>
<line x1="505.2" y1="572.1" x2="510.4" y2="575.1" stroke="#9a88ff" stroke-width="3.8" stroke-linecap="round" stroke-opacity="0.7"/>
<circle cx="517.3" cy="579.1" r="2.8" fill="#c8bcff" fill-opacity="0.7"/>
<line x1="504.8" y1="577.3" x2="508.5" y2="583.8" stroke="#eeaa80" stroke-width="4.2" stroke-linecap="round" stroke-opacity="0.75"/>
<circle cx="503.2" cy="574.7" r="1.6" fill="#f0c0a0" fill-opacity="0.7"/>
<line x1="500.0" y1="575.1" x2="500.0" y2="581.1" stroke="#9a88ff" stroke-width="3.8" stroke-linecap="round" stroke-opacity="0.7"/>
<circle cx="500.0" cy="589.1" r="2.8" fill="#c8bcff" fill-opacity="0.7"/>
<line x1="495.2" y1="577.3" x2="491.5" y2="583.8" stroke="#eeaa80" stroke-width="4.2" stroke-linecap="round" stroke-opacity="0.75"/>
<circle cx="496.8" cy="574.7" r="1.6" fill="#f0c0a0" fill-opacity="0.7"/>
<line x1="494.8" y1="572.1" x2="489.6" y2="575.1" stroke="#9a88ff" stroke-width="3.8" stroke-linecap="round" stroke-opacity="0.7"/>
<circle cx="482.7" cy="579.1" r="2.8" fill="#c8bcff" fill-opacity="0.7"/>
<line x1="490.5" y1="569.1" x2="483.0" y2="569.1" stroke="#eeaa80" stroke-width="4.2" stroke-linecap="round" stroke-opacity="0.75"/>
<circle cx="493.5" cy="569.1" r="1.6" fill="#f0c0a0" fill-opacity="0.7"/>
<line x1="494.8" y1="566.1" x2="489.6" y2="563.1" stroke="#9a88ff" stroke-width="3.8" stroke-linecap="round" stroke-opacity="0.7"/>
<circle cx="482.7" cy="559.1" r="2.8" fill="#c8bcff" fill-opacity="0.7"/>
<line x1="495.2" y1="560.9" x2="491.5" y2="554.4" stroke="#eeaa80" stroke-width="4.2" stroke-linecap="round" stroke-opacity="0.75"/>
<circle cx="496.8" cy="563.5" r="1.6" fill="#f0c0a0" fill-opacity="0.7"/>
<line x1="500.0" y1="563.1" x2="500.0" y2="557.1" stroke="#9a88ff" stroke-width="3.8" stroke-linecap="round" stroke-opacity="0.7"/>
<circle cx="500.0" cy="549.1" r="2.8" fill="#c8bcff" fill-opacity="0.7"/>
<line x1="504.8" y1="560.9" x2="508.5" y2="554.4" stroke="#eeaa80" stroke-width="4.2" stroke-linecap="round" stroke-opacity="0.75"/>
<circle cx="503.2" cy="563.5" r="1.6" fill="#f0c0a0" fill-opacity="0.7"/>
<line x1="505.2" y1="566.1" x2="510.4" y2="563.1" stroke="#9a88ff" stroke-width="3.8" stroke-linecap="round" stroke-opacity="0.7"/>
<circle cx="517.3" cy="559.1" r="2.8" fill="#c8bcff" fill-opacity="0.7"/>
</g>
<circle cx="500.0" cy="569.1" r="3.8" fill="#ff2a10"/>
</g>
<line x1="176.60" y1="24.00" x2="176.60" y2="277.70" stroke="#000" stroke-width="1.6"/>
<rect x="51.60" y="24.00" width="46.20" height="22.80" fill="#000" stroke="none" stroke-width="0"/>
<text x="58.5" y="38.6" font-size="14.2" text-anchor="start" fill="#fff">Expt.</text>
<rect x="255.00" y="24.00" width="45.70" height="23.00" fill="#000" stroke="none" stroke-width="0"/>
<text x="261.0" y="39.0" font-size="14.2" text-anchor="start" fill="#fff">Calc.</text>
<rect x="51.60" y="24.00" width="249.10" height="253.70" fill="none" stroke="#000" stroke-width="1.6"/>
<text transform="translate(45.8,284.2) scale(0.9,1)" font-size="17.5" text-anchor="end" fill="#000">-8</text>
<line x1="51.60" y1="246.70" x2="55.60" y2="246.70" stroke="#000" stroke-width="1.2"/>
<line x1="300.70" y1="246.70" x2="296.70" y2="246.70" stroke="#000" stroke-width="1.2"/>
<line x1="51.60" y1="214.80" x2="55.60" y2="214.80" stroke="#000" stroke-width="1.2"/>
<line x1="300.70" y1="214.80" x2="296.70" y2="214.80" stroke="#000" stroke-width="1.2"/>
<text transform="translate(45.8,221.3) scale(0.9,1)" font-size="17.5" text-anchor="end" fill="#000">-4</text>
<line x1="51.60" y1="182.90" x2="55.60" y2="182.90" stroke="#000" stroke-width="1.2"/>
<line x1="300.70" y1="182.90" x2="296.70" y2="182.90" stroke="#000" stroke-width="1.2"/>
<line x1="51.60" y1="151.00" x2="55.60" y2="151.00" stroke="#000" stroke-width="1.2"/>
<line x1="300.70" y1="151.00" x2="296.70" y2="151.00" stroke="#000" stroke-width="1.2"/>
<text transform="translate(45.8,157.5) scale(0.9,1)" font-size="17.5" text-anchor="end" fill="#000">0</text>
<line x1="51.60" y1="119.10" x2="55.60" y2="119.10" stroke="#000" stroke-width="1.2"/>
<line x1="300.70" y1="119.10" x2="296.70" y2="119.10" stroke="#000" stroke-width="1.2"/>
<line x1="51.60" y1="87.20" x2="55.60" y2="87.20" stroke="#000" stroke-width="1.2"/>
<line x1="300.70" y1="87.20" x2="296.70" y2="87.20" stroke="#000" stroke-width="1.2"/>
<text transform="translate(45.8,93.7) scale(0.9,1)" font-size="17.5" text-anchor="end" fill="#000">4</text>
<line x1="51.60" y1="55.30" x2="55.60" y2="55.30" stroke="#000" stroke-width="1.2"/>
<line x1="300.70" y1="55.30" x2="296.70" y2="55.30" stroke="#000" stroke-width="1.2"/>
<text transform="translate(45.8,31.7) scale(0.9,1)" font-size="17.5" text-anchor="end" fill="#000">8</text>
<line x1="51.60" y1="24.00" x2="51.60" y2="28.00" stroke="#000" stroke-width="1.2"/>
<line x1="51.60" y1="277.70" x2="51.60" y2="273.70" stroke="#000" stroke-width="1.2"/>
<text transform="translate(51.9,297.5) scale(0.9,1)" font-size="17.5" text-anchor="middle" fill="#000">-15</text>
<line x1="93.12" y1="24.00" x2="93.12" y2="28.00" stroke="#000" stroke-width="1.2"/>
<line x1="93.12" y1="277.70" x2="93.12" y2="273.70" stroke="#000" stroke-width="1.2"/>
<text transform="translate(94.11666666666667,297.5) scale(0.9,1)" font-size="17.5" text-anchor="middle" fill="#000">-10</text>
<line x1="134.63" y1="24.00" x2="134.63" y2="28.00" stroke="#000" stroke-width="1.2"/>
<line x1="134.63" y1="277.70" x2="134.63" y2="273.70" stroke="#000" stroke-width="1.2"/>
<text transform="translate(135.63333333333333,297.5) scale(0.9,1)" font-size="17.5" text-anchor="middle" fill="#000">-5</text>
<line x1="176.15" y1="24.00" x2="176.15" y2="28.00" stroke="#000" stroke-width="1.2"/>
<line x1="176.15" y1="277.70" x2="176.15" y2="273.70" stroke="#000" stroke-width="1.2"/>
<text transform="translate(177.15,297.5) scale(0.9,1)" font-size="17.5" text-anchor="middle" fill="#000">0</text>
<line x1="217.67" y1="24.00" x2="217.67" y2="28.00" stroke="#000" stroke-width="1.2"/>
<line x1="217.67" y1="277.70" x2="217.67" y2="273.70" stroke="#000" stroke-width="1.2"/>
<text transform="translate(218.66666666666666,297.5) scale(0.9,1)" font-size="17.5" text-anchor="middle" fill="#000">5</text>
<line x1="259.18" y1="24.00" x2="259.18" y2="28.00" stroke="#000" stroke-width="1.2"/>
<line x1="259.18" y1="277.70" x2="259.18" y2="273.70" stroke="#000" stroke-width="1.2"/>
<text transform="translate(260.18333333333334,297.5) scale(0.9,1)" font-size="17.5" text-anchor="middle" fill="#000">10</text>
<line x1="300.70" y1="24.00" x2="300.70" y2="28.00" stroke="#000" stroke-width="1.2"/>
<line x1="300.70" y1="277.70" x2="300.70" y2="273.70" stroke="#000" stroke-width="1.2"/>
<text transform="translate(301.7,297.5) scale(0.9,1)" font-size="17.5" text-anchor="middle" fill="#000">15</text>
<text x="1.0" y="18.4" font-size="19.5" text-anchor="start" fill="#000">(a)</text>
<text x="176.3" y="16.6" font-size="20.5" text-anchor="middle" textLength="29" lengthAdjust="spacingAndGlyphs"><tspan font-style="italic">h</tspan>0<tspan font-style="italic">l</tspan></text>
<text x="179.5" y="321" font-size="21" text-anchor="middle" textLength="70" lengthAdjust="spacingAndGlyphs"><tspan font-style="italic">h</tspan> / r.l.u.</text>
<text transform="translate(29,150.5) rotate(-90)" x="0" y="0" font-size="21" text-anchor="middle" textLength="62" lengthAdjust="spacingAndGlyphs"><tspan font-style="italic">l</tspan> / r.l.u.</text>
<polygon points="507.00,226.60 566.00,226.60 595.50,277.00 536.00,277.00" fill="none" stroke="#dd22ee" stroke-width="2.2"/>
<line x1="419.60" y1="25.40" x2="566.20" y2="278.00" stroke="#000" stroke-width="1.7"/>
<polygon points="455.00,93.00 462.50,93.00 467.50,100.50 460.00,100.50" fill="none" stroke="#dd22ee" stroke-width="2.2"/>
<rect x="371.00" y="25.40" width="46.50" height="23.30" fill="#000" stroke="none" stroke-width="0"/>
<text x="378.0" y="41.8" font-size="14.2" text-anchor="start" fill="#fff">Expt.</text>
<rect x="573.90" y="25.40" width="45.70" height="23.30" fill="#000" stroke="none" stroke-width="0"/>
<text x="580.0" y="41.8" font-size="14.2" text-anchor="start" fill="#fff">Calc.</text>
<rect x="371.00" y="25.40" width="248.60" height="252.60" fill="none" stroke="#000" stroke-width="1.6"/>
<line x1="371.00" y1="255.00" x2="375.00" y2="255.00" stroke="#000" stroke-width="1.2"/>
<line x1="619.60" y1="255.00" x2="615.60" y2="255.00" stroke="#000" stroke-width="1.2"/>
<text transform="translate(365.5,261.3) scale(0.9,1)" font-size="17.5" text-anchor="end" fill="#000">-15</text>
<line x1="371.00" y1="220.50" x2="375.00" y2="220.50" stroke="#000" stroke-width="1.2"/>
<line x1="619.60" y1="220.50" x2="615.60" y2="220.50" stroke="#000" stroke-width="1.2"/>
<text transform="translate(365.5,226.8) scale(0.9,1)" font-size="17.5" text-anchor="end" fill="#000">-10</text>
<line x1="371.00" y1="186.00" x2="375.00" y2="186.00" stroke="#000" stroke-width="1.2"/>
<line x1="619.60" y1="186.00" x2="615.60" y2="186.00" stroke="#000" stroke-width="1.2"/>
<text transform="translate(365.5,192.3) scale(0.9,1)" font-size="17.5" text-anchor="end" fill="#000">-5</text>
<line x1="371.00" y1="151.50" x2="375.00" y2="151.50" stroke="#000" stroke-width="1.2"/>
<line x1="619.60" y1="151.50" x2="615.60" y2="151.50" stroke="#000" stroke-width="1.2"/>
<text transform="translate(365.5,157.8) scale(0.9,1)" font-size="17.5" text-anchor="end" fill="#000">0</text>
<line x1="371.00" y1="117.00" x2="375.00" y2="117.00" stroke="#000" stroke-width="1.2"/>
<line x1="619.60" y1="117.00" x2="615.60" y2="117.00" stroke="#000" stroke-width="1.2"/>
<text transform="translate(365.5,123.3) scale(0.9,1)" font-size="17.5" text-anchor="end" fill="#000">5</text>
<line x1="371.00" y1="82.50" x2="375.00" y2="82.50" stroke="#000" stroke-width="1.2"/>
<line x1="619.60" y1="82.50" x2="615.60" y2="82.50" stroke="#000" stroke-width="1.2"/>
<text transform="translate(365.5,88.8) scale(0.9,1)" font-size="17.5" text-anchor="end" fill="#000">10</text>
<line x1="371.00" y1="48.00" x2="375.00" y2="48.00" stroke="#000" stroke-width="1.2"/>
<line x1="619.60" y1="48.00" x2="615.60" y2="48.00" stroke="#000" stroke-width="1.2"/>
<text transform="translate(365.5,54.3) scale(0.9,1)" font-size="17.5" text-anchor="end" fill="#000">15</text>
<line x1="386.30" y1="278.00" x2="383.98" y2="274.00" stroke="#000" stroke-width="1.2"/>
<text transform="translate(386.3,296.3) scale(0.9,1)" font-size="17.5" text-anchor="middle" fill="#000">-25</text>
<line x1="422.40" y1="278.00" x2="420.08" y2="274.00" stroke="#000" stroke-width="1.2"/>
<text transform="translate(422.40000000000003,296.3) scale(0.9,1)" font-size="17.5" text-anchor="middle" fill="#000">-20</text>
<line x1="458.50" y1="278.00" x2="456.18" y2="274.00" stroke="#000" stroke-width="1.2"/>
<text transform="translate(458.5,296.3) scale(0.9,1)" font-size="17.5" text-anchor="middle" fill="#000">-15</text>
<line x1="494.60" y1="278.00" x2="492.28" y2="274.00" stroke="#000" stroke-width="1.2"/>
<text transform="translate(494.6,296.3) scale(0.9,1)" font-size="17.5" text-anchor="middle" fill="#000">-10</text>
<line x1="530.70" y1="278.00" x2="528.38" y2="274.00" stroke="#000" stroke-width="1.2"/>
<text transform="translate(530.7,296.3) scale(0.9,1)" font-size="17.5" text-anchor="middle" fill="#000">-5</text>
<line x1="566.80" y1="278.00" x2="564.48" y2="274.00" stroke="#000" stroke-width="1.2"/>
<text transform="translate(566.8,296.3) scale(0.9,1)" font-size="17.5" text-anchor="middle" fill="#000">0</text>
<line x1="602.90" y1="278.00" x2="600.58" y2="274.00" stroke="#000" stroke-width="1.2"/>
<text transform="translate(602.9000000000001,296.3) scale(0.9,1)" font-size="17.5" text-anchor="middle" fill="#000">5</text>
<line x1="419.60" y1="25.40" x2="421.92" y2="29.40" stroke="#000" stroke-width="1.2"/>
<line x1="454.80" y1="25.40" x2="457.12" y2="29.40" stroke="#000" stroke-width="1.2"/>
<line x1="490.00" y1="25.40" x2="492.32" y2="29.40" stroke="#000" stroke-width="1.2"/>
<line x1="525.20" y1="25.40" x2="527.52" y2="29.40" stroke="#000" stroke-width="1.2"/>
<line x1="560.40" y1="25.40" x2="562.72" y2="29.40" stroke="#000" stroke-width="1.2"/>
<line x1="595.60" y1="25.40" x2="597.92" y2="29.40" stroke="#000" stroke-width="1.2"/>
<text transform="translate(419.6,21.5) scale(0.9,1)" font-size="17.5" text-anchor="middle" fill="#000">0</text>
<text transform="translate(560.5,21.3) scale(0.9,1)" font-size="17.5" text-anchor="middle" fill="#000">20</text>
<text x="314.0" y="18.7" font-size="19.5" text-anchor="start" fill="#000">(b)</text>
<text x="495.4" y="18.7" font-size="20.5" text-anchor="middle" textLength="49.5" lengthAdjust="spacingAndGlyphs"><tspan font-style="italic">hk</tspan>0.5</text>
<text x="496.4" y="320.2" font-size="21" text-anchor="middle" textLength="70" lengthAdjust="spacingAndGlyphs"><tspan font-style="italic">h</tspan> / r.l.u.</text>
<text transform="translate(346,150) rotate(-90)" x="0" y="0" font-size="21" text-anchor="middle" textLength="68" lengthAdjust="spacingAndGlyphs"><tspan font-style="italic">k</tspan> / r.l.u.</text>
<defs><linearGradient id="gcb" x1="0" y1="0" x2="0" y2="1"><stop offset="0" stop-color="#111"/><stop offset="1" stop-color="#f0f0f0"/></linearGradient></defs>
<rect x="633.70" y="24.50" width="10.20" height="255.30" fill="url(#gcb)" stroke="#000" stroke-width="1.3"/>
<text transform="translate(652.3,35.6) scale(0.98,1)" font-size="17.5" text-anchor="start" fill="#000">max</text>
<text transform="translate(652.8,277.8) scale(0.9,1)" font-size="17.5" text-anchor="start" fill="#000">0</text>
<text transform="translate(663.4,152) rotate(-90)" x="0" y="0" font-size="14.5" text-anchor="middle" textLength="167" lengthAdjust="spacingAndGlyphs">Scattering intensity / a.u.</text>
<line x1="176.60" y1="359.80" x2="176.60" y2="599.00" stroke="#000" stroke-width="1.6"/>
<rect x="52.70" y="359.80" width="45.80" height="22.00" fill="#000" stroke="none" stroke-width="0"/>
<text x="59.5" y="373.8" font-size="14.2" text-anchor="start" fill="#fff">Expt.</text>
<rect x="255.00" y="359.80" width="44.50" height="22.90" fill="#000" stroke="none" stroke-width="0"/>
<text x="261.0" y="375.2" font-size="14.2" text-anchor="start" fill="#fff">Calc.</text>
<rect x="52.70" y="359.80" width="246.80" height="239.20" fill="none" stroke="#000" stroke-width="1.6"/>
<line x1="52.70" y1="586.40" x2="56.70" y2="586.40" stroke="#000" stroke-width="1.2"/>
<line x1="299.50" y1="586.40" x2="295.50" y2="586.40" stroke="#000" stroke-width="1.2"/>
<text transform="translate(46.5,592.6999999999999) scale(0.9,1)" font-size="17.5" text-anchor="end" fill="#000">-8</text>
<line x1="52.70" y1="559.50" x2="56.70" y2="559.50" stroke="#000" stroke-width="1.2"/>
<line x1="299.50" y1="559.50" x2="295.50" y2="559.50" stroke="#000" stroke-width="1.2"/>
<line x1="52.70" y1="532.60" x2="56.70" y2="532.60" stroke="#000" stroke-width="1.2"/>
<line x1="299.50" y1="532.60" x2="295.50" y2="532.60" stroke="#000" stroke-width="1.2"/>
<text transform="translate(46.5,538.9) scale(0.9,1)" font-size="17.5" text-anchor="end" fill="#000">-4</text>
<line x1="52.70" y1="505.70" x2="56.70" y2="505.70" stroke="#000" stroke-width="1.2"/>
<line x1="299.50" y1="505.70" x2="295.50" y2="505.70" stroke="#000" stroke-width="1.2"/>
<line x1="52.70" y1="478.80" x2="56.70" y2="478.80" stroke="#000" stroke-width="1.2"/>
<line x1="299.50" y1="478.80" x2="295.50" y2="478.80" stroke="#000" stroke-width="1.2"/>
<text transform="translate(46.5,485.1) scale(0.9,1)" font-size="17.5" text-anchor="end" fill="#000">0</text>
<line x1="52.70" y1="451.90" x2="56.70" y2="451.90" stroke="#000" stroke-width="1.2"/>
<line x1="299.50" y1="451.90" x2="295.50" y2="451.90" stroke="#000" stroke-width="1.2"/>
<line x1="52.70" y1="425.00" x2="56.70" y2="425.00" stroke="#000" stroke-width="1.2"/>
<line x1="299.50" y1="425.00" x2="295.50" y2="425.00" stroke="#000" stroke-width="1.2"/>
<text transform="translate(46.5,431.3) scale(0.9,1)" font-size="17.5" text-anchor="end" fill="#000">4</text>
<line x1="52.70" y1="398.10" x2="56.70" y2="398.10" stroke="#000" stroke-width="1.2"/>
<line x1="299.50" y1="398.10" x2="295.50" y2="398.10" stroke="#000" stroke-width="1.2"/>
<line x1="52.70" y1="371.20" x2="56.70" y2="371.20" stroke="#000" stroke-width="1.2"/>
<line x1="299.50" y1="371.20" x2="295.50" y2="371.20" stroke="#000" stroke-width="1.2"/>
<text transform="translate(46.5,377.50000000000006) scale(0.9,1)" font-size="17.5" text-anchor="end" fill="#000">8</text>
<line x1="83.80" y1="359.80" x2="83.80" y2="363.80" stroke="#000" stroke-width="1.2"/>
<line x1="83.80" y1="599.00" x2="83.80" y2="595.00" stroke="#000" stroke-width="1.2"/>
<text transform="translate(81.3,619.6) scale(0.9,1)" font-size="17.5" text-anchor="middle" fill="#000">-10</text>
<line x1="130.30" y1="359.80" x2="130.30" y2="363.80" stroke="#000" stroke-width="1.2"/>
<line x1="130.30" y1="599.00" x2="130.30" y2="595.00" stroke="#000" stroke-width="1.2"/>
<text transform="translate(127.5,619.6) scale(0.9,1)" font-size="17.5" text-anchor="middle" fill="#000">-5</text>
<line x1="176.80" y1="359.80" x2="176.80" y2="363.80" stroke="#000" stroke-width="1.2"/>
<line x1="176.80" y1="599.00" x2="176.80" y2="595.00" stroke="#000" stroke-width="1.2"/>
<text transform="translate(176.2,619.6) scale(0.9,1)" font-size="17.5" text-anchor="middle" fill="#000">0</text>
<line x1="223.30" y1="359.80" x2="223.30" y2="363.80" stroke="#000" stroke-width="1.2"/>
<line x1="223.30" y1="599.00" x2="223.30" y2="595.00" stroke="#000" stroke-width="1.2"/>
<text transform="translate(223.0,619.6) scale(0.9,1)" font-size="17.5" text-anchor="middle" fill="#000">5</text>
<line x1="269.80" y1="359.80" x2="269.80" y2="363.80" stroke="#000" stroke-width="1.2"/>
<line x1="269.80" y1="599.00" x2="269.80" y2="595.00" stroke="#000" stroke-width="1.2"/>
<text transform="translate(269.2,619.6) scale(0.9,1)" font-size="17.5" text-anchor="middle" fill="#000">10</text>
<rect x="62.20" y="397.50" width="41.10" height="141.30" fill="none" stroke="#dfa93a" stroke-width="2.6"/>
<rect x="135.50" y="390.80" width="20.40" height="84.40" fill="none" stroke="#dfa93a" stroke-width="2.4"/>
<rect x="163.40" y="536.20" width="27.00" height="14.40" fill="none" stroke="#44cc22" stroke-width="2.8"/>
<rect x="54.80" y="552.70" width="70.20" height="45.60" fill="none" stroke="#44cc22" stroke-width="2.7"/>
<rect x="227.60" y="497.60" width="71.00" height="52.60" fill="none" stroke="#b4e6bc" stroke-width="2.3"/>
<rect x="227.60" y="552.60" width="71.00" height="45.60" fill="none" stroke="#44cc22" stroke-width="2.7"/>
<text x="1.0" y="363.5" font-size="19.5" text-anchor="start" fill="#000">(c)</text>
<text x="175.8" y="352.7" font-size="20.5" text-anchor="middle" textLength="30.5" lengthAdjust="spacingAndGlyphs"><tspan font-style="italic">x</tspan>0<tspan font-style="italic">z</tspan></text>
<text x="180.4" y="642.4" font-size="21" text-anchor="middle" textLength="59.5" lengthAdjust="spacingAndGlyphs"><tspan font-style="italic">x</tspan> / nm</text>
<text transform="translate(26,470.4) rotate(-90)" x="0" y="0" font-size="21" text-anchor="middle" textLength="58" lengthAdjust="spacingAndGlyphs"><tspan font-style="italic">z</tspan> / nm</text>
<polygon points="427.00,361.80 502.60,361.80 536.50,422.60 459.90,422.60" fill="none" stroke="#44cc22" stroke-width="2.8"/>
<polygon points="455.20,440.30 484.00,440.30 496.60,463.40 467.90,463.40" fill="none" stroke="#44cc22" stroke-width="2.6"/>
<polygon points="445.50,539.40 521.60,539.40 555.60,598.80 479.10,598.80" fill="none" stroke="#44cc22" stroke-width="2.8"/>
<line x1="424.50" y1="360.50" x2="557.30" y2="600.50" stroke="#000" stroke-width="1.7"/>
<rect x="373.90" y="360.50" width="45.60" height="22.40" fill="#000" stroke="none" stroke-width="0"/>
<text x="381.0" y="375.7" font-size="14.2" text-anchor="start" fill="#fff">Expt.</text>
<rect x="569.90" y="360.50" width="45.10" height="22.80" fill="#000" stroke="none" stroke-width="0"/>
<text x="576.0" y="376.4" font-size="14.2" text-anchor="start" fill="#fff">Calc.</text>
<rect x="373.90" y="360.50" width="241.10" height="240.00" fill="none" stroke="#000" stroke-width="1.6"/>
<line x1="373.90" y1="593.30" x2="377.90" y2="593.30" stroke="#000" stroke-width="1.2"/>
<line x1="615.00" y1="593.30" x2="611.00" y2="593.30" stroke="#000" stroke-width="1.2"/>
<text transform="translate(369.3,599.5999999999999) scale(0.9,1)" font-size="17.5" text-anchor="end" fill="#000">-10</text>
<line x1="373.90" y1="537.40" x2="377.90" y2="537.40" stroke="#000" stroke-width="1.2"/>
<line x1="615.00" y1="537.40" x2="611.00" y2="537.40" stroke="#000" stroke-width="1.2"/>
<text transform="translate(369.3,543.6999999999999) scale(0.9,1)" font-size="17.5" text-anchor="end" fill="#000">-5</text>
<line x1="373.90" y1="481.50" x2="377.90" y2="481.50" stroke="#000" stroke-width="1.2"/>
<line x1="615.00" y1="481.50" x2="611.00" y2="481.50" stroke="#000" stroke-width="1.2"/>
<text transform="translate(369.3,487.8) scale(0.9,1)" font-size="17.5" text-anchor="end" fill="#000">0</text>
<line x1="373.90" y1="425.60" x2="377.90" y2="425.60" stroke="#000" stroke-width="1.2"/>
<line x1="615.00" y1="425.60" x2="611.00" y2="425.60" stroke="#000" stroke-width="1.2"/>
<text transform="translate(369.3,431.90000000000003) scale(0.9,1)" font-size="17.5" text-anchor="end" fill="#000">5</text>
<line x1="373.90" y1="369.70" x2="377.90" y2="369.70" stroke="#000" stroke-width="1.2"/>
<line x1="615.00" y1="369.70" x2="611.00" y2="369.70" stroke="#000" stroke-width="1.2"/>
<text transform="translate(369.3,376.0) scale(0.9,1)" font-size="17.5" text-anchor="end" fill="#000">10</text>
<text transform="translate(382.8,620.2) scale(0.9,1)" font-size="17.5" text-anchor="middle" fill="#000">-15</text>
<text transform="translate(437.3,620.2) scale(0.9,1)" font-size="17.5" text-anchor="middle" fill="#000">-10</text>
<text transform="translate(497.0,620.2) scale(0.9,1)" font-size="17.5" text-anchor="middle" fill="#000">-5</text>
<text transform="translate(561.6,620.2) scale(0.9,1)" font-size="17.5" text-anchor="middle" fill="#000">0</text>
<text transform="translate(616.2,620.2) scale(0.9,1)" font-size="17.5" text-anchor="middle" fill="#000">5</text>
<line x1="438.40" y1="600.50" x2="436.16" y2="596.50" stroke="#000" stroke-width="1.2"/>
<line x1="496.20" y1="600.50" x2="493.96" y2="596.50" stroke="#000" stroke-width="1.2"/>
<line x1="480.00" y1="360.50" x2="482.24" y2="364.50" stroke="#000" stroke-width="1.2"/>
<line x1="538.50" y1="360.50" x2="540.74" y2="364.50" stroke="#000" stroke-width="1.2"/>
<text transform="translate(420.9,355.3) scale(0.9,1)" font-size="17.5" text-anchor="middle" fill="#000">0</text>
<text transform="translate(582.9,353.6) scale(0.9,1)" font-size="17.5" text-anchor="middle" fill="#000">15</text>
<text x="313.0" y="364.4" font-size="19.5" text-anchor="start" fill="#000">(d)</text>
<text x="495.6" y="351.3" font-size="20.5" text-anchor="middle" textLength="32" lengthAdjust="spacingAndGlyphs"><tspan font-style="italic">xy</tspan>0</text>
<text x="512.7" y="641.7" font-size="21" text-anchor="middle" textLength="58" lengthAdjust="spacingAndGlyphs"><tspan font-style="italic">x</tspan> / nm</text>
<text transform="translate(345,470) rotate(-90)" x="0" y="0" font-size="21" text-anchor="middle" textLength="59" lengthAdjust="spacingAndGlyphs"><tspan font-style="italic">y</tspan> / nm</text>
<defs><linearGradient id="rcb" x1="0" y1="0" x2="0" y2="1"><stop offset="0" stop-color="#ff2010"/><stop offset="0.15" stop-color="#f26a32"/><stop offset="0.33" stop-color="#f0b890"/><stop offset="0.5" stop-color="#ffffff"/><stop offset="0.67" stop-color="#b8b0ff"/><stop offset="0.85" stop-color="#7060ff"/><stop offset="1" stop-color="#1000ff"/></linearGradient></defs>
<rect x="631.60" y="360.80" width="11.00" height="239.80" fill="url(#rcb)" stroke="#000" stroke-width="1.3"/>
<text transform="translate(649.4,372.9) scale(0.9,1)" font-size="17.5" text-anchor="start" fill="#000">+ve</text>
<text transform="translate(648.1,599.7) scale(0.9,1)" font-size="17.5" text-anchor="start" fill="#000">-ve</text>
<text transform="translate(662.4,477.5) rotate(-90)" x="0" y="0" font-size="14" text-anchor="middle" textLength="97" lengthAdjust="spacingAndGlyphs">3D-ΔPDF / a.u.</text>
</svg>
</body></html>
